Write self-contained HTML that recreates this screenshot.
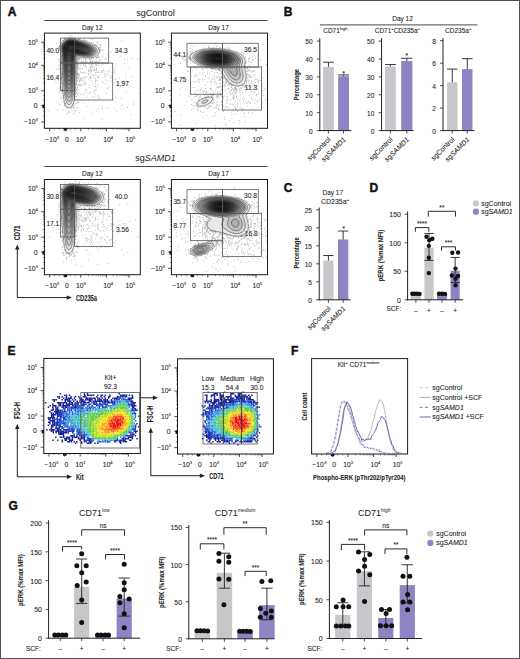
<!DOCTYPE html>
<html><head><meta charset="utf-8"><style>
html,body{margin:0;padding:0;background:#fff;}
svg{display:block;font-family:"Liberation Sans", sans-serif;}
text{stroke:#2a2a2a;stroke-width:0.08px;}
</style></head><body>
<svg width="520" height="659" viewBox="0 0 520 659">
<defs><clipPath id="c01"><rect x="44.4" y="33.1" width="95.9" height="95.20000000000002"/></clipPath><clipPath id="c02"><rect x="171.4" y="33.1" width="96.1" height="95.20000000000002"/></clipPath><clipPath id="c11"><rect x="44.4" y="179.5" width="95.9" height="95.20000000000005"/></clipPath><clipPath id="c12"><rect x="171.4" y="179.5" width="96.1" height="95.20000000000005"/></clipPath><clipPath id="ce1"><rect x="43.8" y="358.4" width="96.50000000000001" height="95.10000000000002"/></clipPath><clipPath id="ce2"><rect x="177.5" y="358.8" width="95.89999999999998" height="95.19999999999999"/></clipPath></defs>
<rect x="0" y="0" width="520" height="659" fill="#fff"/>
<text x="7.70" y="16.00" font-size="12" text-anchor="start" font-weight="bold" fill="#111" style="stroke:#111;stroke-width:0.45px">A</text>
<text x="155.60" y="16.30" font-size="9" text-anchor="middle" style="stroke:none" fill="#222" >sgControl</text>
<line x1="44.40" y1="20.50" x2="267.50" y2="20.50" stroke="#333" stroke-width="0.9" />
<text x="155.60" y="161.40" font-size="9" text-anchor="middle" style="stroke:none" fill="#222" >sg<tspan font-style="italic">SAMD1</tspan></text>
<line x1="44.40" y1="166.50" x2="267.50" y2="166.50" stroke="#333" stroke-width="0.9" />
<text x="92.30" y="29.60" font-size="6.5" text-anchor="middle" fill="#222" >Day 12</text>
<path d="M59.3,49.2h0.8M91.8,67.6h0.8M104.8,76.9h0.8M93.0,70.9h0.8M91.0,42.6h0.8M95.0,81.4h0.8M98.8,57.0h0.8M115.6,67.5h0.8M90.2,77.7h0.8M84.5,40.6h0.8M85.2,61.8h0.8M108.4,87.6h0.8M93.5,100.9h0.8M60.8,89.8h0.8M96.3,65.3h0.8M58.0,59.6h0.8M104.6,59.2h0.8M93.3,75.8h0.8M59.7,88.4h0.8M81.3,78.3h0.8M89.9,71.9h0.8M68.4,110.8h0.8M75.3,96.8h0.8M56.3,43.3h0.8M95.2,86.2h0.8M95.9,68.9h0.8M59.9,62.7h0.8M74.4,38.1h0.8M94.8,93.9h0.8M98.1,99.1h0.8M81.9,94.0h0.8M126.8,59.6h0.8M89.2,87.7h0.8M60.7,61.7h0.8M87.4,106.5h0.8M83.4,63.4h0.8M95.7,69.6h0.8M93.0,58.5h0.8M110.6,62.3h0.8M81.7,85.2h0.8M80.9,59.2h0.8M77.5,101.7h0.8M86.3,77.2h0.8M75.4,112.0h0.8M111.9,67.7h0.8M76.2,96.6h0.8M92.3,60.6h0.8M95.6,80.7h0.8M97.6,108.9h0.8M78.5,85.2h0.8M95.6,64.7h0.8M58.9,69.3h0.8M90.5,71.1h0.8M80.1,85.7h0.8M97.3,63.6h0.8M119.0,78.0h0.8M96.0,57.6h0.8M88.4,63.3h0.8M58.8,68.0h0.8M107.1,88.5h0.8M123.3,109.2h0.8M96.3,111.2h0.8M77.3,85.9h0.8M84.3,62.6h0.8M60.4,63.2h0.8M90.2,68.5h0.8M114.2,72.3h0.8M95.8,89.8h0.8M76.5,88.8h0.8M77.7,74.4h0.8M65.9,107.0h0.8M96.2,61.2h0.8M97.7,61.9h0.8M78.4,59.7h0.8M98.5,71.9h0.8M94.6,87.1h0.8M76.5,93.8h0.8M83.5,76.0h0.8M61.2,87.2h0.8M73.5,103.4h0.8M60.2,77.0h0.8M83.1,61.4h0.8M98.9,59.4h0.8M85.5,40.5h0.8M95.3,65.0h0.8M90.7,67.3h0.8M88.8,79.6h0.8M59.7,58.7h0.8M63.1,95.8h0.8M57.8,75.8h0.8M90.7,68.1h0.8M84.7,73.4h0.8M91.6,58.0h0.8M85.6,76.7h0.8M97.3,43.0h0.8M86.6,40.7h0.8M60.7,73.5h0.8M77.4,73.8h0.8M78.0,64.1h0.8M76.1,93.1h0.8M67.8,36.1h0.8M98.0,62.3h0.8M75.7,103.6h0.8M94.4,75.6h0.8M110.5,81.1h0.8M58.9,91.9h0.8M83.8,40.6h0.8M97.5,58.3h0.8M101.0,71.3h0.8M77.0,90.9h0.8M90.4,73.2h0.8M58.0,80.5h0.8M64.3,39.6h0.8M73.8,114.2h0.8M77.8,74.0h0.8M115.3,97.4h0.8M99.6,46.9h0.8M81.8,68.5h0.8M60.3,71.9h0.8M102.1,57.1h0.8M65.8,114.2h0.8M70.1,108.0h0.8M90.3,61.3h0.8M76.9,80.6h0.8M79.8,38.7h0.8M73.6,107.2h0.8M80.2,86.0h0.8M59.9,83.9h0.8M82.8,72.3h0.8M60.4,56.5h0.8M97.5,57.1h0.8M83.8,58.8h0.8M97.2,84.9h0.8M85.0,77.9h0.8M104.5,76.7h0.8M59.9,105.0h0.8M59.3,86.7h0.8M94.5,77.8h0.8M83.5,64.8h0.8M105.5,84.1h0.8M91.3,80.6h0.8M115.6,64.0h0.8M71.3,35.9h0.8M110.7,52.1h0.8M126.0,91.7h0.8M93.0,91.9h0.8M137.9,93.1h0.8M92.0,97.2h0.8M91.6,70.4h0.8M79.4,80.5h0.8M76.8,83.3h0.8M97.7,77.6h0.8M102.2,62.8h0.8M81.2,78.3h0.8M96.0,70.3h0.8M89.5,67.9h0.8M62.4,40.4h0.8M75.5,110.1h0.8M61.4,100.9h0.8M64.0,105.6h0.8M90.2,92.4h0.8M100.5,49.9h0.8M76.3,92.3h0.8M85.4,82.6h0.8M128.8,68.4h0.8M86.5,62.4h0.8M98.6,56.4h0.8M58.0,65.3h0.8M77.9,38.6h0.8M58.2,75.2h0.8M77.6,102.8h0.8M96.8,57.5h0.8M77.4,76.7h0.8M60.2,79.4h0.8M136.9,59.2h0.8M89.9,70.7h0.8M89.0,93.2h0.8M95.1,89.6h0.8M95.1,78.8h0.8M94.5,81.1h0.8M99.0,49.1h0.8M119.9,86.4h0.8M100.0,45.5h0.8M70.0,37.3h0.8M97.6,96.1h0.8M78.5,39.0h0.8M89.7,75.8h0.8M59.2,46.3h0.8M79.4,39.4h0.8M117.7,89.8h0.8M57.0,109.4h0.8M69.7,112.4h0.8M71.9,37.4h0.8M90.2,62.1h0.8M113.4,69.4h0.8M84.1,83.7h0.8M85.4,89.9h0.8M89.5,85.4h0.8M75.3,94.4h0.8M77.0,107.4h0.8M106.2,58.9h0.8M76.2,83.9h0.8M55.7,69.5h0.8M82.3,72.5h0.8M92.5,69.3h0.8M60.9,83.5h0.8M77.3,87.7h0.8M96.1,68.1h0.8M61.8,88.8h0.8M99.6,98.2h0.8M80.3,94.3h0.8M81.2,63.8h0.8M73.6,105.4h0.8M79.8,77.8h0.8M58.2,47.5h0.8M98.1,65.4h0.8M57.3,69.1h0.8M88.8,69.9h0.8M73.2,104.1h0.8M97.4,57.8h0.8M64.5,104.2h0.8M83.2,118.0h0.8M59.6,65.2h0.8M108.1,107.6h0.8M79.1,85.2h0.8M94.6,44.8h0.8M101.6,81.1h0.8M64.6,103.6h0.8M64.1,38.0h0.8M58.0,60.2h0.8M60.3,45.3h0.8M96.3,45.4h0.8M76.4,108.0h0.8M75.3,91.9h0.8M120.9,56.2h0.8M78.6,80.0h0.8M73.6,108.1h0.8M85.4,65.9h0.8M104.4,74.1h0.8M61.0,91.5h0.8M105.5,108.6h0.8M48.6,110.9h0.8M82.5,59.2h0.8M91.6,66.3h0.8M90.5,77.5h0.8M79.4,58.1h0.8M92.0,82.9h0.8M100.8,65.2h0.8M92.2,63.7h0.8M58.9,104.3h0.8M91.1,58.1h0.8M79.4,68.4h0.8M131.4,58.3h0.8M88.9,64.6h0.8M116.4,85.1h0.8M59.4,62.5h0.8M95.6,62.4h0.8M60.1,48.5h0.8M73.0,113.1h0.8M68.4,112.3h0.8M102.0,108.7h0.8M79.4,58.5h0.8M89.8,78.1h0.8M77.6,102.4h0.8M85.0,64.1h0.8M60.3,87.9h0.8M60.2,80.1h0.8M91.5,57.9h0.8M84.2,81.2h0.8M122.0,105.2h0.8M59.9,86.4h0.8M88.3,100.3h0.8M79.8,84.7h0.8M73.8,110.4h0.8M85.3,59.8h0.8M93.4,66.8h0.8M77.1,74.0h0.8M125.8,75.2h0.8M58.1,47.4h0.8M99.8,50.2h0.8M94.4,70.1h0.8M86.2,90.4h0.8M93.9,70.0h0.8M77.0,94.6h0.8M77.8,67.1h0.8M77.3,78.5h0.8M66.3,109.0h0.8M133.5,101.8h0.8M96.1,65.0h0.8M93.4,63.8h0.8M133.1,104.3h0.8M99.4,50.1h0.8M130.5,114.7h0.8M96.5,61.6h0.8M64.9,38.0h0.8M89.1,58.1h0.8M96.0,45.7h0.8M91.9,39.5h0.8M95.3,72.4h0.8M98.0,76.8h0.8M107.5,73.3h0.8M90.9,70.6h0.8M99.6,44.5h0.8M60.8,97.6h0.8M112.6,65.9h0.8M99.7,44.8h0.8M129.8,86.7h0.8M83.3,81.2h0.8M89.8,61.8h0.8M80.4,65.6h0.8M97.0,57.7h0.8M84.5,72.2h0.8M82.2,67.9h0.8M101.1,72.4h0.8M90.3,59.6h0.8M90.8,113.8h0.8M104.1,74.8h0.8M99.3,62.1h0.8M121.0,40.9h0.8M125.6,78.6h0.8M76.2,89.9h0.8M81.4,84.0h0.8M74.7,38.1h0.8M115.7,79.0h0.8M93.3,85.7h0.8M106.8,54.3h0.8M99.8,49.2h0.8M79.4,76.6h0.8M101.8,70.8h0.8M61.0,78.3h0.8M67.3,113.3h0.8M59.7,68.3h0.8M86.7,61.0h0.8M60.1,71.1h0.8M80.9,61.6h0.8M88.4,69.1h0.8M77.4,73.2h0.8M49.7,77.5h0.8M60.7,60.6h0.8M102.7,64.2h0.8M60.6,77.0h0.8M112.4,78.9h0.8M54.8,81.5h0.8M97.9,42.0h0.8M78.2,58.3h0.8M94.4,96.2h0.8M76.9,77.7h0.8M98.0,72.4h0.8M63.0,102.5h0.8M102.6,50.3h0.8M101.5,119.1h0.8M114.9,79.9h0.8M103.2,70.3h0.8M93.4,42.1h0.8M91.2,64.8h0.8M83.5,79.0h0.8M81.1,80.4h0.8M94.2,91.4h0.8M77.8,74.6h0.8M72.9,108.3h0.8M78.0,79.1h0.8M85.4,59.0h0.8M67.1,107.7h0.8M91.0,62.8h0.8M106.5,75.1h0.8M62.0,85.0h0.8M100.0,47.4h0.8M97.7,95.8h0.8M80.9,73.0h0.8M84.9,92.3h0.8M55.1,48.9h0.8M121.9,81.6h0.8M77.8,99.3h0.8M95.9,42.8h0.8M76.7,78.6h0.8M86.3,97.5h0.8M71.4,106.9h0.8M58.9,46.6h0.8M75.5,99.7h0.8M71.6,107.3h0.8M77.5,61.4h0.8M57.5,82.9h0.8M75.0,33.4h0.8M80.4,79.9h0.8M60.2,44.6h0.8M76.0,99.9h0.8M90.6,61.1h0.8M95.5,59.4h0.8M78.5,81.7h0.8M77.9,64.3h0.8M63.3,96.3h0.8M79.6,68.9h0.8M103.5,70.3h0.8M61.9,83.0h0.8M104.9,71.9h0.8M62.4,40.1h0.8M78.0,84.6h0.8M97.5,77.3h0.8M78.6,93.2h0.8M89.1,59.4h0.8M88.1,74.4h0.8M78.0,58.5h0.8M60.1,46.8h0.8M95.3,74.5h0.8M77.3,73.3h0.8M62.4,91.2h0.8M111.4,76.8h0.8M87.7,58.2h0.8M78.4,59.0h0.8M79.8,79.4h0.8M78.3,65.4h0.8M60.0,49.0h0.8M100.0,51.1h0.8M97.3,45.1h0.8M99.5,48.0h0.8M78.5,68.9h0.8M99.5,60.2h0.8M85.5,84.4h0.8M89.6,61.1h0.8M88.1,70.7h0.8M106.1,93.1h0.8M127.0,107.5h0.8M79.1,60.5h0.8M113.5,108.5h0.8M59.3,45.5h0.8M98.5,47.7h0.8M96.4,72.0h0.8M91.5,74.9h0.8M85.1,60.4h0.8M102.0,50.0h0.8M84.3,84.2h0.8M88.2,71.6h0.8M105.1,79.9h0.8M102.7,82.4h0.8M78.9,38.5h0.8M92.0,61.3h0.8M78.4,95.8h0.8M81.0,61.1h0.8M96.9,80.2h0.8M95.2,62.1h0.8M70.9,108.8h0.8M69.9,34.8h0.8M102.5,53.0h0.8M83.4,66.0h0.8M97.2,57.4h0.8M79.0,112.6h0.8M80.2,72.0h0.8M83.4,95.1h0.8M77.7,59.0h0.8M78.7,75.3h0.8M107.6,71.6h0.8M60.7,55.8h0.8M109.9,77.8h0.8M79.1,74.3h0.8M74.7,103.9h0.8M94.9,83.5h0.8M60.3,98.4h0.8M83.5,39.4h0.8M81.3,63.0h0.8M90.9,65.6h0.8M116.0,110.9h0.8M107.3,80.8h0.8M108.9,70.4h0.8M59.5,48.0h0.8M97.2,75.7h0.8M101.8,72.2h0.8M59.5,89.1h0.8M94.0,67.3h0.8M58.5,42.1h0.8M74.0,101.4h0.8M73.4,106.2h0.8M90.9,77.9h0.8M131.4,76.8h0.8M94.6,61.9h0.8M93.6,61.3h0.8M123.1,80.7h0.8M81.5,80.2h0.8M89.9,77.3h0.8M85.7,66.7h0.8M110.1,75.7h0.8M64.6,103.6h0.8M62.7,98.2h0.8M94.8,44.8h0.8M96.1,57.3h0.8M83.1,65.3h0.8M87.5,93.0h0.8M72.4,105.9h0.8M82.7,77.6h0.8M120.6,98.5h0.8M60.6,93.3h0.8M114.3,70.9h0.8M79.9,58.2h0.8M102.6,55.9h0.8M59.6,42.6h0.8M82.6,62.0h0.8M77.8,89.5h0.8M124.0,63.8h0.8M77.9,38.0h0.8M62.7,109.7h0.8M77.1,87.6h0.8M96.7,86.4h0.8M77.9,76.0h0.8M90.2,66.3h0.8M79.7,67.0h0.8M114.3,82.4h0.8M92.4,65.0h0.8M78.4,77.6h0.8M82.3,100.9h0.8M59.8,72.8h0.8M102.2,106.1h0.8M85.0,66.0h0.8M79.4,82.0h0.8M63.8,105.9h0.8M61.6,89.6h0.8M96.8,72.4h0.8M111.7,72.4h0.8M87.6,73.1h0.8M98.0,56.1h0.8M100.4,60.3h0.8M123.9,58.9h0.8" stroke="#a0a0a0" stroke-width="0.8" fill="none" clip-path="url(#c01)"/>
<g clip-path="url(#c01)" fill="#000" fill-opacity="0.075" stroke="#2a2a2a" stroke-width="0.5" stroke-linejoin="round"><path d="M70.6,49.6 69.9,49.6 69.6,49.5 69.2,49.3 68.9,48.9 68.6,48.3 68.5,47.9 68.5,47.3 68.6,46.9 68.9,46.5 69.2,46.1 69.6,45.8 70.1,45.6 70.6,45.5 71.2,45.4 71.9,45.5 72.5,45.6 72.9,45.8 73.6,46.2 73.9,46.5 74.2,46.9 74.1,47.6 73.9,47.9 73.5,48.3 73.1,48.6 72.6,48.9 72.2,49.1 71.8,49.3 71.2,49.5 70.7,49.6"/><path d="M70.9,50.7 70.2,50.9 69.6,50.9 68.9,50.6 68.6,50.3 68.2,50.0 68.0,49.6 67.8,49.3 67.6,48.6 67.6,48.2 67.6,47.6 67.6,47.3 67.8,46.6 68.0,46.3 68.2,45.9 68.6,45.5 68.9,45.3 69.5,44.9 69.9,44.8 70.6,44.7 71.2,44.6 71.9,44.7 72.6,44.8 73.2,44.9 73.6,45.1 74.0,45.3 74.6,45.5 74.9,45.8 75.2,46.0 75.9,46.6 76.1,46.9 76.2,47.6 75.9,48.1 75.6,48.4 75.2,48.6 74.7,48.9 74.2,49.1 73.9,49.3 73.3,49.6 72.9,49.8 72.6,49.9 71.9,50.3 71.6,50.4 71.1,50.6"/><path d="M70.2,52.0 69.6,52.1 68.9,51.9 68.4,51.6 68.1,51.3 67.9,50.9 67.6,50.5 67.3,49.9 67.2,49.6 67.0,48.9 66.9,48.3 66.9,47.9 66.9,47.5 67.0,46.9 67.2,46.3 67.4,45.9 67.6,45.6 67.9,45.3 68.3,44.9 68.8,44.6 69.2,44.4 69.7,44.3 70.2,44.1 70.9,44.1 71.6,44.1 72.2,44.1 72.9,44.3 73.2,44.3 73.9,44.5 74.2,44.7 74.9,44.9 75.2,45.1 75.6,45.3 76.1,45.6 76.6,45.9 76.9,46.1 77.2,46.4 77.6,46.7 77.9,47.1 78.2,47.6 78.2,47.9 78.1,48.3 77.8,48.6 77.2,48.9 76.9,49.1 76.3,49.3 75.9,49.4 75.3,49.6 74.9,49.7 74.4,49.9 73.9,50.1 73.6,50.3 72.9,50.6 72.6,50.8 72.2,50.9 71.6,51.3 71.2,51.5 70.9,51.7 70.3,51.9"/><path d="M69.9,53.4 69.2,53.6 68.6,53.3 68.2,52.9 68.0,52.6 67.8,52.3 67.6,51.9 67.2,51.3 67.0,50.9 66.9,50.6 66.7,49.9 66.6,49.6 66.4,48.9 66.3,48.3 66.4,47.6 66.4,46.9 66.6,46.5 66.8,45.9 67.0,45.6 67.2,45.3 67.6,44.9 67.9,44.6 68.4,44.3 68.9,44.0 69.2,43.9 69.9,43.7 70.6,43.6 70.9,43.6 71.5,43.6 71.9,43.6 72.6,43.7 73.2,43.8 73.6,43.9 74.2,44.1 74.6,44.3 75.2,44.5 75.6,44.6 76.2,44.9 76.6,45.1 76.9,45.3 77.4,45.6 77.9,45.9 78.2,46.1 78.6,46.3 78.9,46.6 79.3,46.9 79.7,47.3 80.0,47.6 80.2,48.0 80.3,48.6 80.1,48.9 79.7,49.3 79.2,49.4 78.7,49.6 78.2,49.7 77.6,49.8 76.9,49.9 76.2,50.1 75.6,50.2 75.2,50.3 74.6,50.5 74.2,50.6 73.6,50.9 73.2,51.1 72.9,51.3 72.4,51.6 71.9,51.9 71.6,52.2 71.2,52.4 70.9,52.7 70.6,53.0 70.1,53.3"/><path d="M69.6,55.7 68.9,55.9 68.5,55.6 68.2,55.2 68.0,54.6 67.8,54.3 67.6,53.7 67.4,53.3 67.2,52.9 67.0,52.3 66.9,51.9 66.6,51.3 66.5,50.9 66.3,50.3 66.2,49.9 66.0,49.3 65.9,48.6 65.9,48.0 65.9,47.9 65.9,47.3 66.1,46.6 66.2,46.2 66.5,45.6 66.7,45.3 67.0,44.9 67.3,44.6 67.7,44.3 68.2,43.9 68.6,43.7 68.9,43.6 69.6,43.4 70.2,43.3 70.9,43.2 71.6,43.2 72.1,43.3 72.6,43.3 73.2,43.5 73.9,43.6 74.2,43.7 74.9,43.9 75.2,44.0 75.8,44.3 76.2,44.4 76.6,44.6 77.2,44.9 77.6,45.1 77.9,45.3 78.5,45.6 78.9,45.8 79.2,46.0 79.7,46.3 80.2,46.6 80.6,46.9 80.9,47.1 81.2,47.4 81.6,47.7 81.9,48.1 82.2,48.6 82.1,49.3 81.8,49.6 81.2,49.9 80.9,50.0 80.2,50.2 79.6,50.3 79.2,50.3 78.6,50.4 77.9,50.4 77.2,50.5 76.6,50.6 76.2,50.6 75.6,50.8 74.9,50.9 74.6,51.1 74.1,51.3 73.6,51.5 73.2,51.7 72.9,51.9 72.4,52.3 72.0,52.6 71.7,52.9 71.4,53.3 71.1,53.6 70.8,53.9 70.6,54.3 70.2,54.8 69.9,55.3 69.6,55.6"/><path d="M68.9,58.3 68.6,58.1 68.2,57.8 67.9,57.3 67.8,56.9 67.6,56.4 67.4,55.9 67.3,55.3 67.2,54.9 67.0,54.3 66.9,53.8 66.8,53.3 66.6,52.6 66.4,52.3 66.2,51.6 66.1,51.3 65.9,50.6 65.8,50.3 65.7,49.6 65.6,48.9 65.5,48.6 65.5,47.9 65.6,47.3 65.6,46.9 65.8,46.3 65.9,45.9 66.2,45.3 66.5,44.9 66.8,44.6 67.1,44.3 67.5,43.9 67.9,43.7 68.2,43.5 68.8,43.3 69.2,43.1 69.9,43.0 70.2,42.9 70.9,42.9 71.6,42.9 72.1,42.9 72.6,43.0 73.2,43.1 73.9,43.3 74.2,43.4 74.9,43.6 75.2,43.7 75.9,43.9 76.2,44.0 76.8,44.3 77.2,44.5 77.6,44.6 78.2,44.9 78.6,45.1 78.9,45.3 79.5,45.6 79.9,45.8 80.2,46.0 80.7,46.3 81.2,46.6 81.6,46.8 81.9,47.0 82.3,47.3 82.7,47.6 83.1,47.9 83.4,48.3 83.6,48.6 83.8,49.3 83.6,49.8 83.2,50.1 82.9,50.3 82.2,50.5 81.9,50.6 81.2,50.7 80.6,50.8 79.9,50.9 79.2,50.9 78.6,50.9 77.9,50.9 77.2,51.0 76.6,51.1 75.9,51.2 75.4,51.3 74.9,51.4 74.4,51.6 73.9,51.9 73.6,52.0 73.2,52.3 72.8,52.6 72.4,52.9 72.1,53.3 71.9,53.6 71.6,54.1 71.3,54.6 71.1,54.9 70.9,55.5 70.7,55.9 70.6,56.4 70.3,56.9 70.2,57.3 69.9,57.7 69.6,58.1 69.0,58.3"/><path d="M69.6,60.0 68.9,60.1 68.4,59.9 68.1,59.6 67.8,59.3 67.6,58.9 67.3,58.3 67.2,57.9 67.0,57.3 66.9,56.9 66.8,56.3 66.7,55.6 66.6,55.0 66.5,54.6 66.4,53.9 66.2,53.4 66.1,52.9 66.0,52.3 65.9,51.9 65.7,51.3 65.6,50.8 65.4,50.3 65.3,49.6 65.2,49.2 65.2,48.6 65.1,47.9 65.2,47.3 65.2,46.9 65.4,46.3 65.6,45.8 65.8,45.3 66.0,44.9 66.3,44.6 66.6,44.3 66.9,43.9 67.4,43.6 67.9,43.3 68.6,43.0 68.9,42.9 69.6,42.7 70.2,42.6 70.6,42.6 71.2,42.6 71.9,42.6 72.2,42.6 72.9,42.7 73.6,42.8 73.9,42.9 74.6,43.1 75.1,43.3 75.6,43.4 76.1,43.6 76.6,43.8 77.0,43.9 77.6,44.2 77.9,44.3 78.5,44.6 78.9,44.8 79.2,44.9 79.9,45.3 80.2,45.4 80.6,45.6 81.2,45.9 81.6,46.1 81.9,46.3 82.4,46.6 82.9,46.9 83.2,47.1 83.6,47.3 84.0,47.6 84.4,47.9 84.7,48.3 85.0,48.6 85.2,49.1 85.3,49.6 85.2,50.0 84.9,50.4 84.6,50.6 83.9,50.9 83.6,51.0 82.9,51.2 82.4,51.3 81.9,51.3 81.2,51.4 80.6,51.4 79.9,51.4 79.2,51.4 78.6,51.4 77.9,51.4 77.2,51.5 76.6,51.5 76.0,51.6 75.6,51.7 74.9,51.9 74.6,52.0 74.1,52.3 73.6,52.6 73.2,52.9 72.9,53.2 72.6,53.6 72.3,53.9 72.1,54.3 71.9,54.8 71.7,55.3 71.6,55.6 71.4,56.3 71.2,56.8 71.1,57.3 70.9,57.8 70.7,58.3 70.6,58.6 70.2,59.2 70.0,59.6 69.6,59.9"/><path d="M69.6,62.0 68.9,62.2 68.4,61.9 68.0,61.6 67.8,61.3 67.6,60.9 67.2,60.3 67.1,59.9 66.9,59.5 66.7,58.9 66.6,58.4 66.5,57.9 66.3,57.3 66.2,56.7 66.2,56.3 66.1,55.6 66.0,54.9 65.9,54.4 65.8,53.9 65.7,53.3 65.6,52.6 65.5,52.3 65.3,51.6 65.2,51.2 65.1,50.6 65.0,49.9 64.9,49.6 64.8,48.9 64.8,48.3 64.8,47.6 64.9,46.9 64.9,46.6 65.1,45.9 65.2,45.6 65.6,45.0 65.8,44.6 66.1,44.3 66.4,43.9 66.7,43.6 67.2,43.3 67.6,43.0 67.9,42.9 68.5,42.6 68.9,42.5 69.6,42.3 70.1,42.3 70.6,42.2 71.2,42.2 71.9,42.3 72.2,42.3 72.9,42.4 73.6,42.5 74.0,42.6 74.6,42.7 75.2,42.9 75.6,43.0 76.2,43.3 76.6,43.4 77.1,43.6 77.6,43.8 78.0,43.9 78.6,44.2 78.9,44.3 79.5,44.6 79.9,44.8 80.3,44.9 80.9,45.2 81.2,45.4 81.7,45.6 82.2,45.9 82.6,46.0 83.0,46.3 83.6,46.6 83.9,46.7 84.2,46.9 84.8,47.3 85.2,47.6 85.7,47.9 86.0,48.3 86.3,48.6 86.6,49.0 86.8,49.6 86.7,50.3 86.5,50.6 86.2,50.9 85.6,51.3 85.2,51.4 84.6,51.6 84.2,51.7 83.6,51.8 82.9,51.9 82.2,51.9 81.8,51.9 81.2,51.9 80.6,51.9 80.2,51.9 79.6,51.9 78.9,51.9 78.2,51.9 77.6,51.9 77.0,51.9 76.6,52.0 75.9,52.1 75.3,52.3 74.9,52.4 74.5,52.6 74.0,52.9 73.6,53.3 73.2,53.6 73.0,53.9 72.8,54.3 72.6,54.7 72.3,55.3 72.2,55.6 72.0,56.3 71.9,56.7 71.8,57.3 71.6,57.9 71.5,58.3 71.3,58.9 71.2,59.3 70.9,59.9 70.8,60.3 70.6,60.7 70.2,61.3 70.0,61.6 69.6,61.9"/><path d="M69.2,66.0 68.7,65.9 68.5,65.6 68.2,65.1 68.1,64.6 67.9,64.2 67.7,63.6 67.5,63.3 67.3,62.6 67.2,62.3 66.9,61.6 66.8,61.3 66.6,60.6 66.5,60.3 66.3,59.6 66.2,59.3 66.0,58.6 65.9,57.9 65.8,57.6 65.8,56.9 65.7,56.3 65.6,55.6 65.6,55.3 65.5,54.6 65.4,53.9 65.3,53.3 65.2,52.9 65.1,52.3 64.9,51.6 64.9,51.3 64.7,50.6 64.6,49.9 64.5,49.6 64.5,48.9 64.4,48.3 64.4,47.6 64.5,46.9 64.6,46.6 64.7,45.9 64.9,45.5 65.2,44.9 65.4,44.6 65.6,44.3 65.9,43.9 66.2,43.6 66.6,43.3 67.1,42.9 67.6,42.7 67.9,42.5 68.5,42.3 68.9,42.2 69.6,42.0 70.2,41.9 70.6,41.9 71.2,41.9 71.6,41.9 72.2,42.0 72.9,42.1 73.6,42.2 74.2,42.3 74.9,42.5 75.2,42.6 75.9,42.8 76.3,42.9 76.9,43.1 77.2,43.3 77.9,43.5 78.2,43.7 78.9,43.9 79.2,44.1 79.7,44.3 80.2,44.5 80.6,44.6 81.2,44.9 81.6,45.1 82.0,45.3 82.6,45.5 82.9,45.7 83.5,45.9 83.9,46.2 84.2,46.3 84.8,46.6 85.2,46.9 85.6,47.1 85.9,47.3 86.4,47.6 86.8,47.9 87.2,48.3 87.5,48.6 87.7,48.9 87.9,49.3 88.1,49.9 88.0,50.6 87.8,50.9 87.5,51.3 86.9,51.6 86.6,51.8 86.1,51.9 85.6,52.1 84.9,52.2 84.6,52.3 83.9,52.4 83.2,52.4 82.6,52.4 81.9,52.4 81.2,52.4 80.6,52.4 79.9,52.4 79.2,52.3 78.6,52.3 77.9,52.3 77.2,52.3 76.6,52.4 75.9,52.5 75.6,52.6 74.9,52.9 74.6,53.1 74.2,53.3 73.9,53.6 73.6,54.0 73.2,54.5 73.0,54.9 72.9,55.3 72.6,55.9 72.5,56.3 72.4,56.9 72.2,57.6 72.2,57.9 72.0,58.6 71.9,59.0 71.7,59.6 71.6,60.2 71.4,60.6 71.2,61.2 71.1,61.6 70.9,62.1 70.7,62.6 70.6,63.0 70.3,63.6 70.2,63.9 69.9,64.6 69.8,64.9 69.6,65.5 69.3,65.9"/><path d="M69.2,72.3 68.8,72.3 68.5,71.9 68.2,71.4 68.1,70.9 67.9,70.3 67.8,69.9 67.7,69.3 67.6,68.6 67.5,68.3 67.5,67.6 67.4,66.9 67.3,66.3 67.2,65.8 67.2,65.3 67.1,64.6 66.9,63.9 66.9,63.6 66.7,62.9 66.6,62.4 66.4,61.9 66.3,61.3 66.2,60.9 66.0,60.3 65.9,59.8 65.8,59.3 65.6,58.6 65.6,58.2 65.5,57.6 65.4,56.9 65.3,56.3 65.3,55.6 65.2,55.3 65.2,54.6 65.1,53.9 65.0,53.3 64.9,52.9 64.8,52.3 64.6,51.6 64.6,51.2 64.4,50.6 64.3,49.9 64.2,49.3 64.2,48.9 64.2,48.3 64.2,47.6 64.2,47.0 64.3,46.6 64.5,45.9 64.6,45.6 64.9,44.9 65.1,44.6 65.3,44.3 65.6,43.9 65.9,43.6 66.2,43.2 66.6,42.9 67.1,42.6 67.6,42.4 67.9,42.2 68.6,42.0 68.9,41.9 69.6,41.8 70.2,41.7 70.9,41.7 71.6,41.7 72.2,41.8 72.9,41.8 73.4,41.9 73.9,42.0 74.6,42.2 74.9,42.3 75.6,42.5 76.0,42.6 76.6,42.8 77.0,42.9 77.6,43.1 77.9,43.3 78.6,43.5 78.9,43.6 79.6,43.9 79.9,44.0 80.4,44.3 80.9,44.5 81.2,44.6 81.9,44.9 82.2,45.0 82.8,45.3 83.2,45.5 83.6,45.6 84.2,45.9 84.6,46.1 84.9,46.3 85.6,46.6 85.9,46.8 86.2,47.0 86.7,47.3 87.2,47.6 87.6,47.9 87.9,48.2 88.2,48.5 88.6,48.9 88.8,49.3 88.9,49.6 89.0,50.3 88.9,50.7 88.6,51.3 88.2,51.6 87.9,51.8 87.6,52.0 86.9,52.3 86.6,52.4 85.9,52.5 85.4,52.6 84.9,52.7 84.2,52.7 83.6,52.8 82.9,52.8 82.2,52.8 81.6,52.8 80.9,52.7 80.2,52.7 79.6,52.7 78.9,52.6 78.2,52.6 77.6,52.6 76.9,52.7 76.2,52.8 75.6,52.9 75.2,53.1 74.9,53.3 74.4,53.6 74.1,53.9 73.8,54.3 73.6,54.6 73.2,55.3 73.1,55.6 72.9,56.3 72.8,56.6 72.7,57.3 72.6,57.8 72.5,58.3 72.3,58.9 72.2,59.3 72.1,59.9 71.9,60.6 71.8,60.9 71.7,61.6 71.5,62.3 71.3,62.9 71.2,63.3 71.1,63.9 70.9,64.6 70.9,64.9 70.8,65.6 70.7,66.3 70.6,66.9 70.6,67.4 70.5,67.9 70.4,68.6 70.3,69.3 70.2,69.7 70.1,70.3 69.9,70.9 69.8,71.3 69.6,71.9 69.3,72.3"/><path d="M69.2,76.8 68.6,76.6 68.4,76.3 68.2,75.9 67.9,75.3 67.8,74.9 67.6,74.3 67.6,73.9 67.4,73.3 67.3,72.6 67.2,72.3 67.1,71.6 67.0,70.9 66.9,70.3 66.9,69.9 66.8,69.3 66.7,68.6 66.7,67.9 66.6,67.3 66.6,66.7 66.5,66.3 66.5,65.6 66.4,64.9 66.3,64.3 66.2,63.6 66.2,63.3 66.1,62.6 65.9,61.9 65.8,61.6 65.7,60.9 65.6,60.3 65.4,59.6 65.3,58.9 65.2,58.4 65.2,57.9 65.1,57.3 65.0,56.6 65.0,55.9 64.9,55.3 64.9,54.9 64.8,54.3 64.7,53.6 64.6,52.9 64.5,52.6 64.4,51.9 64.3,51.3 64.2,50.9 64.1,50.3 64.0,49.6 63.9,48.9 63.9,48.4 63.9,47.9 63.9,47.6 64.0,46.9 64.1,46.3 64.2,45.8 64.4,45.3 64.6,44.9 64.9,44.4 65.2,43.9 65.5,43.6 65.8,43.3 66.2,42.9 66.6,42.7 66.9,42.4 67.2,42.3 67.9,42.0 68.2,41.8 68.9,41.7 69.2,41.6 69.9,41.5 70.6,41.5 71.2,41.5 71.9,41.5 72.6,41.6 72.9,41.6 73.6,41.7 74.2,41.9 74.6,41.9 75.2,42.1 75.7,42.3 76.2,42.4 76.8,42.6 77.2,42.7 77.8,42.9 78.2,43.1 78.7,43.3 79.2,43.5 79.6,43.6 80.2,43.9 80.6,44.0 81.2,44.3 81.6,44.4 82.0,44.6 82.6,44.8 82.9,45.0 83.6,45.2 83.9,45.4 84.4,45.6 84.9,45.8 85.2,46.0 85.8,46.3 86.2,46.5 86.6,46.7 87.0,46.9 87.5,47.3 87.9,47.5 88.2,47.8 88.6,48.1 88.9,48.4 89.2,48.7 89.6,49.2 89.7,49.6 89.9,50.3 89.8,50.9 89.6,51.3 89.2,51.7 88.9,52.0 88.4,52.3 87.9,52.5 87.6,52.6 86.9,52.8 86.2,52.9 85.9,53.0 85.2,53.1 84.6,53.1 83.9,53.1 83.2,53.1 82.6,53.1 81.9,53.1 81.2,53.1 80.6,53.0 79.9,53.0 79.2,53.0 78.6,52.9 78.2,52.9 77.8,52.9 77.2,53.0 76.6,53.0 75.9,53.2 75.6,53.3 75.0,53.6 74.6,53.9 74.2,54.3 74.0,54.6 73.8,54.9 73.6,55.4 73.4,55.9 73.2,56.4 73.1,56.9 73.0,57.6 72.9,58.0 72.8,58.6 72.7,59.3 72.6,59.7 72.4,60.3 72.3,60.9 72.2,61.3 72.1,61.9 71.9,62.6 71.9,62.9 71.8,63.6 71.7,64.3 71.6,64.9 71.6,65.3 71.5,65.9 71.4,66.6 71.4,67.3 71.3,67.9 71.3,68.6 71.2,69.1 71.2,69.6 71.1,70.3 71.0,70.9 70.9,71.6 70.8,71.9 70.7,72.6 70.6,73.3 70.5,73.6 70.4,74.3 70.2,74.7 70.1,75.3 69.9,75.7 69.6,76.3 69.4,76.6"/><path d="M69.2,80.9 68.8,80.9 68.5,80.6 68.1,79.9 67.9,79.5 67.7,78.9 67.6,78.4 67.5,77.9 67.3,77.3 67.2,76.9 67.1,76.3 67.0,75.6 66.9,75.3 66.8,74.6 66.7,73.9 66.6,73.3 66.5,72.9 66.4,72.3 66.3,71.6 66.3,70.9 66.2,70.6 66.2,69.9 66.1,69.3 66.1,68.6 66.0,67.9 66.0,67.3 65.9,66.6 65.9,66.1 65.9,65.6 65.8,64.9 65.8,64.3 65.7,63.6 65.6,62.9 65.5,62.6 65.4,61.9 65.3,61.3 65.2,60.7 65.2,60.3 65.0,59.6 64.9,58.9 64.9,58.6 64.8,57.9 64.7,57.3 64.7,56.6 64.6,55.9 64.6,55.3 64.5,54.9 64.5,54.3 64.4,53.6 64.3,52.9 64.2,52.6 64.1,51.9 64.0,51.3 63.9,50.7 63.8,50.3 63.7,49.6 63.7,48.9 63.6,48.3 63.6,47.6 63.7,46.9 63.8,46.3 63.9,45.9 64.1,45.3 64.3,44.9 64.6,44.4 64.9,43.9 65.1,43.6 65.4,43.3 65.8,42.9 66.2,42.6 66.6,42.3 66.9,42.1 67.3,41.9 67.9,41.7 68.2,41.6 68.9,41.4 69.6,41.3 69.9,41.2 70.6,41.2 71.2,41.2 71.9,41.3 72.2,41.3 72.9,41.4 73.6,41.5 74.1,41.6 74.6,41.7 75.2,41.9 75.6,42.0 76.2,42.1 76.6,42.3 77.2,42.5 77.6,42.6 78.2,42.8 78.6,42.9 79.2,43.2 79.6,43.3 80.2,43.6 80.6,43.7 81.2,43.9 81.6,44.1 82.0,44.3 82.6,44.5 82.9,44.6 83.6,44.9 83.9,45.0 84.5,45.3 84.9,45.4 85.3,45.6 85.9,45.9 86.2,46.0 86.7,46.3 87.2,46.6 87.6,46.8 87.9,47.0 88.4,47.3 88.9,47.6 89.2,47.9 89.6,48.2 89.9,48.6 90.2,48.9 90.4,49.3 90.6,49.6 90.8,50.3 90.7,50.9 90.6,51.3 90.2,51.8 89.9,52.1 89.6,52.4 89.1,52.6 88.6,52.8 88.2,53.0 87.6,53.1 87.0,53.3 86.6,53.3 85.9,53.4 85.2,53.5 84.6,53.5 83.9,53.5 83.2,53.5 82.6,53.5 81.9,53.5 81.2,53.4 80.6,53.4 79.9,53.3 79.2,53.3 78.8,53.3 78.2,53.3 77.6,53.3 77.2,53.3 76.6,53.4 75.9,53.6 75.6,53.7 75.2,53.9 74.8,54.3 74.5,54.6 74.2,54.9 73.9,55.6 73.8,55.9 73.6,56.6 73.5,56.9 73.3,57.6 73.2,58.2 73.2,58.6 73.0,59.3 72.9,59.9 72.9,60.3 72.7,60.9 72.6,61.6 72.6,61.9 72.5,62.6 72.4,63.3 72.3,63.9 72.2,64.4 72.2,64.9 72.1,65.6 72.1,66.3 72.1,66.9 72.0,67.6 72.0,68.3 71.9,68.9 71.9,69.3 71.8,69.9 71.8,70.6 71.7,71.3 71.6,71.9 71.6,72.3 71.5,72.9 71.4,73.6 71.3,74.3 71.2,74.6 71.1,75.3 71.0,75.9 70.9,76.4 70.8,76.9 70.6,77.6 70.5,77.9 70.4,78.6 70.2,79.1 70.0,79.6 69.9,80.0 69.6,80.6 69.2,80.9"/><path d="M69.2,85.2 68.6,85.0 68.3,84.6 68.1,84.3 67.9,83.8 67.7,83.3 67.6,82.8 67.4,82.3 67.3,81.6 67.2,81.3 67.0,80.6 66.9,79.9 66.8,79.6 66.7,78.9 66.6,78.3 66.5,77.9 66.4,77.3 66.3,76.6 66.2,75.9 66.2,75.6 66.1,74.9 66.0,74.3 65.9,73.6 65.9,73.3 65.8,72.6 65.7,71.9 65.7,71.3 65.6,70.6 65.6,70.2 65.5,69.6 65.5,68.9 65.4,68.3 65.4,67.6 65.4,66.9 65.3,66.3 65.3,65.6 65.3,64.9 65.2,64.5 65.2,63.9 65.1,63.3 65.1,62.6 65.0,61.9 64.9,61.4 64.8,60.9 64.7,60.3 64.6,59.6 64.6,59.1 64.5,58.6 64.4,57.9 64.4,57.3 64.3,56.6 64.3,55.9 64.2,55.4 64.2,54.9 64.1,54.3 64.1,53.6 64.0,52.9 63.9,52.5 63.8,51.9 63.7,51.3 63.6,50.6 63.5,50.3 63.4,49.6 63.4,48.9 63.3,48.3 63.3,47.6 63.4,46.9 63.5,46.3 63.6,45.9 63.8,45.3 64.0,44.9 64.2,44.4 64.5,43.9 64.8,43.6 65.0,43.3 65.4,42.9 65.7,42.6 66.2,42.3 66.6,42.0 66.9,41.8 67.3,41.6 67.9,41.4 68.3,41.3 68.9,41.1 69.6,41.0 70.2,41.0 70.9,40.9 71.6,41.0 72.2,41.0 72.9,41.1 73.6,41.2 73.9,41.3 74.6,41.4 75.2,41.6 75.6,41.7 76.2,41.9 76.6,42.0 77.2,42.2 77.6,42.3 78.2,42.5 78.6,42.6 79.2,42.9 79.6,43.0 80.2,43.2 80.6,43.4 81.2,43.6 81.6,43.7 82.1,43.9 82.6,44.1 83.0,44.3 83.6,44.5 83.9,44.6 84.6,44.9 84.9,45.0 85.5,45.3 85.9,45.5 86.2,45.6 86.9,45.9 87.2,46.1 87.6,46.3 88.2,46.6 88.6,46.8 88.9,47.0 89.3,47.3 89.7,47.6 90.1,47.9 90.5,48.3 90.8,48.6 91.1,48.9 91.3,49.3 91.6,49.9 91.6,50.3 91.6,50.9 91.5,51.3 91.2,51.9 90.9,52.2 90.6,52.5 90.2,52.7 89.9,52.9 89.2,53.2 88.9,53.3 88.2,53.5 87.9,53.6 87.2,53.7 86.6,53.8 85.9,53.9 85.2,53.9 84.6,53.9 83.9,53.9 83.2,53.9 82.6,53.9 81.9,53.8 81.2,53.8 80.6,53.7 79.9,53.7 79.2,53.6 78.6,53.6 78.2,53.6 77.9,53.6 77.2,53.6 76.6,53.8 76.0,53.9 75.6,54.2 75.2,54.4 74.9,54.7 74.6,55.1 74.3,55.6 74.2,55.9 74.0,56.6 73.9,56.9 73.7,57.6 73.6,58.3 73.6,58.6 73.4,59.3 73.3,59.9 73.2,60.6 73.2,60.9 73.1,61.6 73.0,62.3 72.9,62.9 72.9,63.3 72.8,63.9 72.8,64.6 72.7,65.3 72.7,65.9 72.7,66.6 72.6,67.3 72.6,67.9 72.6,68.3 72.5,68.9 72.5,69.6 72.4,70.3 72.4,70.9 72.3,71.6 72.2,72.2 72.2,72.6 72.1,73.3 72.0,73.9 71.9,74.6 71.9,74.9 71.8,75.6 71.7,76.3 71.6,76.9 71.6,77.3 71.4,77.9 71.3,78.6 71.2,79.2 71.2,79.6 71.0,80.3 70.9,80.9 70.8,81.3 70.7,81.9 70.6,82.3 70.4,82.9 70.2,83.4 70.0,83.9 69.7,84.6 69.5,84.9"/><path d="M69.2,89.2 68.6,89.0 68.2,88.6 68.1,88.3 67.9,87.9 67.7,87.3 67.5,86.9 67.4,86.3 67.2,85.8 67.1,85.3 67.0,84.6 66.9,84.3 66.8,83.6 66.6,82.9 66.6,82.6 66.5,81.9 66.3,81.3 66.2,80.6 66.2,80.3 66.1,79.6 66.0,78.9 65.9,78.3 65.9,77.9 65.8,77.3 65.7,76.6 65.6,75.9 65.6,75.6 65.5,74.9 65.4,74.3 65.3,73.6 65.3,72.9 65.2,72.6 65.2,71.9 65.1,71.3 65.0,70.6 65.0,69.9 64.9,69.3 64.9,68.6 64.9,68.3 64.9,67.6 64.8,66.9 64.8,66.3 64.8,65.6 64.7,64.9 64.7,64.3 64.7,63.6 64.6,62.9 64.6,62.5 64.5,61.9 64.4,61.3 64.4,60.6 64.3,59.9 64.2,59.6 64.2,58.9 64.1,58.3 64.0,57.6 64.0,56.9 63.9,56.3 63.9,55.6 63.9,55.3 63.8,54.6 63.8,53.9 63.7,53.3 63.6,52.6 63.5,52.3 63.4,51.6 63.3,50.9 63.2,50.4 63.2,49.9 63.1,49.3 63.0,48.6 63.0,47.9 63.1,47.3 63.2,46.6 63.2,46.2 63.4,45.6 63.6,45.1 63.8,44.6 64.0,44.3 64.2,43.8 64.6,43.4 64.9,43.0 65.2,42.6 65.6,42.3 65.9,42.1 66.2,41.9 66.7,41.6 67.2,41.3 67.6,41.2 68.2,41.0 68.6,40.9 69.2,40.8 69.9,40.7 70.6,40.7 71.2,40.7 71.9,40.7 72.6,40.8 73.2,40.9 73.6,41.0 74.2,41.1 74.9,41.2 75.2,41.3 75.9,41.5 76.3,41.6 76.9,41.8 77.4,41.9 77.9,42.1 78.4,42.3 78.9,42.4 79.4,42.6 79.9,42.8 80.3,42.9 80.9,43.1 81.2,43.3 81.9,43.5 82.2,43.6 82.9,43.9 83.2,44.0 83.9,44.3 84.2,44.4 84.8,44.6 85.2,44.8 85.7,44.9 86.2,45.2 86.6,45.3 87.2,45.6 87.6,45.8 88.2,46.1 88.6,46.3 89.1,46.6 89.6,46.9 89.9,47.1 90.2,47.3 90.6,47.6 91.0,47.9 91.3,48.3 91.6,48.6 91.9,48.9 92.2,49.5 92.4,49.9 92.5,50.6 92.5,51.3 92.2,51.8 91.9,52.3 91.6,52.6 91.2,52.9 90.9,53.1 90.6,53.3 89.9,53.6 89.6,53.7 88.9,53.9 88.6,54.0 87.9,54.1 87.2,54.2 86.6,54.3 86.2,54.3 85.6,54.3 84.9,54.3 84.2,54.3 83.6,54.3 83.1,54.3 82.6,54.2 81.9,54.2 81.2,54.1 80.6,54.1 79.9,54.0 79.2,54.0 78.6,53.9 77.9,54.0 77.2,54.0 76.6,54.2 76.2,54.3 75.7,54.6 75.3,54.9 75.0,55.3 74.8,55.6 74.6,56.0 74.4,56.6 74.2,57.1 74.1,57.6 74.0,58.3 73.9,58.9 73.8,59.3 73.7,59.9 73.7,60.6 73.6,61.3 73.5,61.6 73.5,62.3 73.4,62.9 73.3,63.6 73.3,64.3 73.3,64.9 73.2,65.5 73.2,65.9 73.2,66.6 73.2,67.3 73.1,67.9 73.1,68.6 73.1,69.3 73.0,69.9 73.0,70.6 72.9,71.3 72.9,71.6 72.8,72.3 72.7,72.9 72.7,73.6 72.6,74.3 72.6,74.6 72.5,75.3 72.4,75.9 72.3,76.6 72.2,77.3 72.2,77.6 72.1,78.3 72.0,78.9 71.9,79.6 71.9,79.9 71.8,80.6 71.7,81.3 71.6,81.8 71.5,82.3 71.4,82.9 71.3,83.6 71.2,83.9 71.0,84.6 70.9,85.3 70.8,85.6 70.6,86.3 70.6,86.6 70.3,87.3 70.2,87.6 69.9,88.3 69.8,88.6 69.5,88.9"/><path d="M69.2,93.4 68.6,93.3 68.3,92.9 68.1,92.6 67.9,92.2 67.6,91.6 67.5,91.3 67.3,90.6 67.2,90.3 67.1,89.6 66.9,89.0 66.8,88.6 66.7,87.9 66.6,87.4 66.5,86.9 66.4,86.3 66.2,85.6 66.2,85.3 66.1,84.6 66.0,83.9 65.9,83.4 65.8,82.9 65.7,82.3 65.6,81.6 65.6,81.0 65.5,80.6 65.4,79.9 65.3,79.3 65.3,78.6 65.2,78.3 65.1,77.6 65.1,76.9 65.0,76.3 64.9,75.6 64.9,75.3 64.8,74.6 64.7,73.9 64.7,73.3 64.6,72.6 64.6,72.0 64.5,71.6 64.5,70.9 64.4,70.3 64.4,69.6 64.3,68.9 64.3,68.3 64.3,67.6 64.3,66.9 64.2,66.3 64.2,65.9 64.2,65.3 64.2,64.6 64.2,63.9 64.1,63.3 64.1,62.6 64.0,61.9 64.0,61.3 63.9,60.6 63.9,60.3 63.8,59.6 63.7,58.9 63.7,58.3 63.6,57.6 63.6,56.9 63.6,56.5 63.5,55.9 63.5,55.3 63.4,54.6 63.4,53.9 63.3,53.3 63.2,52.7 63.2,52.3 63.1,51.6 63.0,50.9 62.9,50.6 62.8,49.9 62.7,49.3 62.7,48.6 62.7,47.9 62.7,47.3 62.8,46.6 62.9,46.1 63.0,45.6 63.2,45.0 63.4,44.6 63.6,44.3 63.9,43.7 64.2,43.3 64.5,42.9 64.8,42.6 65.1,42.3 65.5,41.9 65.9,41.7 66.2,41.5 66.6,41.3 67.2,41.0 67.6,40.8 68.2,40.6 68.6,40.6 69.2,40.4 69.9,40.4 70.6,40.4 71.2,40.4 71.9,40.4 72.6,40.5 73.2,40.6 73.6,40.6 74.2,40.8 74.9,40.9 75.2,41.0 75.9,41.2 76.2,41.3 76.9,41.5 77.4,41.6 77.9,41.8 78.4,41.9 78.9,42.1 79.4,42.3 79.9,42.4 80.4,42.6 80.9,42.8 81.3,42.9 81.9,43.1 82.3,43.3 82.9,43.5 83.6,43.7 84.2,43.9 84.6,44.1 85.1,44.3 85.6,44.4 86.0,44.6 86.6,44.8 86.9,45.0 87.6,45.3 87.9,45.4 88.3,45.6 88.9,45.9 89.2,46.1 89.6,46.3 90.2,46.6 90.6,46.9 90.9,47.1 91.2,47.3 91.6,47.6 92.0,47.9 92.3,48.3 92.6,48.6 92.9,49.0 93.2,49.6 93.3,49.9 93.5,50.6 93.4,51.3 93.2,51.9 93.1,52.3 92.8,52.6 92.5,52.9 92.1,53.3 91.6,53.6 91.2,53.8 90.8,53.9 90.2,54.2 89.8,54.3 89.2,54.4 88.6,54.5 88.2,54.6 87.6,54.7 86.9,54.7 86.2,54.8 85.6,54.8 84.9,54.8 84.2,54.7 83.6,54.7 82.9,54.7 82.2,54.6 81.9,54.6 81.2,54.5 80.6,54.5 79.9,54.4 79.2,54.4 78.6,54.3 77.9,54.4 77.2,54.5 76.7,54.6 76.2,54.8 75.9,55.0 75.6,55.3 75.2,55.7 75.0,56.3 74.8,56.6 74.6,57.3 74.6,57.6 74.4,58.3 74.3,58.9 74.2,59.6 74.2,59.9 74.1,60.6 74.0,61.3 74.0,61.9 73.9,62.6 73.9,63.0 73.9,63.6 73.8,64.3 73.8,64.9 73.8,65.6 73.8,66.3 73.7,66.9 73.7,67.6 73.7,68.3 73.7,68.9 73.6,69.6 73.6,70.3 73.5,70.6 73.5,71.3 73.4,71.9 73.4,72.6 73.3,73.3 73.3,73.9 73.2,74.3 73.1,74.9 73.1,75.6 73.0,76.3 72.9,76.9 72.9,77.3 72.8,77.9 72.7,78.6 72.7,79.3 72.6,79.9 72.5,80.3 72.4,80.9 72.4,81.6 72.3,82.3 72.2,82.6 72.1,83.3 72.0,83.9 71.9,84.6 71.9,84.9 71.8,85.6 71.6,86.3 71.6,86.7 71.5,87.3 71.3,87.9 71.2,88.4 71.1,88.9 71.0,89.6 70.9,89.9 70.7,90.6 70.6,91.0 70.4,91.6 70.2,91.9 69.9,92.6 69.7,92.9 69.4,93.3"/><path d="M69.6,97.3 68.9,97.6 68.4,97.3 68.1,96.9 67.9,96.6 67.6,95.9 67.5,95.6 67.2,95.0 67.1,94.6 66.9,93.9 66.8,93.6 66.7,92.9 66.6,92.4 66.5,91.9 66.3,91.3 66.2,90.8 66.1,90.3 66.0,89.6 65.9,88.9 65.9,88.6 65.8,87.9 65.6,87.3 65.6,86.7 65.5,86.3 65.4,85.6 65.3,84.9 65.2,84.3 65.1,83.6 65.1,82.9 65.0,82.3 64.9,81.6 64.9,81.3 64.8,80.6 64.7,79.9 64.6,79.3 64.6,78.6 64.5,78.3 64.5,77.6 64.4,76.9 64.3,76.3 64.3,75.6 64.2,75.3 64.2,74.6 64.1,73.9 64.0,73.3 64.0,72.6 63.9,71.9 63.9,71.5 63.9,70.9 63.8,70.3 63.8,69.6 63.7,68.9 63.7,68.3 63.7,67.6 63.6,66.9 63.6,66.3 63.6,65.6 63.6,64.9 63.6,64.3 63.6,63.7 63.6,63.3 63.5,62.6 63.5,61.9 63.4,61.3 63.4,60.6 63.3,59.9 63.3,59.3 63.2,58.6 63.2,58.3 63.2,57.6 63.1,56.9 63.1,56.3 63.1,55.6 63.0,54.9 63.0,54.3 62.9,53.6 62.9,53.3 62.8,52.6 62.7,51.9 62.6,51.3 62.5,50.9 62.4,50.3 62.4,49.6 62.3,48.9 62.3,48.3 62.3,47.6 62.4,46.9 62.5,46.3 62.6,45.8 62.7,45.3 62.9,44.8 63.1,44.3 63.3,43.9 63.6,43.5 63.9,43.0 64.2,42.6 64.5,42.3 64.9,41.9 65.2,41.7 65.6,41.4 65.9,41.2 66.4,40.9 66.9,40.7 67.2,40.5 67.9,40.3 68.2,40.2 68.9,40.1 69.6,40.0 70.2,40.0 70.9,40.0 71.6,40.0 72.2,40.1 72.9,40.2 73.4,40.3 73.9,40.4 74.6,40.5 75.0,40.6 75.6,40.7 76.2,40.9 76.6,41.0 77.2,41.2 77.6,41.3 78.2,41.5 78.6,41.6 79.2,41.8 79.6,41.9 80.2,42.1 80.6,42.3 81.2,42.5 81.6,42.6 82.2,42.8 82.6,42.9 83.2,43.1 83.6,43.3 84.2,43.5 84.6,43.6 85.2,43.8 85.6,44.0 86.2,44.2 86.6,44.3 87.2,44.6 87.6,44.7 88.1,44.9 88.6,45.1 88.9,45.3 89.5,45.6 89.9,45.8 90.2,46.0 90.8,46.3 91.2,46.5 91.6,46.8 91.9,47.0 92.3,47.3 92.7,47.6 93.0,47.9 93.3,48.3 93.6,48.6 93.9,49.0 94.2,49.6 94.4,49.9 94.5,50.6 94.5,51.3 94.4,51.9 94.2,52.3 93.9,52.8 93.6,53.1 93.2,53.5 92.9,53.7 92.6,53.9 91.9,54.3 91.6,54.4 91.1,54.6 90.6,54.8 89.9,54.9 89.6,55.0 88.9,55.1 88.2,55.2 87.6,55.2 87.0,55.3 86.6,55.3 85.9,55.3 85.2,55.3 84.9,55.3 84.2,55.2 83.6,55.2 82.9,55.1 82.2,55.1 81.6,55.0 80.9,55.0 80.6,54.9 79.9,54.9 79.2,54.8 78.6,54.8 77.9,54.9 77.4,54.9 76.9,55.1 76.5,55.3 76.1,55.6 75.8,55.9 75.5,56.3 75.3,56.9 75.1,57.3 75.0,57.9 74.9,58.4 74.8,58.9 74.7,59.6 74.7,60.3 74.6,60.9 74.6,61.3 74.5,61.9 74.5,62.6 74.5,63.3 74.4,63.9 74.4,64.6 74.4,65.3 74.4,65.9 74.4,66.6 74.3,67.3 74.3,67.9 74.3,68.6 74.3,69.3 74.2,69.6 74.2,70.3 74.1,70.9 74.1,71.6 74.0,72.3 74.0,72.9 73.9,73.6 73.9,73.9 73.8,74.6 73.8,75.3 73.7,75.9 73.6,76.6 73.6,77.3 73.5,77.6 73.5,78.3 73.4,78.9 73.3,79.6 73.2,80.3 73.2,80.6 73.1,81.3 73.1,81.9 73.0,82.6 72.9,83.2 72.9,83.6 72.8,84.3 72.7,84.9 72.6,85.6 72.5,85.9 72.4,86.6 72.4,87.3 72.3,87.9 72.2,88.3 72.1,88.9 72.0,89.6 71.9,90.1 71.8,90.6 71.7,91.3 71.6,91.8 71.5,92.3 71.3,92.9 71.2,93.3 71.1,93.9 70.9,94.6 70.8,94.9 70.6,95.6 70.4,95.9 70.2,96.4 69.9,96.9 69.6,97.3"/><path d="M69.2,101.3 68.7,101.3 68.2,101.0 67.9,100.7 67.6,100.3 67.4,99.9 67.2,99.5 67.0,98.9 66.9,98.6 66.7,97.9 66.6,97.6 66.4,96.9 66.2,96.3 66.2,95.9 66.0,95.3 65.9,94.7 65.8,94.3 65.7,93.6 65.6,92.9 65.5,92.6 65.4,91.9 65.3,91.3 65.2,90.6 65.2,90.3 65.1,89.6 65.0,88.9 64.9,88.3 64.9,87.9 64.8,87.3 64.7,86.6 64.6,85.9 64.6,85.5 64.5,84.9 64.4,84.3 64.3,83.6 64.3,82.9 64.2,82.6 64.2,81.9 64.1,81.3 64.0,80.6 64.0,79.9 63.9,79.4 63.9,78.9 63.8,78.3 63.7,77.6 63.7,76.9 63.6,76.3 63.6,75.9 63.5,75.3 63.4,74.6 63.4,73.9 63.3,73.3 63.3,72.6 63.2,72.0 63.2,71.6 63.2,70.9 63.1,70.3 63.1,69.6 63.0,68.9 63.0,68.3 63.0,67.6 63.0,66.9 62.9,66.3 62.9,65.6 62.9,64.9 62.9,64.3 62.9,63.6 62.9,63.2 62.9,62.6 62.9,61.9 62.8,61.3 62.8,60.6 62.8,59.9 62.7,59.3 62.7,58.6 62.7,57.9 62.6,57.3 62.6,56.6 62.6,55.9 62.6,55.6 62.5,54.9 62.5,54.3 62.4,53.6 62.3,52.9 62.3,52.3 62.2,51.9 62.1,51.3 62.0,50.6 61.9,49.9 61.9,49.6 61.8,48.9 61.8,48.3 61.8,47.6 61.9,46.9 61.9,46.6 62.0,45.9 62.2,45.3 62.3,44.9 62.6,44.3 62.8,43.9 62.9,43.6 63.2,43.1 63.6,42.7 63.9,42.3 64.2,41.9 64.6,41.6 64.9,41.3 65.2,41.1 65.6,40.8 66.0,40.6 66.6,40.3 66.9,40.2 67.6,39.9 67.9,39.9 68.6,39.7 69.2,39.6 69.6,39.6 70.2,39.6 70.9,39.6 71.6,39.6 71.9,39.6 72.6,39.7 73.2,39.8 73.9,39.9 74.2,40.0 74.9,40.1 75.4,40.3 75.9,40.4 76.6,40.5 76.9,40.6 77.6,40.8 77.9,40.9 78.6,41.1 79.0,41.3 79.6,41.4 80.1,41.6 80.6,41.7 81.1,41.9 81.6,42.1 82.2,42.3 82.6,42.4 83.2,42.6 83.6,42.7 84.2,42.9 84.6,43.0 85.2,43.3 85.6,43.4 86.2,43.6 86.6,43.7 87.1,43.9 87.6,44.1 88.0,44.3 88.6,44.5 88.9,44.6 89.6,44.9 89.9,45.1 90.3,45.3 90.9,45.6 91.2,45.7 91.6,45.9 92.1,46.3 92.6,46.5 92.9,46.8 93.2,47.0 93.6,47.3 93.9,47.6 94.2,47.9 94.6,48.3 94.9,48.7 95.2,49.3 95.4,49.6 95.6,50.1 95.7,50.6 95.7,51.3 95.6,51.9 95.5,52.3 95.2,52.8 94.9,53.3 94.6,53.6 94.2,53.9 93.8,54.3 93.2,54.6 92.9,54.8 92.5,54.9 91.9,55.2 91.6,55.3 90.9,55.5 90.2,55.6 89.9,55.7 89.2,55.8 88.6,55.8 87.9,55.9 87.2,55.9 86.6,55.9 85.9,55.9 85.2,55.9 84.6,55.8 83.9,55.8 83.2,55.7 82.6,55.7 82.0,55.6 81.6,55.6 80.9,55.5 80.2,55.4 79.6,55.4 78.9,55.4 78.2,55.4 77.6,55.5 77.2,55.6 76.7,55.9 76.4,56.3 76.1,56.6 75.9,57.0 75.7,57.6 75.6,58.0 75.5,58.6 75.4,59.3 75.3,59.9 75.2,60.5 75.2,60.9 75.2,61.6 75.1,62.3 75.1,62.9 75.1,63.6 75.1,64.3 75.1,64.9 75.1,65.6 75.1,66.3 75.0,66.9 75.0,67.6 75.0,68.3 75.0,68.9 74.9,69.6 74.9,70.1 74.9,70.6 74.8,71.3 74.8,71.9 74.7,72.6 74.7,73.3 74.6,73.9 74.6,74.4 74.5,74.9 74.5,75.6 74.4,76.3 74.3,76.9 74.3,77.6 74.2,78.0 74.2,78.6 74.1,79.3 74.0,79.9 74.0,80.6 73.9,81.3 73.9,81.6 73.8,82.3 73.7,82.9 73.7,83.6 73.6,84.3 73.5,84.6 73.5,85.3 73.4,85.9 73.3,86.6 73.2,87.2 73.2,87.6 73.1,88.3 73.0,88.9 72.9,89.6 72.9,89.9 72.8,90.6 72.7,91.3 72.6,91.9 72.5,92.3 72.4,92.9 72.3,93.6 72.2,93.9 72.1,94.6 72.0,95.3 71.9,95.7 71.8,96.3 71.6,96.9 71.5,97.3 71.3,97.9 71.2,98.3 71.0,98.9 70.9,99.3 70.6,99.9 70.4,100.3 70.2,100.6 69.9,100.9 69.3,101.3"/><path d="M69.9,104.3 69.2,104.6 68.6,104.5 68.0,104.3 67.6,103.9 67.3,103.6 67.0,103.3 66.8,102.9 66.6,102.5 66.3,101.9 66.2,101.6 66.0,100.9 65.9,100.6 65.7,99.9 65.6,99.5 65.4,98.9 65.3,98.3 65.2,97.9 65.1,97.3 65.0,96.6 64.9,96.0 64.8,95.6 64.7,94.9 64.6,94.3 64.6,93.8 64.5,93.3 64.4,92.6 64.3,91.9 64.2,91.3 64.2,90.9 64.1,90.3 64.0,89.6 63.9,88.9 63.9,88.5 63.8,87.9 63.8,87.3 63.7,86.6 63.6,85.9 63.6,85.5 63.5,84.9 63.4,84.3 63.4,83.6 63.3,82.9 63.2,82.3 63.2,81.9 63.1,81.3 63.1,80.6 63.0,79.9 63.0,79.3 62.9,78.7 62.9,78.3 62.8,77.6 62.7,76.9 62.7,76.3 62.6,75.6 62.6,74.9 62.5,74.6 62.5,73.9 62.4,73.3 62.4,72.6 62.3,71.9 62.3,71.3 62.2,70.6 62.2,70.3 62.2,69.6 62.1,68.9 62.1,68.3 62.1,67.6 62.1,66.9 62.1,66.3 62.1,65.6 62.1,64.9 62.1,64.3 62.1,63.6 62.1,62.9 62.0,62.3 62.0,61.6 62.0,60.9 62.0,60.3 62.0,59.6 62.0,58.9 62.0,58.3 61.9,57.6 61.9,56.9 61.9,56.3 61.9,55.9 61.9,55.3 61.8,54.6 61.8,53.9 61.7,53.3 61.6,52.6 61.6,52.1 61.5,51.6 61.4,50.9 61.3,50.3 61.2,49.6 61.2,49.3 61.2,48.6 61.2,47.9 61.2,47.3 61.2,46.9 61.3,46.3 61.5,45.6 61.6,45.2 61.8,44.6 61.9,44.2 62.2,43.6 62.4,43.3 62.6,42.9 62.9,42.5 63.2,42.0 63.6,41.7 63.9,41.3 64.2,41.0 64.6,40.7 64.9,40.5 65.3,40.3 65.9,39.9 66.2,39.8 66.6,39.6 67.2,39.4 67.7,39.3 68.2,39.1 68.9,39.0 69.6,39.0 70.2,39.0 70.9,39.0 71.6,39.0 72.2,39.1 72.9,39.2 73.4,39.3 73.9,39.3 74.6,39.5 75.1,39.6 75.6,39.7 76.2,39.9 76.6,40.0 77.2,40.1 77.7,40.3 78.2,40.4 78.9,40.6 79.2,40.7 79.9,40.9 80.2,41.0 80.9,41.2 81.2,41.3 81.9,41.5 82.2,41.6 82.9,41.8 83.3,41.9 83.9,42.1 84.4,42.3 84.9,42.4 85.5,42.6 85.9,42.7 86.5,42.9 86.9,43.1 87.5,43.3 87.9,43.4 88.4,43.6 88.9,43.8 89.3,43.9 89.9,44.2 90.2,44.3 90.9,44.6 91.6,44.9 91.9,45.1 92.3,45.3 92.9,45.6 93.2,45.8 93.6,46.0 93.9,46.3 94.4,46.6 94.8,46.9 95.2,47.3 95.5,47.6 95.8,47.9 96.1,48.3 96.3,48.6 96.6,49.0 96.9,49.6 97.0,49.9 97.2,50.6 97.2,51.3 97.2,51.9 97.0,52.6 96.8,52.9 96.6,53.4 96.2,53.8 95.9,54.2 95.6,54.5 95.2,54.8 94.9,55.0 94.4,55.3 93.9,55.5 93.6,55.7 92.9,55.9 92.6,56.1 91.9,56.2 91.6,56.3 90.9,56.4 90.2,56.5 89.7,56.6 89.2,56.6 88.6,56.7 87.9,56.7 87.2,56.7 86.6,56.7 85.9,56.7 85.2,56.6 84.7,56.6 84.2,56.6 83.6,56.5 82.9,56.4 82.2,56.4 81.6,56.3 81.2,56.2 80.6,56.2 79.9,56.1 79.2,56.1 78.6,56.2 78.1,56.3 77.6,56.5 77.2,56.7 76.9,57.1 76.6,57.6 76.5,57.9 76.3,58.6 76.2,58.9 76.1,59.6 76.0,60.3 76.0,60.9 76.0,61.6 76.0,62.3 76.0,62.9 75.9,63.6 75.9,64.3 75.9,64.9 75.9,65.6 75.9,66.3 75.9,66.9 75.9,67.6 75.9,67.9 75.9,68.6 75.8,69.3 75.8,69.9 75.8,70.6 75.7,71.3 75.7,71.9 75.6,72.6 75.6,73.3 75.5,73.6 75.5,74.3 75.4,74.9 75.4,75.6 75.3,76.3 75.3,76.9 75.2,77.3 75.2,77.9 75.1,78.6 75.0,79.3 75.0,79.9 74.9,80.6 74.9,80.9 74.8,81.6 74.8,82.3 74.7,82.9 74.6,83.6 74.6,84.2 74.5,84.6 74.5,85.3 74.4,85.9 74.3,86.6 74.2,87.3 74.2,87.6 74.1,88.3 74.1,88.9 74.0,89.6 73.9,90.2 73.9,90.6 73.8,91.3 73.7,91.9 73.6,92.6 73.6,92.9 73.5,93.6 73.4,94.3 73.3,94.9 73.2,95.3 73.1,95.9 73.0,96.6 72.9,97.2 72.8,97.6 72.7,98.3 72.6,98.9 72.5,99.3 72.3,99.9 72.2,100.3 72.0,100.9 71.9,101.3 71.7,101.9 71.5,102.3 71.2,102.8 71.0,103.3 70.7,103.6 70.4,103.9 70.0,104.3"/><path d="M70.2,107.6 69.6,107.9 68.9,107.9 68.2,107.8 67.7,107.6 67.2,107.3 66.9,107.1 66.6,106.7 66.2,106.4 65.9,105.9 65.7,105.6 65.5,105.3 65.2,104.7 65.1,104.3 64.9,103.8 64.7,103.3 64.6,102.8 64.4,102.3 64.2,101.6 64.2,101.3 64.0,100.6 63.9,99.9 63.8,99.6 63.7,98.9 63.6,98.3 63.6,97.8 63.5,97.3 63.4,96.6 63.3,95.9 63.2,95.4 63.2,94.9 63.1,94.3 63.0,93.6 62.9,92.9 62.9,92.6 62.8,91.9 62.7,91.3 62.7,90.6 62.6,89.9 62.6,89.5 62.5,88.9 62.4,88.3 62.4,87.6 62.3,86.9 62.2,86.3 62.2,85.9 62.1,85.3 62.1,84.6 62.0,83.9 61.9,83.3 61.9,82.7 61.9,82.3 61.8,81.6 61.7,80.9 61.7,80.3 61.6,79.6 61.6,79.0 61.5,78.6 61.5,77.9 61.4,77.3 61.4,76.6 61.3,75.9 61.2,75.3 61.2,74.9 61.2,74.3 61.1,73.6 61.1,72.9 61.0,72.3 61.0,71.6 60.9,70.9 60.9,70.3 60.8,69.6 60.8,68.9 60.8,68.3 60.8,67.6 60.7,66.9 60.7,66.3 60.7,65.6 60.7,64.9 60.7,64.3 60.8,63.6 60.8,62.9 60.8,62.3 60.8,61.6 60.8,60.9 60.8,60.3 60.8,59.6 60.8,58.9 60.8,58.3 60.8,57.6 60.8,56.9 60.8,56.3 60.8,55.6 60.8,54.9 60.7,54.3 60.7,53.6 60.6,52.9 60.6,52.4 60.5,51.9 60.4,51.3 60.3,50.6 60.3,49.9 60.2,49.6 60.2,48.9 60.2,48.3 60.2,47.6 60.2,46.9 60.2,46.6 60.3,45.9 60.5,45.3 60.6,44.9 60.8,44.3 60.9,43.9 61.2,43.3 61.4,42.9 61.6,42.6 61.9,42.1 62.2,41.6 62.5,41.3 62.8,40.9 63.1,40.6 63.5,40.3 63.9,40.0 64.2,39.7 64.6,39.5 64.9,39.3 65.6,38.9 65.9,38.8 66.4,38.6 66.9,38.4 67.5,38.3 67.9,38.2 68.6,38.1 69.2,38.0 69.9,38.0 70.6,38.0 71.2,38.0 71.9,38.1 72.6,38.2 73.1,38.3 73.6,38.4 74.2,38.5 74.8,38.6 75.2,38.7 75.9,38.8 76.2,38.9 76.9,39.1 77.6,39.3 77.9,39.3 78.6,39.5 78.9,39.6 79.6,39.8 80.1,39.9 80.6,40.1 81.2,40.3 81.6,40.4 82.2,40.5 82.6,40.6 83.2,40.8 83.6,40.9 84.2,41.1 84.8,41.3 85.2,41.4 85.9,41.6 86.2,41.7 86.9,41.9 87.2,42.0 87.9,42.2 88.2,42.3 88.9,42.5 89.2,42.6 89.9,42.8 90.2,43.0 90.9,43.2 91.2,43.3 91.8,43.6 92.2,43.8 92.6,43.9 93.2,44.2 93.6,44.4 94.0,44.6 94.6,44.9 94.9,45.1 95.2,45.3 95.6,45.6 96.1,45.9 96.5,46.3 96.9,46.6 97.2,46.9 97.6,47.2 97.9,47.6 98.2,47.9 98.4,48.3 98.6,48.6 98.9,49.2 99.1,49.6 99.2,50.0 99.4,50.6 99.4,51.3 99.4,51.9 99.3,52.6 99.2,52.9 98.9,53.6 98.7,53.9 98.5,54.3 98.2,54.6 97.9,55.0 97.6,55.3 97.2,55.6 96.8,55.9 96.2,56.3 95.9,56.5 95.6,56.6 94.9,56.9 94.6,57.0 93.9,57.3 93.6,57.4 92.9,57.5 92.6,57.6 91.9,57.7 91.2,57.8 90.6,57.9 90.1,57.9 89.6,58.0 88.9,58.0 88.2,58.0 87.6,58.0 86.9,58.0 86.6,57.9 85.9,57.9 85.2,57.8 84.6,57.8 83.9,57.7 83.2,57.6 82.9,57.6 82.2,57.5 81.6,57.4 80.9,57.4 80.2,57.3 79.6,57.4 78.9,57.5 78.6,57.7 78.2,57.9 77.9,58.3 77.6,58.9 77.5,59.3 77.3,59.9 77.3,60.6 77.2,61.3 77.2,61.6 77.2,62.3 77.2,62.9 77.2,63.3 77.2,63.9 77.3,64.6 77.3,65.3 77.3,65.9 77.3,66.6 77.2,67.3 77.2,67.8 77.2,68.3 77.2,68.9 77.2,69.6 77.1,70.3 77.1,70.9 77.0,71.6 77.0,72.3 76.9,72.9 76.9,73.4 76.9,73.9 76.8,74.6 76.8,75.3 76.7,75.9 76.6,76.6 76.6,77.3 76.6,77.6 76.5,78.3 76.4,78.9 76.4,79.6 76.3,80.3 76.3,80.9 76.2,81.3 76.2,81.9 76.1,82.6 76.1,83.3 76.0,83.9 75.9,84.6 75.9,84.9 75.8,85.6 75.8,86.3 75.7,86.9 75.6,87.6 75.6,88.2 75.5,88.6 75.5,89.3 75.4,89.9 75.3,90.6 75.2,91.3 75.2,91.6 75.1,92.3 75.1,92.9 75.0,93.6 74.9,94.3 74.9,94.6 74.8,95.3 74.7,95.9 74.6,96.6 74.6,96.9 74.5,97.6 74.4,98.3 74.3,98.9 74.2,99.3 74.1,99.9 74.0,100.6 73.9,100.9 73.8,101.6 73.6,102.3 73.5,102.6 73.3,103.3 73.2,103.6 72.9,104.3 72.8,104.6 72.6,105.1 72.3,105.6 72.1,105.9 71.8,106.3 71.6,106.6 71.2,106.9 70.8,107.3 70.3,107.6"/></g>
<rect x="60.40" y="38.10" width="48.30" height="24.80" fill="none" stroke="#5a5a5a" stroke-width="0.8" />
<line x1="74.60" y1="38.10" x2="74.60" y2="62.90" stroke="#5a5a5a" stroke-width="0.8" />
<rect x="60.40" y="62.90" width="14.20" height="27.60" fill="none" stroke="#5a5a5a" stroke-width="0.8" />
<rect x="74.60" y="63.20" width="38.10" height="36.80" fill="none" stroke="#5a5a5a" stroke-width="0.8" />
<rect x="44.40" y="33.10" width="95.90" height="95.20" fill="none" stroke="#1a1a1a" stroke-width="1.0" />
<rect x="42.40" y="104.60" width="2.00" height="3.60" fill="#111" stroke="none" stroke-width="0.8" />
<rect x="63.60" y="128.30" width="3.60" height="2.20" fill="#111" stroke="none" stroke-width="0.8" />
<line x1="41.20" y1="42.20" x2="44.40" y2="42.20" stroke="#222" stroke-width="0.8" />
<text x="37.80" y="44.60" font-size="6.8" text-anchor="end" fill="#222">10<tspan font-size="4.22" dy="-2.86">5</tspan></text>
<line x1="41.20" y1="65.30" x2="44.40" y2="65.30" stroke="#222" stroke-width="0.8" />
<text x="37.80" y="67.70" font-size="6.8" text-anchor="end" fill="#222">10<tspan font-size="4.22" dy="-2.86">4</tspan></text>
<line x1="41.20" y1="90.80" x2="44.40" y2="90.80" stroke="#222" stroke-width="0.8" />
<text x="37.80" y="93.20" font-size="6.8" text-anchor="end" fill="#222">10<tspan font-size="4.22" dy="-2.86">3</tspan></text>
<line x1="41.20" y1="105.70" x2="44.40" y2="105.70" stroke="#222" stroke-width="0.8" />
<text x="37.50" y="108.10" font-size="6.8" text-anchor="end" fill="#222" >0</text>
<line x1="41.20" y1="121.90" x2="44.40" y2="121.90" stroke="#222" stroke-width="0.8" />
<text x="37.80" y="124.30" font-size="6.8" text-anchor="end" fill="#222">−10<tspan font-size="4.22" dy="-2.86">3</tspan></text>
<line x1="42.90" y1="58.35" x2="44.40" y2="58.35" stroke="#222" stroke-width="0.5" />
<line x1="42.90" y1="54.28" x2="44.40" y2="54.28" stroke="#222" stroke-width="0.5" />
<line x1="42.90" y1="51.39" x2="44.40" y2="51.39" stroke="#222" stroke-width="0.5" />
<line x1="42.90" y1="49.15" x2="44.40" y2="49.15" stroke="#222" stroke-width="0.5" />
<line x1="42.90" y1="47.32" x2="44.40" y2="47.32" stroke="#222" stroke-width="0.5" />
<line x1="42.90" y1="45.78" x2="44.40" y2="45.78" stroke="#222" stroke-width="0.5" />
<line x1="42.90" y1="44.44" x2="44.40" y2="44.44" stroke="#222" stroke-width="0.5" />
<line x1="42.90" y1="43.26" x2="44.40" y2="43.26" stroke="#222" stroke-width="0.5" />
<line x1="42.90" y1="83.12" x2="44.40" y2="83.12" stroke="#222" stroke-width="0.5" />
<line x1="42.90" y1="78.63" x2="44.40" y2="78.63" stroke="#222" stroke-width="0.5" />
<line x1="42.90" y1="75.45" x2="44.40" y2="75.45" stroke="#222" stroke-width="0.5" />
<line x1="42.90" y1="72.98" x2="44.40" y2="72.98" stroke="#222" stroke-width="0.5" />
<line x1="42.90" y1="70.96" x2="44.40" y2="70.96" stroke="#222" stroke-width="0.5" />
<line x1="42.90" y1="69.25" x2="44.40" y2="69.25" stroke="#222" stroke-width="0.5" />
<line x1="42.90" y1="67.77" x2="44.40" y2="67.77" stroke="#222" stroke-width="0.5" />
<line x1="42.90" y1="66.47" x2="44.40" y2="66.47" stroke="#222" stroke-width="0.5" />
<line x1="42.90" y1="95.10" x2="44.40" y2="95.10" stroke="#222" stroke-width="0.5" />
<line x1="42.90" y1="100.10" x2="44.40" y2="100.10" stroke="#222" stroke-width="0.5" />
<line x1="42.90" y1="111.10" x2="44.40" y2="111.10" stroke="#222" stroke-width="0.5" />
<line x1="42.90" y1="116.10" x2="44.40" y2="116.10" stroke="#222" stroke-width="0.5" />
<line x1="49.60" y1="128.30" x2="49.60" y2="131.30" stroke="#222" stroke-width="0.8" />
<line x1="65.20" y1="128.30" x2="65.20" y2="131.30" stroke="#222" stroke-width="0.8" />
<line x1="80.80" y1="128.30" x2="80.80" y2="131.30" stroke="#222" stroke-width="0.8" />
<line x1="106.40" y1="128.30" x2="106.40" y2="131.30" stroke="#222" stroke-width="0.8" />
<line x1="129.00" y1="128.30" x2="129.00" y2="131.30" stroke="#222" stroke-width="0.8" />
<text x="52.10" y="141.60" font-size="6.8" text-anchor="middle" fill="#222">−10<tspan font-size="4.22" dy="-2.86">3</tspan></text>
<text x="66.90" y="141.60" font-size="6.8" text-anchor="middle" fill="#222" >0</text>
<text x="81.00" y="141.60" font-size="6.8" text-anchor="middle" fill="#222">10<tspan font-size="4.22" dy="-2.86">3</tspan></text>
<text x="108.20" y="141.60" font-size="6.8" text-anchor="middle" fill="#222">10<tspan font-size="4.22" dy="-2.86">4</tspan></text>
<text x="130.40" y="141.60" font-size="6.8" text-anchor="middle" fill="#222">10<tspan font-size="4.22" dy="-2.86">5</tspan></text>
<line x1="88.51" y1="128.30" x2="88.51" y2="129.80" stroke="#222" stroke-width="0.5" />
<line x1="93.01" y1="128.30" x2="93.01" y2="129.80" stroke="#222" stroke-width="0.5" />
<line x1="96.21" y1="128.30" x2="96.21" y2="129.80" stroke="#222" stroke-width="0.5" />
<line x1="98.69" y1="128.30" x2="98.69" y2="129.80" stroke="#222" stroke-width="0.5" />
<line x1="100.72" y1="128.30" x2="100.72" y2="129.80" stroke="#222" stroke-width="0.5" />
<line x1="102.43" y1="128.30" x2="102.43" y2="129.80" stroke="#222" stroke-width="0.5" />
<line x1="103.92" y1="128.30" x2="103.92" y2="129.80" stroke="#222" stroke-width="0.5" />
<line x1="105.23" y1="128.30" x2="105.23" y2="129.80" stroke="#222" stroke-width="0.5" />
<line x1="113.20" y1="128.30" x2="113.20" y2="129.80" stroke="#222" stroke-width="0.5" />
<line x1="117.18" y1="128.30" x2="117.18" y2="129.80" stroke="#222" stroke-width="0.5" />
<line x1="120.01" y1="128.30" x2="120.01" y2="129.80" stroke="#222" stroke-width="0.5" />
<line x1="122.20" y1="128.30" x2="122.20" y2="129.80" stroke="#222" stroke-width="0.5" />
<line x1="123.99" y1="128.30" x2="123.99" y2="129.80" stroke="#222" stroke-width="0.5" />
<line x1="125.50" y1="128.30" x2="125.50" y2="129.80" stroke="#222" stroke-width="0.5" />
<line x1="126.81" y1="128.30" x2="126.81" y2="129.80" stroke="#222" stroke-width="0.5" />
<line x1="127.97" y1="128.30" x2="127.97" y2="129.80" stroke="#222" stroke-width="0.5" />
<line x1="54.40" y1="128.30" x2="54.40" y2="129.80" stroke="#222" stroke-width="0.5" />
<line x1="59.40" y1="128.30" x2="59.40" y2="129.80" stroke="#222" stroke-width="0.5" />
<line x1="70.40" y1="128.30" x2="70.40" y2="129.80" stroke="#222" stroke-width="0.5" />
<line x1="75.40" y1="128.30" x2="75.40" y2="129.80" stroke="#222" stroke-width="0.5" />
<text x="59.30" y="52.60" font-size="6.6" text-anchor="end" fill="#222" >40.0</text>
<text x="114.80" y="52.60" font-size="6.6" text-anchor="start" fill="#222" >34.3</text>
<text x="59.30" y="79.90" font-size="6.6" text-anchor="end" fill="#222" >16.4</text>
<text x="116.00" y="86.00" font-size="6.6" text-anchor="start" fill="#222" >1.97</text>
<text x="218.50" y="29.60" font-size="6.5" text-anchor="middle" fill="#222" >Day 17</text>
<path d="M213.1,95.5h0.8M212.6,98.4h0.8M182.8,58.5h0.8M245.5,67.8h0.8M192.2,49.6h0.8M197.1,65.4h0.8M242.0,110.2h0.8M225.9,81.5h0.8M251.5,91.7h0.8M222.5,77.9h0.8M261.4,94.9h0.8M195.4,93.0h0.8M206.5,108.1h0.8M227.4,102.7h0.8M203.9,94.4h0.8M189.0,57.8h0.8M237.6,99.6h0.8M240.7,109.2h0.8M217.2,96.0h0.8M260.4,104.6h0.8M199.8,49.8h0.8M175.3,57.5h0.8M236.4,104.4h0.8M243.1,101.1h0.8M211.2,69.1h0.8M253.8,91.9h0.8M213.4,47.8h0.8M250.0,103.3h0.8M230.9,85.4h0.8M248.9,70.1h0.8M227.2,81.2h0.8M203.7,72.3h0.8M221.0,104.7h0.8M251.8,108.3h0.8M237.0,111.5h0.8M226.2,79.6h0.8M215.6,70.2h0.8M251.2,92.0h0.8M259.3,80.3h0.8M253.7,86.6h0.8M250.7,87.3h0.8M248.2,112.7h0.8M222.0,76.3h0.8M258.1,94.0h0.8M220.7,109.9h0.8M232.4,85.1h0.8M185.1,80.0h0.8M218.2,96.1h0.8M229.6,100.4h0.8M236.1,86.0h0.8M217.6,86.2h0.8M246.7,80.6h0.8M225.9,103.7h0.8M248.4,77.6h0.8M249.6,93.8h0.8M194.5,81.8h0.8M222.4,79.5h0.8M230.7,87.3h0.8M196.2,103.8h0.8M206.9,81.7h0.8M249.4,80.1h0.8M252.0,56.3h0.8M245.1,56.4h0.8M233.8,89.2h0.8M211.5,94.2h0.8M244.1,87.4h0.8M253.1,89.2h0.8M188.0,58.6h0.8M229.3,48.7h0.8M185.9,101.8h0.8M225.9,101.0h0.8M188.2,96.5h0.8M199.5,79.8h0.8M191.0,53.6h0.8M214.9,107.5h0.8M203.2,112.2h0.8M228.7,89.4h0.8M246.7,68.4h0.8M245.7,87.3h0.8M221.1,101.5h0.8M223.8,48.7h0.8M205.9,97.5h0.8M182.0,57.3h0.8M254.7,58.3h0.8M246.6,85.5h0.8M250.3,76.7h0.8M220.8,73.2h0.8M231.4,111.9h0.8M230.4,84.0h0.8M198.6,81.7h0.8M219.3,47.4h0.8M247.2,69.3h0.8M220.2,95.2h0.8M217.9,87.2h0.8M224.9,96.4h0.8M254.6,87.4h0.8M194.0,75.9h0.8M204.4,106.9h0.8M216.8,77.5h0.8M179.7,125.3h0.8M173.5,127.7h0.8M266.7,99.3h0.8M202.3,98.6h0.8M235.0,107.4h0.8M210.4,106.4h0.8M208.8,78.7h0.8M236.3,90.4h0.8M233.5,50.8h0.8M228.7,82.7h0.8M247.0,67.0h0.8M251.4,83.4h0.8M196.5,95.4h0.8M233.3,99.3h0.8M226.6,84.8h0.8M196.1,105.3h0.8M252.9,99.2h0.8M244.6,85.5h0.8M220.4,47.9h0.8M245.0,67.7h0.8M246.5,73.6h0.8M222.0,83.4h0.8M216.5,96.9h0.8M244.0,113.6h0.8M208.1,47.6h0.8M254.9,74.8h0.8M210.9,80.2h0.8M217.4,96.4h0.8M230.3,94.0h0.8M206.6,115.7h0.8M200.8,49.7h0.8M200.0,95.9h0.8M222.8,85.9h0.8M231.3,118.4h0.8M219.5,79.9h0.8M189.3,56.0h0.8M219.0,86.8h0.8M235.5,88.6h0.8M188.5,56.5h0.8M251.3,98.1h0.8M234.5,87.1h0.8M247.4,71.4h0.8M185.0,60.0h0.8M229.6,104.4h0.8M210.8,95.2h0.8M251.8,71.8h0.8M245.5,62.2h0.8M237.1,106.3h0.8M267.4,104.1h0.8M248.4,81.4h0.8M250.7,76.7h0.8M199.4,91.9h0.8M248.9,110.0h0.8M208.6,77.5h0.8M253.4,70.8h0.8M234.3,88.2h0.8M204.0,95.8h0.8M243.1,86.4h0.8M212.6,97.4h0.8M207.7,106.2h0.8M215.7,84.8h0.8M241.3,52.4h0.8M250.8,77.4h0.8M250.7,99.2h0.8M210.6,88.6h0.8M201.7,112.5h0.8M234.4,92.1h0.8M263.5,78.0h0.8M226.3,81.8h0.8M187.3,71.0h0.8M207.2,95.9h0.8M219.0,48.3h0.8M180.1,88.3h0.8M202.4,74.7h0.8M260.4,80.4h0.8M196.8,75.1h0.8M208.3,48.0h0.8M235.3,87.9h0.8M221.7,97.6h0.8M198.1,100.7h0.8M232.6,92.2h0.8M214.2,78.9h0.8M198.3,107.8h0.8M209.6,106.3h0.8M247.6,66.9h0.8M246.7,78.8h0.8M212.0,96.1h0.8M252.0,60.5h0.8M224.7,119.5h0.8M225.6,80.0h0.8M218.8,109.3h0.8M189.7,58.3h0.8M180.7,115.2h0.8M227.6,84.7h0.8M187.1,55.3h0.8M257.1,59.2h0.8M212.0,48.0h0.8M191.8,70.7h0.8M197.6,80.3h0.8M212.3,68.7h0.8M261.7,91.1h0.8M248.3,59.4h0.8M219.7,83.2h0.8M224.9,91.3h0.8M223.1,106.3h0.8M192.9,81.7h0.8M215.3,114.8h0.8M173.9,59.8h0.8M251.8,59.5h0.8M213.1,93.8h0.8M248.0,95.3h0.8M199.2,97.4h0.8M174.3,120.2h0.8M217.6,87.9h0.8M245.7,71.1h0.8M267.2,80.8h0.8M209.5,67.8h0.8M229.5,49.8h0.8M239.9,98.4h0.8M199.3,73.0h0.8M240.1,95.2h0.8M253.8,76.9h0.8M245.4,84.4h0.8M190.3,63.0h0.8M242.5,85.5h0.8M193.9,96.9h0.8M212.5,77.8h0.8M249.5,57.5h0.8M229.6,91.4h0.8M262.5,93.0h0.8M202.6,48.9h0.8M190.5,59.9h0.8M224.3,86.3h0.8M234.3,97.4h0.8M219.0,93.8h0.8M195.8,96.5h0.8M215.9,48.4h0.8M197.1,109.7h0.8M264.9,99.6h0.8M218.9,80.2h0.8M227.8,97.9h0.8M213.5,99.7h0.8M235.4,89.7h0.8M246.0,75.4h0.8M231.7,89.1h0.8M231.3,84.6h0.8M191.8,53.1h0.8M234.9,101.1h0.8M192.5,105.4h0.8M267.1,97.1h0.8M216.7,72.6h0.8M216.8,108.4h0.8M226.9,96.5h0.8M226.9,99.2h0.8M255.5,100.3h0.8M220.7,77.5h0.8M256.6,79.7h0.8M220.9,102.3h0.8M189.9,48.4h0.8M257.7,81.8h0.8M242.1,86.8h0.8M236.2,89.1h0.8M255.6,89.9h0.8M216.0,104.3h0.8M211.0,96.6h0.8M186.6,61.3h0.8M257.9,82.0h0.8M205.7,97.1h0.8M218.1,87.4h0.8M221.4,73.6h0.8M193.6,46.0h0.8M219.1,70.3h0.8M203.9,91.1h0.8M248.0,101.7h0.8M231.2,90.6h0.8M244.6,65.6h0.8M210.7,68.6h0.8M243.9,116.7h0.8M221.0,89.4h0.8M230.8,86.8h0.8M227.4,88.7h0.8M257.1,101.5h0.8M209.8,94.4h0.8M239.5,85.9h0.8M250.7,62.4h0.8M210.6,71.1h0.8M228.9,120.2h0.8M261.1,99.3h0.8M245.6,101.8h0.8M218.8,79.6h0.8M246.1,87.5h0.8M216.7,97.0h0.8M252.9,59.5h0.8M216.9,105.7h0.8M232.9,109.6h0.8M207.2,73.4h0.8M254.4,70.8h0.8M257.7,81.0h0.8M260.2,60.0h0.8M219.7,86.8h0.8M254.6,79.2h0.8M244.5,84.0h0.8M232.8,122.9h0.8M193.6,91.4h0.8M206.7,67.6h0.8M224.8,89.9h0.8M204.9,97.0h0.8M210.4,106.1h0.8M200.2,89.9h0.8M244.9,87.1h0.8M224.8,106.2h0.8M246.6,102.9h0.8M188.8,59.4h0.8M191.5,68.9h0.8M224.7,83.0h0.8M241.2,54.7h0.8M257.6,54.7h0.8M221.2,96.3h0.8M223.2,82.5h0.8M240.6,104.0h0.8M223.9,76.4h0.8M262.3,90.8h0.8M248.9,61.2h0.8M212.2,71.2h0.8M233.2,98.1h0.8M196.0,81.6h0.8M232.8,89.4h0.8M230.8,84.6h0.8M218.8,91.7h0.8M234.5,92.2h0.8M210.0,88.3h0.8M221.1,77.1h0.8M226.8,79.9h0.8M236.1,96.3h0.8M207.4,108.6h0.8M236.3,110.1h0.8M198.7,82.6h0.8M243.7,103.8h0.8M243.3,109.1h0.8M202.1,81.2h0.8M233.7,106.7h0.8M251.3,67.3h0.8M235.7,108.4h0.8M204.6,48.5h0.8M195.6,68.6h0.8M247.8,80.1h0.8M215.8,77.4h0.8M214.0,47.1h0.8M253.4,74.9h0.8M191.2,53.6h0.8M222.9,77.9h0.8M180.9,53.1h0.8M233.4,91.2h0.8M246.3,83.4h0.8M249.1,83.9h0.8M254.3,110.7h0.8M242.8,55.4h0.8M196.5,106.8h0.8M247.0,68.8h0.8M197.8,101.3h0.8M174.9,111.4h0.8M229.7,50.1h0.8M213.1,94.1h0.8M223.1,111.0h0.8M222.3,104.4h0.8M214.0,116.2h0.8M212.3,79.5h0.8M232.0,93.9h0.8M231.5,114.7h0.8M202.8,68.9h0.8M251.3,72.0h0.8M231.4,86.6h0.8M190.5,54.0h0.8M227.8,88.8h0.8M234.6,105.9h0.8M255.3,82.6h0.8M196.4,107.1h0.8M209.7,81.9h0.8M252.8,94.0h0.8M221.2,76.2h0.8M255.5,79.1h0.8M226.8,99.9h0.8M236.5,90.7h0.8M262.0,102.8h0.8M205.9,94.0h0.8M253.6,82.9h0.8M240.6,88.3h0.8M211.0,82.4h0.8M207.7,97.0h0.8M232.2,97.6h0.8M189.9,51.9h0.8M221.6,90.1h0.8M251.3,80.8h0.8M222.5,109.9h0.8M188.6,54.1h0.8M202.0,90.5h0.8M211.7,103.5h0.8M224.2,84.5h0.8M213.1,108.1h0.8M202.1,78.9h0.8M179.8,95.1h0.8M220.3,73.6h0.8M245.4,63.4h0.8M205.2,76.1h0.8M234.4,94.4h0.8M258.1,90.2h0.8M219.2,83.9h0.8M233.0,98.8h0.8M252.5,84.4h0.8M212.1,116.7h0.8M218.9,69.8h0.8M198.0,99.5h0.8M236.6,52.2h0.8M240.3,87.7h0.8M254.3,103.7h0.8M249.4,67.9h0.8M205.4,68.2h0.8M245.8,87.8h0.8M216.3,46.7h0.8M224.0,117.6h0.8M245.3,57.5h0.8M204.1,79.6h0.8M194.2,106.0h0.8M229.7,92.1h0.8M264.6,125.3h0.8M190.1,58.7h0.8M244.8,66.6h0.8M179.5,55.2h0.8M209.4,73.8h0.8M212.1,102.9h0.8M231.8,104.2h0.8M198.9,99.5h0.8M226.0,82.5h0.8M201.5,98.7h0.8M235.4,90.3h0.8M251.6,85.8h0.8M212.0,94.5h0.8M229.9,104.0h0.8M223.5,78.0h0.8M214.1,69.1h0.8M235.3,93.4h0.8M219.1,80.4h0.8M242.6,84.6h0.8M224.5,78.2h0.8M264.0,88.2h0.8M266.0,64.5h0.8M206.4,94.1h0.8M211.3,68.4h0.8M189.0,57.7h0.8M210.4,88.8h0.8M186.9,53.0h0.8M235.8,88.7h0.8M205.6,91.4h0.8M267.1,102.3h0.8M244.9,63.4h0.8M212.6,103.7h0.8M200.6,97.0h0.8M214.7,112.5h0.8M232.7,84.9h0.8M239.8,90.2h0.8M210.5,102.6h0.8M211.6,95.5h0.8M243.0,53.9h0.8M244.9,122.0h0.8M180.3,63.3h0.8M195.7,76.2h0.8M250.2,70.8h0.8M230.7,90.1h0.8M255.9,95.4h0.8M212.2,96.6h0.8M225.9,93.6h0.8M216.9,92.4h0.8M250.5,90.3h0.8M230.4,94.3h0.8M222.4,111.5h0.8M215.6,43.5h0.8M218.7,97.3h0.8M203.0,47.9h0.8M246.0,81.5h0.8M191.7,50.1h0.8M214.2,69.5h0.8M250.7,62.4h0.8M219.6,78.3h0.8M218.0,107.9h0.8M259.7,99.8h0.8M267.4,85.2h0.8M185.4,60.5h0.8M190.3,97.3h0.8M214.1,83.3h0.8M200.9,88.1h0.8M204.5,106.7h0.8M217.4,102.0h0.8M218.8,48.4h0.8M250.4,87.4h0.8M215.8,46.6h0.8M229.2,83.3h0.8M187.5,71.6h0.8M217.6,94.0h0.8M196.2,90.2h0.8M222.1,79.2h0.8M213.8,93.6h0.8M253.7,91.9h0.8M217.7,76.2h0.8M249.5,76.0h0.8M195.6,102.6h0.8M200.4,106.7h0.8M200.2,111.5h0.8M224.2,108.9h0.8M195.4,50.1h0.8M222.9,96.6h0.8M233.4,96.4h0.8M241.4,88.1h0.8M259.7,110.2h0.8M210.9,48.5h0.8M191.4,99.7h0.8M221.0,77.5h0.8M249.0,74.6h0.8M236.1,89.1h0.8M242.2,92.2h0.8M247.5,74.2h0.8M210.5,102.9h0.8M199.7,89.4h0.8M231.8,94.0h0.8M263.4,44.4h0.8M245.1,65.7h0.8M218.0,109.4h0.8M206.7,68.7h0.8M213.8,81.4h0.8M248.4,70.0h0.8M219.9,93.3h0.8M208.4,96.0h0.8M218.1,95.1h0.8M208.4,104.0h0.8M205.1,84.9h0.8M248.2,61.4h0.8M211.9,68.3h0.8M202.4,69.6h0.8M211.6,85.0h0.8M225.3,86.2h0.8M225.0,82.0h0.8M216.9,98.5h0.8M221.6,87.0h0.8M214.9,81.5h0.8M204.1,97.2h0.8M233.0,95.7h0.8M248.4,71.1h0.8M216.0,106.9h0.8M227.1,48.2h0.8M215.1,125.8h0.8M246.3,82.6h0.8M214.2,102.2h0.8M246.7,71.4h0.8M195.6,51.5h0.8M236.4,92.6h0.8M210.9,90.2h0.8M183.8,105.4h0.8M201.7,68.3h0.8M194.0,87.5h0.8M226.3,107.4h0.8M197.7,110.5h0.8M255.6,67.7h0.8M216.9,72.8h0.8M250.8,82.8h0.8M240.8,51.1h0.8M220.0,79.4h0.8M191.8,87.5h0.8M249.5,102.8h0.8M235.1,87.2h0.8M241.8,108.7h0.8M235.2,88.1h0.8M243.9,83.8h0.8M246.8,106.2h0.8M243.7,113.1h0.8M227.8,83.1h0.8M246.6,77.6h0.8M205.1,88.6h0.8M197.6,90.7h0.8M195.2,73.9h0.8M245.5,90.4h0.8M248.1,75.4h0.8M218.6,76.0h0.8M238.6,123.9h0.8M225.8,82.8h0.8M249.1,65.0h0.8M239.5,101.3h0.8M226.8,110.5h0.8M209.0,47.0h0.8M232.2,88.0h0.8M223.6,77.0h0.8M214.0,72.7h0.8M218.6,105.7h0.8M204.5,106.3h0.8M213.1,101.4h0.8M244.9,68.0h0.8M209.9,93.4h0.8M235.0,109.1h0.8M196.1,123.2h0.8M261.1,66.3h0.8M246.5,103.1h0.8M182.4,58.7h0.8M224.4,78.6h0.8M260.7,76.9h0.8M208.9,105.9h0.8M249.1,58.3h0.8M245.2,92.0h0.8M252.0,113.0h0.8M203.3,91.8h0.8M247.3,74.1h0.8M214.1,43.4h0.8M225.5,125.0h0.8M228.6,107.8h0.8M195.4,96.3h0.8M216.0,87.4h0.8M220.6,86.4h0.8M223.3,97.9h0.8M197.6,106.7h0.8M187.8,57.0h0.8M232.8,104.7h0.8M253.9,84.7h0.8M228.8,85.5h0.8M239.6,92.1h0.8M243.5,90.0h0.8M191.3,110.3h0.8M248.1,83.1h0.8M219.8,78.3h0.8M216.5,102.1h0.8M216.1,95.8h0.8M263.3,95.6h0.8M227.8,84.7h0.8M234.9,113.8h0.8M256.2,94.5h0.8M208.1,107.3h0.8M248.7,67.2h0.8M237.1,102.9h0.8M232.9,99.0h0.8M244.2,98.6h0.8M242.6,99.7h0.8M205.9,92.8h0.8M228.3,83.7h0.8M225.0,124.2h0.8M218.3,70.0h0.8M191.6,52.1h0.8M206.2,68.3h0.8M190.6,76.3h0.8M189.4,51.5h0.8M205.7,97.6h0.8M197.8,95.7h0.8M233.6,89.0h0.8M185.7,55.1h0.8M249.1,52.5h0.8M208.6,47.1h0.8M224.8,49.0h0.8M256.8,85.8h0.8M238.4,89.9h0.8M262.5,86.4h0.8M189.1,60.7h0.8M237.6,51.7h0.8M213.6,75.6h0.8M234.4,87.6h0.8M253.1,71.4h0.8M227.6,49.3h0.8M214.7,91.0h0.8M202.6,117.8h0.8M228.7,47.6h0.8M220.0,94.0h0.8M218.2,96.0h0.8M239.2,88.8h0.8M211.4,47.8h0.8M194.5,102.4h0.8M239.2,120.6h0.8M229.6,84.3h0.8M241.5,85.2h0.8M228.4,92.1h0.8M233.0,89.9h0.8M185.6,82.3h0.8M220.9,77.2h0.8M222.3,75.0h0.8M257.8,107.6h0.8M191.2,104.6h0.8M208.3,46.0h0.8M246.2,62.3h0.8M247.6,76.8h0.8M198.5,79.1h0.8M189.6,58.7h0.8M233.2,110.7h0.8M243.4,86.4h0.8M224.9,79.2h0.8M226.6,106.3h0.8M215.9,83.3h0.8M236.0,97.3h0.8M183.6,60.8h0.8M238.3,87.0h0.8M240.1,106.9h0.8M212.7,92.2h0.8M224.7,85.0h0.8M247.2,89.4h0.8M206.3,91.1h0.8M193.3,108.6h0.8M181.5,55.8h0.8M207.4,71.8h0.8M222.0,84.0h0.8" stroke="#a0a0a0" stroke-width="0.8" fill="none" clip-path="url(#c02)"/>
<g clip-path="url(#c02)" fill="#000" fill-opacity="0.09" stroke="#2a2a2a" stroke-width="0.5" stroke-linejoin="round"><path d="M219.6,59.6 218.9,59.7 218.2,59.8 217.6,59.8 216.9,59.7 216.2,59.6 215.9,59.6 215.2,59.4 214.9,59.3 214.3,58.9 214.0,58.6 214.2,57.9 214.6,57.7 214.9,57.5 215.6,57.4 216.2,57.3 216.9,57.2 217.6,57.3 217.9,57.3 218.6,57.4 219.2,57.5 219.6,57.6 220.2,57.9 220.6,58.1 220.9,58.4 221.0,58.9 220.6,59.3 220.2,59.4 219.8,59.6"/><path d="M219.6,60.3 218.9,60.3 218.2,60.4 217.6,60.3 216.9,60.3 216.6,60.3 215.9,60.2 215.2,60.0 214.8,59.9 214.2,59.7 213.8,59.6 213.2,59.3 212.9,59.0 212.6,58.7 212.4,58.3 212.6,57.9 212.9,57.5 213.4,57.3 213.9,57.1 214.4,56.9 214.9,56.8 215.6,56.7 216.2,56.7 216.9,56.7 217.6,56.7 218.2,56.8 218.9,56.8 219.4,56.9 219.9,57.0 220.6,57.2 220.9,57.3 221.5,57.6 221.9,57.8 222.2,58.1 222.6,58.6 222.4,59.3 222.0,59.6 221.6,59.8 221.2,59.9 220.6,60.1 219.9,60.2 219.6,60.3"/><path d="M220.9,60.6 220.2,60.7 219.6,60.8 218.9,60.8 218.2,60.8 217.6,60.8 216.9,60.7 216.2,60.7 215.7,60.6 215.2,60.5 214.6,60.4 214.1,60.3 213.6,60.1 213.1,59.9 212.6,59.7 212.2,59.5 211.9,59.3 211.5,58.9 211.2,58.5 211.2,57.9 211.6,57.5 211.9,57.2 212.4,56.9 212.9,56.7 213.4,56.6 213.9,56.5 214.6,56.4 215.2,56.3 215.6,56.3 216.2,56.2 216.9,56.2 217.6,56.3 217.9,56.3 218.6,56.3 219.2,56.4 219.9,56.5 220.2,56.6 220.9,56.8 221.4,56.9 221.9,57.1 222.3,57.3 222.9,57.6 223.2,57.8 223.6,58.2 223.8,58.6 223.7,59.3 223.5,59.6 223.0,59.9 222.6,60.2 222.2,60.3 221.6,60.5 221.0,60.6"/><path d="M221.6,61.0 220.9,61.1 220.2,61.2 219.6,61.2 218.9,61.2 218.2,61.2 217.6,61.2 216.9,61.2 216.2,61.1 215.6,61.0 215.1,60.9 214.6,60.8 213.9,60.7 213.6,60.6 212.9,60.4 212.5,60.3 211.9,60.0 211.6,59.8 211.1,59.6 210.7,59.3 210.4,58.9 210.2,58.6 210.1,57.9 210.5,57.3 210.9,57.0 211.2,56.8 211.6,56.6 212.2,56.4 212.6,56.3 213.2,56.1 213.9,56.0 214.4,55.9 214.9,55.9 215.6,55.8 216.2,55.8 216.9,55.8 217.6,55.8 218.2,55.9 218.7,55.9 219.2,56.0 219.9,56.1 220.6,56.2 220.9,56.3 221.6,56.5 222.0,56.6 222.6,56.8 222.9,56.9 223.6,57.3 223.9,57.5 224.2,57.7 224.6,58.0 224.9,58.5 225.0,58.9 224.9,59.3 224.6,59.8 224.2,60.1 223.9,60.3 223.2,60.6 222.9,60.7 222.2,60.9 221.9,60.9"/><path d="M219.2,61.6 218.6,61.6 217.9,61.6 217.2,61.6 216.6,61.5 215.9,61.4 215.2,61.3 214.7,61.3 214.2,61.2 213.6,61.0 213.2,60.9 212.6,60.8 212.1,60.6 211.6,60.4 211.2,60.3 210.6,59.9 210.2,59.7 209.9,59.5 209.6,59.2 209.2,58.8 209.0,58.3 209.1,57.6 209.4,57.3 209.7,56.9 210.2,56.6 210.6,56.4 211.0,56.3 211.6,56.1 212.0,55.9 212.6,55.8 213.2,55.7 213.8,55.6 214.2,55.5 214.9,55.5 215.6,55.5 216.2,55.4 216.9,55.4 217.6,55.5 218.2,55.5 218.9,55.6 219.2,55.6 219.9,55.7 220.6,55.8 221.1,55.9 221.6,56.0 222.2,56.2 222.6,56.3 223.2,56.6 223.6,56.7 224.1,56.9 224.6,57.2 224.9,57.4 225.2,57.6 225.6,57.9 225.9,58.4 226.1,58.9 225.9,59.6 225.6,59.9 225.2,60.3 224.9,60.5 224.6,60.6 223.9,60.9 223.6,61.0 222.9,61.2 222.6,61.3 221.9,61.4 221.2,61.5 220.6,61.5 219.9,61.6 219.3,61.6"/><path d="M220.2,61.9 219.6,62.0 218.9,62.0 218.2,62.0 217.6,61.9 217.2,61.9 216.6,61.9 215.9,61.8 215.2,61.7 214.6,61.6 214.2,61.6 213.6,61.4 212.9,61.3 212.6,61.2 211.9,61.0 211.6,60.9 210.9,60.6 210.6,60.5 210.1,60.3 209.6,60.0 209.2,59.8 208.9,59.5 208.6,59.2 208.2,58.8 208.1,58.3 208.1,57.6 208.3,57.3 208.6,56.9 209.0,56.6 209.6,56.3 209.9,56.1 210.4,55.9 210.9,55.8 211.5,55.6 211.9,55.5 212.6,55.4 213.2,55.3 213.6,55.2 214.2,55.2 214.9,55.1 215.6,55.1 216.2,55.1 216.9,55.1 217.6,55.1 218.2,55.2 218.9,55.2 219.3,55.3 219.9,55.3 220.6,55.4 221.2,55.6 221.6,55.6 222.2,55.8 222.7,55.9 223.2,56.1 223.8,56.3 224.2,56.5 224.6,56.6 225.2,56.9 225.6,57.1 225.9,57.3 226.2,57.6 226.8,58.3 227.0,58.6 227.1,59.3 226.9,59.7 226.6,60.1 226.2,60.4 225.9,60.7 225.4,60.9 224.9,61.1 224.5,61.3 223.9,61.4 223.2,61.6 222.9,61.7 222.2,61.8 221.6,61.8 220.9,61.9 220.4,61.9"/><path d="M220.9,62.3 220.2,62.3 219.6,62.3 218.9,62.3 218.2,62.3 217.6,62.3 217.1,62.3 216.6,62.2 215.9,62.2 215.2,62.1 214.6,62.0 214.2,61.9 213.6,61.8 212.9,61.7 212.6,61.6 211.9,61.4 211.4,61.3 210.9,61.1 210.4,60.9 209.9,60.7 209.6,60.6 208.9,60.3 208.6,60.0 208.2,59.8 207.9,59.5 207.6,59.2 207.2,58.7 207.1,58.3 207.1,57.6 207.3,57.3 207.6,56.9 207.9,56.6 208.4,56.3 208.9,56.0 209.2,55.8 209.8,55.6 210.2,55.5 210.9,55.3 211.2,55.2 211.9,55.1 212.6,55.0 212.9,54.9 213.6,54.8 214.2,54.8 214.9,54.8 215.6,54.7 216.2,54.7 216.9,54.7 217.6,54.8 218.2,54.8 218.9,54.9 219.6,54.9 220.2,55.0 220.9,55.1 221.6,55.3 221.9,55.3 222.6,55.5 223.0,55.6 223.6,55.8 224.1,55.9 224.6,56.1 225.0,56.3 225.6,56.5 225.9,56.7 226.3,56.9 226.8,57.3 227.2,57.6 227.6,57.9 227.8,58.3 228.0,58.6 228.1,59.3 227.9,59.8 227.6,60.3 227.2,60.6 226.9,60.8 226.6,61.0 226.1,61.3 225.6,61.5 225.2,61.6 224.6,61.8 223.9,61.9 223.6,62.0 222.9,62.1 222.2,62.2 221.6,62.2 221.2,62.3"/><path d="M221.9,62.6 221.2,62.7 220.6,62.7 219.9,62.7 219.2,62.7 218.6,62.7 217.9,62.7 217.2,62.6 216.7,62.6 216.2,62.6 215.6,62.5 214.9,62.4 214.2,62.3 213.9,62.3 213.2,62.1 212.6,62.0 212.2,61.9 211.6,61.8 211.0,61.6 210.6,61.5 210.0,61.3 209.6,61.1 209.1,60.9 208.6,60.7 208.2,60.5 207.8,60.3 207.3,59.9 206.9,59.6 206.6,59.3 206.3,58.9 206.2,58.6 206.0,57.9 206.2,57.3 206.4,56.9 206.7,56.6 207.2,56.3 207.6,56.0 207.9,55.8 208.4,55.6 208.9,55.4 209.3,55.3 209.9,55.1 210.5,54.9 210.9,54.8 211.6,54.7 212.2,54.6 212.6,54.6 213.2,54.5 213.9,54.4 214.6,54.4 215.2,54.4 215.9,54.4 216.6,54.4 217.2,54.4 217.9,54.4 218.6,54.5 219.2,54.5 219.9,54.6 220.2,54.6 220.9,54.7 221.6,54.9 221.9,54.9 222.6,55.1 223.2,55.2 223.6,55.3 224.2,55.5 224.6,55.6 225.2,55.9 225.6,56.0 226.2,56.3 226.6,56.4 226.9,56.6 227.4,56.9 227.9,57.3 228.3,57.6 228.6,57.9 228.9,58.4 229.1,58.9 229.1,59.6 228.9,60.0 228.6,60.5 228.2,60.8 227.9,61.0 227.5,61.3 226.9,61.6 226.6,61.7 225.9,61.9 225.6,62.0 224.9,62.2 224.6,62.3 223.9,62.4 223.2,62.5 222.6,62.6 222.2,62.6"/><path d="M222.9,63.0 222.2,63.0 221.6,63.1 220.9,63.1 220.2,63.1 219.6,63.1 218.9,63.1 218.2,63.1 217.6,63.0 216.9,63.0 216.2,62.9 215.9,62.9 215.2,62.8 214.6,62.7 213.9,62.6 213.6,62.6 212.9,62.5 212.2,62.3 211.9,62.3 211.2,62.1 210.6,61.9 210.2,61.8 209.6,61.6 209.2,61.5 208.7,61.3 208.2,61.1 207.9,60.9 207.3,60.6 206.9,60.4 206.6,60.2 206.2,59.9 205.9,59.6 205.6,59.3 205.2,58.7 205.1,58.3 205.1,57.6 205.2,57.2 205.6,56.7 205.9,56.3 206.2,56.1 206.6,55.9 207.0,55.6 207.6,55.3 207.9,55.2 208.6,55.0 208.9,54.9 209.6,54.7 209.9,54.6 210.6,54.5 211.2,54.3 211.7,54.3 212.2,54.2 212.9,54.1 213.6,54.1 214.2,54.0 214.9,54.0 215.6,54.0 216.2,54.0 216.9,54.0 217.6,54.0 218.2,54.1 218.9,54.1 219.6,54.2 220.2,54.3 220.6,54.3 221.2,54.4 221.9,54.5 222.3,54.6 222.9,54.7 223.6,54.9 223.9,55.0 224.6,55.2 225.2,55.4 225.9,55.6 226.2,55.7 226.7,55.9 227.2,56.2 227.6,56.4 228.0,56.6 228.5,56.9 228.9,57.2 229.2,57.5 229.6,57.9 229.8,58.3 230.0,58.6 230.2,59.3 230.0,59.9 229.9,60.3 229.6,60.7 229.2,61.0 228.9,61.3 228.4,61.6 227.9,61.8 227.6,62.0 226.9,62.2 226.6,62.3 225.9,62.5 225.4,62.6 224.9,62.7 224.2,62.8 223.6,62.9 223.1,62.9"/><path d="M224.2,63.3 223.6,63.3 222.9,63.4 222.2,63.4 221.6,63.5 220.9,63.5 220.2,63.5 219.6,63.5 218.9,63.5 218.2,63.5 217.6,63.4 216.9,63.4 216.2,63.3 215.7,63.3 215.2,63.2 214.6,63.1 213.9,63.0 213.2,62.9 212.9,62.9 212.2,62.8 211.6,62.6 211.2,62.5 210.6,62.4 210.2,62.3 209.6,62.1 209.1,61.9 208.6,61.8 208.2,61.6 207.6,61.4 207.2,61.2 206.7,60.9 206.2,60.7 205.9,60.5 205.6,60.2 205.2,59.9 204.8,59.6 204.5,59.3 204.2,58.8 204.0,58.3 204.0,57.6 204.2,57.0 204.5,56.6 204.8,56.3 205.2,55.9 205.6,55.7 205.9,55.5 206.3,55.3 206.9,55.0 207.2,54.9 207.9,54.6 208.2,54.5 208.9,54.4 209.3,54.3 209.9,54.1 210.6,54.0 211.1,53.9 211.6,53.9 212.2,53.8 212.9,53.7 213.6,53.7 214.2,53.6 214.9,53.6 215.6,53.6 216.2,53.6 216.9,53.6 217.6,53.7 218.2,53.7 218.9,53.7 219.6,53.8 220.2,53.9 220.6,53.9 221.2,54.0 221.9,54.1 222.6,54.3 222.9,54.3 223.6,54.5 224.1,54.6 224.6,54.7 225.2,54.9 225.6,55.0 226.2,55.2 226.6,55.4 227.2,55.6 227.6,55.8 227.9,55.9 228.6,56.3 228.9,56.4 229.2,56.7 229.6,56.9 230.0,57.3 230.4,57.6 230.7,57.9 231.1,58.6 231.2,59.3 231.2,59.5 231.2,59.9 230.9,60.5 230.6,60.9 230.3,61.3 229.9,61.5 229.6,61.8 229.2,62.0 228.6,62.3 228.2,62.4 227.6,62.6 227.2,62.7 226.6,62.9 226.2,63.0 225.6,63.1 224.9,63.2 224.3,63.3"/><path d="M225.9,63.6 225.2,63.7 224.6,63.8 223.9,63.8 223.2,63.9 222.6,63.9 221.9,63.9 221.2,63.9 220.6,63.9 219.9,63.9 219.2,63.9 218.6,63.9 217.9,63.9 217.2,63.8 216.6,63.8 215.9,63.7 215.2,63.6 214.9,63.6 214.2,63.5 213.6,63.4 212.9,63.3 212.6,63.3 211.9,63.1 211.2,63.0 210.9,62.9 210.2,62.8 209.6,62.6 209.2,62.5 208.6,62.3 208.2,62.2 207.6,61.9 207.2,61.8 206.8,61.6 206.2,61.4 205.9,61.2 205.4,60.9 204.9,60.6 204.6,60.4 204.2,60.1 203.9,59.8 203.6,59.5 203.2,59.0 203.0,58.6 202.9,58.1 202.9,57.6 203.0,57.3 203.2,56.7 203.6,56.3 203.9,55.9 204.2,55.7 204.6,55.5 204.9,55.2 205.5,54.9 205.9,54.8 206.3,54.6 206.9,54.4 207.3,54.3 207.9,54.1 208.5,53.9 208.9,53.8 209.6,53.7 210.2,53.6 210.6,53.5 211.2,53.5 211.9,53.4 212.6,53.3 213.2,53.3 213.6,53.3 214.2,53.2 214.9,53.2 215.6,53.2 216.2,53.2 216.9,53.2 217.6,53.2 218.2,53.3 218.9,53.3 219.6,53.4 220.2,53.5 220.9,53.6 221.2,53.6 221.9,53.7 222.6,53.8 223.2,53.9 223.6,54.0 224.2,54.2 224.7,54.3 225.2,54.4 225.9,54.6 226.2,54.7 226.9,54.9 227.2,55.1 227.8,55.3 228.2,55.5 228.6,55.6 229.2,55.9 229.6,56.1 229.9,56.3 230.4,56.6 230.8,56.9 231.2,57.3 231.5,57.6 231.8,57.9 232.0,58.3 232.2,58.7 232.4,59.3 232.4,59.9 232.2,60.4 231.9,60.9 231.7,61.3 231.3,61.6 230.9,61.9 230.6,62.1 230.2,62.3 229.7,62.6 229.2,62.8 228.8,62.9 228.2,63.1 227.7,63.3 227.2,63.4 226.6,63.5 225.9,63.6"/><path d="M224.9,64.3 224.2,64.3 223.6,64.4 222.9,64.4 222.2,64.4 221.6,64.4 220.9,64.4 220.2,64.4 219.6,64.4 218.9,64.3 218.2,64.3 217.6,64.3 217.2,64.2 216.6,64.2 215.9,64.1 215.2,64.1 214.6,64.0 214.2,63.9 213.6,63.9 212.9,63.8 212.2,63.6 211.9,63.6 211.2,63.5 210.6,63.3 210.2,63.2 209.6,63.1 209.1,62.9 208.6,62.8 207.9,62.6 207.6,62.5 207.0,62.3 206.6,62.1 206.1,61.9 205.6,61.7 205.2,61.5 204.7,61.3 204.2,61.0 203.9,60.8 203.6,60.5 203.2,60.3 202.8,59.9 202.5,59.6 202.2,59.3 201.9,58.6 201.8,58.3 201.7,57.6 201.9,56.9 202.2,56.4 202.6,56.0 202.9,55.7 203.2,55.4 203.6,55.2 204.0,54.9 204.6,54.7 204.9,54.5 205.5,54.3 205.9,54.1 206.5,53.9 206.9,53.8 207.6,53.6 207.9,53.5 208.6,53.4 209.2,53.3 209.6,53.2 210.2,53.1 210.9,53.0 211.6,53.0 211.9,52.9 212.6,52.9 213.2,52.8 213.9,52.8 214.6,52.8 215.2,52.8 215.9,52.8 216.6,52.8 217.2,52.8 217.9,52.8 218.6,52.9 219.1,52.9 219.6,53.0 220.2,53.0 220.9,53.1 221.6,53.2 221.9,53.3 222.6,53.4 223.2,53.5 223.8,53.6 224.2,53.7 224.9,53.8 225.2,53.9 225.9,54.1 226.5,54.3 226.9,54.4 227.5,54.6 227.9,54.7 228.4,54.9 228.9,55.1 229.2,55.3 229.9,55.6 230.2,55.8 230.6,55.9 231.1,56.3 231.6,56.6 231.9,56.8 232.2,57.1 232.6,57.4 232.9,57.8 233.2,58.3 233.4,58.6 233.6,59.3 233.6,59.6 233.6,60.0 233.4,60.6 233.2,61.0 232.9,61.5 232.6,61.8 232.2,62.1 231.9,62.4 231.5,62.6 230.9,62.9 230.6,63.1 230.2,63.3 229.6,63.5 229.2,63.6 228.6,63.8 227.9,63.9 227.6,64.0 226.9,64.1 226.2,64.2 225.6,64.2 225.1,64.3"/><path d="M224.9,64.9 224.2,65.0 223.6,65.0 222.9,65.0 222.2,65.0 221.6,64.9 220.9,64.9 220.2,64.9 219.6,64.9 218.9,64.8 218.2,64.8 217.6,64.8 216.9,64.7 216.2,64.7 215.6,64.6 215.2,64.6 214.6,64.5 213.9,64.4 213.2,64.3 212.9,64.3 212.2,64.2 211.6,64.0 211.0,63.9 210.6,63.8 209.9,63.7 209.5,63.6 208.9,63.5 208.2,63.3 207.9,63.2 207.2,63.0 206.9,62.9 206.2,62.6 205.9,62.5 205.3,62.3 204.9,62.1 204.5,61.9 203.9,61.6 203.6,61.5 203.2,61.3 202.7,60.9 202.2,60.6 201.9,60.3 201.6,60.0 201.2,59.7 200.9,59.3 200.7,58.9 200.6,58.6 200.4,57.9 200.4,57.3 200.6,56.9 200.9,56.3 201.2,55.9 201.5,55.6 201.9,55.3 202.2,55.0 202.6,54.8 202.9,54.6 203.6,54.3 203.9,54.1 204.4,53.9 204.9,53.8 205.4,53.6 205.9,53.4 206.5,53.3 206.9,53.2 207.6,53.0 208.0,52.9 208.6,52.8 209.2,52.7 209.9,52.6 210.2,52.6 210.9,52.5 211.6,52.4 212.2,52.4 212.9,52.4 213.6,52.3 214.2,52.3 214.9,52.3 215.6,52.3 216.2,52.3 216.9,52.3 217.6,52.3 218.2,52.4 218.9,52.4 219.6,52.5 220.2,52.6 220.6,52.6 221.2,52.7 221.9,52.8 222.6,52.9 223.0,52.9 223.6,53.0 224.2,53.2 224.7,53.3 225.2,53.4 225.9,53.5 226.2,53.6 226.9,53.8 227.3,53.9 227.9,54.1 228.3,54.3 228.9,54.5 229.2,54.6 229.9,54.9 230.2,55.0 230.8,55.3 231.2,55.5 231.6,55.7 232.0,55.9 232.5,56.3 232.9,56.5 233.2,56.8 233.6,57.1 233.9,57.4 234.2,57.8 234.5,58.3 234.7,58.6 234.9,59.2 235.0,59.6 234.9,60.3 234.9,60.6 234.6,61.3 234.4,61.6 234.1,61.9 233.8,62.3 233.5,62.6 233.1,62.9 232.6,63.3 232.2,63.5 231.9,63.6 231.2,63.9 230.9,64.1 230.3,64.3 229.9,64.4 229.2,64.5 228.8,64.6 228.2,64.7 227.6,64.8 226.9,64.8 226.2,64.9 225.6,64.9 225.1,64.9"/><path d="M229.9,65.6 229.2,65.7 228.6,65.7 227.9,65.8 227.2,65.8 226.6,65.8 225.9,65.7 225.2,65.7 224.6,65.7 223.9,65.7 223.2,65.7 222.6,65.6 222.2,65.6 221.6,65.6 220.9,65.5 220.2,65.5 219.6,65.5 218.9,65.4 218.2,65.4 217.6,65.3 216.9,65.3 216.2,65.2 215.6,65.1 214.9,65.1 214.2,65.0 213.8,64.9 213.2,64.9 212.6,64.8 211.9,64.7 211.5,64.6 210.9,64.5 210.2,64.4 209.8,64.3 209.2,64.1 208.6,64.0 208.2,63.9 207.6,63.7 207.1,63.6 206.6,63.4 206.0,63.3 205.6,63.1 205.1,62.9 204.6,62.7 204.2,62.6 203.6,62.3 203.2,62.2 202.8,61.9 202.2,61.6 201.9,61.4 201.6,61.2 201.1,60.9 200.7,60.6 200.3,60.3 200.0,59.9 199.7,59.6 199.4,59.3 199.2,58.9 199.0,58.3 198.9,57.6 199.0,56.9 199.2,56.5 199.6,55.9 199.9,55.6 200.2,55.3 200.6,55.0 200.9,54.7 201.2,54.5 201.7,54.3 202.2,54.0 202.6,53.8 203.1,53.6 203.6,53.4 204.0,53.3 204.6,53.1 205.1,52.9 205.6,52.8 206.2,52.7 206.6,52.6 207.2,52.4 207.9,52.3 208.3,52.3 208.9,52.2 209.6,52.1 210.2,52.0 210.9,51.9 211.2,51.9 211.9,51.9 212.6,51.8 213.2,51.8 213.9,51.8 214.6,51.8 215.2,51.7 215.9,51.8 216.6,51.8 217.2,51.8 217.9,51.8 218.6,51.9 219.2,51.9 219.6,52.0 220.2,52.0 220.9,52.1 221.6,52.2 222.2,52.3 222.6,52.3 223.2,52.4 223.9,52.5 224.3,52.6 224.9,52.7 225.6,52.9 225.9,52.9 226.6,53.1 227.2,53.3 227.6,53.4 228.2,53.6 228.6,53.7 229.2,53.9 229.6,54.0 230.2,54.3 230.6,54.4 231.1,54.6 231.6,54.8 231.9,55.0 232.5,55.3 232.9,55.5 233.2,55.7 233.6,55.9 234.1,56.3 234.5,56.6 234.9,56.9 235.2,57.3 235.5,57.6 235.8,57.9 236.0,58.3 236.2,58.8 236.4,59.3 236.5,59.9 236.4,60.6 236.2,61.3 236.1,61.6 235.9,62.0 235.6,62.4 235.2,62.9 234.9,63.2 234.6,63.5 234.2,63.8 233.9,64.1 233.6,64.3 233.0,64.6 232.6,64.8 232.2,65.0 231.6,65.2 231.2,65.3 230.6,65.5 229.9,65.6"/><path d="M232.9,67.7 232.2,67.9 231.6,67.9 230.9,67.9 230.2,67.7 229.6,67.6 229.2,67.5 228.6,67.4 228.2,67.3 227.6,67.1 226.9,67.0 226.5,66.9 225.9,66.8 225.2,66.7 224.6,66.6 224.2,66.6 223.6,66.5 222.9,66.4 222.2,66.4 221.6,66.3 221.2,66.3 220.6,66.2 219.9,66.2 219.2,66.1 218.6,66.0 217.9,66.0 217.4,65.9 216.9,65.9 216.2,65.8 215.6,65.8 214.9,65.7 214.2,65.6 213.9,65.6 213.2,65.5 212.6,65.4 211.9,65.3 211.6,65.2 210.9,65.1 210.2,65.0 209.9,64.9 209.2,64.8 208.6,64.7 208.2,64.6 207.6,64.4 207.0,64.3 206.6,64.2 205.9,64.0 205.6,63.9 204.9,63.6 204.6,63.5 203.9,63.3 203.6,63.2 203.0,62.9 202.6,62.7 202.2,62.6 201.6,62.3 201.2,62.1 200.9,61.9 200.4,61.6 199.9,61.3 199.6,61.0 199.2,60.8 198.9,60.5 198.6,60.2 198.2,59.8 197.9,59.3 197.7,58.9 197.5,58.6 197.3,57.9 197.3,57.3 197.5,56.6 197.7,56.3 197.9,55.9 198.2,55.5 198.6,55.1 198.9,54.8 199.2,54.6 199.7,54.3 200.2,53.9 200.6,53.8 200.9,53.6 201.6,53.3 201.9,53.2 202.5,52.9 202.9,52.8 203.5,52.6 203.9,52.5 204.6,52.3 204.9,52.2 205.6,52.1 206.2,51.9 206.6,51.9 207.2,51.8 207.9,51.6 208.3,51.6 208.9,51.5 209.6,51.4 210.2,51.4 210.9,51.3 211.6,51.3 211.9,51.2 212.6,51.2 213.2,51.2 213.9,51.2 214.6,51.2 215.2,51.2 215.9,51.2 216.6,51.2 217.2,51.2 217.9,51.2 218.2,51.3 218.9,51.3 219.6,51.4 220.2,51.4 220.9,51.5 221.6,51.6 221.9,51.6 222.6,51.7 223.2,51.8 223.9,51.9 224.2,52.0 224.9,52.1 225.6,52.2 225.9,52.3 226.6,52.4 227.2,52.6 227.6,52.7 228.2,52.9 228.6,53.0 229.2,53.2 229.6,53.3 230.2,53.5 230.6,53.6 231.2,53.8 231.6,54.0 232.2,54.3 232.6,54.4 233.0,54.6 233.6,54.9 233.9,55.1 234.3,55.3 234.8,55.6 235.2,55.9 235.6,56.1 235.9,56.4 236.2,56.7 236.6,57.0 236.9,57.3 237.2,57.7 237.6,58.2 237.8,58.6 237.9,58.9 238.1,59.6 238.1,60.3 238.1,60.9 237.9,61.5 237.8,61.9 237.6,62.3 237.2,62.9 237.0,63.3 236.8,63.6 236.6,63.9 236.2,64.4 235.9,64.8 235.6,65.2 235.2,65.6 234.9,65.9 234.6,66.3 234.3,66.6 233.9,66.9 233.6,67.2 233.2,67.5 232.9,67.7"/><path d="M235.9,75.8 235.2,75.9 234.6,75.8 234.0,75.6 233.6,75.3 233.2,75.1 232.9,74.8 232.6,74.5 232.2,74.2 231.9,73.9 231.6,73.5 231.2,73.1 230.9,72.6 230.6,72.3 230.4,71.9 230.2,71.6 229.9,71.2 229.6,70.7 229.2,70.3 229.0,69.9 228.7,69.6 228.3,69.3 227.9,68.9 227.6,68.7 227.2,68.5 226.9,68.3 226.2,68.0 225.9,67.8 225.2,67.6 224.9,67.5 224.2,67.3 223.9,67.3 223.2,67.1 222.6,67.0 222.1,66.9 221.6,66.9 220.9,66.8 220.2,66.7 219.6,66.6 219.2,66.6 218.6,66.5 217.9,66.4 217.2,66.4 216.6,66.3 216.2,66.3 215.6,66.2 214.9,66.1 214.2,66.0 213.6,66.0 213.2,65.9 212.6,65.8 211.9,65.7 211.2,65.6 210.9,65.6 210.2,65.4 209.6,65.3 209.2,65.3 208.6,65.1 207.9,65.0 207.6,64.9 206.9,64.7 206.4,64.6 205.9,64.5 205.2,64.3 204.9,64.2 204.2,63.9 203.9,63.8 203.2,63.6 202.9,63.5 202.4,63.3 201.9,63.1 201.6,62.9 200.9,62.6 200.6,62.4 200.2,62.3 199.7,61.9 199.2,61.7 198.9,61.4 198.6,61.2 198.2,60.9 197.8,60.6 197.5,60.3 197.2,59.9 196.9,59.6 196.6,59.0 196.4,58.6 196.2,58.1 196.2,57.6 196.2,57.0 196.3,56.6 196.6,56.1 196.9,55.6 197.2,55.3 197.5,54.9 197.9,54.6 198.2,54.3 198.6,54.1 198.9,53.9 199.4,53.6 199.9,53.3 200.2,53.2 200.8,52.9 201.2,52.8 201.7,52.6 202.2,52.4 202.7,52.3 203.2,52.1 203.9,51.9 204.2,51.9 204.9,51.7 205.4,51.6 205.9,51.5 206.6,51.4 207.2,51.3 207.6,51.2 208.2,51.1 208.9,51.1 209.6,51.0 210.1,50.9 210.6,50.9 211.2,50.8 211.9,50.8 212.6,50.8 213.2,50.8 213.9,50.7 214.6,50.7 215.2,50.7 215.9,50.7 216.6,50.8 217.2,50.8 217.9,50.8 218.6,50.9 219.2,50.9 219.6,50.9 220.2,51.0 220.9,51.1 221.6,51.1 222.2,51.2 222.6,51.3 223.2,51.4 223.9,51.5 224.6,51.6 224.9,51.6 225.6,51.8 226.2,51.9 226.6,52.0 227.2,52.1 227.8,52.3 228.2,52.4 228.9,52.6 229.2,52.7 229.9,52.9 230.2,53.0 230.9,53.2 231.2,53.3 231.9,53.5 232.2,53.7 232.9,53.9 233.2,54.1 233.6,54.3 234.2,54.6 234.6,54.7 234.9,54.9 235.5,55.3 235.9,55.5 236.2,55.7 236.6,56.0 237.0,56.3 237.3,56.6 237.7,56.9 238.0,57.3 238.3,57.6 238.6,58.0 238.9,58.6 239.0,58.9 239.2,59.6 239.3,59.9 239.3,60.6 239.2,61.0 239.1,61.6 238.9,62.3 238.8,62.6 238.6,63.0 238.3,63.6 238.1,63.9 237.9,64.3 237.6,64.9 237.4,65.3 237.2,65.7 237.0,66.3 236.9,66.7 236.8,67.3 236.8,67.9 236.8,68.6 236.9,69.3 236.9,69.6 237.0,70.3 237.1,70.9 237.2,71.6 237.2,72.3 237.2,72.9 237.2,73.6 237.0,74.3 236.9,74.7 236.6,75.3 236.2,75.6"/><path d="M236.9,80.0 236.2,80.0 235.6,79.9 235.2,79.9 234.6,79.6 234.2,79.5 233.8,79.3 233.3,78.9 232.9,78.7 232.6,78.4 232.2,78.1 231.9,77.8 231.6,77.5 231.2,77.1 230.9,76.7 230.6,76.4 230.2,75.9 229.9,75.5 229.6,75.0 229.3,74.6 229.0,74.3 228.8,73.9 228.6,73.6 228.2,73.0 228.0,72.6 227.8,72.3 227.6,71.9 227.2,71.4 226.9,70.9 226.7,70.6 226.5,70.3 226.2,69.9 225.9,69.6 225.5,69.3 225.1,68.9 224.6,68.6 224.2,68.5 223.8,68.3 223.2,68.1 222.9,67.9 222.2,67.8 221.6,67.6 221.2,67.5 220.6,67.4 219.9,67.3 219.6,67.2 218.9,67.1 218.2,67.0 217.6,67.0 217.2,66.9 216.6,66.8 215.9,66.8 215.2,66.7 214.6,66.6 214.2,66.6 213.6,66.5 212.9,66.4 212.2,66.3 211.9,66.2 211.2,66.1 210.6,66.0 210.0,65.9 209.6,65.9 208.9,65.7 208.3,65.6 207.9,65.5 207.2,65.4 206.8,65.3 206.2,65.1 205.6,65.0 205.2,64.9 204.6,64.7 204.2,64.6 203.6,64.4 203.2,64.3 202.6,64.0 202.2,63.9 201.6,63.6 201.2,63.5 200.7,63.3 200.2,63.1 199.9,62.9 199.3,62.6 198.9,62.4 198.6,62.2 198.2,61.9 197.7,61.6 197.2,61.3 196.9,61.0 196.6,60.7 196.2,60.4 195.9,60.0 195.6,59.6 195.4,59.3 195.2,58.9 194.9,58.3 194.9,57.9 194.8,57.3 194.9,56.8 195.1,56.3 195.2,55.9 195.6,55.4 195.9,55.0 196.2,54.7 196.6,54.4 196.9,54.1 197.2,53.9 197.7,53.6 198.2,53.3 198.6,53.1 199.0,52.9 199.6,52.7 199.9,52.5 200.6,52.3 200.9,52.1 201.6,51.9 201.9,51.8 202.6,51.6 202.9,51.6 203.6,51.4 204.1,51.3 204.6,51.2 205.2,51.0 205.8,50.9 206.2,50.9 206.9,50.8 207.6,50.7 208.1,50.6 208.6,50.5 209.2,50.5 209.9,50.4 210.6,50.4 211.2,50.3 211.9,50.3 212.6,50.3 212.9,50.3 213.6,50.2 214.2,50.2 214.9,50.2 215.6,50.2 216.2,50.3 216.6,50.3 217.2,50.3 217.9,50.3 218.6,50.4 219.2,50.4 219.9,50.5 220.6,50.5 221.2,50.6 221.6,50.6 222.2,50.7 222.9,50.8 223.6,50.9 223.9,51.0 224.6,51.1 225.2,51.2 225.7,51.3 226.2,51.4 226.9,51.5 227.3,51.6 227.9,51.7 228.6,51.9 228.9,52.0 229.6,52.2 229.9,52.3 230.6,52.4 231.0,52.6 231.6,52.8 232.0,52.9 232.6,53.1 232.9,53.3 233.6,53.5 233.9,53.7 234.5,53.9 234.9,54.1 235.2,54.3 235.9,54.6 236.2,54.8 236.6,55.0 237.0,55.3 237.5,55.6 237.9,55.9 238.2,56.2 238.6,56.5 238.9,56.8 239.2,57.1 239.6,57.5 239.9,57.9 240.1,58.3 240.2,58.6 240.5,59.3 240.6,59.7 240.6,60.3 240.6,60.9 240.6,61.4 240.5,61.9 240.3,62.6 240.2,62.9 239.9,63.6 239.8,63.9 239.6,64.6 239.4,64.9 239.3,65.6 239.2,65.9 239.1,66.6 239.1,67.3 239.2,67.9 239.2,68.3 239.4,68.9 239.5,69.6 239.6,70.0 239.7,70.6 239.8,71.3 239.9,71.7 240.0,72.3 240.1,72.9 240.2,73.6 240.2,74.3 240.2,74.9 240.2,75.6 240.1,76.3 240.0,76.9 239.9,77.4 239.7,77.9 239.5,78.3 239.2,78.7 238.9,79.0 238.6,79.3 238.1,79.6 237.6,79.8 237.2,79.9"/><path d="M238.2,83.0 237.6,83.0 236.9,83.1 236.2,83.0 235.6,82.9 235.2,82.9 234.6,82.7 234.2,82.5 233.6,82.3 233.2,82.1 232.9,81.9 232.4,81.6 231.9,81.3 231.6,81.0 231.2,80.7 230.9,80.4 230.6,80.1 230.2,79.7 229.9,79.4 229.6,79.0 229.2,78.6 229.0,78.3 228.7,77.9 228.5,77.6 228.2,77.3 227.9,76.8 227.6,76.3 227.3,75.9 227.1,75.6 226.9,75.3 226.6,74.8 226.2,74.3 226.0,73.9 225.8,73.6 225.6,73.2 225.2,72.6 225.0,72.3 224.8,71.9 224.6,71.5 224.2,71.1 223.9,70.6 223.6,70.3 223.3,69.9 222.9,69.6 222.6,69.4 222.2,69.2 221.8,68.9 221.2,68.7 220.9,68.6 220.2,68.4 219.9,68.3 219.2,68.1 218.6,68.0 218.2,67.9 217.6,67.8 216.9,67.7 216.4,67.6 215.9,67.5 215.2,67.4 214.6,67.4 213.9,67.3 213.6,67.2 212.9,67.1 212.2,67.0 211.6,66.9 211.2,66.9 210.6,66.8 209.9,66.7 209.5,66.6 208.9,66.5 208.2,66.4 207.8,66.3 207.2,66.2 206.6,66.0 206.2,65.9 205.6,65.8 204.9,65.6 204.6,65.5 203.9,65.3 203.6,65.2 202.9,65.0 202.6,64.9 201.9,64.7 201.6,64.6 200.9,64.3 200.6,64.2 199.9,63.9 199.6,63.8 199.1,63.6 198.6,63.3 198.2,63.2 197.8,62.9 197.2,62.6 196.9,62.4 196.6,62.2 196.1,61.9 195.6,61.6 195.2,61.3 194.9,61.0 194.6,60.7 194.2,60.3 193.9,59.9 193.7,59.6 193.4,59.3 193.2,58.8 193.0,58.3 192.9,57.6 192.9,56.9 193.1,56.3 193.3,55.9 193.6,55.4 193.9,54.9 194.2,54.6 194.5,54.3 194.9,54.0 195.2,53.7 195.6,53.5 195.9,53.3 196.5,52.9 196.9,52.7 197.2,52.5 197.8,52.3 198.2,52.1 198.6,51.9 199.2,51.7 199.6,51.6 200.2,51.4 200.6,51.3 201.2,51.1 201.8,50.9 202.2,50.8 202.9,50.7 203.2,50.6 203.9,50.4 204.6,50.3 204.9,50.3 205.6,50.2 206.2,50.1 206.9,50.0 207.3,49.9 207.9,49.9 208.6,49.8 209.2,49.7 209.9,49.7 210.6,49.6 211.2,49.6 211.6,49.6 212.2,49.6 212.9,49.5 213.6,49.5 214.2,49.5 214.9,49.5 215.6,49.5 216.2,49.6 216.9,49.6 217.3,49.6 217.9,49.6 218.6,49.7 219.2,49.7 219.9,49.8 220.6,49.8 221.2,49.9 221.6,49.9 222.2,50.0 222.9,50.1 223.6,50.2 224.2,50.3 224.6,50.3 225.2,50.4 225.9,50.6 226.2,50.6 226.9,50.7 227.6,50.9 227.9,51.0 228.6,51.1 229.2,51.3 229.6,51.3 230.2,51.5 230.6,51.6 231.2,51.8 231.7,51.9 232.2,52.1 232.7,52.3 233.2,52.4 233.6,52.6 234.2,52.8 234.6,53.0 235.2,53.2 235.6,53.4 236.1,53.6 236.6,53.8 236.9,54.0 237.4,54.3 237.9,54.6 238.2,54.8 238.6,55.0 239.0,55.3 239.5,55.6 239.9,55.9 240.3,56.3 240.6,56.6 241.0,56.9 241.2,57.3 241.6,57.7 241.9,58.3 242.1,58.6 242.2,59.0 242.4,59.6 242.5,60.3 242.5,60.9 242.5,61.6 242.4,62.3 242.2,62.8 242.1,63.3 241.9,63.9 241.9,64.3 241.7,64.9 241.6,65.6 241.6,66.3 241.6,66.9 241.7,67.6 241.8,68.3 241.9,68.9 242.0,69.3 242.1,69.9 242.2,70.4 242.3,70.9 242.5,71.6 242.6,72.1 242.7,72.6 242.8,73.3 242.9,73.9 242.9,74.3 243.0,74.9 243.0,75.6 243.0,76.3 243.0,76.9 242.9,77.6 242.9,77.9 242.8,78.6 242.6,79.3 242.4,79.6 242.2,80.0 241.9,80.6 241.7,80.9 241.4,81.3 241.0,81.6 240.6,81.9 240.2,82.2 239.9,82.4 239.4,82.6 238.9,82.8 238.3,82.9 M203.9,103.3 203.2,103.3 202.6,103.3 202.2,103.1 202.0,102.6 202.2,101.9 202.5,101.6 202.9,101.3 203.2,101.1 203.6,100.8 204.0,100.6 204.6,100.4 204.9,100.2 205.6,100.0 205.9,99.9 206.6,99.8 207.2,99.8 207.7,99.9 208.0,100.3 207.9,100.9 207.7,101.3 207.4,101.6 207.0,101.9 206.6,102.3 206.2,102.5 205.9,102.6 205.3,102.9 204.9,103.1 204.2,103.2 203.9,103.3"/><path d="M237.9,85.9 237.2,86.0 236.6,85.9 236.2,85.9 235.6,85.8 234.9,85.7 234.6,85.6 233.9,85.4 233.5,85.3 232.9,85.0 232.6,84.9 232.1,84.6 231.6,84.3 231.2,84.1 230.9,83.9 230.5,83.6 230.0,83.3 229.6,82.9 229.3,82.6 228.9,82.3 228.6,81.9 228.3,81.6 228.0,81.3 227.7,80.9 227.4,80.6 227.1,80.3 226.9,79.9 226.6,79.5 226.2,79.1 225.9,78.6 225.7,78.3 225.4,77.9 225.2,77.6 224.9,77.1 224.6,76.6 224.3,76.3 224.1,75.9 223.9,75.5 223.6,75.0 223.3,74.6 223.1,74.3 222.9,73.9 222.6,73.3 222.3,72.9 222.1,72.6 221.9,72.3 221.6,71.8 221.2,71.4 220.9,71.0 220.6,70.7 220.2,70.4 219.9,70.2 219.5,69.9 218.9,69.6 218.6,69.5 218.0,69.3 217.6,69.1 216.9,68.9 216.6,68.9 215.9,68.7 215.3,68.6 214.9,68.5 214.2,68.4 213.6,68.3 213.2,68.3 212.6,68.2 211.9,68.1 211.2,68.0 210.9,67.9 210.2,67.8 209.6,67.7 209.0,67.6 208.6,67.5 207.9,67.4 207.2,67.3 206.9,67.2 206.2,67.1 205.6,66.9 205.2,66.9 204.6,66.7 204.2,66.6 203.6,66.4 202.9,66.3 202.6,66.2 201.9,66.0 201.6,65.9 200.9,65.7 200.6,65.6 199.9,65.3 199.6,65.2 198.9,65.0 198.6,64.8 198.0,64.6 197.6,64.4 197.2,64.3 196.6,64.0 196.2,63.8 195.8,63.6 195.2,63.3 194.9,63.1 194.6,62.9 194.1,62.6 193.6,62.3 193.2,62.0 192.9,61.7 192.6,61.5 192.2,61.2 191.9,60.8 191.6,60.5 191.2,60.1 190.9,59.6 190.7,59.3 190.5,58.9 190.3,58.3 190.2,57.9 190.2,57.3 190.2,56.6 190.3,56.3 190.6,55.6 190.7,55.3 191.0,54.9 191.2,54.6 191.6,54.2 191.9,53.9 192.2,53.6 192.6,53.3 193.1,52.9 193.6,52.6 193.9,52.4 194.2,52.2 194.8,51.9 195.2,51.7 195.6,51.6 196.2,51.3 196.6,51.2 197.2,50.9 197.6,50.8 198.2,50.6 198.6,50.5 199.2,50.3 199.6,50.2 200.2,50.0 200.6,49.9 201.2,49.8 201.9,49.6 202.2,49.6 202.9,49.4 203.6,49.3 203.9,49.3 204.6,49.2 205.2,49.1 205.9,49.0 206.3,48.9 206.9,48.9 207.6,48.8 208.2,48.7 208.9,48.7 209.6,48.6 210.2,48.6 210.6,48.6 211.2,48.5 211.9,48.5 212.6,48.5 213.2,48.5 213.9,48.5 214.6,48.5 215.2,48.5 215.9,48.5 216.6,48.5 217.2,48.6 217.7,48.6 218.2,48.6 218.9,48.7 219.6,48.7 220.2,48.8 220.9,48.8 221.6,48.9 221.9,48.9 222.6,49.0 223.2,49.1 223.9,49.2 224.5,49.3 224.9,49.3 225.6,49.4 226.2,49.5 226.6,49.6 227.2,49.7 227.9,49.8 228.3,49.9 228.9,50.1 229.6,50.2 229.9,50.3 230.6,50.4 231.2,50.6 231.6,50.7 232.2,50.9 232.6,51.0 233.2,51.2 233.6,51.3 234.2,51.5 234.6,51.6 235.2,51.8 235.6,52.0 236.2,52.2 236.6,52.4 237.1,52.6 237.6,52.8 237.9,52.9 238.6,53.3 238.9,53.4 239.2,53.6 239.8,53.9 240.2,54.2 240.6,54.4 240.9,54.6 241.4,54.9 241.9,55.3 242.2,55.5 242.6,55.8 242.9,56.1 243.2,56.5 243.6,56.8 243.9,57.2 244.2,57.6 244.4,57.9 244.6,58.3 244.8,58.9 244.9,59.3 245.1,59.9 245.2,60.6 245.2,61.3 245.1,61.9 245.0,62.6 244.9,63.2 244.8,63.6 244.7,64.3 244.6,64.9 244.6,65.3 244.5,65.9 244.5,66.6 244.6,67.0 244.6,67.6 244.7,68.3 244.8,68.9 244.9,69.3 245.0,69.9 245.2,70.6 245.2,70.9 245.4,71.6 245.5,72.3 245.6,72.6 245.7,73.3 245.8,73.9 245.9,74.6 245.9,74.9 246.0,75.6 246.0,76.3 246.0,76.9 246.0,77.6 246.0,78.3 245.9,78.9 245.9,79.3 245.7,79.9 245.6,80.4 245.4,80.9 245.2,81.3 244.9,81.9 244.7,82.3 244.5,82.6 244.2,82.9 243.9,83.3 243.6,83.6 243.2,83.9 242.8,84.3 242.3,84.6 241.9,84.8 241.6,85.0 241.0,85.3 240.6,85.4 240.0,85.6 239.6,85.7 238.9,85.8 238.2,85.9 237.9,85.9 M203.2,106.0 202.6,106.1 201.9,106.2 201.2,106.2 200.6,106.3 199.9,106.2 199.2,106.1 198.6,106.0 198.2,105.8 197.8,105.6 197.4,105.3 197.2,104.9 197.0,104.3 197.0,103.6 197.2,103.0 197.4,102.6 197.7,102.3 197.9,101.9 198.2,101.6 198.6,101.3 199.0,100.9 199.4,100.6 199.9,100.3 200.2,100.0 200.6,99.8 201.0,99.6 201.6,99.3 201.9,99.1 202.3,98.9 202.9,98.7 203.2,98.5 203.9,98.3 204.2,98.1 204.8,97.9 205.2,97.8 205.9,97.6 206.2,97.5 206.9,97.3 207.2,97.3 207.9,97.1 208.6,97.0 209.2,97.0 209.9,97.0 210.6,97.0 211.2,97.2 211.6,97.3 212.1,97.6 212.4,97.9 212.6,98.4 212.6,98.9 212.6,99.3 212.4,99.9 212.2,100.3 211.9,100.7 211.6,101.2 211.2,101.5 210.9,101.9 210.6,102.2 210.2,102.5 209.9,102.8 209.6,103.0 209.2,103.3 208.8,103.6 208.2,103.9 207.9,104.1 207.6,104.3 207.0,104.6 206.6,104.8 206.2,105.0 205.6,105.2 205.2,105.4 204.6,105.6 204.2,105.7 203.6,105.9 203.2,106.0"/></g>
<rect x="187.00" y="43.25" width="35.50" height="23.75" fill="none" stroke="#5a5a5a" stroke-width="0.8" />
<rect x="222.50" y="43.25" width="35.75" height="23.75" fill="none" stroke="#5a5a5a" stroke-width="0.8" />
<rect x="190.50" y="67.00" width="32.00" height="27.25" fill="none" stroke="#5a5a5a" stroke-width="0.8" />
<rect x="222.50" y="67.00" width="39.00" height="43.00" fill="none" stroke="#5a5a5a" stroke-width="0.8" />
<rect x="171.40" y="33.10" width="96.10" height="95.20" fill="none" stroke="#1a1a1a" stroke-width="1.0" />
<rect x="169.40" y="104.60" width="2.00" height="3.60" fill="#111" stroke="none" stroke-width="0.8" />
<rect x="190.60" y="128.30" width="3.60" height="2.20" fill="#111" stroke="none" stroke-width="0.8" />
<line x1="168.20" y1="42.20" x2="171.40" y2="42.20" stroke="#222" stroke-width="0.8" />
<text x="164.80" y="44.60" font-size="6.8" text-anchor="end" fill="#222">10<tspan font-size="4.22" dy="-2.86">5</tspan></text>
<line x1="168.20" y1="65.30" x2="171.40" y2="65.30" stroke="#222" stroke-width="0.8" />
<text x="164.80" y="67.70" font-size="6.8" text-anchor="end" fill="#222">10<tspan font-size="4.22" dy="-2.86">4</tspan></text>
<line x1="168.20" y1="90.80" x2="171.40" y2="90.80" stroke="#222" stroke-width="0.8" />
<text x="164.80" y="93.20" font-size="6.8" text-anchor="end" fill="#222">10<tspan font-size="4.22" dy="-2.86">3</tspan></text>
<line x1="168.20" y1="105.70" x2="171.40" y2="105.70" stroke="#222" stroke-width="0.8" />
<text x="164.50" y="108.10" font-size="6.8" text-anchor="end" fill="#222" >0</text>
<line x1="168.20" y1="121.90" x2="171.40" y2="121.90" stroke="#222" stroke-width="0.8" />
<text x="164.80" y="124.30" font-size="6.8" text-anchor="end" fill="#222">−10<tspan font-size="4.22" dy="-2.86">3</tspan></text>
<line x1="169.90" y1="58.35" x2="171.40" y2="58.35" stroke="#222" stroke-width="0.5" />
<line x1="169.90" y1="54.28" x2="171.40" y2="54.28" stroke="#222" stroke-width="0.5" />
<line x1="169.90" y1="51.39" x2="171.40" y2="51.39" stroke="#222" stroke-width="0.5" />
<line x1="169.90" y1="49.15" x2="171.40" y2="49.15" stroke="#222" stroke-width="0.5" />
<line x1="169.90" y1="47.32" x2="171.40" y2="47.32" stroke="#222" stroke-width="0.5" />
<line x1="169.90" y1="45.78" x2="171.40" y2="45.78" stroke="#222" stroke-width="0.5" />
<line x1="169.90" y1="44.44" x2="171.40" y2="44.44" stroke="#222" stroke-width="0.5" />
<line x1="169.90" y1="43.26" x2="171.40" y2="43.26" stroke="#222" stroke-width="0.5" />
<line x1="169.90" y1="83.12" x2="171.40" y2="83.12" stroke="#222" stroke-width="0.5" />
<line x1="169.90" y1="78.63" x2="171.40" y2="78.63" stroke="#222" stroke-width="0.5" />
<line x1="169.90" y1="75.45" x2="171.40" y2="75.45" stroke="#222" stroke-width="0.5" />
<line x1="169.90" y1="72.98" x2="171.40" y2="72.98" stroke="#222" stroke-width="0.5" />
<line x1="169.90" y1="70.96" x2="171.40" y2="70.96" stroke="#222" stroke-width="0.5" />
<line x1="169.90" y1="69.25" x2="171.40" y2="69.25" stroke="#222" stroke-width="0.5" />
<line x1="169.90" y1="67.77" x2="171.40" y2="67.77" stroke="#222" stroke-width="0.5" />
<line x1="169.90" y1="66.47" x2="171.40" y2="66.47" stroke="#222" stroke-width="0.5" />
<line x1="169.90" y1="95.10" x2="171.40" y2="95.10" stroke="#222" stroke-width="0.5" />
<line x1="169.90" y1="100.10" x2="171.40" y2="100.10" stroke="#222" stroke-width="0.5" />
<line x1="169.90" y1="111.10" x2="171.40" y2="111.10" stroke="#222" stroke-width="0.5" />
<line x1="169.90" y1="116.10" x2="171.40" y2="116.10" stroke="#222" stroke-width="0.5" />
<line x1="176.60" y1="128.30" x2="176.60" y2="131.30" stroke="#222" stroke-width="0.8" />
<line x1="192.20" y1="128.30" x2="192.20" y2="131.30" stroke="#222" stroke-width="0.8" />
<line x1="207.80" y1="128.30" x2="207.80" y2="131.30" stroke="#222" stroke-width="0.8" />
<line x1="233.40" y1="128.30" x2="233.40" y2="131.30" stroke="#222" stroke-width="0.8" />
<line x1="256.00" y1="128.30" x2="256.00" y2="131.30" stroke="#222" stroke-width="0.8" />
<text x="179.10" y="141.60" font-size="6.8" text-anchor="middle" fill="#222">−10<tspan font-size="4.22" dy="-2.86">3</tspan></text>
<text x="193.90" y="141.60" font-size="6.8" text-anchor="middle" fill="#222" >0</text>
<text x="208.00" y="141.60" font-size="6.8" text-anchor="middle" fill="#222">10<tspan font-size="4.22" dy="-2.86">3</tspan></text>
<text x="235.20" y="141.60" font-size="6.8" text-anchor="middle" fill="#222">10<tspan font-size="4.22" dy="-2.86">4</tspan></text>
<text x="257.40" y="141.60" font-size="6.8" text-anchor="middle" fill="#222">10<tspan font-size="4.22" dy="-2.86">5</tspan></text>
<line x1="215.51" y1="128.30" x2="215.51" y2="129.80" stroke="#222" stroke-width="0.5" />
<line x1="220.01" y1="128.30" x2="220.01" y2="129.80" stroke="#222" stroke-width="0.5" />
<line x1="223.21" y1="128.30" x2="223.21" y2="129.80" stroke="#222" stroke-width="0.5" />
<line x1="225.69" y1="128.30" x2="225.69" y2="129.80" stroke="#222" stroke-width="0.5" />
<line x1="227.72" y1="128.30" x2="227.72" y2="129.80" stroke="#222" stroke-width="0.5" />
<line x1="229.43" y1="128.30" x2="229.43" y2="129.80" stroke="#222" stroke-width="0.5" />
<line x1="230.92" y1="128.30" x2="230.92" y2="129.80" stroke="#222" stroke-width="0.5" />
<line x1="232.23" y1="128.30" x2="232.23" y2="129.80" stroke="#222" stroke-width="0.5" />
<line x1="240.20" y1="128.30" x2="240.20" y2="129.80" stroke="#222" stroke-width="0.5" />
<line x1="244.18" y1="128.30" x2="244.18" y2="129.80" stroke="#222" stroke-width="0.5" />
<line x1="247.01" y1="128.30" x2="247.01" y2="129.80" stroke="#222" stroke-width="0.5" />
<line x1="249.20" y1="128.30" x2="249.20" y2="129.80" stroke="#222" stroke-width="0.5" />
<line x1="250.99" y1="128.30" x2="250.99" y2="129.80" stroke="#222" stroke-width="0.5" />
<line x1="252.50" y1="128.30" x2="252.50" y2="129.80" stroke="#222" stroke-width="0.5" />
<line x1="253.81" y1="128.30" x2="253.81" y2="129.80" stroke="#222" stroke-width="0.5" />
<line x1="254.97" y1="128.30" x2="254.97" y2="129.80" stroke="#222" stroke-width="0.5" />
<line x1="181.40" y1="128.30" x2="181.40" y2="129.80" stroke="#222" stroke-width="0.5" />
<line x1="186.40" y1="128.30" x2="186.40" y2="129.80" stroke="#222" stroke-width="0.5" />
<line x1="197.40" y1="128.30" x2="197.40" y2="129.80" stroke="#222" stroke-width="0.5" />
<line x1="202.40" y1="128.30" x2="202.40" y2="129.80" stroke="#222" stroke-width="0.5" />
<text x="186.30" y="56.70" font-size="6.6" text-anchor="end" fill="#222" >44.1</text>
<text x="244.00" y="51.80" font-size="6.6" text-anchor="start" fill="#222" >36.5</text>
<text x="186.30" y="81.80" font-size="6.6" text-anchor="end" fill="#222" >4.75</text>
<text x="244.80" y="89.80" font-size="6.6" text-anchor="start" fill="#222" >11.3</text>
<text x="92.30" y="176.00" font-size="6.5" text-anchor="middle" fill="#222" >Day 12</text>
<path d="M97.5,210.7h0.8M113.2,231.1h0.8M73.4,253.8h0.8M76.8,245.9h0.8M106.3,228.7h0.8M62.0,246.6h0.8M59.4,192.9h0.8M84.3,208.4h0.8M80.8,225.1h0.8M97.8,207.2h0.8M78.1,230.0h0.8M96.9,188.5h0.8M88.9,208.6h0.8M61.0,189.4h0.8M108.6,240.0h0.8M104.2,205.6h0.8M80.7,230.8h0.8M80.7,225.9h0.8M96.7,225.2h0.8M77.9,215.9h0.8M74.6,181.8h0.8M102.3,192.1h0.8M88.1,209.1h0.8M78.5,205.9h0.8M102.0,211.2h0.8M79.0,217.8h0.8M92.6,232.1h0.8M84.4,210.3h0.8M103.8,201.5h0.8M79.0,183.3h0.8M58.7,225.1h0.8M103.3,194.8h0.8M91.5,237.8h0.8M58.5,229.6h0.8M75.1,239.3h0.8M105.9,236.7h0.8M84.1,209.0h0.8M60.8,216.8h0.8M102.1,192.2h0.8M78.4,211.0h0.8M81.1,229.8h0.8M89.5,220.0h0.8M109.4,199.5h0.8M66.7,253.2h0.8M74.9,180.3h0.8M60.2,219.1h0.8M60.9,190.2h0.8M94.6,209.0h0.8M62.8,239.2h0.8M79.2,182.4h0.8M70.1,255.0h0.8M89.6,214.4h0.8M127.4,252.2h0.8M96.9,227.6h0.8M60.6,217.3h0.8M104.0,234.4h0.8M87.0,185.9h0.8M86.8,238.2h0.8M102.5,222.1h0.8M90.2,186.7h0.8M87.4,229.0h0.8M64.8,183.1h0.8M64.5,250.5h0.8M90.6,205.8h0.8M81.3,226.2h0.8M103.1,224.6h0.8M82.6,232.0h0.8M103.7,196.9h0.8M76.1,226.8h0.8M103.7,203.3h0.8M59.8,199.6h0.8M95.5,212.7h0.8M65.6,259.0h0.8M80.4,215.9h0.8M62.3,251.6h0.8M90.2,243.3h0.8M61.6,240.6h0.8M104.4,194.1h0.8M77.5,252.5h0.8M98.9,211.8h0.8M115.6,240.6h0.8M97.1,234.2h0.8M61.6,231.4h0.8M105.0,240.1h0.8M107.9,195.8h0.8M76.4,183.8h0.8M76.7,216.6h0.8M97.9,229.1h0.8M63.2,253.2h0.8M59.4,206.5h0.8M80.4,205.7h0.8M94.4,233.9h0.8M98.4,208.4h0.8M94.2,208.4h0.8M92.4,211.3h0.8M76.4,230.3h0.8M64.6,249.7h0.8M59.9,212.5h0.8M65.4,254.2h0.8M95.4,211.0h0.8M78.3,211.3h0.8M60.3,205.7h0.8M61.1,217.4h0.8M108.2,225.4h0.8M83.4,183.0h0.8M81.5,266.4h0.8M75.7,246.9h0.8M94.7,187.8h0.8M62.8,238.6h0.8M75.8,251.5h0.8M95.3,239.0h0.8M83.9,220.8h0.8M90.7,213.1h0.8M91.9,223.9h0.8M96.6,233.6h0.8M102.3,237.5h0.8M93.7,187.9h0.8M57.8,198.4h0.8M76.7,217.2h0.8M112.3,212.5h0.8M78.7,227.0h0.8M103.4,212.9h0.8M103.7,195.3h0.8M78.3,222.4h0.8M60.2,210.3h0.8M61.4,223.4h0.8M61.7,249.5h0.8M96.0,188.3h0.8M74.0,255.9h0.8M80.3,226.0h0.8M90.5,235.2h0.8M100.3,204.5h0.8M76.9,245.4h0.8M104.6,189.5h0.8M77.5,207.5h0.8M75.9,245.0h0.8M94.8,220.5h0.8M62.2,240.1h0.8M78.7,210.2h0.8M77.3,247.7h0.8M99.1,213.9h0.8M75.0,242.8h0.8M88.4,239.4h0.8M85.1,210.7h0.8M107.0,213.8h0.8M62.5,247.4h0.8M64.2,255.1h0.8M60.1,214.7h0.8M105.4,206.1h0.8M82.1,220.5h0.8M104.2,208.2h0.8M84.0,207.0h0.8M80.2,206.3h0.8M82.5,217.2h0.8M110.4,244.0h0.8M111.3,226.1h0.8M136.5,237.0h0.8M84.5,219.2h0.8M75.2,264.2h0.8M97.3,264.5h0.8M97.8,206.1h0.8M77.2,219.3h0.8M96.2,187.7h0.8M78.6,218.4h0.8M130.0,221.3h0.8M77.9,214.9h0.8M110.2,240.2h0.8M105.8,191.1h0.8M60.0,221.4h0.8M104.4,194.5h0.8M58.3,210.3h0.8M85.3,240.6h0.8M111.5,219.4h0.8M85.3,217.4h0.8M100.6,241.8h0.8M77.3,226.3h0.8M98.9,212.5h0.8M100.6,247.4h0.8M63.8,243.9h0.8M61.6,231.9h0.8M100.0,212.3h0.8M88.0,212.8h0.8M51.9,223.6h0.8M69.3,183.3h0.8M85.7,212.8h0.8M86.8,224.3h0.8M107.8,263.5h0.8M75.2,255.8h0.8M100.1,207.6h0.8M87.3,211.1h0.8M57.1,214.7h0.8M121.1,250.2h0.8M111.1,212.3h0.8M87.8,184.2h0.8M106.1,227.8h0.8M75.5,236.2h0.8M63.1,253.3h0.8M105.1,199.6h0.8M65.8,252.9h0.8M105.3,247.4h0.8M102.4,202.4h0.8M119.5,220.5h0.8M102.5,219.7h0.8M95.0,218.6h0.8M122.7,227.8h0.8M97.6,219.3h0.8M89.1,212.5h0.8M86.3,239.3h0.8M66.2,257.4h0.8M59.8,204.1h0.8M98.4,204.4h0.8M91.0,238.9h0.8M63.2,238.5h0.8M70.7,254.9h0.8M78.7,211.7h0.8M63.0,255.4h0.8M94.5,225.2h0.8M60.0,213.7h0.8M88.0,182.9h0.8M60.8,212.8h0.8M57.2,224.8h0.8M82.3,206.9h0.8M79.7,207.3h0.8M91.6,210.0h0.8M84.6,237.9h0.8M86.1,231.5h0.8M99.0,204.5h0.8M89.3,220.9h0.8M123.5,254.7h0.8M88.2,260.3h0.8M96.3,207.8h0.8M119.2,204.7h0.8M63.5,186.4h0.8M112.0,231.3h0.8M66.2,259.0h0.8M92.2,244.4h0.8M61.3,225.0h0.8M60.6,188.4h0.8M87.4,224.6h0.8M91.4,209.3h0.8M87.3,250.7h0.8M101.4,222.1h0.8M97.6,242.7h0.8M75.7,239.7h0.8M111.1,229.5h0.8M101.0,204.7h0.8M106.8,189.0h0.8M92.7,212.2h0.8M86.6,205.6h0.8M69.4,255.2h0.8M74.0,244.8h0.8M93.5,217.1h0.8M62.4,231.0h0.8M79.3,225.1h0.8M68.9,253.7h0.8M97.6,225.8h0.8M68.4,184.1h0.8M89.9,211.1h0.8M85.0,205.9h0.8M60.1,213.8h0.8M102.1,226.6h0.8M78.0,219.0h0.8M83.1,229.8h0.8M60.9,186.0h0.8M140.3,222.2h0.8M71.0,260.7h0.8M72.6,253.8h0.8M72.5,252.6h0.8M100.4,205.8h0.8M84.7,218.4h0.8M103.0,217.2h0.8M95.1,205.8h0.8M90.2,240.3h0.8M83.3,228.9h0.8M101.7,213.8h0.8M95.7,210.7h0.8M77.6,227.1h0.8M90.5,237.1h0.8M124.9,223.6h0.8M90.5,231.4h0.8M79.7,216.0h0.8M94.5,211.6h0.8M86.9,240.9h0.8M81.6,228.4h0.8M116.6,244.1h0.8M71.0,254.5h0.8M81.0,216.2h0.8M112.4,210.0h0.8M91.5,222.4h0.8M61.8,242.0h0.8M65.1,184.2h0.8M80.7,220.6h0.8M62.5,232.5h0.8M78.5,207.9h0.8M103.9,193.5h0.8M80.8,208.8h0.8M77.6,228.7h0.8M107.1,202.7h0.8M85.7,220.6h0.8M97.6,188.8h0.8M92.5,233.9h0.8M69.2,254.4h0.8M96.1,184.2h0.8M76.1,224.8h0.8M77.9,210.1h0.8M83.5,221.7h0.8M80.6,209.2h0.8M88.8,206.6h0.8M74.1,253.2h0.8M86.1,238.2h0.8M100.8,214.0h0.8M60.1,211.0h0.8M100.5,231.3h0.8M112.1,242.3h0.8M89.3,210.2h0.8M99.9,237.6h0.8M103.2,230.7h0.8M103.2,211.8h0.8M63.6,245.0h0.8M86.5,206.1h0.8M104.4,198.1h0.8M77.1,223.0h0.8M73.7,246.5h0.8M97.7,204.8h0.8M78.1,222.2h0.8M90.3,227.7h0.8M89.3,209.7h0.8M110.4,211.6h0.8M82.2,221.1h0.8M87.4,215.4h0.8M82.2,235.3h0.8M69.0,256.4h0.8M95.5,210.5h0.8M134.9,219.9h0.8M103.9,214.0h0.8M87.2,217.9h0.8M103.6,205.4h0.8M57.4,216.8h0.8M102.9,202.8h0.8M61.1,226.0h0.8M86.1,219.4h0.8M108.0,200.7h0.8M68.3,253.8h0.8M62.0,186.8h0.8M80.4,218.7h0.8M60.7,227.1h0.8M87.1,230.1h0.8M101.4,202.2h0.8M103.6,187.1h0.8M79.7,206.6h0.8M91.5,205.7h0.8M109.9,223.9h0.8M79.2,182.8h0.8M83.4,207.8h0.8M77.5,243.4h0.8M74.8,259.6h0.8M87.9,228.2h0.8M61.0,202.5h0.8M119.0,225.1h0.8M49.2,237.2h0.8M77.4,220.2h0.8M76.1,231.3h0.8M74.9,242.7h0.8M85.4,220.8h0.8M111.9,223.9h0.8M106.2,220.0h0.8M87.8,216.8h0.8M80.6,180.9h0.8M106.1,242.8h0.8M90.5,245.4h0.8M85.6,250.2h0.8M60.0,220.7h0.8M60.8,216.2h0.8M120.6,231.4h0.8M73.7,256.8h0.8M103.2,215.0h0.8M80.8,212.4h0.8M99.2,187.7h0.8M131.5,231.6h0.8M103.6,226.6h0.8M112.8,224.2h0.8M95.9,235.1h0.8M76.2,232.0h0.8M62.1,252.9h0.8M100.8,191.9h0.8M62.8,236.1h0.8M76.5,230.3h0.8M86.1,212.6h0.8M89.5,214.1h0.8M87.7,242.3h0.8M75.9,229.1h0.8M65.7,185.0h0.8M104.4,187.5h0.8M78.8,214.9h0.8M85.1,219.8h0.8M88.4,231.8h0.8M84.4,243.2h0.8M79.3,223.8h0.8M96.6,236.4h0.8M91.0,241.9h0.8M93.8,206.4h0.8M102.3,193.1h0.8M81.6,227.5h0.8M94.5,226.7h0.8M76.4,235.5h0.8M90.6,208.6h0.8M91.7,225.5h0.8M114.2,242.0h0.8M85.5,273.6h0.8M97.6,228.9h0.8M63.0,185.8h0.8M104.6,246.8h0.8M91.7,216.4h0.8M83.2,205.3h0.8M104.3,239.6h0.8M102.0,205.8h0.8M86.3,185.5h0.8M65.4,252.3h0.8M68.3,253.7h0.8M91.6,206.1h0.8M99.7,185.3h0.8M108.3,247.3h0.8M85.6,218.1h0.8M109.7,216.4h0.8M60.4,201.5h0.8M78.1,227.7h0.8M72.0,251.4h0.8M65.8,252.9h0.8M72.6,183.4h0.8M78.5,220.4h0.8M111.6,213.8h0.8M89.6,215.4h0.8M95.0,188.0h0.8M84.8,208.5h0.8M107.8,200.9h0.8M100.2,213.7h0.8M95.9,247.7h0.8M83.5,212.0h0.8M87.5,206.0h0.8M60.9,203.3h0.8M86.1,217.9h0.8M67.6,257.3h0.8M82.9,218.5h0.8M80.9,209.4h0.8M102.4,192.9h0.8M64.1,185.8h0.8M92.8,213.9h0.8M64.4,185.3h0.8M93.7,205.5h0.8M104.5,199.9h0.8M45.5,216.7h0.8M59.6,233.1h0.8M59.7,201.2h0.8M86.5,206.8h0.8M91.3,186.5h0.8M94.0,206.7h0.8M62.0,228.2h0.8M107.5,236.6h0.8M60.7,188.0h0.8M61.3,219.1h0.8M52.6,227.9h0.8M93.3,221.1h0.8M96.9,216.3h0.8M61.0,237.9h0.8M95.5,184.6h0.8M76.5,220.9h0.8M77.8,213.2h0.8M85.9,214.4h0.8M118.4,232.2h0.8M60.5,218.3h0.8M88.9,208.3h0.8M77.5,225.0h0.8M96.7,206.1h0.8M127.3,204.5h0.8M76.1,236.2h0.8M92.0,207.1h0.8M95.3,230.3h0.8M84.2,214.9h0.8M77.8,242.0h0.8M91.2,242.1h0.8M85.3,234.9h0.8M59.9,195.6h0.8M81.7,220.2h0.8M98.4,249.9h0.8M89.4,207.8h0.8M83.2,225.5h0.8M95.6,219.0h0.8M58.1,207.8h0.8M81.1,215.0h0.8M123.0,223.5h0.8M78.6,247.6h0.8M89.9,220.7h0.8M63.2,262.0h0.8M110.5,226.3h0.8M100.8,205.8h0.8M96.5,183.7h0.8M88.3,212.0h0.8M56.8,191.9h0.8M88.2,226.1h0.8M61.2,188.6h0.8M107.9,216.3h0.8M97.9,224.4h0.8M110.9,239.5h0.8M100.4,238.8h0.8M58.6,205.7h0.8M73.3,249.7h0.8M73.0,256.2h0.8M100.8,245.8h0.8M111.0,224.2h0.8M99.2,206.6h0.8M90.5,213.8h0.8M95.2,217.4h0.8M88.5,218.3h0.8M98.4,230.6h0.8M78.1,207.4h0.8M58.0,203.5h0.8M77.6,245.7h0.8M89.3,254.0h0.8M102.5,222.8h0.8M58.8,212.0h0.8" stroke="#a0a0a0" stroke-width="0.8" fill="none" clip-path="url(#c11)"/>
<g clip-path="url(#c11)" fill="#000" fill-opacity="0.075" stroke="#2a2a2a" stroke-width="0.5" stroke-linejoin="round"><path d="M74.9,194.7 74.2,194.7 73.6,194.8 72.9,194.8 72.2,194.9 71.6,194.8 71.1,194.7 70.6,194.4 70.2,194.0 70.1,193.7 70.1,193.0 70.3,192.7 70.6,192.3 71.0,192.0 71.6,191.8 71.9,191.7 72.6,191.6 73.2,191.6 73.9,191.7 74.2,191.7 74.9,191.9 75.6,192.1 76.1,192.3 76.6,192.6 76.9,192.8 77.2,193.0 77.6,193.4 77.7,194.0 77.2,194.3 76.9,194.4 76.2,194.5 75.6,194.6 75.1,194.7"/><path d="M78.6,195.4 77.9,195.4 77.2,195.4 76.6,195.4 75.9,195.4 75.2,195.4 74.6,195.5 73.9,195.5 73.2,195.5 72.6,195.6 71.9,195.6 71.2,195.6 70.6,195.4 70.2,195.2 69.9,195.0 69.6,194.7 69.2,194.0 69.2,193.7 69.2,193.0 69.3,192.7 69.6,192.3 69.9,191.9 70.2,191.6 70.8,191.3 71.2,191.2 71.9,191.0 72.3,191.0 72.9,191.0 73.4,191.0 73.9,191.0 74.6,191.2 75.2,191.3 75.6,191.4 76.2,191.6 76.6,191.7 77.2,192.0 77.6,192.1 78.0,192.3 78.6,192.6 78.9,192.8 79.3,193.0 79.7,193.3 80.1,193.7 80.4,194.0 80.5,194.7 80.1,195.0 79.6,195.2 78.9,195.3"/><path d="M80.9,196.1 80.2,196.1 79.6,196.2 78.9,196.2 78.2,196.2 77.6,196.1 76.9,196.1 76.2,196.1 75.6,196.0 74.9,196.1 74.2,196.1 73.6,196.1 72.9,196.2 72.2,196.2 71.6,196.3 70.9,196.2 70.2,196.1 69.9,196.0 69.4,195.7 69.1,195.3 68.9,195.0 68.6,194.3 68.5,194.0 68.5,193.3 68.6,192.9 68.8,192.3 69.0,192.0 69.3,191.7 69.7,191.3 70.2,191.0 70.9,190.7 71.2,190.7 71.9,190.5 72.6,190.5 73.2,190.5 73.9,190.6 74.6,190.6 74.9,190.7 75.6,190.8 76.2,191.0 76.6,191.1 77.2,191.3 77.6,191.5 78.2,191.7 78.6,191.8 79.0,192.0 79.6,192.3 79.9,192.4 80.4,192.7 80.9,193.0 81.2,193.2 81.6,193.4 81.9,193.7 82.2,194.0 82.6,194.5 82.6,195.0 82.5,195.3 82.1,195.7 81.6,195.9 81.2,196.0"/><path d="M82.6,196.7 81.9,196.8 81.2,196.9 80.6,196.9 79.9,196.9 79.2,196.9 78.6,196.8 77.9,196.8 77.2,196.7 76.6,196.7 75.9,196.6 75.2,196.6 74.6,196.6 74.1,196.7 73.6,196.7 72.9,196.8 72.2,196.9 71.6,196.9 70.9,197.0 70.2,196.9 69.6,196.7 69.2,196.5 68.9,196.2 68.6,195.8 68.3,195.3 68.1,195.0 67.9,194.3 67.9,194.0 67.9,193.3 67.9,193.0 68.1,192.3 68.3,192.0 68.6,191.6 68.9,191.3 69.2,191.0 69.8,190.7 70.2,190.5 70.6,190.3 71.2,190.2 71.9,190.1 72.6,190.0 73.2,190.0 73.9,190.1 74.6,190.2 75.2,190.3 75.6,190.4 76.2,190.5 76.8,190.7 77.2,190.8 77.9,191.0 78.2,191.1 78.9,191.3 79.2,191.5 79.7,191.7 80.2,191.9 80.6,192.0 81.2,192.3 81.6,192.5 81.9,192.7 82.5,193.0 82.9,193.2 83.2,193.5 83.6,193.7 83.9,194.1 84.2,194.5 84.5,195.0 84.4,195.7 84.1,196.0 83.6,196.3 83.2,196.5 82.6,196.7"/><path d="M70.9,197.7 70.2,197.7 69.9,197.6 69.2,197.4 68.9,197.1 68.6,196.8 68.2,196.4 67.9,196.0 67.8,195.7 67.6,195.2 67.4,194.7 67.3,194.0 67.3,193.3 67.5,192.7 67.6,192.3 67.9,191.7 68.2,191.3 68.5,191.0 68.9,190.7 69.2,190.5 69.6,190.3 70.2,190.0 70.6,189.9 71.2,189.8 71.9,189.7 72.2,189.7 72.9,189.6 73.6,189.7 73.9,189.7 74.6,189.8 75.2,189.9 75.9,190.0 76.2,190.1 76.9,190.2 77.3,190.3 77.9,190.5 78.4,190.7 78.9,190.8 79.4,191.0 79.9,191.2 80.3,191.3 80.9,191.6 81.2,191.7 81.9,192.0 82.2,192.1 82.6,192.3 83.2,192.6 83.6,192.8 83.9,193.0 84.4,193.3 84.9,193.7 85.2,194.0 85.6,194.3 85.8,194.7 86.0,195.0 86.1,195.7 85.9,196.1 85.6,196.4 85.2,196.7 84.6,197.0 83.9,197.2 83.2,197.3 82.9,197.4 82.2,197.4 81.6,197.5 80.9,197.5 80.2,197.5 79.6,197.4 78.9,197.4 78.3,197.3 77.9,197.3 77.2,197.2 76.6,197.2 75.9,197.1 75.2,197.1 74.6,197.2 73.9,197.2 73.2,197.3 72.9,197.4 72.2,197.5 71.6,197.6 71.0,197.7"/><path d="M71.2,198.4 70.6,198.5 69.9,198.5 69.2,198.4 68.9,198.2 68.6,197.9 68.2,197.6 67.9,197.1 67.6,196.7 67.4,196.3 67.2,195.9 67.0,195.3 66.9,194.7 66.8,194.3 66.8,193.7 66.9,193.0 67.0,192.7 67.2,192.0 67.4,191.7 67.6,191.3 67.9,191.0 68.2,190.6 68.6,190.3 69.2,190.0 69.6,189.8 69.9,189.7 70.6,189.5 71.2,189.4 71.6,189.3 72.2,189.3 72.9,189.3 73.6,189.3 74.2,189.3 74.6,189.4 75.2,189.5 75.9,189.6 76.3,189.7 76.9,189.8 77.6,190.0 77.9,190.1 78.6,190.2 78.9,190.3 79.6,190.6 79.9,190.7 80.6,190.9 80.9,191.0 81.6,191.3 81.9,191.4 82.6,191.7 82.9,191.8 83.3,192.0 83.9,192.3 84.2,192.4 84.7,192.7 85.2,193.0 85.6,193.2 85.9,193.4 86.2,193.7 86.6,194.0 86.9,194.3 87.2,194.7 87.5,195.3 87.6,195.7 87.6,196.0 87.2,196.6 86.9,196.9 86.6,197.2 86.2,197.3 85.6,197.6 85.2,197.7 84.6,197.8 83.9,197.9 83.4,198.0 82.9,198.0 82.2,198.1 81.6,198.1 80.9,198.0 80.2,198.0 79.9,198.0 79.2,197.9 78.6,197.9 77.9,197.8 77.2,197.7 76.6,197.7 75.9,197.7 75.2,197.7 74.8,197.7 74.2,197.7 73.6,197.8 72.9,197.9 72.6,198.0 71.9,198.2 71.4,198.3"/><path d="M69.9,199.7 69.5,199.7 68.9,199.5 68.6,199.2 68.2,198.9 67.9,198.4 67.6,198.0 67.4,197.7 67.2,197.3 66.9,196.7 66.8,196.3 66.6,195.7 66.5,195.3 66.4,194.7 66.3,194.0 66.3,193.3 66.4,192.7 66.6,192.3 66.8,191.7 67.0,191.3 67.2,191.0 67.6,190.6 67.9,190.3 68.3,190.0 68.9,189.7 69.2,189.5 69.6,189.3 70.2,189.1 70.9,189.0 71.6,188.9 72.2,188.9 72.9,188.9 73.6,188.9 74.2,188.9 74.8,189.0 75.2,189.1 75.9,189.2 76.6,189.3 76.9,189.4 77.6,189.5 78.1,189.7 78.6,189.8 79.2,190.0 79.6,190.1 80.2,190.3 80.6,190.4 81.2,190.6 81.6,190.7 82.2,191.0 82.6,191.1 83.2,191.3 83.6,191.5 84.0,191.7 84.6,191.9 84.9,192.1 85.4,192.3 85.9,192.6 86.2,192.8 86.6,193.0 87.1,193.3 87.6,193.7 87.9,194.0 88.2,194.3 88.6,194.7 88.8,195.0 88.9,195.3 89.1,196.0 88.9,196.7 88.7,197.0 88.4,197.3 87.9,197.6 87.6,197.8 87.1,198.0 86.6,198.2 85.9,198.3 85.6,198.4 84.9,198.5 84.2,198.6 83.6,198.6 82.9,198.6 82.2,198.6 81.6,198.6 80.9,198.6 80.2,198.5 79.6,198.5 78.9,198.4 78.2,198.3 77.9,198.3 77.2,198.2 76.6,198.2 75.9,198.2 75.2,198.2 74.6,198.2 73.9,198.3 73.6,198.4 72.9,198.6 72.6,198.7 71.9,199.0 71.6,199.1 71.1,199.3 70.6,199.5 70.0,199.7"/><path d="M69.2,201.3 68.9,201.2 68.6,201.0 68.2,200.6 67.9,200.0 67.7,199.7 67.5,199.3 67.2,198.7 67.1,198.3 66.9,198.0 66.6,197.3 66.5,197.0 66.3,196.3 66.2,196.0 66.0,195.3 65.9,194.7 65.9,194.3 65.9,193.7 65.9,193.1 66.0,192.7 66.2,192.0 66.3,191.7 66.6,191.2 66.9,190.7 67.2,190.3 67.6,190.0 67.9,189.8 68.2,189.6 68.6,189.3 69.2,189.1 69.6,188.9 70.2,188.7 70.6,188.7 71.2,188.6 71.9,188.5 72.6,188.5 73.2,188.5 73.9,188.5 74.6,188.6 75.2,188.7 75.6,188.7 76.2,188.8 76.9,189.0 77.2,189.0 77.9,189.2 78.5,189.3 78.9,189.4 79.6,189.6 79.9,189.7 80.6,189.9 80.9,190.0 81.6,190.2 81.9,190.4 82.6,190.6 82.9,190.7 83.6,190.9 83.9,191.1 84.5,191.3 84.9,191.5 85.3,191.7 85.9,191.9 86.2,192.1 86.7,192.3 87.2,192.6 87.6,192.8 87.9,193.0 88.4,193.3 88.8,193.7 89.2,194.0 89.5,194.3 89.8,194.7 90.0,195.0 90.2,195.4 90.4,196.0 90.4,196.7 90.2,197.0 89.9,197.4 89.6,197.8 89.2,198.0 88.6,198.3 88.2,198.5 87.6,198.7 87.2,198.8 86.6,198.9 86.0,199.0 85.6,199.1 84.9,199.1 84.2,199.2 83.6,199.2 82.9,199.2 82.2,199.2 81.6,199.1 80.9,199.1 80.2,199.0 79.9,199.0 79.2,198.9 78.6,198.9 77.9,198.8 77.2,198.7 76.6,198.7 76.2,198.7 75.7,198.7 75.2,198.7 74.6,198.8 73.9,198.9 73.2,199.1 72.7,199.3 72.2,199.6 71.9,199.8 71.6,200.0 71.1,200.3 70.7,200.7 70.2,201.0 69.9,201.2 69.3,201.3"/><path d="M69.2,203.7 68.9,203.7 68.4,203.3 68.1,203.0 67.9,202.6 67.7,202.0 67.5,201.7 67.3,201.0 67.2,200.7 67.0,200.0 66.9,199.7 66.6,199.0 66.5,198.7 66.3,198.0 66.2,197.7 66.0,197.0 65.9,196.7 65.7,196.0 65.6,195.5 65.5,195.0 65.4,194.3 65.4,193.7 65.5,193.0 65.6,192.5 65.7,192.0 65.9,191.6 66.2,191.0 66.4,190.7 66.7,190.3 67.0,190.0 67.4,189.7 67.8,189.3 68.2,189.1 68.6,188.9 69.2,188.7 69.6,188.5 70.2,188.4 70.6,188.3 71.2,188.2 71.9,188.1 72.6,188.1 73.2,188.1 73.9,188.2 74.6,188.2 75.2,188.3 75.6,188.4 76.2,188.5 76.9,188.6 77.3,188.7 77.9,188.8 78.6,188.9 78.9,189.0 79.6,189.2 80.1,189.3 80.6,189.5 81.2,189.7 81.6,189.8 82.2,190.0 82.6,190.1 83.2,190.3 83.6,190.4 84.2,190.7 84.6,190.8 85.1,191.0 85.6,191.2 85.9,191.3 86.6,191.6 86.9,191.8 87.3,192.0 87.9,192.3 88.2,192.5 88.6,192.7 89.1,193.0 89.6,193.3 89.9,193.6 90.2,193.9 90.6,194.2 90.9,194.5 91.2,195.0 91.4,195.3 91.6,195.7 91.7,196.3 91.6,197.0 91.4,197.3 91.2,197.7 90.9,198.0 90.5,198.3 89.9,198.7 89.2,198.9 88.9,199.1 88.2,199.3 87.9,199.3 87.2,199.5 86.6,199.5 85.9,199.6 85.2,199.7 84.9,199.7 84.2,199.7 83.6,199.7 82.9,199.7 82.6,199.7 81.9,199.6 81.2,199.6 80.6,199.5 79.9,199.5 79.2,199.4 78.7,199.3 78.2,199.3 77.6,199.2 76.9,199.2 76.2,199.2 75.6,199.2 74.9,199.2 74.5,199.3 73.9,199.5 73.5,199.7 72.9,200.0 72.6,200.2 72.2,200.5 71.9,200.8 71.6,201.2 71.2,201.6 70.9,202.0 70.7,202.3 70.4,202.7 70.2,203.0 69.9,203.3 69.3,203.7"/><path d="M69.6,205.8 68.9,206.0 68.3,205.7 68.0,205.3 67.8,205.0 67.6,204.7 67.3,204.0 67.2,203.7 67.0,203.0 66.9,202.7 66.7,202.0 66.6,201.3 66.5,201.0 66.4,200.3 66.2,199.8 66.1,199.3 65.9,198.7 65.8,198.3 65.6,197.7 65.5,197.3 65.4,196.7 65.2,196.1 65.1,195.7 65.0,195.0 65.0,194.3 65.0,193.7 65.0,193.0 65.2,192.3 65.3,192.0 65.5,191.3 65.7,191.0 65.9,190.6 66.2,190.2 66.6,189.8 66.9,189.5 67.2,189.2 67.6,189.0 68.2,188.7 68.6,188.5 68.9,188.3 69.6,188.1 70.1,188.0 70.6,187.9 71.2,187.8 71.9,187.8 72.6,187.8 73.2,187.8 73.9,187.8 74.6,187.9 75.2,187.9 75.7,188.0 76.2,188.1 76.9,188.2 77.6,188.3 77.9,188.4 78.6,188.5 79.1,188.7 79.6,188.8 80.2,188.9 80.6,189.0 81.2,189.2 81.6,189.3 82.2,189.5 82.7,189.7 83.2,189.8 83.7,190.0 84.2,190.2 84.7,190.3 85.2,190.5 85.6,190.7 86.2,190.9 86.6,191.0 87.2,191.3 87.6,191.5 88.0,191.7 88.6,192.0 88.9,192.1 89.3,192.3 89.8,192.7 90.2,192.9 90.6,193.2 90.9,193.4 91.2,193.7 91.6,194.0 91.9,194.3 92.2,194.7 92.6,195.3 92.8,195.7 92.9,196.3 92.9,196.7 92.9,197.0 92.6,197.7 92.4,198.0 92.1,198.3 91.7,198.7 91.2,199.0 90.9,199.1 90.5,199.3 89.9,199.5 89.5,199.7 88.9,199.8 88.2,199.9 87.9,200.0 87.2,200.1 86.6,200.1 85.9,200.2 85.2,200.2 84.6,200.2 83.9,200.2 83.2,200.2 82.6,200.2 81.9,200.1 81.2,200.1 80.6,200.0 79.9,199.9 79.2,199.9 78.6,199.8 77.9,199.7 77.2,199.7 76.9,199.7 76.2,199.6 75.9,199.7 75.2,199.7 74.6,199.9 74.2,200.0 73.6,200.3 73.2,200.6 72.9,200.8 72.6,201.2 72.2,201.6 72.0,202.0 71.8,202.3 71.6,202.7 71.3,203.3 71.1,203.7 70.9,204.1 70.6,204.7 70.4,205.0 70.1,205.3 69.8,205.7"/><path d="M68.9,208.7 68.6,208.6 68.2,208.3 67.9,207.9 67.6,207.3 67.4,207.0 67.2,206.7 67.0,206.0 66.8,205.7 66.6,205.0 66.5,204.7 66.3,204.0 66.2,203.5 66.1,203.0 66.0,202.3 65.9,201.7 65.9,201.3 65.8,200.7 65.6,200.0 65.6,199.6 65.4,199.0 65.3,198.3 65.2,198.0 65.0,197.3 64.9,196.9 64.8,196.3 64.7,195.7 64.6,195.0 64.5,194.7 64.5,194.0 64.5,193.3 64.6,193.0 64.7,192.3 64.9,191.7 65.0,191.3 65.2,190.9 65.6,190.3 65.8,190.0 66.1,189.7 66.4,189.3 66.8,189.0 67.2,188.7 67.6,188.5 67.9,188.3 68.6,188.0 68.9,187.9 69.6,187.7 69.9,187.6 70.6,187.5 71.2,187.4 71.9,187.4 72.6,187.4 73.2,187.4 73.9,187.4 74.6,187.5 75.2,187.5 75.9,187.6 76.2,187.7 76.9,187.8 77.6,187.9 78.1,188.0 78.6,188.1 79.2,188.3 79.6,188.3 80.2,188.5 80.9,188.7 81.2,188.8 81.9,188.9 82.2,189.0 82.9,189.2 83.2,189.3 83.9,189.5 84.3,189.7 84.9,189.9 85.3,190.0 85.9,190.2 86.2,190.3 86.9,190.6 87.2,190.7 87.9,191.0 88.2,191.2 88.6,191.3 89.2,191.6 89.6,191.8 90.0,192.0 90.6,192.3 90.9,192.5 91.2,192.8 91.6,193.0 92.0,193.3 92.4,193.7 92.8,194.0 93.1,194.3 93.4,194.7 93.6,195.0 93.9,195.6 94.0,196.0 94.1,196.7 94.1,197.3 93.9,197.8 93.6,198.3 93.3,198.7 92.9,199.0 92.6,199.2 92.2,199.4 91.8,199.7 91.2,199.9 90.9,200.0 90.2,200.2 89.8,200.3 89.2,200.4 88.6,200.6 87.9,200.6 87.6,200.7 86.9,200.7 86.2,200.8 85.6,200.8 84.9,200.8 84.2,200.8 83.6,200.7 82.9,200.7 82.2,200.6 81.6,200.6 80.9,200.5 80.2,200.5 79.6,200.4 79.2,200.3 78.6,200.3 77.9,200.2 77.2,200.2 76.6,200.2 75.9,200.2 75.2,200.3 74.9,200.4 74.3,200.7 73.9,200.9 73.6,201.2 73.2,201.5 72.9,202.0 72.7,202.3 72.5,202.7 72.2,203.2 72.0,203.7 71.9,204.0 71.7,204.7 71.5,205.0 71.3,205.7 71.1,206.0 70.9,206.5 70.6,207.0 70.4,207.3 70.2,207.7 69.9,208.1 69.6,208.5 69.1,208.7"/><path d="M69.2,216.1 68.8,216.0 68.5,215.7 68.3,215.0 68.2,214.7 68.1,214.0 68.0,213.3 67.9,213.0 67.8,212.3 67.7,211.7 67.6,211.1 67.5,210.7 67.3,210.0 67.2,209.7 67.0,209.0 66.9,208.5 66.7,208.0 66.6,207.4 66.4,207.0 66.2,206.3 66.2,206.0 66.0,205.3 65.9,205.0 65.8,204.3 65.7,203.7 65.6,203.1 65.5,202.7 65.4,202.0 65.3,201.3 65.2,200.7 65.2,200.3 65.1,199.7 65.0,199.0 64.9,198.7 64.7,198.0 64.6,197.3 64.5,197.0 64.4,196.3 64.3,195.7 64.2,195.3 64.1,194.7 64.1,194.0 64.1,193.3 64.2,192.7 64.4,192.0 64.6,191.5 64.8,191.0 64.9,190.7 65.2,190.2 65.6,189.7 65.9,189.3 66.2,189.0 66.6,188.7 66.9,188.5 67.2,188.3 67.8,188.0 68.2,187.8 68.6,187.7 69.2,187.5 69.7,187.3 70.2,187.2 70.9,187.1 71.6,187.1 72.2,187.1 72.9,187.1 73.6,187.1 74.2,187.1 74.9,187.2 75.6,187.2 76.2,187.3 76.6,187.4 77.2,187.5 77.9,187.6 78.2,187.7 78.9,187.8 79.6,188.0 79.9,188.0 80.6,188.2 81.1,188.3 81.6,188.5 82.2,188.6 82.6,188.7 83.2,188.9 83.6,189.0 84.2,189.2 84.6,189.3 85.2,189.5 85.6,189.7 86.2,189.9 86.6,190.0 87.2,190.2 87.6,190.4 88.2,190.6 88.6,190.8 89.1,191.0 89.6,191.2 89.9,191.4 90.5,191.7 90.9,191.9 91.2,192.1 91.7,192.3 92.2,192.7 92.6,192.9 92.9,193.2 93.2,193.5 93.6,193.8 93.9,194.1 94.2,194.5 94.6,195.0 94.8,195.3 94.9,195.7 95.1,196.3 95.1,197.0 95.0,197.7 94.9,198.0 94.6,198.5 94.2,198.9 93.9,199.2 93.6,199.5 93.2,199.7 92.7,200.0 92.2,200.2 91.9,200.4 91.2,200.6 90.9,200.7 90.2,200.8 89.6,201.0 89.2,201.0 88.6,201.1 87.9,201.2 87.2,201.2 86.6,201.2 85.9,201.2 85.2,201.2 84.6,201.2 83.9,201.2 83.2,201.1 82.6,201.1 81.9,201.0 81.6,201.0 80.9,200.9 80.2,200.9 79.6,200.8 78.9,200.7 78.4,200.7 77.9,200.6 77.2,200.6 76.6,200.6 76.1,200.7 75.6,200.8 74.9,201.0 74.6,201.2 74.2,201.4 73.9,201.7 73.6,202.0 73.2,202.5 73.0,203.0 72.8,203.3 72.6,204.0 72.5,204.3 72.2,205.0 72.1,205.3 71.9,206.0 71.8,206.3 71.6,207.0 71.5,207.3 71.3,208.0 71.2,208.3 71.0,209.0 70.9,209.3 70.7,210.0 70.6,210.5 70.4,211.0 70.3,211.7 70.2,212.2 70.1,212.7 70.0,213.3 69.9,214.0 69.9,214.3 69.7,215.0 69.6,215.5 69.3,216.0"/><path d="M69.2,222.6 68.6,222.4 68.3,222.0 68.2,221.7 67.9,221.0 67.8,220.7 67.7,220.0 67.6,219.6 67.4,219.0 67.3,218.3 67.2,217.9 67.2,217.3 67.1,216.7 67.0,216.0 66.9,215.3 66.9,215.0 66.8,214.3 66.8,213.7 66.7,213.0 66.7,212.3 66.6,211.7 66.5,211.0 66.5,210.3 66.4,209.7 66.2,209.0 66.2,208.7 66.0,208.0 65.9,207.4 65.8,207.0 65.7,206.3 65.6,205.9 65.5,205.3 65.3,204.7 65.2,204.0 65.2,203.7 65.1,203.0 65.0,202.3 65.0,201.7 64.9,201.2 64.8,200.7 64.7,200.0 64.6,199.3 64.6,198.9 64.4,198.3 64.3,197.7 64.2,197.3 64.1,196.7 64.0,196.0 63.9,195.5 63.8,195.0 63.8,194.3 63.8,193.7 63.9,193.0 63.9,192.7 64.0,192.0 64.2,191.4 64.4,191.0 64.6,190.7 64.9,190.1 65.2,189.7 65.5,189.3 65.8,189.0 66.2,188.7 66.6,188.4 66.9,188.1 67.2,187.9 67.8,187.7 68.2,187.5 68.6,187.3 69.2,187.2 69.9,187.0 70.2,187.0 70.9,186.9 71.6,186.8 72.2,186.8 72.9,186.8 73.6,186.8 74.2,186.8 74.9,186.9 75.6,187.0 75.9,187.0 76.6,187.1 77.2,187.2 77.9,187.3 78.2,187.4 78.9,187.5 79.6,187.6 79.9,187.7 80.6,187.9 81.1,188.0 81.6,188.1 82.2,188.3 82.6,188.4 83.2,188.6 83.6,188.7 84.2,188.9 84.7,189.0 85.2,189.2 85.7,189.3 86.2,189.5 86.7,189.7 87.2,189.8 87.7,190.0 88.2,190.2 88.6,190.3 89.2,190.6 89.6,190.8 90.1,191.0 90.6,191.2 90.9,191.4 91.4,191.7 91.9,191.9 92.2,192.1 92.6,192.3 93.1,192.7 93.5,193.0 93.9,193.3 94.2,193.6 94.6,194.0 94.9,194.3 95.2,194.7 95.4,195.0 95.6,195.4 95.8,196.0 95.9,196.4 95.9,197.0 95.9,197.4 95.7,198.0 95.6,198.4 95.2,198.9 94.9,199.3 94.6,199.6 94.2,199.8 93.9,200.1 93.4,200.3 92.9,200.6 92.6,200.7 91.9,200.9 91.6,201.0 90.9,201.2 90.2,201.3 89.9,201.4 89.2,201.5 88.6,201.5 87.9,201.6 87.2,201.6 86.6,201.6 85.9,201.6 85.2,201.6 84.6,201.6 83.9,201.5 83.2,201.5 82.6,201.4 81.9,201.4 81.4,201.3 80.9,201.3 80.2,201.2 79.6,201.1 78.9,201.1 78.2,201.0 77.9,201.0 77.2,201.0 76.6,201.0 76.2,201.0 75.6,201.2 75.2,201.3 74.6,201.7 74.3,202.0 74.0,202.3 73.7,202.7 73.5,203.0 73.2,203.7 73.1,204.0 72.9,204.6 72.8,205.0 72.6,205.7 72.5,206.0 72.3,206.7 72.2,207.0 72.1,207.7 71.9,208.3 71.8,208.7 71.7,209.3 71.6,210.0 71.6,210.3 71.5,211.0 71.4,211.7 71.3,212.3 71.3,213.0 71.2,213.7 71.2,214.0 71.2,214.7 71.1,215.3 71.0,216.0 70.9,216.7 70.9,217.0 70.8,217.7 70.7,218.3 70.6,219.0 70.5,219.3 70.3,220.0 70.2,220.4 70.0,221.0 69.9,221.5 69.7,222.0 69.5,222.3"/><path d="M68.9,228.4 68.6,228.2 68.3,227.7 68.1,227.3 67.9,226.8 67.8,226.3 67.6,225.7 67.5,225.3 67.4,224.7 67.2,224.1 67.1,223.7 67.0,223.0 66.9,222.3 66.8,222.0 66.7,221.3 66.6,220.7 66.6,220.2 66.5,219.7 66.4,219.0 66.3,218.3 66.2,217.7 66.2,217.3 66.1,216.7 66.1,216.0 66.0,215.3 66.0,214.7 65.9,214.0 65.9,213.4 65.9,213.0 65.8,212.3 65.8,211.7 65.8,211.0 65.7,210.3 65.6,209.7 65.6,209.1 65.5,208.7 65.4,208.0 65.3,207.3 65.2,207.0 65.1,206.3 65.0,205.7 64.9,205.0 64.9,204.7 64.8,204.0 64.7,203.3 64.6,202.7 64.6,202.0 64.5,201.7 64.5,201.0 64.4,200.3 64.3,199.7 64.2,199.2 64.1,198.7 64.0,198.0 63.9,197.5 63.8,197.0 63.7,196.3 63.6,195.7 63.5,195.3 63.5,194.7 63.5,194.0 63.5,193.3 63.6,192.7 63.6,192.3 63.8,191.7 63.9,191.3 64.2,190.7 64.4,190.3 64.6,190.0 64.9,189.5 65.2,189.1 65.6,188.8 65.9,188.5 66.2,188.2 66.6,188.0 67.1,187.7 67.6,187.4 67.9,187.3 68.6,187.0 68.9,186.9 69.6,186.8 70.2,186.7 70.6,186.6 71.2,186.5 71.9,186.5 72.6,186.5 73.2,186.5 73.9,186.5 74.6,186.6 75.2,186.6 75.6,186.7 76.2,186.8 76.9,186.8 77.6,186.9 77.9,187.0 78.6,187.1 79.2,187.3 79.6,187.3 80.2,187.5 80.9,187.6 81.2,187.7 81.9,187.9 82.4,188.0 82.9,188.1 83.6,188.3 83.9,188.4 84.6,188.6 84.9,188.7 85.6,188.9 85.9,189.0 86.6,189.2 86.9,189.3 87.6,189.5 88.2,189.8 88.8,190.0 89.2,190.2 89.6,190.3 90.2,190.6 90.6,190.7 91.1,191.0 91.6,191.2 91.9,191.4 92.4,191.7 92.9,192.0 93.2,192.2 93.6,192.4 94.0,192.7 94.4,193.0 94.8,193.3 95.1,193.7 95.5,194.0 95.7,194.3 96.0,194.7 96.2,195.1 96.5,195.7 96.6,196.0 96.8,196.7 96.8,197.3 96.6,198.0 96.5,198.3 96.2,198.8 95.9,199.3 95.6,199.6 95.2,199.9 94.9,200.2 94.6,200.4 94.1,200.7 93.6,200.9 93.2,201.1 92.6,201.3 92.2,201.4 91.6,201.6 91.1,201.7 90.6,201.8 89.9,201.9 89.2,201.9 88.6,202.0 88.1,202.0 87.6,202.0 86.9,202.0 86.2,202.0 85.6,202.0 85.2,202.0 84.6,202.0 83.9,201.9 83.2,201.9 82.6,201.8 81.9,201.8 81.2,201.7 80.9,201.6 80.2,201.6 79.6,201.5 78.9,201.4 78.2,201.4 77.6,201.4 76.9,201.4 76.2,201.5 75.6,201.7 75.2,201.9 74.9,202.1 74.6,202.4 74.2,202.8 73.9,203.3 73.8,203.7 73.6,204.2 73.4,204.7 73.2,205.2 73.1,205.7 73.0,206.3 72.9,206.7 72.7,207.3 72.6,208.0 72.6,208.3 72.5,209.0 72.4,209.7 72.3,210.3 72.2,211.0 72.2,211.3 72.2,212.0 72.1,212.7 72.1,213.3 72.1,214.0 72.0,214.7 72.0,215.3 71.9,216.0 71.9,216.3 71.8,217.0 71.8,217.7 71.7,218.3 71.6,219.0 71.6,219.3 71.5,220.0 71.4,220.7 71.3,221.3 71.2,221.7 71.1,222.3 71.0,223.0 70.9,223.5 70.8,224.0 70.6,224.7 70.6,225.1 70.4,225.7 70.2,226.3 70.1,226.7 69.9,227.3 69.7,227.7 69.5,228.0 69.2,228.3"/><path d="M69.2,234.0 68.8,234.0 68.4,233.7 68.2,233.3 67.9,232.7 67.8,232.3 67.6,231.7 67.5,231.3 67.3,230.7 67.2,230.2 67.1,229.7 67.0,229.0 66.9,228.6 66.8,228.0 66.7,227.3 66.6,226.7 66.5,226.3 66.4,225.7 66.3,225.0 66.2,224.4 66.2,224.0 66.1,223.3 66.0,222.7 65.9,222.0 65.9,221.7 65.8,221.0 65.7,220.3 65.6,219.7 65.6,219.0 65.5,218.7 65.5,218.0 65.4,217.3 65.4,216.7 65.3,216.0 65.3,215.3 65.2,214.8 65.2,214.3 65.2,213.7 65.1,213.0 65.1,212.3 65.1,211.7 65.1,211.0 65.0,210.3 65.0,209.7 64.9,209.0 64.9,208.7 64.8,208.0 64.7,207.3 64.6,206.7 64.6,206.2 64.5,205.7 64.4,205.0 64.3,204.3 64.3,203.7 64.2,203.3 64.2,202.7 64.1,202.0 64.1,201.3 64.0,200.7 63.9,200.0 63.9,199.7 63.8,199.0 63.7,198.3 63.6,197.8 63.5,197.3 63.4,196.7 63.3,196.0 63.2,195.7 63.1,195.0 63.1,194.3 63.1,193.7 63.2,193.0 63.2,192.5 63.3,192.0 63.5,191.3 63.6,191.0 63.9,190.4 64.1,190.0 64.3,189.7 64.6,189.3 64.9,188.9 65.2,188.6 65.6,188.3 65.9,188.0 66.4,187.7 66.9,187.4 67.2,187.2 67.7,187.0 68.2,186.8 68.6,186.7 69.2,186.5 69.9,186.4 70.2,186.3 70.9,186.2 71.6,186.2 72.2,186.2 72.9,186.2 73.6,186.2 74.2,186.2 74.9,186.3 75.4,186.3 75.9,186.4 76.6,186.5 77.2,186.6 77.9,186.7 78.2,186.7 78.9,186.8 79.6,187.0 79.9,187.0 80.6,187.2 81.2,187.3 81.6,187.4 82.2,187.6 82.6,187.7 83.2,187.8 83.9,188.0 84.2,188.1 84.9,188.3 85.2,188.4 85.9,188.6 86.2,188.7 86.9,188.9 87.3,189.0 87.9,189.2 88.2,189.3 88.9,189.6 89.2,189.7 89.9,190.0 90.2,190.1 90.8,190.3 91.2,190.5 91.6,190.7 92.2,191.0 92.6,191.2 92.9,191.3 93.5,191.7 93.9,191.9 94.2,192.2 94.6,192.4 94.9,192.7 95.4,193.0 95.7,193.3 96.1,193.7 96.4,194.0 96.6,194.3 96.9,194.7 97.2,195.3 97.4,195.7 97.6,196.3 97.6,196.7 97.6,197.3 97.6,197.8 97.4,198.3 97.2,198.8 96.9,199.3 96.6,199.7 96.3,200.0 95.9,200.3 95.6,200.6 95.2,200.8 94.9,201.0 94.2,201.3 93.9,201.5 93.3,201.7 92.9,201.8 92.2,202.0 91.9,202.1 91.2,202.2 90.6,202.3 90.1,202.3 89.6,202.4 88.9,202.4 88.2,202.5 87.6,202.5 86.9,202.5 86.2,202.5 85.6,202.4 84.9,202.4 84.2,202.4 83.8,202.3 83.2,202.3 82.6,202.2 81.9,202.2 81.2,202.1 80.6,202.0 79.9,201.9 79.2,201.9 78.6,201.8 77.9,201.8 77.2,201.8 76.6,201.9 76.2,202.0 75.6,202.3 75.2,202.5 74.9,202.8 74.6,203.3 74.3,203.7 74.2,204.0 73.9,204.7 73.8,205.0 73.7,205.7 73.6,206.1 73.4,206.7 73.3,207.3 73.2,207.9 73.2,208.3 73.1,209.0 73.0,209.7 73.0,210.3 72.9,211.0 72.9,211.7 72.9,212.0 72.9,212.7 72.8,213.3 72.8,214.0 72.8,214.7 72.7,215.3 72.7,216.0 72.6,216.7 72.6,217.3 72.6,217.7 72.5,218.3 72.4,219.0 72.4,219.7 72.3,220.3 72.2,220.7 72.2,221.3 72.1,222.0 72.0,222.7 71.9,223.3 71.9,223.7 71.8,224.3 71.7,225.0 71.6,225.7 71.5,226.0 71.4,226.7 71.3,227.3 71.2,227.8 71.1,228.3 71.0,229.0 70.9,229.6 70.8,230.0 70.7,230.7 70.6,231.0 70.4,231.7 70.2,232.2 70.1,232.7 69.9,233.1 69.6,233.7 69.3,234.0"/><path d="M69.2,239.8 68.6,239.7 68.3,239.3 68.1,239.0 67.9,238.6 67.7,238.0 67.6,237.7 67.4,237.0 67.2,236.5 67.1,236.0 67.0,235.3 66.9,235.0 66.8,234.3 66.6,233.7 66.6,233.2 66.5,232.7 66.4,232.0 66.3,231.3 66.2,231.0 66.1,230.3 66.0,229.7 65.9,229.0 65.9,228.7 65.8,228.0 65.7,227.3 65.6,226.7 65.6,226.3 65.5,225.7 65.4,225.0 65.3,224.3 65.3,223.7 65.2,223.3 65.2,222.7 65.1,222.0 65.0,221.3 64.9,220.7 64.9,220.2 64.9,219.7 64.8,219.0 64.7,218.3 64.7,217.7 64.6,217.0 64.6,216.3 64.6,216.0 64.5,215.3 64.5,214.7 64.4,214.0 64.4,213.3 64.4,212.7 64.4,212.0 64.4,211.3 64.3,210.7 64.3,210.0 64.3,209.3 64.2,208.8 64.2,208.3 64.1,207.7 64.1,207.0 64.0,206.3 63.9,205.7 63.9,205.3 63.8,204.7 63.8,204.0 63.7,203.3 63.7,202.7 63.6,202.0 63.6,201.3 63.6,201.0 63.5,200.3 63.4,199.7 63.3,199.0 63.2,198.4 63.2,198.0 63.0,197.3 62.9,196.7 62.9,196.3 62.8,195.7 62.7,195.0 62.7,194.3 62.7,193.7 62.7,193.0 62.8,192.3 62.9,192.0 63.1,191.3 63.2,190.9 63.5,190.3 63.7,190.0 63.9,189.6 64.2,189.1 64.6,188.7 64.9,188.3 65.2,188.0 65.6,187.8 65.9,187.5 66.2,187.3 66.7,187.0 67.2,186.8 67.6,186.6 68.2,186.4 68.6,186.3 69.2,186.1 69.9,186.0 70.2,185.9 70.9,185.9 71.6,185.8 72.2,185.8 72.9,185.8 73.6,185.8 74.2,185.9 74.9,185.9 75.6,186.0 75.9,186.0 76.6,186.1 77.2,186.2 77.9,186.3 78.3,186.3 78.9,186.4 79.6,186.6 80.1,186.7 80.6,186.8 81.2,186.9 81.7,187.0 82.2,187.1 82.9,187.3 83.2,187.4 83.9,187.5 84.4,187.7 84.9,187.8 85.6,188.0 86.2,188.2 86.7,188.3 87.2,188.5 87.8,188.7 88.2,188.8 88.8,189.0 89.2,189.2 89.7,189.3 90.2,189.5 90.6,189.7 91.2,189.9 91.6,190.1 92.1,190.3 92.6,190.5 92.9,190.7 93.5,191.0 93.9,191.2 94.2,191.4 94.6,191.7 95.1,192.0 95.6,192.3 95.9,192.6 96.2,192.8 96.6,193.1 96.9,193.5 97.2,193.9 97.6,194.3 97.8,194.7 98.0,195.0 98.2,195.4 98.4,196.0 98.6,196.6 98.6,197.0 98.6,197.7 98.5,198.0 98.3,198.7 98.2,199.0 97.9,199.5 97.6,199.9 97.2,200.3 96.9,200.6 96.6,200.8 96.2,201.1 95.8,201.3 95.2,201.6 94.9,201.8 94.4,202.0 93.9,202.2 93.4,202.3 92.9,202.5 92.2,202.6 91.9,202.7 91.2,202.8 90.6,202.9 89.9,202.9 89.2,203.0 88.6,203.0 87.9,203.0 87.2,203.0 86.6,203.0 85.9,203.0 85.2,202.9 84.6,202.9 83.9,202.8 83.2,202.8 82.6,202.7 82.2,202.6 81.6,202.6 80.9,202.5 80.2,202.4 79.6,202.4 79.2,202.3 78.6,202.3 77.9,202.3 77.2,202.3 76.9,202.4 76.2,202.6 75.9,202.8 75.6,203.0 75.2,203.4 74.9,203.9 74.7,204.3 74.6,204.7 74.3,205.3 74.2,205.8 74.1,206.3 74.0,207.0 73.9,207.7 73.9,208.0 73.8,208.7 73.7,209.3 73.7,210.0 73.7,210.7 73.6,211.3 73.6,212.0 73.6,212.7 73.6,213.3 73.6,213.7 73.5,214.3 73.5,215.0 73.5,215.7 73.4,216.3 73.4,217.0 73.3,217.7 73.3,218.3 73.2,218.7 73.2,219.3 73.1,220.0 73.1,220.7 73.0,221.3 72.9,222.0 72.9,222.3 72.8,223.0 72.7,223.7 72.7,224.3 72.6,225.0 72.5,225.3 72.5,226.0 72.4,226.7 72.3,227.3 72.2,227.9 72.2,228.3 72.1,229.0 72.0,229.7 71.9,230.3 71.8,230.7 71.7,231.3 71.6,232.0 71.6,232.5 71.5,233.0 71.4,233.7 71.2,234.3 71.2,234.7 71.0,235.3 70.9,235.9 70.8,236.3 70.6,237.0 70.5,237.3 70.3,238.0 70.2,238.3 69.9,239.0 69.7,239.3 69.4,239.7"/><path d="M69.6,245.1 68.9,245.3 68.3,245.0 68.1,244.7 67.9,244.3 67.6,243.7 67.4,243.3 67.2,242.8 67.1,242.3 66.9,241.7 66.8,241.3 66.7,240.7 66.6,240.1 66.5,239.7 66.4,239.0 66.2,238.3 66.2,238.0 66.1,237.3 66.0,236.7 65.9,236.3 65.8,235.7 65.7,235.0 65.6,234.3 65.6,234.0 65.5,233.3 65.4,232.7 65.3,232.0 65.2,231.4 65.2,231.0 65.1,230.3 65.0,229.7 65.0,229.0 64.9,228.5 64.8,228.0 64.8,227.3 64.7,226.7 64.6,226.0 64.6,225.3 64.5,225.0 64.5,224.3 64.4,223.7 64.3,223.0 64.3,222.3 64.2,221.9 64.2,221.3 64.1,220.7 64.1,220.0 64.0,219.3 63.9,218.7 63.9,218.0 63.9,217.7 63.8,217.0 63.8,216.3 63.7,215.7 63.7,215.0 63.7,214.3 63.6,213.7 63.6,213.0 63.6,212.3 63.6,211.7 63.6,211.0 63.6,210.3 63.6,210.0 63.5,209.3 63.5,208.7 63.5,208.0 63.4,207.3 63.4,206.7 63.3,206.0 63.3,205.3 63.2,204.7 63.2,204.3 63.2,203.7 63.1,203.0 63.1,202.3 63.1,201.7 63.0,201.0 62.9,200.3 62.9,199.8 62.8,199.3 62.7,198.7 62.6,198.0 62.6,197.5 62.5,197.0 62.4,196.3 62.3,195.7 62.2,195.1 62.2,194.7 62.2,194.0 62.2,193.3 62.2,193.0 62.3,192.3 62.5,191.7 62.6,191.3 62.8,190.7 62.9,190.3 63.2,189.8 63.5,189.3 63.7,189.0 64.0,188.7 64.2,188.3 64.6,188.0 64.9,187.7 65.3,187.3 65.8,187.0 66.2,186.7 66.6,186.6 67.0,186.3 67.6,186.1 67.9,186.0 68.6,185.8 69.2,185.7 69.6,185.6 70.2,185.5 70.9,185.4 71.6,185.4 72.2,185.4 72.9,185.4 73.6,185.4 74.2,185.4 74.9,185.5 75.6,185.5 76.2,185.6 76.8,185.7 77.2,185.7 77.9,185.8 78.6,185.9 79.1,186.0 79.6,186.1 80.2,186.2 80.9,186.3 81.2,186.4 81.9,186.5 82.4,186.7 82.9,186.8 83.6,186.9 83.9,187.0 84.6,187.2 85.1,187.3 85.6,187.4 86.2,187.6 86.6,187.7 87.2,187.9 87.6,188.0 88.2,188.2 88.6,188.3 89.2,188.6 89.6,188.7 90.2,188.9 90.6,189.0 91.2,189.3 91.6,189.4 92.2,189.7 92.6,189.8 93.0,190.0 93.6,190.3 93.9,190.5 94.3,190.7 94.9,191.0 95.2,191.2 95.6,191.4 96.0,191.7 96.4,192.0 96.9,192.3 97.2,192.6 97.6,192.9 97.9,193.3 98.2,193.7 98.5,194.0 98.7,194.3 98.9,194.7 99.2,195.2 99.4,195.7 99.6,196.2 99.7,196.7 99.7,197.3 99.6,198.0 99.6,198.4 99.4,199.0 99.2,199.3 98.9,199.8 98.6,200.3 98.2,200.6 97.9,201.0 97.6,201.2 97.2,201.5 96.9,201.7 96.4,202.0 95.9,202.2 95.6,202.4 94.9,202.7 94.6,202.8 93.9,203.0 93.6,203.0 92.9,203.2 92.2,203.3 91.9,203.4 91.2,203.5 90.6,203.5 89.9,203.6 89.2,203.6 88.6,203.6 87.9,203.6 87.2,203.6 86.6,203.6 85.9,203.5 85.2,203.5 84.6,203.4 83.9,203.4 83.6,203.3 82.9,203.3 82.2,203.2 81.6,203.1 80.9,203.0 80.6,203.0 79.9,202.9 79.2,202.9 78.6,202.9 77.9,202.9 77.2,203.0 76.9,203.1 76.4,203.3 76.0,203.7 75.7,204.0 75.5,204.3 75.2,204.8 75.1,205.3 74.9,205.9 74.8,206.3 74.7,207.0 74.6,207.7 74.6,208.0 74.5,208.7 74.5,209.3 74.4,210.0 74.4,210.7 74.4,211.3 74.4,212.0 74.4,212.7 74.4,213.3 74.3,214.0 74.3,214.7 74.3,215.3 74.2,216.0 74.2,216.3 74.2,217.0 74.1,217.7 74.1,218.3 74.0,219.0 74.0,219.7 73.9,220.3 73.9,220.7 73.8,221.3 73.8,222.0 73.7,222.7 73.6,223.3 73.6,224.0 73.5,224.3 73.5,225.0 73.4,225.7 73.3,226.3 73.3,227.0 73.2,227.3 73.2,228.0 73.1,228.7 73.0,229.3 72.9,230.0 72.9,230.3 72.8,231.0 72.7,231.7 72.6,232.3 72.6,233.0 72.5,233.3 72.4,234.0 72.3,234.7 72.2,235.3 72.2,235.7 72.1,236.3 72.0,237.0 71.9,237.5 71.8,238.0 71.7,238.7 71.6,239.3 71.5,239.7 71.4,240.3 71.2,241.0 71.2,241.3 71.0,242.0 70.9,242.3 70.7,243.0 70.6,243.4 70.3,244.0 70.1,244.3 69.9,244.7 69.6,245.1"/><path d="M69.6,249.5 68.9,249.6 68.2,249.4 67.9,249.1 67.6,248.8 67.3,248.3 67.1,248.0 66.9,247.7 66.6,247.0 66.5,246.7 66.3,246.0 66.2,245.7 66.0,245.0 65.9,244.4 65.8,244.0 65.7,243.3 65.6,242.7 65.5,242.3 65.4,241.7 65.3,241.0 65.2,240.5 65.2,240.0 65.1,239.3 65.0,238.7 64.9,238.1 64.8,237.7 64.8,237.0 64.7,236.3 64.6,235.7 64.5,235.0 64.5,234.3 64.4,233.7 64.3,233.0 64.2,232.3 64.2,232.0 64.1,231.3 64.1,230.7 64.0,230.0 63.9,229.3 63.9,229.0 63.8,228.3 63.8,227.7 63.7,227.0 63.6,226.3 63.6,225.7 63.5,225.3 63.5,224.7 63.4,224.0 63.4,223.3 63.3,222.7 63.3,222.0 63.2,221.7 63.2,221.0 63.1,220.3 63.1,219.7 63.0,219.0 63.0,218.3 62.9,217.7 62.9,217.3 62.8,216.7 62.8,216.0 62.8,215.3 62.7,214.7 62.7,214.0 62.7,213.3 62.7,212.7 62.7,212.0 62.7,211.3 62.7,210.7 62.6,210.0 62.6,209.3 62.6,208.7 62.6,208.0 62.6,207.3 62.6,206.7 62.6,206.3 62.5,205.7 62.5,205.0 62.5,204.3 62.4,203.7 62.4,203.0 62.4,202.3 62.3,201.7 62.3,201.0 62.3,200.3 62.2,200.0 62.1,199.3 62.1,198.7 62.0,198.0 61.9,197.6 61.8,197.0 61.7,196.3 61.6,195.7 61.6,195.0 61.6,194.7 61.5,194.0 61.6,193.4 61.6,193.0 61.7,192.3 61.8,191.7 61.9,191.3 62.1,190.7 62.2,190.3 62.5,189.7 62.7,189.3 62.9,189.0 63.2,188.6 63.6,188.1 63.9,187.8 64.2,187.4 64.6,187.1 64.9,186.9 65.2,186.6 65.7,186.3 66.2,186.0 66.6,185.9 67.0,185.7 67.6,185.5 68.0,185.3 68.6,185.2 69.2,185.0 69.6,185.0 70.2,184.9 70.9,184.8 71.6,184.8 72.2,184.8 72.9,184.8 73.6,184.8 74.2,184.9 74.9,184.9 75.6,185.0 76.1,185.0 76.6,185.0 77.2,185.1 77.9,185.2 78.6,185.3 78.9,185.3 79.6,185.4 80.2,185.6 80.8,185.7 81.2,185.7 81.9,185.9 82.5,186.0 82.9,186.1 83.6,186.2 84.0,186.3 84.6,186.5 85.2,186.6 85.6,186.7 86.2,186.9 86.6,187.0 87.2,187.2 87.8,187.3 88.2,187.5 88.9,187.7 89.2,187.8 89.9,188.0 90.2,188.1 90.9,188.3 91.2,188.4 91.9,188.7 92.2,188.8 92.7,189.0 93.2,189.2 93.6,189.3 94.2,189.7 94.6,189.8 95.0,190.0 95.6,190.3 95.9,190.5 96.2,190.7 96.7,191.0 97.2,191.3 97.6,191.6 97.9,191.8 98.2,192.1 98.6,192.4 98.9,192.7 99.2,193.1 99.6,193.5 99.9,193.9 100.2,194.3 100.4,194.7 100.6,195.0 100.8,195.7 100.9,196.0 101.1,196.7 101.1,197.3 101.1,198.0 100.9,198.7 100.8,199.0 100.6,199.6 100.4,200.0 100.2,200.3 99.9,200.7 99.6,201.1 99.2,201.4 98.9,201.7 98.5,202.0 98.0,202.3 97.6,202.6 97.2,202.8 96.8,203.0 96.2,203.2 95.9,203.4 95.2,203.6 94.9,203.7 94.2,203.9 93.6,204.0 93.2,204.1 92.6,204.2 91.9,204.3 91.2,204.3 90.9,204.3 90.2,204.4 89.6,204.4 88.9,204.4 88.2,204.4 87.6,204.4 86.9,204.3 86.6,204.3 85.9,204.3 85.2,204.2 84.6,204.2 83.9,204.1 83.2,204.0 82.9,204.0 82.2,203.9 81.6,203.8 80.9,203.8 80.2,203.7 79.9,203.7 79.2,203.6 78.6,203.6 78.2,203.7 77.6,203.8 77.2,204.0 76.7,204.3 76.4,204.7 76.2,205.0 75.9,205.6 75.8,206.0 75.6,206.7 75.6,207.0 75.5,207.7 75.4,208.3 75.4,209.0 75.4,209.7 75.4,210.3 75.4,211.0 75.3,211.7 75.3,212.3 75.3,213.0 75.3,213.7 75.3,214.3 75.3,215.0 75.2,215.4 75.2,216.0 75.2,216.7 75.1,217.3 75.1,218.0 75.0,218.7 75.0,219.3 74.9,220.0 74.9,220.3 74.8,221.0 74.8,221.7 74.7,222.3 74.7,223.0 74.6,223.7 74.6,224.1 74.5,224.7 74.5,225.3 74.4,226.0 74.3,226.7 74.3,227.3 74.2,227.7 74.2,228.3 74.1,229.0 74.0,229.7 74.0,230.3 73.9,231.0 73.9,231.3 73.8,232.0 73.7,232.7 73.7,233.3 73.6,234.0 73.5,234.3 73.5,235.0 73.4,235.7 73.3,236.3 73.2,237.0 73.2,237.3 73.1,238.0 73.0,238.7 72.9,239.3 72.9,239.7 72.8,240.3 72.7,241.0 72.6,241.7 72.5,242.0 72.4,242.7 72.3,243.3 72.2,243.7 72.1,244.3 72.0,245.0 71.9,245.3 71.7,246.0 71.6,246.4 71.4,247.0 71.2,247.4 70.9,248.0 70.7,248.3 70.5,248.7 70.2,249.0 69.8,249.3"/><path d="M69.6,253.4 68.9,253.4 68.3,253.3 67.9,253.2 67.6,253.0 67.1,252.7 66.8,252.3 66.5,252.0 66.2,251.7 65.9,251.1 65.6,250.7 65.5,250.3 65.2,249.7 65.1,249.3 64.9,248.7 64.8,248.3 64.6,247.7 64.6,247.3 64.4,246.7 64.3,246.0 64.2,245.6 64.1,245.0 64.0,244.3 63.9,243.7 63.9,243.3 63.8,242.7 63.7,242.0 63.6,241.3 63.6,240.8 63.5,240.3 63.4,239.7 63.4,239.0 63.3,238.3 63.2,237.8 63.2,237.3 63.1,236.7 63.0,236.0 63.0,235.3 62.9,234.7 62.9,234.3 62.8,233.7 62.8,233.0 62.7,232.3 62.6,231.7 62.6,231.0 62.5,230.7 62.5,230.0 62.4,229.3 62.4,228.7 62.3,228.0 62.2,227.3 62.2,227.0 62.2,226.3 62.1,225.7 62.0,225.0 62.0,224.3 61.9,223.7 61.9,223.3 61.8,222.7 61.8,222.0 61.7,221.3 61.7,220.7 61.6,220.0 61.6,219.3 61.6,219.0 61.5,218.3 61.5,217.7 61.4,217.0 61.4,216.3 61.3,215.7 61.3,215.0 61.3,214.3 61.3,213.7 61.3,213.0 61.2,212.3 61.2,211.7 61.2,211.0 61.3,210.3 61.3,209.7 61.3,209.0 61.3,208.3 61.3,207.7 61.3,207.0 61.3,206.3 61.3,205.7 61.3,205.0 61.3,204.3 61.3,203.7 61.2,203.0 61.2,202.3 61.2,202.0 61.2,201.3 61.2,200.7 61.1,200.0 61.0,199.3 61.0,198.7 60.9,198.2 60.8,197.7 60.7,197.0 60.6,196.3 60.6,195.7 60.5,195.3 60.5,194.7 60.5,194.0 60.5,193.3 60.6,192.7 60.6,192.3 60.7,191.7 60.9,191.0 61.0,190.7 61.2,190.0 61.4,189.7 61.6,189.3 61.9,188.7 62.1,188.3 62.3,188.0 62.6,187.7 62.9,187.3 63.2,186.9 63.6,186.6 63.9,186.3 64.3,186.0 64.8,185.7 65.2,185.4 65.6,185.2 66.0,185.0 66.6,184.7 66.9,184.6 67.6,184.4 67.9,184.3 68.6,184.2 69.2,184.0 69.6,184.0 70.2,183.9 70.9,183.9 71.6,183.9 72.2,183.8 72.9,183.9 73.6,183.9 74.2,183.9 74.9,183.9 75.6,184.0 75.9,184.0 76.6,184.1 77.2,184.1 77.9,184.2 78.6,184.3 79.1,184.3 79.6,184.4 80.2,184.5 80.9,184.6 81.2,184.7 81.9,184.8 82.6,184.9 83.0,185.0 83.6,185.1 84.2,185.3 84.6,185.3 85.2,185.5 85.9,185.6 86.2,185.7 86.9,185.9 87.4,186.0 87.9,186.1 88.6,186.3 88.9,186.4 89.6,186.6 89.9,186.7 90.6,186.9 90.9,187.0 91.6,187.2 91.9,187.3 92.6,187.5 92.9,187.7 93.6,187.9 93.9,188.0 94.6,188.3 94.9,188.4 95.4,188.7 95.9,188.9 96.2,189.0 96.8,189.3 97.2,189.6 97.6,189.7 98.0,190.0 98.5,190.3 98.9,190.6 99.2,190.8 99.6,191.1 99.9,191.3 100.3,191.7 100.6,192.0 101.0,192.3 101.3,192.7 101.6,193.0 101.9,193.5 102.2,194.0 102.4,194.3 102.6,194.7 102.9,195.3 103.0,195.7 103.2,196.3 103.2,196.8 103.3,197.3 103.3,198.0 103.2,198.3 103.1,199.0 102.9,199.6 102.7,200.0 102.6,200.4 102.2,200.9 102.0,201.3 101.7,201.7 101.4,202.0 101.0,202.3 100.7,202.7 100.3,203.0 99.9,203.3 99.6,203.5 99.2,203.7 98.6,204.0 98.2,204.2 97.9,204.3 97.2,204.6 96.9,204.7 96.2,204.9 95.9,205.0 95.2,205.2 94.6,205.3 94.2,205.4 93.6,205.5 92.9,205.6 92.2,205.6 91.7,205.7 91.2,205.7 90.6,205.7 89.9,205.7 89.2,205.7 88.6,205.7 88.0,205.7 87.6,205.6 86.9,205.6 86.2,205.5 85.6,205.5 84.9,205.4 84.2,205.3 83.9,205.3 83.2,205.2 82.6,205.1 81.9,205.1 81.4,205.0 80.9,205.0 80.2,204.9 79.6,204.9 79.0,205.0 78.6,205.1 78.1,205.3 77.7,205.7 77.4,206.0 77.2,206.4 77.0,207.0 76.9,207.7 76.9,208.0 76.8,208.7 76.8,209.3 76.8,210.0 76.8,210.7 76.8,211.3 76.8,212.0 76.8,212.7 76.7,213.3 76.7,214.0 76.7,214.7 76.7,215.3 76.6,216.0 76.6,216.7 76.6,217.2 76.5,217.7 76.5,218.3 76.4,219.0 76.4,219.7 76.3,220.3 76.3,221.0 76.2,221.6 76.2,222.0 76.2,222.7 76.1,223.3 76.0,224.0 76.0,224.7 75.9,225.3 75.9,226.0 75.8,226.7 75.8,227.3 75.7,228.0 75.6,228.7 75.6,229.3 75.6,229.7 75.5,230.3 75.4,231.0 75.4,231.7 75.3,232.3 75.2,233.0 75.2,233.3 75.1,234.0 75.1,234.7 75.0,235.3 75.0,236.0 74.9,236.5 74.8,237.0 74.8,237.7 74.7,238.3 74.6,239.0 74.6,239.6 74.5,240.0 74.4,240.7 74.4,241.3 74.3,242.0 74.2,242.4 74.2,243.0 74.1,243.7 74.0,244.3 73.9,244.8 73.8,245.3 73.7,246.0 73.6,246.7 73.5,247.0 73.4,247.7 73.2,248.2 73.1,248.7 72.9,249.3 72.8,249.7 72.6,250.2 72.4,250.7 72.2,251.0 71.9,251.5 71.6,252.0 71.2,252.3 70.9,252.7 70.6,252.9 70.2,253.1 69.7,253.3"/></g>
<rect x="60.40" y="184.50" width="48.30" height="24.80" fill="none" stroke="#5a5a5a" stroke-width="0.8" />
<line x1="74.60" y1="184.50" x2="74.60" y2="209.30" stroke="#5a5a5a" stroke-width="0.8" />
<rect x="60.40" y="209.30" width="14.20" height="27.60" fill="none" stroke="#5a5a5a" stroke-width="0.8" />
<rect x="74.60" y="209.60" width="38.10" height="36.80" fill="none" stroke="#5a5a5a" stroke-width="0.8" />
<rect x="44.40" y="179.50" width="95.90" height="95.20" fill="none" stroke="#1a1a1a" stroke-width="1.0" />
<rect x="42.40" y="251.00" width="2.00" height="3.60" fill="#111" stroke="none" stroke-width="0.8" />
<rect x="63.60" y="274.70" width="3.60" height="2.20" fill="#111" stroke="none" stroke-width="0.8" />
<line x1="41.20" y1="188.60" x2="44.40" y2="188.60" stroke="#222" stroke-width="0.8" />
<text x="37.80" y="191.00" font-size="6.8" text-anchor="end" fill="#222">10<tspan font-size="4.22" dy="-2.86">5</tspan></text>
<line x1="41.20" y1="211.70" x2="44.40" y2="211.70" stroke="#222" stroke-width="0.8" />
<text x="37.80" y="214.10" font-size="6.8" text-anchor="end" fill="#222">10<tspan font-size="4.22" dy="-2.86">4</tspan></text>
<line x1="41.20" y1="237.20" x2="44.40" y2="237.20" stroke="#222" stroke-width="0.8" />
<text x="37.80" y="239.60" font-size="6.8" text-anchor="end" fill="#222">10<tspan font-size="4.22" dy="-2.86">3</tspan></text>
<line x1="41.20" y1="252.10" x2="44.40" y2="252.10" stroke="#222" stroke-width="0.8" />
<text x="37.50" y="254.50" font-size="6.8" text-anchor="end" fill="#222" >0</text>
<line x1="41.20" y1="268.30" x2="44.40" y2="268.30" stroke="#222" stroke-width="0.8" />
<text x="37.80" y="270.70" font-size="6.8" text-anchor="end" fill="#222">−10<tspan font-size="4.22" dy="-2.86">3</tspan></text>
<line x1="42.90" y1="204.75" x2="44.40" y2="204.75" stroke="#222" stroke-width="0.5" />
<line x1="42.90" y1="200.68" x2="44.40" y2="200.68" stroke="#222" stroke-width="0.5" />
<line x1="42.90" y1="197.79" x2="44.40" y2="197.79" stroke="#222" stroke-width="0.5" />
<line x1="42.90" y1="195.55" x2="44.40" y2="195.55" stroke="#222" stroke-width="0.5" />
<line x1="42.90" y1="193.72" x2="44.40" y2="193.72" stroke="#222" stroke-width="0.5" />
<line x1="42.90" y1="192.18" x2="44.40" y2="192.18" stroke="#222" stroke-width="0.5" />
<line x1="42.90" y1="190.84" x2="44.40" y2="190.84" stroke="#222" stroke-width="0.5" />
<line x1="42.90" y1="189.66" x2="44.40" y2="189.66" stroke="#222" stroke-width="0.5" />
<line x1="42.90" y1="229.52" x2="44.40" y2="229.52" stroke="#222" stroke-width="0.5" />
<line x1="42.90" y1="225.03" x2="44.40" y2="225.03" stroke="#222" stroke-width="0.5" />
<line x1="42.90" y1="221.85" x2="44.40" y2="221.85" stroke="#222" stroke-width="0.5" />
<line x1="42.90" y1="219.38" x2="44.40" y2="219.38" stroke="#222" stroke-width="0.5" />
<line x1="42.90" y1="217.36" x2="44.40" y2="217.36" stroke="#222" stroke-width="0.5" />
<line x1="42.90" y1="215.65" x2="44.40" y2="215.65" stroke="#222" stroke-width="0.5" />
<line x1="42.90" y1="214.17" x2="44.40" y2="214.17" stroke="#222" stroke-width="0.5" />
<line x1="42.90" y1="212.87" x2="44.40" y2="212.87" stroke="#222" stroke-width="0.5" />
<line x1="42.90" y1="241.50" x2="44.40" y2="241.50" stroke="#222" stroke-width="0.5" />
<line x1="42.90" y1="246.50" x2="44.40" y2="246.50" stroke="#222" stroke-width="0.5" />
<line x1="42.90" y1="257.50" x2="44.40" y2="257.50" stroke="#222" stroke-width="0.5" />
<line x1="42.90" y1="262.50" x2="44.40" y2="262.50" stroke="#222" stroke-width="0.5" />
<line x1="49.60" y1="274.70" x2="49.60" y2="277.70" stroke="#222" stroke-width="0.8" />
<line x1="65.20" y1="274.70" x2="65.20" y2="277.70" stroke="#222" stroke-width="0.8" />
<line x1="80.80" y1="274.70" x2="80.80" y2="277.70" stroke="#222" stroke-width="0.8" />
<line x1="106.40" y1="274.70" x2="106.40" y2="277.70" stroke="#222" stroke-width="0.8" />
<line x1="129.00" y1="274.70" x2="129.00" y2="277.70" stroke="#222" stroke-width="0.8" />
<text x="52.10" y="288.00" font-size="6.8" text-anchor="middle" fill="#222">−10<tspan font-size="4.22" dy="-2.86">3</tspan></text>
<text x="66.90" y="288.00" font-size="6.8" text-anchor="middle" fill="#222" >0</text>
<text x="81.00" y="288.00" font-size="6.8" text-anchor="middle" fill="#222">10<tspan font-size="4.22" dy="-2.86">3</tspan></text>
<text x="108.20" y="288.00" font-size="6.8" text-anchor="middle" fill="#222">10<tspan font-size="4.22" dy="-2.86">4</tspan></text>
<text x="130.40" y="288.00" font-size="6.8" text-anchor="middle" fill="#222">10<tspan font-size="4.22" dy="-2.86">5</tspan></text>
<line x1="88.51" y1="274.70" x2="88.51" y2="276.20" stroke="#222" stroke-width="0.5" />
<line x1="93.01" y1="274.70" x2="93.01" y2="276.20" stroke="#222" stroke-width="0.5" />
<line x1="96.21" y1="274.70" x2="96.21" y2="276.20" stroke="#222" stroke-width="0.5" />
<line x1="98.69" y1="274.70" x2="98.69" y2="276.20" stroke="#222" stroke-width="0.5" />
<line x1="100.72" y1="274.70" x2="100.72" y2="276.20" stroke="#222" stroke-width="0.5" />
<line x1="102.43" y1="274.70" x2="102.43" y2="276.20" stroke="#222" stroke-width="0.5" />
<line x1="103.92" y1="274.70" x2="103.92" y2="276.20" stroke="#222" stroke-width="0.5" />
<line x1="105.23" y1="274.70" x2="105.23" y2="276.20" stroke="#222" stroke-width="0.5" />
<line x1="113.20" y1="274.70" x2="113.20" y2="276.20" stroke="#222" stroke-width="0.5" />
<line x1="117.18" y1="274.70" x2="117.18" y2="276.20" stroke="#222" stroke-width="0.5" />
<line x1="120.01" y1="274.70" x2="120.01" y2="276.20" stroke="#222" stroke-width="0.5" />
<line x1="122.20" y1="274.70" x2="122.20" y2="276.20" stroke="#222" stroke-width="0.5" />
<line x1="123.99" y1="274.70" x2="123.99" y2="276.20" stroke="#222" stroke-width="0.5" />
<line x1="125.50" y1="274.70" x2="125.50" y2="276.20" stroke="#222" stroke-width="0.5" />
<line x1="126.81" y1="274.70" x2="126.81" y2="276.20" stroke="#222" stroke-width="0.5" />
<line x1="127.97" y1="274.70" x2="127.97" y2="276.20" stroke="#222" stroke-width="0.5" />
<line x1="54.40" y1="274.70" x2="54.40" y2="276.20" stroke="#222" stroke-width="0.5" />
<line x1="59.40" y1="274.70" x2="59.40" y2="276.20" stroke="#222" stroke-width="0.5" />
<line x1="70.40" y1="274.70" x2="70.40" y2="276.20" stroke="#222" stroke-width="0.5" />
<line x1="75.40" y1="274.70" x2="75.40" y2="276.20" stroke="#222" stroke-width="0.5" />
<text x="59.30" y="199.00" font-size="6.6" text-anchor="end" fill="#222" >30.8</text>
<text x="114.80" y="199.00" font-size="6.6" text-anchor="start" fill="#222" >40.0</text>
<text x="59.30" y="226.30" font-size="6.6" text-anchor="end" fill="#222" >17.1</text>
<text x="116.00" y="232.40" font-size="6.6" text-anchor="start" fill="#222" >3.56</text>
<text x="218.50" y="176.00" font-size="6.5" text-anchor="middle" fill="#222" >Day 17</text>
<path d="M243.9,237.9h0.8M208.2,227.9h0.8M250.5,232.9h0.8M246.7,239.1h0.8M238.5,197.3h0.8M260.0,221.5h0.8M193.7,200.8h0.8M205.1,235.9h0.8M227.1,254.9h0.8M204.3,221.6h0.8M206.4,223.3h0.8M231.5,238.4h0.8M221.9,195.5h0.8M187.9,233.3h0.8M197.3,216.3h0.8M188.0,249.7h0.8M242.4,249.8h0.8M206.8,228.0h0.8M197.2,213.1h0.8M203.2,219.5h0.8M220.0,239.8h0.8M188.9,202.0h0.8M234.3,271.9h0.8M217.2,237.0h0.8M232.6,249.3h0.8M195.5,226.1h0.8M199.2,197.1h0.8M258.6,233.2h0.8M233.3,237.5h0.8M224.8,248.3h0.8M204.4,221.5h0.8M193.0,217.7h0.8M216.0,246.7h0.8M249.2,234.2h0.8M235.7,270.2h0.8M207.5,229.1h0.8M194.1,236.1h0.8M205.3,257.5h0.8M202.7,221.0h0.8M254.9,223.7h0.8M248.8,233.2h0.8M221.7,253.2h0.8M253.4,228.4h0.8M218.2,244.1h0.8M250.8,216.2h0.8M209.5,191.6h0.8M196.2,222.1h0.8M254.9,197.7h0.8M236.3,248.6h0.8M254.5,207.7h0.8M241.9,235.6h0.8M220.7,244.1h0.8M226.9,248.2h0.8M264.4,221.1h0.8M201.1,197.5h0.8M191.9,216.9h0.8M221.3,243.1h0.8M245.3,237.1h0.8M211.9,238.6h0.8M230.9,236.1h0.8M249.5,219.3h0.8M257.1,218.3h0.8M214.5,254.8h0.8M244.9,237.0h0.8M212.0,266.6h0.8M225.1,233.6h0.8M216.6,194.7h0.8M247.4,274.4h0.8M248.4,231.2h0.8M244.1,243.8h0.8M205.7,231.9h0.8M257.1,222.2h0.8M251.1,236.5h0.8M192.9,236.1h0.8M189.9,205.4h0.8M194.3,197.5h0.8M218.8,245.5h0.8M198.4,198.4h0.8M174.8,229.5h0.8M255.6,240.8h0.8M251.3,204.6h0.8M223.5,241.0h0.8M261.3,219.4h0.8M216.9,261.7h0.8M245.8,237.0h0.8M248.3,246.4h0.8M199.6,221.0h0.8M250.7,247.7h0.8M241.1,239.0h0.8M234.8,242.6h0.8M200.9,256.0h0.8M265.6,256.5h0.8M205.8,219.6h0.8M245.1,234.0h0.8M256.2,240.2h0.8M187.8,234.9h0.8M248.4,254.1h0.8M208.4,218.3h0.8M207.3,239.2h0.8M251.9,205.7h0.8M253.9,232.3h0.8M213.1,233.0h0.8M266.7,225.8h0.8M220.6,241.1h0.8M252.4,213.5h0.8M249.3,249.0h0.8M186.4,225.9h0.8M207.0,236.1h0.8M200.7,221.8h0.8M258.9,247.2h0.8M211.4,237.4h0.8M206.8,230.9h0.8M205.7,224.4h0.8M229.7,239.2h0.8M218.6,259.6h0.8M215.7,240.2h0.8M229.2,238.1h0.8M219.6,234.4h0.8M205.2,254.2h0.8M214.8,238.8h0.8M187.3,241.7h0.8M206.3,230.8h0.8M189.4,226.1h0.8M242.8,236.4h0.8M185.0,250.6h0.8M198.4,220.9h0.8M252.9,223.6h0.8M240.1,236.5h0.8M204.9,227.1h0.8M229.7,235.1h0.8M223.6,234.6h0.8M250.5,237.1h0.8M195.5,198.7h0.8M244.0,199.1h0.8M217.4,241.7h0.8M203.6,225.7h0.8M251.6,201.5h0.8M220.2,233.5h0.8M207.1,227.8h0.8M250.0,253.5h0.8M247.5,259.4h0.8M194.9,245.4h0.8M218.7,233.4h0.8M233.5,267.0h0.8M199.1,230.0h0.8M246.2,262.5h0.8M215.0,194.3h0.8M205.9,232.6h0.8M204.3,228.1h0.8M193.7,211.9h0.8M218.6,244.8h0.8M193.0,244.3h0.8M196.9,259.7h0.8M228.5,243.6h0.8M197.6,259.4h0.8M239.2,240.8h0.8M254.4,211.1h0.8M211.6,249.5h0.8M250.8,224.9h0.8M206.9,229.8h0.8M241.2,235.7h0.8M222.1,253.7h0.8M216.8,194.1h0.8M227.4,237.4h0.8M231.4,244.2h0.8M190.0,248.5h0.8M206.2,216.9h0.8M259.4,238.0h0.8M244.0,200.0h0.8M215.2,232.9h0.8M182.2,239.1h0.8M199.7,214.1h0.8M244.5,244.4h0.8M248.3,254.3h0.8M215.0,268.7h0.8M210.7,240.1h0.8M206.5,222.2h0.8M209.4,237.1h0.8M214.7,233.6h0.8M247.3,216.5h0.8M231.0,244.3h0.8M220.1,195.2h0.8M246.5,214.7h0.8M183.4,221.5h0.8M207.0,221.8h0.8M186.7,249.2h0.8M266.2,258.5h0.8M246.9,239.0h0.8M262.3,250.5h0.8M226.6,257.5h0.8M257.3,225.0h0.8M199.3,218.8h0.8M203.5,228.3h0.8M212.0,240.1h0.8M195.3,233.2h0.8M251.1,227.4h0.8M217.2,239.1h0.8M220.5,239.4h0.8M197.6,213.8h0.8M223.1,255.8h0.8M241.9,243.6h0.8M217.9,236.0h0.8M251.3,222.3h0.8M235.6,242.3h0.8M235.3,243.0h0.8M211.7,231.9h0.8M202.3,234.7h0.8M243.3,252.4h0.8M258.0,258.3h0.8M206.4,230.2h0.8M199.5,223.6h0.8M259.7,223.2h0.8M215.4,232.9h0.8M196.6,224.0h0.8M191.8,223.4h0.8M191.6,238.7h0.8M228.6,241.7h0.8M201.8,229.4h0.8M250.2,218.7h0.8M190.5,243.1h0.8M254.1,203.7h0.8M247.3,232.5h0.8M203.4,215.2h0.8M222.3,236.0h0.8M199.3,236.8h0.8M187.4,208.2h0.8M220.9,246.3h0.8M232.9,236.8h0.8M231.7,239.6h0.8M186.4,219.7h0.8M192.9,231.3h0.8M236.3,236.7h0.8M202.0,233.9h0.8M252.5,219.8h0.8M217.2,242.3h0.8M212.0,193.6h0.8M234.2,188.4h0.8M249.9,227.5h0.8M198.7,216.8h0.8M204.1,234.3h0.8M238.0,253.7h0.8M217.3,240.1h0.8M248.7,229.9h0.8M247.4,254.4h0.8M198.1,244.2h0.8M241.0,197.9h0.8M265.9,219.5h0.8M247.8,249.8h0.8M261.1,212.8h0.8M220.8,252.3h0.8M216.1,195.2h0.8M250.6,223.4h0.8M251.2,211.7h0.8M188.6,250.1h0.8M237.7,247.0h0.8M252.7,250.8h0.8M250.0,224.8h0.8M250.0,223.1h0.8M245.7,244.2h0.8M202.4,231.6h0.8M202.2,228.7h0.8M242.5,236.6h0.8M250.6,208.0h0.8M253.6,255.2h0.8M198.3,243.7h0.8M194.8,256.8h0.8M265.4,235.4h0.8M241.6,236.1h0.8M193.3,246.3h0.8M252.7,216.1h0.8M214.8,239.2h0.8M199.4,232.4h0.8M234.4,245.1h0.8M229.4,237.8h0.8M232.9,189.1h0.8M176.1,227.0h0.8M244.3,235.3h0.8M225.2,241.1h0.8M222.8,232.8h0.8M195.2,243.2h0.8M253.5,204.1h0.8M226.2,251.4h0.8M251.3,255.9h0.8M216.8,261.6h0.8M267.2,214.5h0.8M242.1,238.3h0.8M224.8,193.9h0.8M204.6,222.0h0.8M237.6,248.9h0.8M184.5,238.0h0.8M241.3,236.2h0.8M251.0,220.4h0.8M257.9,212.2h0.8M228.0,237.0h0.8M220.0,240.9h0.8M238.1,237.1h0.8M258.4,234.3h0.8M198.0,243.8h0.8M221.2,243.0h0.8M206.1,258.8h0.8M212.2,238.1h0.8M175.8,236.6h0.8M253.0,214.9h0.8M236.9,243.9h0.8M209.0,233.9h0.8M198.1,196.0h0.8M256.5,242.6h0.8M242.4,243.1h0.8M223.2,238.3h0.8M236.1,250.1h0.8M204.7,224.4h0.8M230.0,243.2h0.8M253.8,224.1h0.8M256.5,217.1h0.8M260.8,244.5h0.8M186.1,254.8h0.8M210.7,236.2h0.8M245.1,245.4h0.8M201.7,226.7h0.8M250.5,226.9h0.8M250.7,257.1h0.8M220.9,241.6h0.8M204.9,195.3h0.8M240.8,244.9h0.8M214.6,240.0h0.8M212.1,238.8h0.8M208.9,230.4h0.8M241.3,236.3h0.8M254.0,231.1h0.8M228.7,241.1h0.8M250.4,206.1h0.8M208.0,232.4h0.8M263.0,249.7h0.8M205.2,226.4h0.8M255.9,202.5h0.8M249.2,248.4h0.8M264.0,229.4h0.8M202.1,236.7h0.8M229.2,245.5h0.8M247.5,244.5h0.8M237.0,246.0h0.8M221.1,257.3h0.8M262.8,257.7h0.8M255.2,223.8h0.8M251.4,235.9h0.8M258.2,226.6h0.8M211.9,250.6h0.8M258.4,211.4h0.8M192.2,201.9h0.8M227.1,238.8h0.8M239.8,247.9h0.8M258.4,242.9h0.8M192.9,201.7h0.8M258.6,219.0h0.8M227.0,234.5h0.8M241.1,260.2h0.8M221.7,188.0h0.8M211.8,236.8h0.8M267.0,257.6h0.8M195.5,257.1h0.8M266.3,236.4h0.8M209.6,255.9h0.8M242.1,235.9h0.8M254.2,226.7h0.8M238.1,246.5h0.8M241.0,252.1h0.8M265.1,233.1h0.8M205.5,228.8h0.8M193.3,246.7h0.8M223.6,248.7h0.8M266.5,213.1h0.8M189.1,204.7h0.8M257.2,242.4h0.8M227.9,257.5h0.8M240.0,262.3h0.8M202.9,242.8h0.8M191.7,210.7h0.8M224.1,238.5h0.8M237.0,197.1h0.8M198.6,216.7h0.8M248.4,219.5h0.8M247.1,241.9h0.8M207.8,219.3h0.8M188.7,211.8h0.8M223.1,237.8h0.8M197.1,240.9h0.8M206.7,253.8h0.8M203.8,232.6h0.8M201.1,197.5h0.8M249.3,240.1h0.8M200.3,232.4h0.8M213.1,237.9h0.8M211.7,238.8h0.8M210.0,233.8h0.8M206.2,230.3h0.8M204.4,257.0h0.8M204.7,254.3h0.8M214.2,255.0h0.8M250.9,205.5h0.8M193.4,200.6h0.8M249.6,231.1h0.8M258.5,213.9h0.8M238.1,238.0h0.8M210.0,230.4h0.8M192.4,221.3h0.8M252.1,258.6h0.8M212.9,235.7h0.8M208.4,231.8h0.8M199.1,194.6h0.8M195.6,235.6h0.8M187.4,237.2h0.8M219.6,247.9h0.8M218.9,259.8h0.8M222.2,261.8h0.8M211.0,231.0h0.8M195.5,226.0h0.8M192.6,205.7h0.8M206.2,230.9h0.8M206.3,221.5h0.8M199.6,220.8h0.8M213.1,233.9h0.8M181.7,237.8h0.8M180.4,234.2h0.8M236.6,248.2h0.8M177.2,211.2h0.8M221.1,234.6h0.8M260.5,225.5h0.8M210.3,231.3h0.8M218.1,271.2h0.8M240.8,239.2h0.8M248.3,227.5h0.8M244.1,254.1h0.8M258.1,248.4h0.8M215.3,249.6h0.8M212.8,231.0h0.8M249.2,229.2h0.8M226.2,260.0h0.8M179.9,207.3h0.8M265.9,241.1h0.8M220.5,195.4h0.8M194.6,213.9h0.8M208.2,252.6h0.8M194.1,245.2h0.8M196.8,233.6h0.8M215.7,240.8h0.8M192.9,232.1h0.8M206.3,225.4h0.8M193.8,257.1h0.8M255.8,219.5h0.8M205.7,271.5h0.8M254.2,246.3h0.8M190.4,254.4h0.8M185.1,234.1h0.8M196.0,257.2h0.8M213.1,233.6h0.8M239.5,236.2h0.8M225.9,235.5h0.8M267.2,222.8h0.8M209.7,233.6h0.8M258.4,222.3h0.8M206.6,253.1h0.8M214.0,238.6h0.8M222.8,239.8h0.8M244.1,236.5h0.8M205.8,229.2h0.8M260.5,225.4h0.8M263.7,219.4h0.8M207.0,241.2h0.8M206.8,221.8h0.8M237.4,257.2h0.8M267.1,243.0h0.8M227.4,235.8h0.8M207.1,254.4h0.8M196.6,213.6h0.8M218.8,192.2h0.8M265.6,236.7h0.8M211.2,240.9h0.8M226.2,242.1h0.8M190.2,206.4h0.8M254.0,230.9h0.8M258.4,206.6h0.8M198.6,198.0h0.8M215.5,232.2h0.8M228.3,244.1h0.8M250.8,240.3h0.8M207.9,241.5h0.8M192.5,216.0h0.8M207.4,221.7h0.8M194.7,225.1h0.8M223.8,234.0h0.8M205.9,235.7h0.8M212.6,231.9h0.8M206.6,233.3h0.8M247.7,244.9h0.8M200.2,221.5h0.8M224.5,240.1h0.8M192.2,262.9h0.8M208.3,219.5h0.8M196.2,218.7h0.8M234.2,236.2h0.8M205.0,233.3h0.8M251.1,213.8h0.8M187.8,231.8h0.8M229.6,237.7h0.8M250.3,206.2h0.8M196.4,257.4h0.8M218.7,254.7h0.8M214.8,231.4h0.8M244.9,251.7h0.8M204.8,227.7h0.8M243.4,238.1h0.8M219.4,244.0h0.8M228.4,240.5h0.8M251.1,220.6h0.8M251.1,207.6h0.8M235.5,194.6h0.8M254.0,245.1h0.8M202.5,232.2h0.8M254.8,235.8h0.8M202.2,230.3h0.8M258.8,242.4h0.8M247.0,243.3h0.8M253.3,230.5h0.8M252.9,254.5h0.8M248.1,239.2h0.8M251.7,194.4h0.8M202.7,224.3h0.8M197.9,226.1h0.8M187.5,203.3h0.8M232.7,237.6h0.8M211.5,240.0h0.8M249.1,226.9h0.8M201.7,241.2h0.8M236.5,250.7h0.8M191.0,205.1h0.8M204.7,236.2h0.8M222.2,238.6h0.8M236.0,242.8h0.8M195.8,223.1h0.8M218.0,239.7h0.8M195.8,261.6h0.8M241.6,256.7h0.8M194.5,210.2h0.8M191.1,208.7h0.8M257.2,220.2h0.8M215.9,248.8h0.8M197.8,198.6h0.8M219.4,232.8h0.8M220.7,241.4h0.8M248.5,211.3h0.8M215.6,238.6h0.8M206.5,231.6h0.8M207.4,230.1h0.8M259.9,228.3h0.8M245.7,236.4h0.8M216.8,232.9h0.8M198.6,213.6h0.8M205.8,217.2h0.8M202.4,217.8h0.8M199.6,213.4h0.8M249.3,243.8h0.8M246.3,200.9h0.8M221.1,237.9h0.8M224.8,233.8h0.8M195.9,213.1h0.8M206.3,240.4h0.8M265.9,230.9h0.8M220.9,235.0h0.8M252.6,209.1h0.8M253.3,234.6h0.8M205.5,237.7h0.8M216.5,236.7h0.8M234.8,195.4h0.8M250.0,240.6h0.8M227.0,246.1h0.8M199.6,222.9h0.8M223.5,257.5h0.8M177.5,250.4h0.8M175.9,232.9h0.8M204.2,240.5h0.8M207.6,220.2h0.8M213.7,237.6h0.8M189.5,254.4h0.8M234.0,260.2h0.8M204.7,221.6h0.8M205.1,223.2h0.8M259.1,235.1h0.8M213.6,240.0h0.8M253.8,223.5h0.8M223.0,242.3h0.8M199.9,214.4h0.8M238.6,242.0h0.8M212.0,235.2h0.8M244.1,244.7h0.8M244.5,238.6h0.8M215.7,255.6h0.8M221.7,237.4h0.8M189.6,213.3h0.8M251.8,230.9h0.8M204.8,223.1h0.8M204.1,227.6h0.8M240.6,239.9h0.8M220.2,269.1h0.8M205.0,193.4h0.8M229.9,243.6h0.8M247.8,218.9h0.8M249.3,213.0h0.8M232.0,242.8h0.8M227.8,265.6h0.8M242.5,253.6h0.8M244.0,235.2h0.8M260.0,253.0h0.8M182.0,218.3h0.8M214.6,231.8h0.8M212.2,232.2h0.8M210.3,230.8h0.8M225.9,242.3h0.8M255.8,257.8h0.8M194.8,226.1h0.8M238.2,237.9h0.8M224.8,254.0h0.8M249.4,256.1h0.8M225.4,234.1h0.8M248.5,225.4h0.8M262.1,234.5h0.8M222.3,248.7h0.8M206.4,225.0h0.8M204.6,227.1h0.8M237.3,259.7h0.8M256.2,206.7h0.8M222.9,195.7h0.8M251.0,236.5h0.8M241.3,199.1h0.8M216.1,269.2h0.8M248.1,221.5h0.8M234.9,244.7h0.8M234.8,236.7h0.8M218.5,237.9h0.8M218.5,255.1h0.8M185.4,242.4h0.8M195.2,212.3h0.8M247.2,251.9h0.8M198.2,224.7h0.8M218.8,236.3h0.8M188.3,253.3h0.8M178.0,246.3h0.8M228.0,243.3h0.8M237.4,242.7h0.8M230.7,241.8h0.8M256.9,213.8h0.8M205.1,237.5h0.8M212.5,248.8h0.8M211.0,240.7h0.8M238.4,259.5h0.8M219.5,239.6h0.8M227.1,264.0h0.8M203.6,234.2h0.8M217.9,241.7h0.8M197.9,242.2h0.8M253.6,206.4h0.8M264.8,227.2h0.8M251.9,233.7h0.8M183.6,221.2h0.8M213.0,263.6h0.8M264.9,250.5h0.8M222.8,242.0h0.8M230.7,246.2h0.8M203.9,232.8h0.8M219.3,234.5h0.8M210.6,218.8h0.8M226.6,237.1h0.8M192.2,213.6h0.8M193.7,246.3h0.8M248.9,204.4h0.8M223.0,243.6h0.8M193.0,258.6h0.8M207.2,196.1h0.8M224.2,259.6h0.8M252.5,243.9h0.8M241.3,251.0h0.8M191.5,200.9h0.8M256.3,244.4h0.8M202.1,228.1h0.8M196.6,211.5h0.8M195.9,258.1h0.8M214.8,231.3h0.8M213.2,235.6h0.8M202.9,261.1h0.8M248.7,261.7h0.8M212.1,231.3h0.8M197.7,243.0h0.8M202.9,217.6h0.8M223.1,195.6h0.8M231.5,273.5h0.8M214.0,252.1h0.8M197.5,240.9h0.8M194.8,210.3h0.8M221.9,233.5h0.8M196.4,213.7h0.8M207.0,238.3h0.8" stroke="#a0a0a0" stroke-width="0.8" fill="none" clip-path="url(#c12)"/>
<g clip-path="url(#c12)" fill="#000" fill-opacity="0.09" stroke="#2a2a2a" stroke-width="0.5" stroke-linejoin="round"><path d="M223.2,207.7 222.6,207.8 221.9,207.8 221.2,207.8 220.6,207.7 220.1,207.7 219.6,207.5 218.9,207.3 218.6,207.2 218.2,207.0 217.9,206.3 218.2,205.9 218.6,205.7 219.2,205.4 219.6,205.3 220.2,205.2 220.9,205.2 221.6,205.2 222.2,205.3 222.7,205.3 223.2,205.4 223.9,205.7 224.2,205.8 224.6,206.0 224.9,206.5 224.9,206.7 224.6,207.2 224.2,207.4 223.6,207.6 223.2,207.7"/><path d="M223.2,208.3 222.6,208.4 221.9,208.4 221.2,208.4 220.6,208.4 220.2,208.3 219.6,208.2 218.9,208.1 218.2,207.9 217.6,207.7 217.2,207.5 216.9,207.3 216.6,207.0 216.3,206.3 216.6,205.8 216.9,205.5 217.2,205.3 217.9,205.0 218.2,204.9 218.9,204.8 219.6,204.7 219.9,204.6 220.6,204.6 221.2,204.6 221.9,204.6 222.4,204.7 222.9,204.7 223.6,204.8 224.2,205.0 224.6,205.1 225.2,205.3 225.6,205.5 225.9,205.7 226.2,206.0 226.5,206.7 226.2,207.3 225.9,207.6 225.6,207.7 224.9,208.0 224.6,208.1 223.9,208.2 223.3,208.3"/><path d="M224.2,208.7 223.6,208.8 222.9,208.9 222.2,208.9 221.6,208.9 220.9,208.9 220.2,208.8 219.6,208.7 219.2,208.7 218.6,208.5 217.9,208.4 217.6,208.3 216.9,208.0 216.6,207.9 216.1,207.7 215.6,207.3 215.3,207.0 215.1,206.7 215.1,206.0 215.3,205.7 215.6,205.3 216.1,205.0 216.6,204.8 217.0,204.7 217.6,204.5 218.2,204.4 218.6,204.3 219.2,204.2 219.9,204.2 220.6,204.1 221.2,204.1 221.9,204.2 222.6,204.2 223.2,204.3 223.6,204.3 224.2,204.5 224.9,204.6 225.2,204.7 225.9,205.0 226.2,205.1 226.7,205.3 227.2,205.7 227.5,206.0 227.7,206.3 227.8,207.0 227.6,207.3 226.9,207.9 226.6,208.1 225.9,208.3 225.6,208.4 224.9,208.6 224.6,208.7"/><path d="M225.2,209.0 224.6,209.2 223.9,209.2 223.2,209.3 222.6,209.3 221.9,209.3 221.2,209.3 220.6,209.3 219.9,209.2 219.2,209.1 218.6,209.0 218.2,209.0 217.6,208.8 217.0,208.7 216.6,208.5 216.1,208.3 215.6,208.1 215.2,207.9 214.8,207.7 214.4,207.3 214.1,207.0 213.9,206.6 213.9,206.0 214.0,205.7 214.3,205.3 214.7,205.0 215.2,204.7 215.6,204.6 216.1,204.3 216.6,204.2 217.2,204.0 217.6,204.0 218.2,203.9 218.9,203.8 219.6,203.7 220.2,203.7 220.9,203.7 221.6,203.7 222.2,203.7 222.9,203.8 223.6,203.9 224.2,204.0 224.6,204.0 225.2,204.2 225.7,204.3 226.2,204.5 226.7,204.7 227.2,204.9 227.6,205.1 228.0,205.3 228.4,205.7 228.7,206.0 229.0,206.7 228.9,207.1 228.6,207.6 228.2,207.9 227.9,208.1 227.6,208.3 226.9,208.6 226.6,208.7 225.9,208.9 225.5,209.0"/><path d="M223.2,209.7 222.6,209.7 221.9,209.7 221.2,209.7 220.9,209.7 220.2,209.6 219.6,209.6 218.9,209.5 218.2,209.4 217.9,209.3 217.2,209.2 216.6,209.0 216.2,208.9 215.6,208.7 215.2,208.5 214.8,208.3 214.2,208.0 213.9,207.8 213.6,207.5 213.2,207.2 212.9,206.7 212.9,206.3 212.9,205.9 213.2,205.3 213.6,205.0 213.9,204.8 214.2,204.6 214.7,204.3 215.2,204.1 215.6,204.0 216.2,203.8 216.9,203.7 217.6,203.5 218.2,203.5 218.9,203.4 219.6,203.3 219.9,203.3 220.6,203.3 221.2,203.3 221.6,203.3 222.2,203.4 222.9,203.4 223.6,203.5 224.2,203.6 224.7,203.7 225.2,203.8 225.9,203.9 226.2,204.0 226.9,204.2 227.2,204.4 227.9,204.6 228.2,204.8 228.6,205.0 229.1,205.3 229.5,205.7 229.7,206.0 229.9,206.4 230.0,207.0 229.8,207.3 229.6,207.7 229.2,208.0 228.8,208.3 228.2,208.6 227.9,208.8 227.3,209.0 226.9,209.1 226.2,209.3 225.9,209.4 225.2,209.5 224.6,209.6 223.9,209.6 223.3,209.7"/><path d="M223.9,210.0 223.2,210.1 222.6,210.1 221.9,210.1 221.2,210.1 220.6,210.0 220.2,210.0 219.6,209.9 218.9,209.9 218.2,209.8 217.6,209.7 217.2,209.6 216.6,209.4 216.2,209.3 215.6,209.2 215.1,209.0 214.6,208.8 214.2,208.7 213.6,208.3 213.2,208.1 212.9,207.9 212.6,207.6 212.2,207.2 211.9,206.7 211.8,206.0 211.9,205.7 212.2,205.2 212.6,204.9 212.9,204.6 213.4,204.3 213.9,204.1 214.2,203.9 214.9,203.7 215.2,203.6 215.9,203.4 216.3,203.3 216.9,203.2 217.6,203.1 218.2,203.1 218.8,203.0 219.2,203.0 219.9,202.9 220.6,202.9 221.2,202.9 221.9,203.0 222.5,203.0 222.9,203.0 223.6,203.1 224.2,203.2 224.9,203.3 225.2,203.4 225.9,203.5 226.6,203.7 226.9,203.8 227.6,204.0 227.9,204.1 228.5,204.3 228.9,204.5 229.2,204.7 229.7,205.0 230.2,205.3 230.5,205.7 230.8,206.0 230.9,206.3 231.0,207.0 230.9,207.3 230.6,207.8 230.2,208.2 229.9,208.4 229.5,208.7 228.9,209.0 228.6,209.1 227.9,209.3 227.6,209.4 226.9,209.6 226.6,209.7 225.9,209.8 225.2,209.9 224.6,210.0 224.2,210.0"/><path d="M224.9,210.3 224.2,210.4 223.6,210.4 222.9,210.5 222.2,210.5 221.6,210.5 220.9,210.4 220.2,210.4 219.6,210.3 219.2,210.3 218.6,210.2 217.9,210.1 217.2,210.0 216.9,209.9 216.2,209.8 215.7,209.7 215.2,209.5 214.6,209.3 214.2,209.2 213.8,209.0 213.2,208.8 212.9,208.6 212.4,208.3 211.9,208.0 211.6,207.7 211.3,207.3 211.0,207.0 210.9,206.7 210.8,206.0 210.9,205.7 211.2,205.1 211.6,204.8 211.9,204.5 212.2,204.3 212.7,204.0 213.2,203.8 213.6,203.6 214.2,203.4 214.6,203.3 215.2,203.1 215.8,203.0 216.2,202.9 216.9,202.8 217.6,202.7 218.1,202.7 218.6,202.6 219.2,202.6 219.9,202.6 220.6,202.6 221.2,202.6 221.9,202.6 222.6,202.6 223.0,202.7 223.6,202.7 224.2,202.8 224.9,202.9 225.5,203.0 225.9,203.1 226.6,203.2 227.0,203.3 227.6,203.5 228.1,203.7 228.6,203.8 229.0,204.0 229.6,204.2 229.9,204.4 230.3,204.7 230.8,205.0 231.2,205.3 231.6,205.7 231.9,206.3 232.0,206.7 231.9,207.3 231.8,207.7 231.5,208.0 231.2,208.3 230.8,208.7 230.2,209.0 229.9,209.1 229.4,209.3 228.9,209.5 228.5,209.7 227.9,209.8 227.2,210.0 226.9,210.1 226.2,210.2 225.6,210.3 225.0,210.3"/><path d="M225.6,210.7 224.9,210.7 224.2,210.8 223.6,210.8 222.9,210.8 222.2,210.8 221.6,210.8 220.9,210.8 220.2,210.8 219.6,210.7 219.1,210.7 218.6,210.6 217.9,210.5 217.2,210.4 216.8,210.3 216.2,210.2 215.6,210.1 215.2,210.0 214.6,209.8 214.2,209.7 213.6,209.5 213.2,209.3 212.6,209.0 212.2,208.9 211.8,208.7 211.3,208.3 210.9,208.0 210.6,207.7 210.2,207.3 210.0,207.0 209.9,206.7 209.8,206.0 209.9,205.6 210.2,205.0 210.5,204.7 210.9,204.4 211.2,204.1 211.6,203.9 212.1,203.7 212.6,203.4 212.9,203.3 213.6,203.1 213.9,203.0 214.6,202.8 215.2,202.7 215.9,202.5 216.6,202.4 217.2,202.4 217.6,202.3 218.2,202.3 218.9,202.2 219.6,202.2 220.2,202.2 220.9,202.2 221.6,202.2 222.2,202.2 222.9,202.3 223.5,202.3 223.9,202.4 224.6,202.5 225.2,202.6 225.9,202.7 226.2,202.7 226.9,202.9 227.4,203.0 227.9,203.1 228.6,203.3 228.9,203.4 229.5,203.7 229.9,203.8 230.3,204.0 230.9,204.3 231.2,204.5 231.6,204.7 231.9,205.0 232.3,205.3 232.6,205.7 232.9,206.3 233.0,206.7 232.9,207.3 232.8,207.7 232.6,208.0 232.2,208.4 231.9,208.7 231.4,209.0 230.9,209.3 230.6,209.5 230.1,209.7 229.6,209.8 229.1,210.0 228.6,210.1 227.9,210.3 227.6,210.4 226.9,210.5 226.2,210.6 225.6,210.7"/><path d="M226.6,211.0 225.9,211.1 225.2,211.2 224.6,211.2 223.9,211.2 223.2,211.3 222.6,211.3 221.9,211.3 221.2,211.2 220.6,211.2 219.9,211.2 219.2,211.1 218.6,211.0 218.2,211.0 217.6,210.9 216.9,210.8 216.2,210.7 215.9,210.6 215.2,210.5 214.7,210.3 214.2,210.2 213.6,210.0 213.2,209.9 212.6,209.7 212.2,209.5 211.8,209.3 211.2,209.0 210.9,208.9 210.6,208.7 210.1,208.3 209.7,208.0 209.4,207.7 209.1,207.3 208.8,206.7 208.7,206.0 208.9,205.3 209.1,205.0 209.3,204.7 209.7,204.3 210.1,204.0 210.6,203.7 210.9,203.5 211.3,203.3 211.9,203.1 212.2,203.0 212.9,202.7 213.2,202.6 213.9,202.5 214.5,202.3 214.9,202.2 215.6,202.1 216.2,202.0 216.6,202.0 217.2,201.9 217.9,201.9 218.6,201.8 219.2,201.8 219.9,201.8 220.6,201.8 221.2,201.8 221.9,201.8 222.6,201.8 223.2,201.9 223.9,201.9 224.4,202.0 224.9,202.1 225.6,202.2 226.2,202.3 226.6,202.3 227.2,202.5 227.9,202.6 228.2,202.7 228.9,202.9 229.2,203.0 229.9,203.3 230.2,203.4 230.9,203.7 231.2,203.8 231.6,204.0 232.2,204.3 232.6,204.6 232.9,204.8 233.2,205.1 233.6,205.5 233.9,206.0 234.0,206.3 234.1,207.0 234.0,207.7 233.8,208.0 233.5,208.3 233.2,208.7 232.8,209.0 232.3,209.3 231.9,209.5 231.6,209.7 230.9,210.0 230.6,210.1 229.9,210.3 229.6,210.4 228.9,210.6 228.5,210.7 227.9,210.8 227.2,210.9 226.6,211.0"/><path d="M223.6,211.7 222.9,211.7 222.2,211.7 221.6,211.7 221.2,211.7 220.6,211.6 219.9,211.6 219.2,211.5 218.6,211.5 217.9,211.4 217.5,211.3 216.9,211.2 216.2,211.1 215.6,211.0 215.2,210.9 214.6,210.8 214.1,210.7 213.6,210.5 212.9,210.3 212.6,210.2 212.0,210.0 211.6,209.8 211.2,209.7 210.6,209.4 210.2,209.2 209.9,209.0 209.3,208.7 208.9,208.3 208.6,208.0 208.2,207.7 208.0,207.3 207.8,207.0 207.6,206.3 207.6,206.0 207.6,205.7 207.9,205.0 208.1,204.7 208.4,204.3 208.8,204.0 209.2,203.7 209.6,203.5 209.9,203.3 210.5,203.0 210.9,202.8 211.4,202.7 211.9,202.5 212.4,202.3 212.9,202.2 213.6,202.0 213.9,202.0 214.6,201.8 215.2,201.7 215.6,201.7 216.2,201.6 216.9,201.5 217.6,201.4 218.2,201.4 218.9,201.4 219.6,201.4 220.2,201.3 220.9,201.4 221.6,201.4 222.2,201.4 222.9,201.4 223.6,201.5 224.2,201.6 224.9,201.6 225.2,201.7 225.9,201.8 226.6,201.9 227.1,202.0 227.6,202.1 228.2,202.2 228.6,202.3 229.2,202.5 229.8,202.7 230.2,202.8 230.7,203.0 231.2,203.2 231.9,203.5 232.3,203.7 232.9,204.0 233.2,204.2 233.6,204.4 233.9,204.7 234.2,205.0 234.6,205.3 234.9,205.8 235.1,206.3 235.2,207.0 235.2,207.0 235.1,207.7 234.9,208.1 234.6,208.5 234.2,208.9 233.9,209.1 233.6,209.4 233.1,209.7 232.6,209.9 232.2,210.1 231.6,210.3 231.2,210.5 230.6,210.7 230.2,210.8 229.6,211.0 229.2,211.0 228.6,211.2 227.9,211.3 227.6,211.3 226.9,211.4 226.2,211.5 225.6,211.6 224.9,211.6 224.2,211.7 223.9,211.7"/><path d="M225.9,212.0 225.2,212.1 224.6,212.1 223.9,212.1 223.2,212.1 222.6,212.1 221.9,212.1 221.2,212.1 220.6,212.1 219.9,212.0 219.4,212.0 218.9,212.0 218.2,211.9 217.6,211.8 216.9,211.7 216.6,211.7 215.9,211.6 215.2,211.4 214.8,211.3 214.2,211.2 213.6,211.0 213.2,211.0 212.6,210.8 212.2,210.7 211.6,210.4 211.2,210.3 210.6,210.1 210.2,209.9 209.7,209.7 209.2,209.4 208.9,209.2 208.5,209.0 208.1,208.7 207.6,208.3 207.3,208.0 207.0,207.7 206.8,207.3 206.6,206.9 206.4,206.3 206.4,205.7 206.6,205.2 206.9,204.7 207.1,204.3 207.5,204.0 207.9,203.7 208.2,203.4 208.6,203.2 209.0,203.0 209.6,202.7 209.9,202.6 210.5,202.3 210.9,202.2 211.6,202.0 211.9,201.9 212.6,201.7 212.9,201.7 213.6,201.5 214.2,201.4 214.9,201.3 215.6,201.2 216.2,201.1 216.9,201.0 217.5,201.0 217.9,201.0 218.6,200.9 219.2,200.9 219.9,200.9 220.6,200.9 221.2,200.9 221.9,200.9 222.6,201.0 222.9,201.0 223.6,201.1 224.2,201.1 224.9,201.2 225.6,201.3 226.0,201.3 226.6,201.4 227.2,201.5 227.8,201.7 228.2,201.8 228.9,201.9 229.3,202.0 229.9,202.2 230.4,202.3 230.9,202.5 231.4,202.7 231.9,202.8 232.3,203.0 232.9,203.3 233.2,203.4 233.6,203.7 234.2,204.0 234.6,204.3 234.9,204.5 235.2,204.8 235.6,205.1 235.9,205.5 236.2,206.0 236.3,206.3 236.4,207.0 236.3,207.7 236.2,208.0 235.9,208.4 235.6,208.8 235.2,209.1 234.9,209.4 234.5,209.7 234.0,210.0 233.6,210.2 233.2,210.4 232.6,210.6 232.2,210.8 231.6,211.0 231.2,211.1 230.6,211.3 230.2,211.4 229.6,211.5 228.9,211.6 228.6,211.7 227.9,211.8 227.2,211.9 226.6,212.0 226.0,212.0"/><path d="M223.2,212.7 222.7,212.7 222.2,212.7 221.6,212.6 220.9,212.6 220.2,212.6 219.6,212.5 218.9,212.5 218.2,212.4 217.6,212.3 217.2,212.3 216.6,212.2 215.9,212.1 215.3,212.0 214.9,211.9 214.2,211.8 213.6,211.7 213.2,211.6 212.6,211.4 212.2,211.3 211.6,211.1 211.2,211.0 210.6,210.8 210.2,210.7 209.6,210.4 209.2,210.2 208.7,210.0 208.2,209.8 207.9,209.6 207.5,209.3 207.0,209.0 206.6,208.7 206.2,208.4 205.9,208.0 205.6,207.7 205.4,207.3 205.2,207.0 205.0,206.3 205.0,205.7 205.2,205.0 205.4,204.7 205.7,204.3 206.0,204.0 206.3,203.7 206.7,203.3 207.2,203.0 207.6,202.8 207.9,202.6 208.6,202.3 208.9,202.2 209.4,202.0 209.9,201.8 210.4,201.7 210.9,201.5 211.6,201.3 212.2,201.2 212.9,201.0 213.2,201.0 213.9,200.9 214.6,200.8 215.2,200.7 215.6,200.6 216.2,200.6 216.9,200.5 217.6,200.5 218.2,200.4 218.9,200.4 219.6,200.4 220.2,200.4 220.9,200.4 221.6,200.4 222.2,200.4 222.9,200.5 223.6,200.5 224.2,200.6 224.9,200.7 225.2,200.7 225.9,200.8 226.6,200.9 227.2,201.0 227.6,201.1 228.2,201.2 228.9,201.3 229.2,201.4 229.9,201.6 230.3,201.7 230.9,201.8 231.4,202.0 231.9,202.2 232.4,202.3 232.9,202.5 233.2,202.7 233.9,203.0 234.2,203.1 234.6,203.3 235.2,203.7 235.6,203.9 235.9,204.1 236.2,204.4 236.6,204.7 236.9,205.0 237.2,205.5 237.5,206.0 237.7,206.3 237.8,207.0 237.7,207.7 237.6,208.0 237.2,208.6 236.9,209.0 236.6,209.3 236.2,209.6 235.9,209.9 235.6,210.1 235.2,210.3 234.6,210.6 234.2,210.8 233.7,211.0 233.2,211.2 232.8,211.3 232.2,211.5 231.7,211.7 231.2,211.8 230.6,211.9 230.2,212.0 229.6,212.1 228.9,212.3 228.3,212.3 227.9,212.4 227.2,212.5 226.6,212.5 225.9,212.6 225.2,212.6 224.6,212.6 223.9,212.7 223.3,212.7"/><path d="M228.2,213.0 227.6,213.1 226.9,213.1 226.2,213.2 225.6,213.2 224.9,213.2 224.2,213.3 223.6,213.3 222.9,213.3 222.2,213.3 221.6,213.2 220.9,213.2 220.2,213.2 219.6,213.1 218.9,213.1 218.2,213.0 217.9,213.0 217.2,212.9 216.6,212.8 215.9,212.7 215.5,212.7 214.9,212.6 214.2,212.4 213.7,212.3 213.2,212.2 212.6,212.1 212.2,212.0 211.6,211.8 211.0,211.7 210.6,211.5 210.0,211.3 209.6,211.2 209.1,211.0 208.6,210.8 208.2,210.7 207.6,210.4 207.2,210.2 206.9,210.0 206.3,209.7 205.9,209.4 205.6,209.2 205.2,208.9 204.9,208.6 204.6,208.3 204.2,207.9 203.9,207.4 203.7,207.0 203.6,206.6 203.5,206.0 203.6,205.4 203.7,205.0 203.9,204.6 204.2,204.1 204.6,203.7 204.9,203.4 205.2,203.2 205.6,202.9 206.0,202.7 206.6,202.3 206.9,202.2 207.3,202.0 207.9,201.7 208.2,201.6 208.9,201.4 209.2,201.3 209.9,201.1 210.2,201.0 210.9,200.8 211.5,200.7 211.9,200.6 212.6,200.4 213.2,200.3 213.9,200.2 214.6,200.1 215.2,200.1 215.9,200.0 216.2,200.0 216.9,199.9 217.6,199.9 218.2,199.9 218.9,199.8 219.6,199.8 220.2,199.8 220.9,199.8 221.6,199.9 222.2,199.9 222.9,199.9 223.6,200.0 224.0,200.0 224.6,200.1 225.2,200.1 225.9,200.2 226.6,200.3 226.9,200.3 227.6,200.4 228.2,200.6 228.7,200.7 229.2,200.8 229.9,200.9 230.3,201.0 230.9,201.2 231.5,201.3 231.9,201.4 232.6,201.7 232.9,201.8 233.5,202.0 233.9,202.1 234.4,202.3 234.9,202.6 235.2,202.7 235.8,203.0 236.2,203.3 236.6,203.5 236.9,203.7 237.3,204.0 237.7,204.3 238.1,204.7 238.4,205.0 238.7,205.3 238.9,205.7 239.2,206.3 239.2,206.7 239.3,207.3 239.2,207.7 239.0,208.3 238.8,208.7 238.5,209.0 238.2,209.4 237.9,209.7 237.5,210.0 237.1,210.3 236.6,210.6 236.2,210.8 235.9,211.0 235.2,211.3 234.9,211.5 234.4,211.7 233.9,211.8 233.4,212.0 232.9,212.1 232.2,212.3 231.9,212.4 231.2,212.6 230.6,212.7 230.2,212.7 229.6,212.8 228.9,212.9 228.3,213.0"/><path d="M225.2,214.0 224.6,214.0 223.9,214.0 223.2,214.0 222.6,214.0 222.2,214.0 221.6,214.0 220.9,213.9 220.2,213.9 219.6,213.9 218.9,213.8 218.2,213.8 217.6,213.7 217.2,213.7 216.6,213.6 215.9,213.5 215.2,213.4 214.6,213.3 213.9,213.2 213.2,213.0 212.9,213.0 212.2,212.8 211.6,212.7 211.2,212.6 210.6,212.4 210.2,212.3 209.6,212.1 209.2,212.0 208.6,211.8 208.2,211.7 207.6,211.4 207.2,211.3 206.6,211.0 206.2,210.8 205.9,210.7 205.3,210.3 204.9,210.1 204.6,209.9 204.2,209.7 203.8,209.3 203.4,209.0 203.0,208.7 202.7,208.3 202.4,208.0 202.2,207.7 201.9,207.1 201.7,206.7 201.6,206.0 201.7,205.3 201.9,204.7 202.1,204.3 202.3,204.0 202.6,203.7 202.9,203.3 203.3,203.0 203.8,202.7 204.2,202.3 204.6,202.1 204.9,202.0 205.5,201.7 205.9,201.5 206.2,201.3 206.9,201.1 207.2,201.0 207.9,200.7 208.2,200.6 208.9,200.4 209.3,200.3 209.9,200.2 210.6,200.0 210.9,200.0 211.6,199.8 212.2,199.7 212.6,199.7 213.2,199.6 213.9,199.5 214.6,199.4 215.2,199.3 215.6,199.3 216.2,199.2 216.9,199.2 217.6,199.2 218.2,199.1 218.9,199.1 219.6,199.1 220.2,199.1 220.9,199.1 221.6,199.2 222.2,199.2 222.9,199.2 223.6,199.3 224.2,199.3 224.6,199.4 225.2,199.4 225.9,199.5 226.6,199.6 227.2,199.7 227.6,199.7 228.2,199.8 228.9,199.9 229.2,200.0 229.9,200.1 230.6,200.3 230.9,200.4 231.6,200.5 232.1,200.7 232.6,200.8 233.2,201.0 233.6,201.1 234.2,201.3 234.6,201.4 235.1,201.7 235.6,201.8 235.9,202.0 236.6,202.3 236.9,202.5 237.3,202.7 237.9,203.0 238.2,203.2 238.6,203.4 238.9,203.7 239.3,204.0 239.7,204.3 240.0,204.7 240.3,205.0 240.6,205.4 240.9,206.0 241.0,206.3 241.1,207.0 241.1,207.7 240.9,208.3 240.7,208.7 240.5,209.0 240.2,209.4 239.9,209.8 239.6,210.1 239.2,210.4 238.8,210.7 238.4,211.0 237.9,211.3 237.6,211.5 237.2,211.7 236.6,212.0 236.2,212.1 235.7,212.3 235.2,212.5 234.7,212.7 234.2,212.8 233.6,213.0 233.2,213.1 232.6,213.3 232.2,213.3 231.6,213.4 230.9,213.6 230.2,213.7 229.9,213.7 229.2,213.8 228.6,213.8 227.9,213.9 227.2,213.9 226.6,214.0 225.9,214.0 225.4,214.0"/><path d="M231.6,214.7 230.9,214.8 230.2,214.8 229.6,214.9 228.9,214.9 228.2,214.9 227.6,214.9 226.9,214.9 226.2,214.9 225.6,214.9 224.9,214.9 224.2,214.9 223.6,214.9 222.9,214.9 222.2,214.9 221.6,214.8 220.9,214.8 220.2,214.8 219.6,214.7 218.9,214.7 218.6,214.6 217.9,214.6 217.2,214.5 216.6,214.4 215.9,214.4 215.6,214.3 214.9,214.2 214.2,214.1 213.6,214.0 213.2,213.9 212.6,213.8 211.9,213.7 211.6,213.6 210.9,213.4 210.5,213.3 209.9,213.2 209.2,213.0 208.9,212.9 208.2,212.7 207.9,212.6 207.2,212.4 206.9,212.2 206.3,212.0 205.9,211.9 205.5,211.7 204.9,211.4 204.6,211.3 204.1,211.0 203.6,210.7 203.2,210.5 202.9,210.3 202.4,210.0 202.0,209.7 201.6,209.4 201.2,209.1 200.9,208.7 200.6,208.3 200.3,208.0 200.1,207.7 199.9,207.3 199.7,206.7 199.6,206.0 199.6,205.3 199.8,204.7 200.0,204.3 200.2,203.9 200.6,203.5 200.9,203.1 201.2,202.8 201.6,202.5 201.9,202.3 202.3,202.0 202.9,201.7 203.2,201.5 203.6,201.3 204.2,201.0 204.6,200.8 205.0,200.7 205.6,200.4 205.9,200.3 206.6,200.1 206.9,200.0 207.6,199.8 208.1,199.7 208.6,199.5 209.2,199.4 209.6,199.3 210.2,199.2 210.9,199.1 211.3,199.0 211.9,198.9 212.6,198.8 213.2,198.7 213.8,198.7 214.2,198.6 214.9,198.6 215.6,198.5 216.2,198.5 216.9,198.4 217.6,198.4 218.2,198.4 218.9,198.4 219.6,198.4 220.2,198.4 220.9,198.4 221.6,198.4 222.2,198.4 222.9,198.4 223.6,198.5 224.2,198.5 224.9,198.6 225.5,198.7 225.9,198.7 226.6,198.8 227.2,198.9 227.9,199.0 228.2,199.0 228.9,199.1 229.6,199.2 230.1,199.3 230.6,199.4 231.2,199.6 231.6,199.7 232.2,199.8 232.9,200.0 233.2,200.1 233.9,200.3 234.2,200.4 234.9,200.6 235.2,200.7 235.9,200.9 236.2,201.0 236.9,201.3 237.2,201.4 237.7,201.7 238.2,201.9 238.6,202.1 239.1,202.3 239.6,202.6 239.9,202.8 240.2,203.1 240.6,203.3 241.0,203.7 241.4,204.0 241.8,204.3 242.1,204.7 242.3,205.0 242.6,205.4 242.9,206.0 243.0,206.3 243.1,207.0 243.1,207.7 243.0,208.3 242.8,208.7 242.6,209.1 242.2,209.6 241.9,210.0 241.6,210.3 241.3,210.7 240.9,211.0 240.6,211.2 240.2,211.5 239.9,211.7 239.5,212.0 238.9,212.3 238.6,212.5 238.2,212.7 237.6,213.0 237.2,213.2 236.8,213.3 236.2,213.6 235.9,213.7 235.2,213.9 234.9,214.0 234.2,214.2 233.7,214.3 233.2,214.4 232.6,214.5 231.9,214.6 231.6,214.7 M200.6,251.4 199.9,251.5 199.2,251.6 198.6,251.6 197.9,251.5 197.5,251.3 197.1,251.0 196.9,250.3 197.1,249.7 197.4,249.3 197.8,249.0 198.2,248.7 198.6,248.5 199.0,248.3 199.6,248.1 200.1,248.0 200.6,247.9 201.2,247.8 201.9,247.8 202.6,247.9 202.9,248.0 203.4,248.3 203.6,248.7 203.4,249.3 203.2,249.7 202.9,250.0 202.6,250.3 202.1,250.7 201.6,251.0 201.2,251.1 200.7,251.3"/><path d="M233.6,216.1 232.9,216.1 232.2,216.1 231.6,216.1 230.9,216.1 230.2,216.1 229.6,216.0 229.2,216.0 228.6,216.0 227.9,215.9 227.2,215.9 226.6,215.8 225.9,215.8 225.2,215.8 224.6,215.7 223.9,215.7 223.5,215.7 222.9,215.6 222.2,215.6 221.6,215.6 220.9,215.5 220.2,215.5 219.6,215.4 218.9,215.4 218.6,215.3 217.9,215.3 217.2,215.2 216.6,215.1 215.9,215.0 215.6,215.0 214.9,214.9 214.2,214.8 213.6,214.7 213.2,214.6 212.6,214.5 211.9,214.4 211.6,214.3 210.9,214.2 210.2,214.0 209.9,213.9 209.2,213.8 208.9,213.7 208.2,213.5 207.8,213.3 207.2,213.2 206.7,213.0 206.2,212.8 205.8,212.7 205.2,212.5 204.9,212.3 204.2,212.0 203.9,211.9 203.5,211.7 202.9,211.4 202.6,211.2 202.2,211.0 201.7,210.7 201.2,210.4 200.9,210.1 200.6,209.9 200.2,209.6 199.9,209.3 199.6,209.0 199.2,208.6 198.9,208.2 198.6,207.7 198.4,207.3 198.2,207.0 198.1,206.3 198.0,205.7 198.1,205.0 198.3,204.7 198.6,204.0 198.8,203.7 199.0,203.3 199.3,203.0 199.7,202.7 200.1,202.3 200.5,202.0 200.9,201.7 201.2,201.5 201.6,201.3 202.2,201.0 202.6,200.8 202.9,200.6 203.6,200.4 203.9,200.2 204.5,200.0 204.9,199.9 205.5,199.7 205.9,199.5 206.6,199.3 206.9,199.2 207.6,199.1 207.9,199.0 208.6,198.8 209.2,198.7 209.6,198.6 210.2,198.5 210.9,198.4 211.5,198.3 211.9,198.3 212.6,198.2 213.2,198.1 213.9,198.0 214.4,198.0 214.9,198.0 215.6,197.9 216.2,197.9 216.9,197.8 217.6,197.8 218.2,197.8 218.9,197.8 219.6,197.8 220.2,197.8 220.9,197.8 221.6,197.8 222.2,197.8 222.9,197.9 223.6,197.9 224.2,198.0 224.6,198.0 225.2,198.0 225.9,198.1 226.6,198.2 227.2,198.3 227.7,198.3 228.2,198.4 228.9,198.5 229.6,198.6 229.9,198.7 230.6,198.8 231.2,198.9 231.6,199.0 232.2,199.2 232.9,199.3 233.2,199.4 233.9,199.6 234.2,199.7 234.9,199.9 235.4,200.0 235.9,200.2 236.4,200.3 236.9,200.5 237.3,200.7 237.9,200.9 238.2,201.0 238.9,201.3 239.2,201.5 239.6,201.7 240.2,202.0 240.6,202.2 240.9,202.4 241.3,202.7 241.8,203.0 242.2,203.3 242.6,203.6 242.9,203.9 243.2,204.2 243.6,204.6 243.9,205.0 244.1,205.3 244.2,205.7 244.5,206.3 244.6,206.7 244.6,207.3 244.6,208.0 244.5,208.3 244.2,209.0 244.1,209.3 243.8,209.7 243.6,210.0 243.2,210.4 242.9,210.8 242.6,211.1 242.2,211.4 241.9,211.7 241.5,212.0 241.1,212.3 240.6,212.7 240.2,212.9 239.9,213.1 239.6,213.3 239.0,213.7 238.6,213.9 238.2,214.1 237.9,214.3 237.3,214.7 236.9,214.9 236.6,215.0 235.9,215.3 235.6,215.5 235.1,215.7 234.6,215.9 233.9,216.0 233.6,216.1 M236.6,227.1 235.9,227.2 235.2,227.1 234.6,227.0 234.2,226.8 233.9,226.7 233.3,226.3 232.9,226.0 232.6,225.7 232.3,225.3 232.1,225.0 231.9,224.7 231.6,224.0 231.5,223.7 231.5,223.0 231.5,222.3 231.6,222.0 231.8,221.3 232.0,221.0 232.2,220.7 232.6,220.3 232.9,219.9 233.2,219.6 233.8,219.3 234.2,219.1 234.9,219.0 235.6,219.0 236.2,219.2 236.6,219.3 237.1,219.7 237.6,220.0 237.9,220.3 238.2,220.7 238.4,221.0 238.7,221.7 238.9,222.3 238.9,222.7 239.0,223.3 238.9,224.0 238.9,224.3 238.7,225.0 238.5,225.3 238.2,225.9 237.9,226.3 237.6,226.6 237.2,226.8 236.8,227.0 M198.2,253.0 197.9,253.0 197.2,252.9 196.6,252.8 196.2,252.7 195.6,252.3 195.2,252.0 195.0,251.7 194.8,251.3 194.7,250.7 194.9,250.0 195.0,249.7 195.3,249.3 195.6,249.0 195.9,248.6 196.3,248.3 196.8,248.0 197.2,247.7 197.6,247.6 198.1,247.3 198.6,247.1 199.0,247.0 199.6,246.8 200.2,246.7 200.6,246.6 201.2,246.5 201.9,246.4 202.6,246.4 202.9,246.3 203.6,246.3 204.2,246.3 204.7,246.3 205.2,246.4 205.9,246.5 206.3,246.7 206.7,247.0 206.9,247.7 206.6,248.3 206.4,248.7 206.2,249.0 205.9,249.4 205.6,249.7 205.2,250.1 204.9,250.4 204.5,250.7 204.1,251.0 203.6,251.3 203.2,251.5 202.9,251.7 202.4,252.0 201.9,252.2 201.6,252.4 200.9,252.6 200.6,252.7 199.9,252.8 199.2,252.9 198.6,253.0 198.2,253.0"/><path d="M236.9,230.7 236.2,230.7 235.6,230.7 235.2,230.6 234.6,230.5 233.9,230.3 233.6,230.2 233.0,230.0 232.6,229.8 232.2,229.7 231.6,229.3 231.2,229.1 230.9,228.9 230.6,228.6 230.2,228.3 229.8,228.0 229.5,227.7 229.2,227.3 228.9,227.0 228.6,226.5 228.2,226.0 228.1,225.7 227.9,225.3 227.7,224.7 227.6,224.0 227.6,223.3 227.6,222.7 227.8,222.0 227.9,221.6 228.1,221.0 228.2,220.7 228.5,220.0 228.7,219.7 228.9,219.0 229.0,218.7 228.9,218.1 228.6,217.7 228.2,217.4 227.9,217.2 227.3,217.0 226.9,216.9 226.2,216.8 225.8,216.7 225.2,216.6 224.6,216.5 223.9,216.4 223.2,216.3 222.9,216.3 222.2,216.3 221.6,216.2 220.9,216.1 220.2,216.1 219.6,216.0 219.2,216.0 218.6,215.9 217.9,215.9 217.2,215.8 216.6,215.7 216.2,215.7 215.6,215.6 214.9,215.5 214.2,215.4 213.9,215.3 213.2,215.2 212.6,215.1 212.0,215.0 211.6,214.9 210.9,214.8 210.5,214.7 209.9,214.5 209.2,214.4 208.9,214.3 208.2,214.1 207.9,214.0 207.2,213.8 206.8,213.7 206.2,213.5 205.8,213.3 205.2,213.1 204.9,213.0 204.2,212.7 203.9,212.6 203.3,212.3 202.9,212.1 202.6,212.0 202.0,211.7 201.6,211.5 201.2,211.3 200.8,211.0 200.3,210.7 199.9,210.4 199.6,210.1 199.2,209.9 198.9,209.6 198.6,209.3 198.2,208.9 197.9,208.5 197.6,208.0 197.3,207.7 197.2,207.3 197.0,206.7 196.9,206.3 196.9,205.7 196.9,205.2 197.0,204.7 197.2,204.2 197.5,203.7 197.8,203.3 198.0,203.0 198.4,202.7 198.7,202.3 199.1,202.0 199.6,201.7 199.9,201.5 200.2,201.2 200.6,201.0 201.2,200.7 201.6,200.5 202.0,200.3 202.6,200.1 202.9,199.9 203.6,199.7 203.9,199.6 204.6,199.3 204.9,199.2 205.6,199.0 205.9,198.9 206.6,198.8 207.0,198.7 207.6,198.5 208.2,198.4 208.6,198.3 209.2,198.2 209.9,198.1 210.4,198.0 210.9,197.9 211.6,197.8 212.2,197.7 212.9,197.7 213.2,197.6 213.9,197.6 214.6,197.5 215.2,197.5 215.9,197.4 216.6,197.4 217.2,197.4 217.9,197.3 218.6,197.3 219.0,197.3 219.6,197.3 219.9,197.3 220.6,197.3 221.2,197.4 221.9,197.4 222.6,197.4 223.2,197.4 223.9,197.5 224.6,197.5 225.2,197.6 225.9,197.7 226.2,197.7 226.9,197.8 227.6,197.9 228.2,197.9 228.6,198.0 229.2,198.1 229.9,198.2 230.6,198.3 230.9,198.4 231.6,198.5 232.2,198.7 232.6,198.7 233.2,198.9 233.7,199.0 234.2,199.1 234.9,199.3 235.2,199.4 235.9,199.6 236.2,199.7 236.9,199.9 237.2,200.1 237.9,200.3 238.2,200.4 238.8,200.7 239.2,200.8 239.6,201.0 240.2,201.3 240.6,201.5 241.0,201.7 241.6,202.0 241.9,202.2 242.2,202.4 242.6,202.7 243.1,203.0 243.5,203.3 243.9,203.7 244.2,204.0 244.5,204.3 244.8,204.7 245.0,205.0 245.2,205.3 245.6,206.0 245.7,206.3 245.8,207.0 245.8,207.7 245.7,208.3 245.6,208.7 245.3,209.3 245.1,209.7 244.9,210.0 244.6,210.4 244.2,210.8 243.9,211.1 243.6,211.5 243.2,211.8 242.9,212.1 242.6,212.4 242.2,212.7 241.8,213.0 241.4,213.3 241.0,213.7 240.6,214.0 240.3,214.3 239.9,214.7 239.6,215.0 239.4,215.3 239.2,215.7 239.1,216.3 239.2,216.7 239.5,217.3 239.8,217.7 240.0,218.0 240.2,218.3 240.6,218.8 240.9,219.3 241.1,219.7 241.4,220.3 241.6,220.8 241.7,221.3 241.9,222.0 241.9,222.3 242.0,223.0 242.1,223.7 242.1,224.3 242.0,225.0 242.0,225.7 241.9,226.1 241.8,226.7 241.6,227.3 241.5,227.7 241.2,228.1 240.9,228.6 240.6,229.0 240.3,229.3 239.9,229.7 239.6,229.9 239.2,230.1 238.6,230.3 238.2,230.5 237.6,230.6 237.1,230.7 M199.2,253.7 198.6,253.8 197.9,253.8 197.2,253.8 196.6,253.7 196.2,253.6 195.6,253.4 195.2,253.3 194.7,253.0 194.2,252.7 193.9,252.3 193.7,252.0 193.6,251.6 193.5,251.0 193.6,250.4 193.7,250.0 193.9,249.6 194.2,249.1 194.6,248.7 194.9,248.4 195.2,248.1 195.6,247.8 195.9,247.6 196.4,247.3 196.9,247.0 197.2,246.9 197.8,246.7 198.2,246.5 198.7,246.3 199.2,246.2 199.9,246.0 200.2,245.9 200.9,245.8 201.6,245.7 201.9,245.6 202.6,245.6 203.2,245.5 203.9,245.4 204.6,245.3 204.9,245.3 205.6,245.3 206.2,245.2 206.9,245.2 207.6,245.2 208.2,245.2 208.8,245.3 209.2,245.5 209.6,246.0 209.6,246.3 209.5,246.7 209.2,247.2 208.9,247.7 208.7,248.0 208.4,248.3 208.1,248.7 207.8,249.0 207.4,249.3 207.1,249.7 206.7,250.0 206.3,250.3 205.9,250.7 205.6,250.9 205.2,251.2 204.9,251.4 204.5,251.7 204.0,252.0 203.6,252.2 203.2,252.4 202.7,252.7 202.2,252.9 201.9,253.0 201.2,253.2 200.9,253.3 200.2,253.5 199.6,253.6 199.2,253.7"/><path d="M239.2,233.3 238.6,233.5 237.9,233.5 237.2,233.6 236.6,233.6 235.9,233.6 235.2,233.5 234.6,233.4 234.0,233.3 233.6,233.2 232.9,233.1 232.6,233.0 231.9,232.8 231.6,232.7 230.9,232.4 230.6,232.3 230.0,232.0 229.6,231.8 229.2,231.7 228.6,231.3 228.2,231.1 227.9,230.9 227.4,230.7 226.9,230.3 226.6,230.1 226.2,229.9 225.9,229.7 225.4,229.3 225.0,229.0 224.6,228.7 224.2,228.4 223.9,228.1 223.6,227.8 223.2,227.5 222.9,227.1 222.6,226.7 222.3,226.3 222.1,226.0 221.9,225.5 221.8,225.0 221.8,224.3 221.9,223.7 222.0,223.3 222.2,222.7 222.4,222.3 222.6,222.0 222.9,221.5 223.2,221.0 223.4,220.7 223.6,220.2 223.7,219.7 223.8,219.0 223.6,218.6 223.2,218.3 222.8,218.0 222.2,217.8 221.9,217.7 221.2,217.5 220.6,217.4 220.2,217.3 219.6,217.2 218.9,217.1 218.2,217.0 217.9,217.0 217.2,216.9 216.6,216.8 215.9,216.7 215.6,216.6 214.9,216.5 214.2,216.4 213.7,216.3 213.2,216.3 212.6,216.1 211.9,216.0 211.6,215.9 210.9,215.8 210.4,215.7 209.9,215.6 209.2,215.4 208.9,215.3 208.2,215.1 207.8,215.0 207.2,214.8 206.7,214.7 206.2,214.5 205.7,214.3 205.2,214.2 204.7,214.0 204.2,213.8 203.9,213.7 203.2,213.4 202.9,213.3 202.3,213.0 201.9,212.8 201.6,212.7 200.9,212.3 200.6,212.1 200.2,212.0 199.7,211.7 199.2,211.3 198.9,211.1 198.6,210.9 198.2,210.7 197.8,210.3 197.4,210.0 197.1,209.7 196.7,209.3 196.4,209.0 196.2,208.7 195.9,208.3 195.6,207.8 195.4,207.3 195.2,207.0 195.1,206.3 195.0,205.7 195.1,205.0 195.2,204.6 195.5,204.0 195.6,203.7 195.9,203.3 196.2,202.9 196.6,202.5 196.9,202.2 197.2,201.9 197.6,201.6 197.9,201.3 198.4,201.0 198.9,200.7 199.2,200.5 199.6,200.3 200.2,200.0 200.6,199.9 201.0,199.7 201.6,199.4 201.9,199.3 202.6,199.1 202.9,199.0 203.6,198.7 203.9,198.6 204.6,198.4 204.9,198.3 205.6,198.2 206.2,198.0 206.6,197.9 207.2,197.8 207.9,197.7 208.2,197.6 208.9,197.5 209.6,197.4 209.9,197.3 210.6,197.2 211.2,197.1 211.9,197.0 212.4,197.0 212.9,196.9 213.6,196.9 214.2,196.8 214.9,196.8 215.6,196.7 216.2,196.7 216.9,196.7 217.6,196.7 217.9,196.7 218.6,196.7 219.2,196.6 219.9,196.7 220.6,196.7 220.9,196.7 221.6,196.7 222.2,196.7 222.9,196.7 223.6,196.8 224.2,196.8 224.9,196.9 225.6,196.9 226.1,197.0 226.6,197.0 227.2,197.1 227.9,197.2 228.6,197.3 228.9,197.3 229.6,197.4 230.2,197.5 230.9,197.7 231.2,197.7 231.9,197.8 232.6,198.0 232.9,198.0 233.6,198.2 234.1,198.3 234.6,198.4 235.2,198.6 235.6,198.7 236.2,198.9 236.6,199.0 237.2,199.2 237.7,199.3 238.2,199.5 238.6,199.7 239.2,199.9 239.6,200.0 240.2,200.3 240.6,200.4 241.1,200.7 241.6,200.9 241.9,201.1 242.4,201.3 242.9,201.6 243.2,201.8 243.6,202.0 244.1,202.3 244.5,202.7 244.9,202.9 245.2,203.2 245.6,203.5 245.9,203.9 246.2,204.2 246.6,204.6 246.8,205.0 247.0,205.3 247.2,205.8 247.4,206.3 247.5,207.0 247.6,207.3 247.6,207.7 247.5,208.3 247.3,209.0 247.1,209.3 246.9,209.7 246.6,210.3 246.3,210.7 246.0,211.0 245.8,211.3 245.5,211.7 245.1,212.0 244.8,212.3 244.5,212.7 244.2,213.0 243.9,213.3 243.6,213.8 243.2,214.2 243.0,214.7 242.9,215.0 242.8,215.7 242.8,216.3 242.9,216.7 243.2,217.3 243.4,217.7 243.6,218.1 243.8,218.7 244.0,219.0 244.2,219.7 244.3,220.0 244.5,220.7 244.6,221.0 244.8,221.7 244.9,222.3 245.0,222.7 245.0,223.3 245.1,224.0 245.1,224.7 245.2,225.3 245.2,226.0 245.1,226.7 245.1,227.3 244.9,228.0 244.9,228.3 244.7,229.0 244.5,229.3 244.2,229.9 244.0,230.3 243.8,230.7 243.5,231.0 243.2,231.3 242.8,231.7 242.4,232.0 241.9,232.3 241.6,232.5 241.2,232.7 240.6,232.9 240.2,233.1 239.6,233.3 239.2,233.3 M198.9,254.7 198.2,254.7 197.6,254.8 196.9,254.8 196.2,254.7 195.9,254.7 195.2,254.5 194.6,254.3 194.2,254.2 193.8,254.0 193.2,253.7 192.9,253.4 192.6,253.0 192.3,252.7 192.1,252.3 192.0,251.7 191.9,251.0 192.1,250.3 192.2,249.9 192.5,249.3 192.7,249.0 193.0,248.7 193.3,248.3 193.7,248.0 194.0,247.7 194.5,247.3 194.9,247.1 195.2,246.8 195.6,246.7 196.2,246.3 196.6,246.2 196.9,246.0 197.6,245.8 197.9,245.6 198.6,245.4 199.2,245.2 199.9,245.1 200.2,245.0 200.9,244.9 201.6,244.7 201.9,244.7 202.6,244.6 203.2,244.4 203.9,244.3 204.2,244.3 204.9,244.1 205.6,244.0 205.9,244.0 206.6,243.8 207.2,243.7 207.6,243.6 208.2,243.5 208.9,243.3 209.2,243.3 209.9,243.2 210.6,243.1 211.2,243.1 211.9,243.1 212.6,243.2 212.9,243.4 213.2,243.7 213.5,244.3 213.4,245.0 213.2,245.3 212.9,245.8 212.6,246.3 212.2,246.7 211.9,247.0 211.6,247.3 211.2,247.7 210.9,248.0 210.6,248.3 210.2,248.6 209.9,248.9 209.6,249.1 209.2,249.4 208.9,249.7 208.5,250.0 208.1,250.3 207.7,250.7 207.2,251.0 206.9,251.2 206.6,251.5 206.2,251.7 205.8,252.0 205.3,252.3 204.9,252.6 204.6,252.7 204.1,253.0 203.6,253.3 203.2,253.4 202.6,253.7 202.2,253.8 201.8,254.0 201.2,254.2 200.6,254.3 200.2,254.4 199.6,254.6 198.9,254.7"/><path d="M239.6,236.0 238.9,236.1 238.2,236.2 237.6,236.2 236.9,236.2 236.2,236.2 235.6,236.2 234.9,236.1 234.2,236.0 233.9,236.0 233.2,235.9 232.6,235.8 232.1,235.7 231.6,235.5 230.9,235.4 230.6,235.3 229.9,235.1 229.6,235.0 228.9,234.8 228.5,234.7 227.9,234.5 227.5,234.3 226.9,234.1 226.5,234.0 225.9,233.8 225.5,233.7 224.9,233.5 224.5,233.3 223.9,233.1 223.5,233.0 222.9,232.8 222.3,232.7 221.9,232.5 221.2,232.4 220.9,232.3 220.2,232.2 219.6,232.0 219.2,232.0 218.6,231.8 217.9,231.7 217.4,231.7 216.9,231.6 216.2,231.5 215.6,231.4 215.2,231.3 214.6,231.2 213.9,231.0 213.6,230.9 212.9,230.7 212.6,230.6 211.9,230.4 211.6,230.2 211.1,230.0 210.6,229.7 210.2,229.5 209.9,229.3 209.5,229.0 209.0,228.7 208.7,228.3 208.4,228.0 208.1,227.7 207.8,227.3 207.6,226.9 207.3,226.3 207.1,226.0 207.0,225.3 206.9,224.7 206.9,224.5 206.9,224.0 207.1,223.3 207.2,223.0 207.6,222.4 207.9,222.0 208.2,221.7 208.5,221.3 208.9,221.0 209.2,220.7 209.6,220.4 209.9,220.1 210.2,219.8 210.6,219.3 210.6,219.0 210.5,218.7 210.2,218.3 209.7,218.0 209.2,217.7 208.9,217.6 208.5,217.3 207.9,217.1 207.6,216.9 206.9,216.7 206.6,216.5 206.2,216.3 205.6,216.1 205.2,216.0 204.6,215.7 204.2,215.5 203.8,215.3 203.2,215.1 202.9,214.9 202.3,214.7 201.9,214.5 201.6,214.3 200.9,214.0 200.6,213.8 200.2,213.6 199.6,213.3 199.2,213.1 198.9,212.9 198.5,212.7 197.9,212.3 197.6,212.1 197.2,211.9 196.9,211.7 196.4,211.3 196.0,211.0 195.6,210.7 195.2,210.4 194.9,210.0 194.6,209.7 194.2,209.3 194.0,209.0 193.7,208.7 193.5,208.3 193.2,207.9 193.0,207.3 192.9,207.0 192.7,206.3 192.7,205.7 192.7,205.0 192.9,204.4 193.0,204.0 193.2,203.6 193.6,203.1 193.9,202.7 194.1,202.3 194.5,202.0 194.8,201.7 195.2,201.3 195.6,201.1 195.9,200.8 196.2,200.6 196.6,200.3 197.2,200.0 197.6,199.8 197.9,199.6 198.5,199.3 198.9,199.2 199.3,199.0 199.9,198.7 200.2,198.6 200.9,198.4 201.2,198.3 201.9,198.0 202.2,197.9 202.9,197.7 203.2,197.7 203.9,197.5 204.5,197.3 204.9,197.2 205.6,197.1 205.9,197.0 206.6,196.9 207.2,196.7 207.7,196.7 208.2,196.6 208.9,196.5 209.6,196.4 209.9,196.3 210.6,196.2 211.2,196.2 211.9,196.1 212.6,196.0 212.9,196.0 213.6,195.9 214.2,195.9 214.9,195.9 215.6,195.8 216.2,195.8 216.9,195.8 217.6,195.8 218.2,195.7 218.9,195.7 219.6,195.7 220.2,195.8 220.9,195.8 221.6,195.8 222.2,195.8 222.9,195.8 223.6,195.9 224.2,195.9 224.9,196.0 225.2,196.0 225.9,196.1 226.6,196.1 227.2,196.2 227.9,196.3 228.3,196.3 228.9,196.4 229.6,196.5 230.2,196.6 230.6,196.7 231.2,196.8 231.9,196.9 232.5,197.0 232.9,197.1 233.6,197.2 234.2,197.3 234.6,197.4 235.2,197.6 235.6,197.7 236.2,197.8 236.9,198.0 237.2,198.1 237.9,198.3 238.2,198.4 238.9,198.6 239.2,198.7 239.9,198.9 240.2,199.1 240.9,199.3 241.2,199.4 241.8,199.7 242.2,199.9 242.6,200.0 243.2,200.3 243.6,200.5 243.9,200.7 244.5,201.0 244.9,201.2 245.2,201.4 245.6,201.7 246.1,202.0 246.6,202.3 246.9,202.6 247.2,202.8 247.6,203.1 247.9,203.4 248.2,203.8 248.6,204.2 248.9,204.6 249.1,205.0 249.3,205.3 249.6,205.9 249.7,206.3 249.8,207.0 249.9,207.7 249.8,208.3 249.6,209.0 249.5,209.3 249.2,209.9 249.0,210.3 248.8,210.7 248.6,211.0 248.2,211.4 247.9,211.9 247.6,212.3 247.3,212.7 247.1,213.0 246.8,213.3 246.6,213.8 246.3,214.3 246.2,214.7 246.1,215.3 246.1,216.0 246.2,216.5 246.4,217.0 246.6,217.6 246.7,218.0 246.9,218.5 247.1,219.0 247.2,219.5 247.4,220.0 247.6,220.7 247.6,221.0 247.8,221.7 247.9,222.3 248.0,223.0 248.1,223.7 248.2,224.3 248.2,224.8 248.3,225.3 248.3,226.0 248.3,226.7 248.3,227.3 248.3,228.0 248.2,228.7 248.2,229.0 248.0,229.7 247.9,230.1 247.7,230.7 247.5,231.0 247.2,231.5 246.9,232.0 246.7,232.3 246.4,232.7 246.1,233.0 245.8,233.3 245.4,233.7 244.9,234.0 244.6,234.2 244.2,234.4 243.8,234.7 243.2,235.0 242.9,235.1 242.3,235.3 241.9,235.5 241.3,235.7 240.9,235.8 240.2,235.9 239.7,236.0 M199.2,255.7 198.6,255.8 197.9,255.8 197.2,255.9 196.6,255.9 195.9,255.8 195.2,255.8 194.6,255.7 194.2,255.6 193.6,255.4 193.2,255.3 192.6,255.0 192.2,254.8 191.9,254.6 191.6,254.3 191.2,254.0 190.9,253.7 190.6,253.1 190.4,252.7 190.2,252.1 190.2,251.7 190.2,251.0 190.3,250.7 190.5,250.0 190.7,249.7 190.9,249.2 191.2,248.7 191.5,248.3 191.8,248.0 192.2,247.7 192.5,247.3 192.9,247.0 193.2,246.8 193.6,246.6 193.9,246.3 194.5,246.0 194.9,245.8 195.2,245.6 195.8,245.3 196.2,245.1 196.6,245.0 197.2,244.8 197.6,244.7 198.2,244.4 198.6,244.3 199.2,244.2 199.9,244.0 200.2,243.9 200.9,243.8 201.5,243.7 201.9,243.6 202.6,243.4 203.0,243.3 203.6,243.2 204.2,243.1 204.6,243.0 205.2,242.8 205.7,242.7 206.2,242.5 206.9,242.3 207.2,242.2 207.9,242.0 208.2,241.9 208.9,241.7 209.2,241.6 209.9,241.4 210.2,241.3 210.9,241.1 211.5,241.0 211.9,240.9 212.6,240.8 213.2,240.7 213.8,240.7 214.2,240.7 214.6,240.7 215.2,240.7 215.9,240.9 216.2,241.1 216.6,241.3 216.9,241.7 217.2,242.3 217.2,243.0 217.0,243.7 216.9,244.0 216.6,244.6 216.3,245.0 216.0,245.3 215.7,245.7 215.4,246.0 215.1,246.3 214.8,246.7 214.4,247.0 214.0,247.3 213.6,247.7 213.2,248.0 212.9,248.3 212.6,248.5 212.2,248.8 211.9,249.0 211.5,249.3 211.1,249.7 210.6,250.0 210.2,250.3 209.9,250.5 209.6,250.8 209.2,251.0 208.8,251.3 208.3,251.7 207.9,251.9 207.6,252.2 207.2,252.4 206.8,252.7 206.2,253.0 205.9,253.2 205.6,253.4 205.1,253.7 204.6,253.9 204.2,254.1 203.7,254.3 203.2,254.5 202.9,254.7 202.2,254.9 201.9,255.0 201.2,255.2 200.9,255.3 200.2,255.5 199.6,255.6 199.2,255.7"/></g>
<rect x="187.00" y="189.65" width="35.50" height="23.75" fill="none" stroke="#5a5a5a" stroke-width="0.8" />
<rect x="222.50" y="189.65" width="35.75" height="23.75" fill="none" stroke="#5a5a5a" stroke-width="0.8" />
<rect x="190.50" y="213.40" width="32.00" height="27.25" fill="none" stroke="#5a5a5a" stroke-width="0.8" />
<rect x="222.50" y="213.40" width="39.00" height="43.00" fill="none" stroke="#5a5a5a" stroke-width="0.8" />
<rect x="171.40" y="179.50" width="96.10" height="95.20" fill="none" stroke="#1a1a1a" stroke-width="1.0" />
<rect x="169.40" y="251.00" width="2.00" height="3.60" fill="#111" stroke="none" stroke-width="0.8" />
<rect x="190.60" y="274.70" width="3.60" height="2.20" fill="#111" stroke="none" stroke-width="0.8" />
<line x1="168.20" y1="188.60" x2="171.40" y2="188.60" stroke="#222" stroke-width="0.8" />
<text x="164.80" y="191.00" font-size="6.8" text-anchor="end" fill="#222">10<tspan font-size="4.22" dy="-2.86">5</tspan></text>
<line x1="168.20" y1="211.70" x2="171.40" y2="211.70" stroke="#222" stroke-width="0.8" />
<text x="164.80" y="214.10" font-size="6.8" text-anchor="end" fill="#222">10<tspan font-size="4.22" dy="-2.86">4</tspan></text>
<line x1="168.20" y1="237.20" x2="171.40" y2="237.20" stroke="#222" stroke-width="0.8" />
<text x="164.80" y="239.60" font-size="6.8" text-anchor="end" fill="#222">10<tspan font-size="4.22" dy="-2.86">3</tspan></text>
<line x1="168.20" y1="252.10" x2="171.40" y2="252.10" stroke="#222" stroke-width="0.8" />
<text x="164.50" y="254.50" font-size="6.8" text-anchor="end" fill="#222" >0</text>
<line x1="168.20" y1="268.30" x2="171.40" y2="268.30" stroke="#222" stroke-width="0.8" />
<text x="164.80" y="270.70" font-size="6.8" text-anchor="end" fill="#222">−10<tspan font-size="4.22" dy="-2.86">3</tspan></text>
<line x1="169.90" y1="204.75" x2="171.40" y2="204.75" stroke="#222" stroke-width="0.5" />
<line x1="169.90" y1="200.68" x2="171.40" y2="200.68" stroke="#222" stroke-width="0.5" />
<line x1="169.90" y1="197.79" x2="171.40" y2="197.79" stroke="#222" stroke-width="0.5" />
<line x1="169.90" y1="195.55" x2="171.40" y2="195.55" stroke="#222" stroke-width="0.5" />
<line x1="169.90" y1="193.72" x2="171.40" y2="193.72" stroke="#222" stroke-width="0.5" />
<line x1="169.90" y1="192.18" x2="171.40" y2="192.18" stroke="#222" stroke-width="0.5" />
<line x1="169.90" y1="190.84" x2="171.40" y2="190.84" stroke="#222" stroke-width="0.5" />
<line x1="169.90" y1="189.66" x2="171.40" y2="189.66" stroke="#222" stroke-width="0.5" />
<line x1="169.90" y1="229.52" x2="171.40" y2="229.52" stroke="#222" stroke-width="0.5" />
<line x1="169.90" y1="225.03" x2="171.40" y2="225.03" stroke="#222" stroke-width="0.5" />
<line x1="169.90" y1="221.85" x2="171.40" y2="221.85" stroke="#222" stroke-width="0.5" />
<line x1="169.90" y1="219.38" x2="171.40" y2="219.38" stroke="#222" stroke-width="0.5" />
<line x1="169.90" y1="217.36" x2="171.40" y2="217.36" stroke="#222" stroke-width="0.5" />
<line x1="169.90" y1="215.65" x2="171.40" y2="215.65" stroke="#222" stroke-width="0.5" />
<line x1="169.90" y1="214.17" x2="171.40" y2="214.17" stroke="#222" stroke-width="0.5" />
<line x1="169.90" y1="212.87" x2="171.40" y2="212.87" stroke="#222" stroke-width="0.5" />
<line x1="169.90" y1="241.50" x2="171.40" y2="241.50" stroke="#222" stroke-width="0.5" />
<line x1="169.90" y1="246.50" x2="171.40" y2="246.50" stroke="#222" stroke-width="0.5" />
<line x1="169.90" y1="257.50" x2="171.40" y2="257.50" stroke="#222" stroke-width="0.5" />
<line x1="169.90" y1="262.50" x2="171.40" y2="262.50" stroke="#222" stroke-width="0.5" />
<line x1="176.60" y1="274.70" x2="176.60" y2="277.70" stroke="#222" stroke-width="0.8" />
<line x1="192.20" y1="274.70" x2="192.20" y2="277.70" stroke="#222" stroke-width="0.8" />
<line x1="207.80" y1="274.70" x2="207.80" y2="277.70" stroke="#222" stroke-width="0.8" />
<line x1="233.40" y1="274.70" x2="233.40" y2="277.70" stroke="#222" stroke-width="0.8" />
<line x1="256.00" y1="274.70" x2="256.00" y2="277.70" stroke="#222" stroke-width="0.8" />
<text x="179.10" y="288.00" font-size="6.8" text-anchor="middle" fill="#222">−10<tspan font-size="4.22" dy="-2.86">3</tspan></text>
<text x="193.90" y="288.00" font-size="6.8" text-anchor="middle" fill="#222" >0</text>
<text x="208.00" y="288.00" font-size="6.8" text-anchor="middle" fill="#222">10<tspan font-size="4.22" dy="-2.86">3</tspan></text>
<text x="235.20" y="288.00" font-size="6.8" text-anchor="middle" fill="#222">10<tspan font-size="4.22" dy="-2.86">4</tspan></text>
<text x="257.40" y="288.00" font-size="6.8" text-anchor="middle" fill="#222">10<tspan font-size="4.22" dy="-2.86">5</tspan></text>
<line x1="215.51" y1="274.70" x2="215.51" y2="276.20" stroke="#222" stroke-width="0.5" />
<line x1="220.01" y1="274.70" x2="220.01" y2="276.20" stroke="#222" stroke-width="0.5" />
<line x1="223.21" y1="274.70" x2="223.21" y2="276.20" stroke="#222" stroke-width="0.5" />
<line x1="225.69" y1="274.70" x2="225.69" y2="276.20" stroke="#222" stroke-width="0.5" />
<line x1="227.72" y1="274.70" x2="227.72" y2="276.20" stroke="#222" stroke-width="0.5" />
<line x1="229.43" y1="274.70" x2="229.43" y2="276.20" stroke="#222" stroke-width="0.5" />
<line x1="230.92" y1="274.70" x2="230.92" y2="276.20" stroke="#222" stroke-width="0.5" />
<line x1="232.23" y1="274.70" x2="232.23" y2="276.20" stroke="#222" stroke-width="0.5" />
<line x1="240.20" y1="274.70" x2="240.20" y2="276.20" stroke="#222" stroke-width="0.5" />
<line x1="244.18" y1="274.70" x2="244.18" y2="276.20" stroke="#222" stroke-width="0.5" />
<line x1="247.01" y1="274.70" x2="247.01" y2="276.20" stroke="#222" stroke-width="0.5" />
<line x1="249.20" y1="274.70" x2="249.20" y2="276.20" stroke="#222" stroke-width="0.5" />
<line x1="250.99" y1="274.70" x2="250.99" y2="276.20" stroke="#222" stroke-width="0.5" />
<line x1="252.50" y1="274.70" x2="252.50" y2="276.20" stroke="#222" stroke-width="0.5" />
<line x1="253.81" y1="274.70" x2="253.81" y2="276.20" stroke="#222" stroke-width="0.5" />
<line x1="254.97" y1="274.70" x2="254.97" y2="276.20" stroke="#222" stroke-width="0.5" />
<line x1="181.40" y1="274.70" x2="181.40" y2="276.20" stroke="#222" stroke-width="0.5" />
<line x1="186.40" y1="274.70" x2="186.40" y2="276.20" stroke="#222" stroke-width="0.5" />
<line x1="197.40" y1="274.70" x2="197.40" y2="276.20" stroke="#222" stroke-width="0.5" />
<line x1="202.40" y1="274.70" x2="202.40" y2="276.20" stroke="#222" stroke-width="0.5" />
<text x="186.30" y="204.40" font-size="6.6" text-anchor="end" fill="#222" >35.7</text>
<text x="244.00" y="198.20" font-size="6.6" text-anchor="start" fill="#222" >30.8</text>
<text x="186.30" y="228.20" font-size="6.6" text-anchor="end" fill="#222" >8.77</text>
<text x="244.80" y="236.20" font-size="6.6" text-anchor="start" fill="#222" >16.8</text>
<line x1="17.30" y1="248.00" x2="17.30" y2="297.60" stroke="#222" stroke-width="1.0" />
<line x1="17.30" y1="297.60" x2="68.00" y2="297.60" stroke="#222" stroke-width="1.0" />
<path d="M17.30,244.40L15.10,249.60L19.50,249.60Z" fill="#222"/>
<path d="M72.00,297.60L66.80,295.40L66.80,299.80Z" fill="#222"/>
<text transform="translate(19.60,233.00) rotate(-90)" font-size="8.8" text-anchor="middle" font-weight="bold" textLength="14.7" lengthAdjust="spacingAndGlyphs" fill="#222">CD71</text>
<text x="75.90" y="300.50" font-size="8.8" text-anchor="start" font-weight="bold" fill="#222" textLength="21.1" lengthAdjust="spacingAndGlyphs">CD235a</text>
<text x="283.80" y="16.00" font-size="12" text-anchor="start" font-weight="bold" fill="#111" style="stroke:#111;stroke-width:0.45px">B</text>
<text x="402.50" y="20.60" font-size="6.5" text-anchor="middle" fill="#222" >Day 12</text>
<line x1="319.90" y1="24.90" x2="477.50" y2="24.90" stroke="#333" stroke-width="0.9" />
<text x="323.20" y="33.00" font-size="6.5" text-anchor="start" fill="#222" >CD71<tspan font-size="4" dy="-2.6">high</tspan></text>
<text x="374.70" y="33.00" font-size="6.5" text-anchor="start" fill="#222" >CD71<tspan font-size="4" dy="-2.6">+</tspan><tspan dy="2.6">CD235a</tspan><tspan font-size="4" dy="-2.6">+</tspan></text>
<text x="445.10" y="33.00" font-size="6.5" text-anchor="start" fill="#222" >CD235a<tspan font-size="4" dy="-2.6">+</tspan></text>
<rect x="323.10" y="66.88" width="10.70" height="63.72" fill="#c8c6cb" stroke="none" stroke-width="0.8" />
<line x1="328.45" y1="62.22" x2="328.45" y2="66.88" stroke="#222" stroke-width="0.9" />
<line x1="323.10" y1="62.22" x2="333.80" y2="62.22" stroke="#222" stroke-width="0.9" />
<rect x="338.10" y="76.18" width="10.90" height="54.42" fill="#8d84c3" stroke="none" stroke-width="0.8" />
<line x1="343.55" y1="74.93" x2="343.55" y2="76.18" stroke="#222" stroke-width="0.9" />
<line x1="338.10" y1="74.93" x2="349.00" y2="74.93" stroke="#222" stroke-width="0.9" />
<text x="343.50" y="76.00" font-size="7" text-anchor="middle" fill="#222" >*</text>
<line x1="319.80" y1="38.20" x2="319.80" y2="131.10" stroke="#222" stroke-width="1.0" />
<line x1="319.30" y1="130.60" x2="351.20" y2="130.60" stroke="#222" stroke-width="1.0" />
<line x1="316.80" y1="130.60" x2="319.80" y2="130.60" stroke="#222" stroke-width="0.8" />
<text x="312.60" y="133.50" font-size="6.6" text-anchor="end" fill="#222" >0</text>
<line x1="316.80" y1="112.70" x2="319.80" y2="112.70" stroke="#222" stroke-width="0.8" />
<text x="312.60" y="115.60" font-size="6.6" text-anchor="end" fill="#222" >10</text>
<line x1="316.80" y1="94.80" x2="319.80" y2="94.80" stroke="#222" stroke-width="0.8" />
<text x="312.60" y="97.70" font-size="6.6" text-anchor="end" fill="#222" >20</text>
<line x1="316.80" y1="76.90" x2="319.80" y2="76.90" stroke="#222" stroke-width="0.8" />
<text x="312.60" y="79.80" font-size="6.6" text-anchor="end" fill="#222" >30</text>
<line x1="316.80" y1="59.00" x2="319.80" y2="59.00" stroke="#222" stroke-width="0.8" />
<text x="312.60" y="61.90" font-size="6.6" text-anchor="end" fill="#222" >40</text>
<line x1="316.80" y1="41.10" x2="319.80" y2="41.10" stroke="#222" stroke-width="0.8" />
<text x="312.60" y="44.00" font-size="6.6" text-anchor="end" fill="#222" >50</text>
<line x1="328.40" y1="130.60" x2="328.40" y2="133.60" stroke="#222" stroke-width="0.8" />
<line x1="343.50" y1="130.60" x2="343.50" y2="133.60" stroke="#222" stroke-width="0.8" />
<text transform="translate(331.20,139.90) rotate(-45)" font-size="7.0" text-anchor="end" fill="#222">sgControl</text>
<text transform="translate(346.30,139.90) rotate(-45)" font-size="7.0" text-anchor="end" fill="#222">sg<tspan font-style="italic">SAMD1</tspan></text>
<text transform="translate(298.80,84.70) rotate(-90)" font-size="8" text-anchor="middle" font-weight="bold" textLength="31.2" lengthAdjust="spacingAndGlyphs" fill="#222">Percentage</text>
<rect x="385.00" y="66.52" width="10.80" height="64.08" fill="#c8c6cb" stroke="none" stroke-width="0.8" />
<line x1="390.40" y1="64.55" x2="390.40" y2="66.52" stroke="#222" stroke-width="0.9" />
<line x1="385.00" y1="64.55" x2="395.80" y2="64.55" stroke="#222" stroke-width="0.9" />
<rect x="401.20" y="60.97" width="11.20" height="69.63" fill="#8d84c3" stroke="none" stroke-width="0.8" />
<line x1="406.80" y1="58.28" x2="406.80" y2="60.97" stroke="#222" stroke-width="0.9" />
<line x1="401.20" y1="58.28" x2="412.40" y2="58.28" stroke="#222" stroke-width="0.9" />
<text x="406.80" y="58.00" font-size="7" text-anchor="middle" fill="#222" >*</text>
<line x1="381.60" y1="38.20" x2="381.60" y2="131.10" stroke="#222" stroke-width="1.0" />
<line x1="381.10" y1="130.60" x2="413.50" y2="130.60" stroke="#222" stroke-width="1.0" />
<line x1="378.60" y1="130.60" x2="381.60" y2="130.60" stroke="#222" stroke-width="0.8" />
<text x="374.40" y="133.50" font-size="6.6" text-anchor="end" fill="#222" >0</text>
<line x1="378.60" y1="112.70" x2="381.60" y2="112.70" stroke="#222" stroke-width="0.8" />
<text x="374.40" y="115.60" font-size="6.6" text-anchor="end" fill="#222" >10</text>
<line x1="378.60" y1="94.80" x2="381.60" y2="94.80" stroke="#222" stroke-width="0.8" />
<text x="374.40" y="97.70" font-size="6.6" text-anchor="end" fill="#222" >20</text>
<line x1="378.60" y1="76.90" x2="381.60" y2="76.90" stroke="#222" stroke-width="0.8" />
<text x="374.40" y="79.80" font-size="6.6" text-anchor="end" fill="#222" >30</text>
<line x1="378.60" y1="59.00" x2="381.60" y2="59.00" stroke="#222" stroke-width="0.8" />
<text x="374.40" y="61.90" font-size="6.6" text-anchor="end" fill="#222" >40</text>
<line x1="378.60" y1="41.10" x2="381.60" y2="41.10" stroke="#222" stroke-width="0.8" />
<text x="374.40" y="44.00" font-size="6.6" text-anchor="end" fill="#222" >50</text>
<line x1="390.40" y1="130.60" x2="390.40" y2="133.60" stroke="#222" stroke-width="0.8" />
<line x1="406.80" y1="130.60" x2="406.80" y2="133.60" stroke="#222" stroke-width="0.8" />
<text transform="translate(393.20,139.90) rotate(-45)" font-size="7.0" text-anchor="end" fill="#222">sgControl</text>
<text transform="translate(409.60,139.90) rotate(-45)" font-size="7.0" text-anchor="end" fill="#222">sg<tspan font-style="italic">SAMD1</tspan></text>
<rect x="447.00" y="82.27" width="10.50" height="48.33" fill="#c8c6cb" stroke="none" stroke-width="0.8" />
<line x1="452.25" y1="69.12" x2="452.25" y2="82.27" stroke="#222" stroke-width="0.9" />
<line x1="447.00" y1="69.12" x2="457.50" y2="69.12" stroke="#222" stroke-width="0.9" />
<rect x="462.00" y="69.12" width="10.50" height="61.48" fill="#8d84c3" stroke="none" stroke-width="0.8" />
<line x1="467.25" y1="58.66" x2="467.25" y2="69.12" stroke="#222" stroke-width="0.9" />
<line x1="462.00" y1="58.66" x2="472.50" y2="58.66" stroke="#222" stroke-width="0.9" />
<line x1="443.00" y1="38.20" x2="443.00" y2="131.10" stroke="#222" stroke-width="1.0" />
<line x1="442.50" y1="130.60" x2="474.50" y2="130.60" stroke="#222" stroke-width="1.0" />
<line x1="440.00" y1="130.60" x2="443.00" y2="130.60" stroke="#222" stroke-width="0.8" />
<text x="435.80" y="133.50" font-size="6.6" text-anchor="end" fill="#222" >0</text>
<line x1="440.00" y1="108.12" x2="443.00" y2="108.12" stroke="#222" stroke-width="0.8" />
<text x="435.80" y="111.02" font-size="6.6" text-anchor="end" fill="#222" >2</text>
<line x1="440.00" y1="85.64" x2="443.00" y2="85.64" stroke="#222" stroke-width="0.8" />
<text x="435.80" y="88.54" font-size="6.6" text-anchor="end" fill="#222" >4</text>
<line x1="440.00" y1="63.16" x2="443.00" y2="63.16" stroke="#222" stroke-width="0.8" />
<text x="435.80" y="66.06" font-size="6.6" text-anchor="end" fill="#222" >6</text>
<line x1="440.00" y1="40.68" x2="443.00" y2="40.68" stroke="#222" stroke-width="0.8" />
<text x="435.80" y="43.58" font-size="6.6" text-anchor="end" fill="#222" >8</text>
<line x1="452.20" y1="130.60" x2="452.20" y2="133.60" stroke="#222" stroke-width="0.8" />
<line x1="467.20" y1="130.60" x2="467.20" y2="133.60" stroke="#222" stroke-width="0.8" />
<text transform="translate(455.00,139.90) rotate(-45)" font-size="7.0" text-anchor="end" fill="#222">sgControl</text>
<text transform="translate(470.00,139.90) rotate(-45)" font-size="7.0" text-anchor="end" fill="#222">sg<tspan font-style="italic">SAMD1</tspan></text>
<text x="283.80" y="192.00" font-size="12" text-anchor="start" font-weight="bold" fill="#111" style="stroke:#111;stroke-width:0.45px">C</text>
<text x="332.80" y="195.20" font-size="6.5" text-anchor="middle" fill="#222" >Day 17</text>
<text x="335.00" y="203.80" font-size="7" text-anchor="middle" fill="#222" >CD235a<tspan font-size="4.3" dy="-2.8">+</tspan></text>
<rect x="323.30" y="260.56" width="10.20" height="39.24" fill="#c8c6cb" stroke="none" stroke-width="0.8" />
<line x1="328.40" y1="255.52" x2="328.40" y2="260.56" stroke="#222" stroke-width="0.9" />
<line x1="323.30" y1="255.52" x2="333.50" y2="255.52" stroke="#222" stroke-width="0.9" />
<rect x="338.00" y="239.50" width="10.30" height="60.30" fill="#8d84c3" stroke="none" stroke-width="0.8" />
<line x1="343.15" y1="231.04" x2="343.15" y2="239.50" stroke="#222" stroke-width="0.9" />
<line x1="338.00" y1="231.04" x2="348.30" y2="231.04" stroke="#222" stroke-width="0.9" />
<text x="343.50" y="231.00" font-size="7" text-anchor="middle" fill="#222" >*</text>
<line x1="319.20" y1="207.50" x2="319.20" y2="300.30" stroke="#222" stroke-width="1.0" />
<line x1="318.70" y1="299.80" x2="350.50" y2="299.80" stroke="#222" stroke-width="1.0" />
<line x1="316.20" y1="299.80" x2="319.20" y2="299.80" stroke="#222" stroke-width="0.8" />
<text x="312.00" y="302.70" font-size="6.6" text-anchor="end" fill="#222" >0</text>
<line x1="316.20" y1="281.80" x2="319.20" y2="281.80" stroke="#222" stroke-width="0.8" />
<text x="312.00" y="284.70" font-size="6.6" text-anchor="end" fill="#222" >5</text>
<line x1="316.20" y1="263.80" x2="319.20" y2="263.80" stroke="#222" stroke-width="0.8" />
<text x="312.00" y="266.70" font-size="6.6" text-anchor="end" fill="#222" >10</text>
<line x1="316.20" y1="245.80" x2="319.20" y2="245.80" stroke="#222" stroke-width="0.8" />
<text x="312.00" y="248.70" font-size="6.6" text-anchor="end" fill="#222" >15</text>
<line x1="316.20" y1="227.80" x2="319.20" y2="227.80" stroke="#222" stroke-width="0.8" />
<text x="312.00" y="230.70" font-size="6.6" text-anchor="end" fill="#222" >20</text>
<line x1="316.20" y1="209.80" x2="319.20" y2="209.80" stroke="#222" stroke-width="0.8" />
<text x="312.00" y="212.70" font-size="6.6" text-anchor="end" fill="#222" >25</text>
<line x1="328.40" y1="299.80" x2="328.40" y2="302.80" stroke="#222" stroke-width="0.8" />
<line x1="343.20" y1="299.80" x2="343.20" y2="302.80" stroke="#222" stroke-width="0.8" />
<text transform="translate(331.20,309.10) rotate(-45)" font-size="7.0" text-anchor="end" fill="#222">sgControl</text>
<text transform="translate(346.00,309.10) rotate(-45)" font-size="7.0" text-anchor="end" fill="#222">sg<tspan font-style="italic">SAMD1</tspan></text>
<text transform="translate(298.80,253.00) rotate(-90)" font-size="8" text-anchor="middle" font-weight="bold" textLength="31.2" lengthAdjust="spacingAndGlyphs" fill="#222">Percentage</text>
<text x="369.50" y="192.00" font-size="12" text-anchor="start" font-weight="bold" fill="#111" style="stroke:#111;stroke-width:0.45px">D</text>
<rect x="410.80" y="293.81" width="10.20" height="5.99" fill="#c8c6cb" stroke="none" stroke-width="0.8" />
<circle cx="412.30" cy="293.81" r="2.2" fill="#111"/>
<circle cx="414.70" cy="293.81" r="2.2" fill="#111"/>
<circle cx="417.10" cy="293.81" r="2.2" fill="#111"/>
<circle cx="419.50" cy="293.92" r="2.2" fill="#111"/>
<rect x="424.40" y="247.70" width="9.20" height="52.10" fill="#c8c6cb" stroke="none" stroke-width="0.8" />
<line x1="429.00" y1="233.43" x2="429.00" y2="260.42" stroke="#222" stroke-width="0.9" />
<line x1="424.40" y1="233.43" x2="433.60" y2="233.43" stroke="#222" stroke-width="0.9" />
<line x1="424.40" y1="260.42" x2="433.60" y2="260.42" stroke="#222" stroke-width="0.9" />
<circle cx="426.50" cy="236.74" r="2.2" fill="#111"/>
<circle cx="432.30" cy="238.74" r="2.2" fill="#111"/>
<circle cx="429.30" cy="240.16" r="2.2" fill="#111"/>
<circle cx="428.80" cy="245.87" r="2.2" fill="#111"/>
<circle cx="428.80" cy="257.68" r="2.2" fill="#111"/>
<circle cx="428.80" cy="273.09" r="2.2" fill="#111"/>
<rect x="437.00" y="294.66" width="10.10" height="5.14" fill="#8d84c3" stroke="none" stroke-width="0.8" />
<circle cx="439.05" cy="293.81" r="2.2" fill="#111"/>
<circle cx="442.05" cy="293.81" r="2.2" fill="#111"/>
<circle cx="445.05" cy="293.92" r="2.2" fill="#111"/>
<rect x="450.60" y="270.87" width="9.10" height="28.93" fill="#8d84c3" stroke="none" stroke-width="0.8" />
<line x1="455.15" y1="257.45" x2="455.15" y2="282.39" stroke="#222" stroke-width="0.9" />
<line x1="450.60" y1="257.45" x2="459.70" y2="257.45" stroke="#222" stroke-width="0.9" />
<line x1="450.60" y1="282.39" x2="459.70" y2="282.39" stroke="#222" stroke-width="0.9" />
<circle cx="452.35" cy="252.72" r="2.2" fill="#111"/>
<circle cx="458.05" cy="252.43" r="2.2" fill="#111"/>
<circle cx="455.55" cy="268.58" r="2.2" fill="#111"/>
<circle cx="451.85" cy="275.55" r="2.2" fill="#111"/>
<circle cx="458.05" cy="276.00" r="2.2" fill="#111"/>
<circle cx="455.55" cy="278.68" r="2.2" fill="#111"/>
<circle cx="455.55" cy="285.19" r="2.2" fill="#111"/>
<line x1="407.60" y1="211.50" x2="407.60" y2="300.30" stroke="#222" stroke-width="1.0" />
<line x1="407.10" y1="299.80" x2="463.20" y2="299.80" stroke="#222" stroke-width="1.0" />
<line x1="404.60" y1="299.80" x2="407.60" y2="299.80" stroke="#222" stroke-width="0.8" />
<text x="401.00" y="302.70" font-size="7" text-anchor="end" fill="#222" >0</text>
<line x1="404.60" y1="271.26" x2="407.60" y2="271.26" stroke="#222" stroke-width="0.8" />
<text x="401.00" y="274.16" font-size="7" text-anchor="end" fill="#222" >50</text>
<line x1="404.60" y1="242.73" x2="407.60" y2="242.73" stroke="#222" stroke-width="0.8" />
<text x="401.00" y="245.63" font-size="7" text-anchor="end" fill="#222" >100</text>
<line x1="404.60" y1="214.19" x2="407.60" y2="214.19" stroke="#222" stroke-width="0.8" />
<text x="401.00" y="217.09" font-size="7" text-anchor="end" fill="#222" >150</text>
<line x1="415.90" y1="299.80" x2="415.90" y2="302.80" stroke="#222" stroke-width="0.8" />
<line x1="429.00" y1="299.80" x2="429.00" y2="302.80" stroke="#222" stroke-width="0.8" />
<line x1="442.00" y1="299.80" x2="442.00" y2="302.80" stroke="#222" stroke-width="0.8" />
<line x1="455.20" y1="299.80" x2="455.20" y2="302.80" stroke="#222" stroke-width="0.8" />
<text x="415.90" y="312.50" font-size="6.5" text-anchor="middle" fill="#222" >–</text>
<text x="429.00" y="312.50" font-size="6.5" text-anchor="middle" fill="#222" >+</text>
<text x="442.00" y="312.50" font-size="6.5" text-anchor="middle" fill="#222" >–</text>
<text x="455.20" y="312.50" font-size="6.5" text-anchor="middle" fill="#222" >+</text>
<text x="386.50" y="311.30" font-size="6.5" text-anchor="start" fill="#222" >SCF:</text>
<path d="M415.40,231.80V227.60H428.80V231.80" fill="none" stroke="#222" stroke-width="0.95"/>
<text x="422.10" y="225.60" font-size="6.5" text-anchor="middle" fill="#222" >****</text>
<path d="M441.50,250.60V246.80H455.50V250.60" fill="none" stroke="#222" stroke-width="0.95"/>
<text x="448.50" y="244.80" font-size="6.5" text-anchor="middle" fill="#222" >***</text>
<path d="M428.30,216.60V211.30H455.50V216.60" fill="none" stroke="#222" stroke-width="0.95"/>
<text x="441.90" y="209.60" font-size="6.5" text-anchor="middle" fill="#222" >**</text>
<text transform="translate(382.50,255.60) rotate(-90)" font-size="6.4" text-anchor="middle" font-weight="bold" textLength="51.6" lengthAdjust="spacingAndGlyphs" fill="#222">pERK (%max MFI)</text>
<circle cx="475.9" cy="203.4" r="3.1" fill="#c8c6cb"/>
<circle cx="475.9" cy="211.7" r="3.1" fill="#8d84c3"/>
<text x="481.20" y="205.90" font-size="7" text-anchor="start" fill="#222" >sgControl</text>
<text x="481.20" y="214.20" font-size="7" text-anchor="start" fill="#222" >sg<tspan font-style="italic">SAMD1</tspan></text>
<text x="7.50" y="354.60" font-size="12" text-anchor="start" font-weight="bold" fill="#111" style="stroke:#111;stroke-width:0.45px">E</text>
<path d="M59.7,393.8h1.5M83.7,393.8h1.5M86.8,393.8h1.5M118.5,393.8h1.5M64.1,395.2h1.5M65.9,395.2h1.5M68.8,395.2h1.5M84.1,395.2h1.5M86.8,395.2h1.5M88.2,395.2h1.5M90.0,395.2h1.5M91.2,395.2h1.5M93.0,395.2h1.5M97.1,395.2h1.5M100.5,395.2h1.5M101.7,395.2h1.5M104.6,395.2h1.5M109.2,395.2h1.5M119.9,395.2h1.5M121.5,395.2h1.5M122.8,395.2h1.5M124.1,395.2h1.5M125.8,395.2h1.5M128.6,395.2h1.5M131.6,395.2h1.5M57.0,396.8h1.5M58.4,396.8h1.5M61.5,396.8h1.5M65.7,396.8h1.5M70.4,396.8h1.5M74.6,396.8h1.5M78.0,396.8h1.5M82.6,396.8h1.5M83.7,396.8h1.5M85.1,396.8h1.5M96.1,396.8h1.5M100.3,396.8h1.5M103.6,396.8h1.5M107.9,396.8h1.5M109.0,396.8h1.5M116.7,396.8h1.5M119.8,396.8h1.5M125.7,396.8h1.5M131.8,396.8h1.5M58.6,398.2h1.5M62.9,398.2h1.5M65.5,398.2h1.5M67.4,398.2h1.5M68.9,398.2h1.5M70.3,398.2h1.5M73.5,398.2h1.5M79.1,398.2h1.5M80.8,398.2h1.5M85.5,398.2h1.5M86.7,398.2h1.5M88.5,398.2h1.5M90.0,398.2h1.5M91.1,398.2h1.5M92.9,398.2h1.5M94.3,398.2h1.5M97.1,398.2h1.5M98.7,398.2h1.5M101.5,398.2h1.5M104.6,398.2h1.5M107.8,398.2h1.5M112.1,398.2h1.5M114.0,398.2h1.5M115.1,398.2h1.5M116.6,398.2h1.5M127.6,398.2h1.5M128.9,398.2h1.5M130.5,398.2h1.5M131.9,398.2h1.5M52.2,399.8h1.5M53.8,399.8h1.5M55.5,399.8h1.5M61.3,399.8h1.5M64.4,399.8h1.5M65.8,399.8h1.5M67.0,399.8h1.5M68.7,399.8h1.5M71.8,399.8h1.5M74.7,399.8h1.5M79.6,399.8h1.5M80.9,399.8h1.5M82.2,399.8h1.5M85.1,399.8h1.5M86.8,399.8h1.5M88.4,399.8h1.5M89.6,399.8h1.5M91.2,399.8h1.5M94.4,399.8h1.5M97.1,399.8h1.5M99.0,399.8h1.5M100.4,399.8h1.5M103.1,399.8h1.5M104.7,399.8h1.5M106.5,399.8h1.5M110.8,399.8h1.5M113.9,399.8h1.5M127.5,399.8h1.5M128.6,399.8h1.5M130.2,399.8h1.5M53.5,401.2h1.5M64.5,401.2h1.5M67.1,401.2h1.5M68.7,401.2h1.5M70.0,401.2h1.5M73.1,401.2h1.5M76.4,401.2h1.5M79.2,401.2h1.5M81.0,401.2h1.5M82.5,401.2h1.5M84.0,401.2h1.5M88.5,401.2h1.5M90.0,401.2h1.5M92.6,401.2h1.5M94.3,401.2h1.5M95.7,401.2h1.5M97.4,401.2h1.5M98.8,401.2h1.5M100.4,401.2h1.5M101.5,401.2h1.5M103.4,401.2h1.5M104.8,401.2h1.5M106.6,401.2h1.5M110.5,401.2h1.5M112.1,401.2h1.5M130.4,401.2h1.5M131.9,401.2h1.5M44.9,402.8h1.5M56.9,402.8h1.5M58.2,402.8h1.5M59.8,402.8h1.5M61.4,402.8h1.5M63.1,402.8h1.5M64.6,402.8h1.5M65.6,402.8h1.5M68.7,402.8h1.5M71.6,402.8h1.5M76.3,402.8h1.5M77.7,402.8h1.5M79.6,402.8h1.5M80.6,402.8h1.5M84.0,402.8h1.5M85.1,402.8h1.5M87.0,402.8h1.5M88.1,402.8h1.5M94.1,402.8h1.5M102.1,402.8h1.5M104.5,402.8h1.5M106.3,402.8h1.5M107.9,402.8h1.5M109.2,402.8h1.5M130.4,402.8h1.5M132.1,402.8h1.5M133.4,402.8h1.5M134.5,402.8h1.5M52.1,404.2h1.5M58.1,404.2h1.5M59.8,404.2h1.5M62.5,404.2h1.5M66.0,404.2h1.5M67.4,404.2h1.5M68.9,404.2h1.5M70.2,404.2h1.5M71.7,404.2h1.5M76.3,404.2h1.5M131.7,404.2h1.5M133.4,404.2h1.5M49.5,405.8h1.5M52.4,405.8h1.5M53.6,405.8h1.5M55.1,405.8h1.5M58.5,405.8h1.5M59.6,405.8h1.5M61.5,405.8h1.5M63.0,405.8h1.5M64.4,405.8h1.5M65.8,405.8h1.5M67.1,405.8h1.5M68.6,405.8h1.5M71.9,405.8h1.5M75.0,405.8h1.5M91.5,405.8h1.5M131.9,405.8h1.5M133.5,405.8h1.5M134.9,405.8h1.5M47.7,407.2h1.5M52.1,407.2h1.5M55.1,407.2h1.5M57.0,407.2h1.5M62.6,407.2h1.5M64.5,407.2h1.5M65.6,407.2h1.5M75.0,407.2h1.5M131.8,407.2h1.5M133.1,407.2h1.5M52.4,408.8h1.5M55.3,408.8h1.5M56.9,408.8h1.5M133.4,408.8h1.5M134.7,408.8h1.5M50.7,410.2h1.5M52.2,410.2h1.5M55.2,410.2h1.5M56.9,410.2h1.5M58.1,410.2h1.5M59.9,410.2h1.5M64.0,410.2h1.5M134.9,410.2h1.5M136.4,410.2h1.5M49.2,411.8h1.5M54.0,411.8h1.5M55.5,411.8h1.5M57.0,411.8h1.5M58.4,411.8h1.5M50.6,413.2h1.5M52.5,413.2h1.5M55.2,413.2h1.5M56.7,413.2h1.5M58.4,413.2h1.5M50.9,414.8h1.5M52.1,414.8h1.5M53.5,414.8h1.5M55.0,414.8h1.5M50.9,416.2h1.5M52.6,416.2h1.5M47.6,417.8h1.5M49.4,417.8h1.5M51.1,417.8h1.5M52.5,417.8h1.5M53.6,417.8h1.5M48.1,419.2h1.5M49.4,419.2h1.5M52.1,419.2h1.5M57.0,419.2h1.5M49.4,420.8h1.5M50.9,420.8h1.5M52.5,420.8h1.5M53.6,420.8h1.5M48.0,422.2h1.5M49.1,422.2h1.5M52.0,422.2h1.5M53.7,422.2h1.5M55.5,422.2h1.5M49.1,423.8h1.5M52.2,423.8h1.5M54.0,423.8h1.5M56.6,423.8h1.5M47.6,425.2h1.5M51.1,425.2h1.5M52.4,425.2h1.5M53.5,425.2h1.5M55.4,425.2h1.5M56.6,425.2h1.5M50.9,426.8h1.5M52.1,426.8h1.5M55.4,426.8h1.5M58.4,426.8h1.5M137.9,426.8h1.5M50.6,428.2h1.5M55.2,428.2h1.5M56.8,428.2h1.5M58.4,428.2h1.5M46.1,429.8h1.5M49.2,429.8h1.5M50.8,429.8h1.5M52.2,429.8h1.5M53.8,429.8h1.5M56.6,429.8h1.5M58.2,429.8h1.5M59.9,429.8h1.5M65.5,429.8h1.5M70.5,429.8h1.5M50.7,431.2h1.5M52.5,431.2h1.5M55.2,431.2h1.5M56.7,431.2h1.5M58.0,431.2h1.5M59.8,431.2h1.5M61.3,431.2h1.5M62.7,431.2h1.5M65.9,431.2h1.5M133.5,431.2h1.5M134.8,431.2h1.5M136.2,431.2h1.5M52.6,432.8h1.5M55.4,432.8h1.5M58.1,432.8h1.5M59.7,432.8h1.5M61.2,432.8h1.5M62.8,432.8h1.5M64.3,432.8h1.5M65.7,432.8h1.5M67.5,432.8h1.5M71.9,432.8h1.5M134.9,432.8h1.5M58.3,434.2h1.5M59.7,434.2h1.5M61.1,434.2h1.5M62.6,434.2h1.5M130.0,434.2h1.5M131.8,434.2h1.5M133.2,434.2h1.5M62.9,435.8h1.5M70.3,435.8h1.5M71.7,435.8h1.5M73.5,435.8h1.5M76.2,435.8h1.5M80.7,435.8h1.5M130.3,435.8h1.5M132.1,435.8h1.5M134.5,435.8h1.5M55.0,437.2h1.5M59.6,437.2h1.5M61.2,437.2h1.5M63.0,437.2h1.5M65.7,437.2h1.5M67.1,437.2h1.5M68.8,437.2h1.5M71.5,437.2h1.5M73.5,437.2h1.5M74.9,437.2h1.5M76.0,437.2h1.5M77.9,437.2h1.5M80.9,437.2h1.5M82.4,437.2h1.5M127.6,437.2h1.5M128.7,437.2h1.5M130.1,437.2h1.5M131.7,437.2h1.5M64.1,438.8h1.5M65.6,438.8h1.5M67.4,438.8h1.5M68.9,438.8h1.5M71.7,438.8h1.5M77.7,438.8h1.5M79.5,438.8h1.5M80.6,438.8h1.5M83.6,438.8h1.5M122.7,438.8h1.5M124.6,438.8h1.5M125.9,438.8h1.5M127.5,438.8h1.5M131.6,438.8h1.5M136.2,438.8h1.5M52.3,440.2h1.5M57.0,440.2h1.5M61.4,440.2h1.5M64.5,440.2h1.5M65.6,440.2h1.5M68.9,440.2h1.5M70.5,440.2h1.5M71.7,440.2h1.5M79.4,440.2h1.5M83.5,440.2h1.5M85.3,440.2h1.5M87.1,440.2h1.5M119.7,440.2h1.5M121.2,440.2h1.5M122.9,440.2h1.5M124.2,440.2h1.5M129.0,440.2h1.5M130.2,440.2h1.5M61.6,441.8h1.5M67.1,441.8h1.5M68.6,441.8h1.5M70.5,441.8h1.5M73.5,441.8h1.5M76.2,441.8h1.5M80.7,441.8h1.5M83.7,441.8h1.5M85.5,441.8h1.5M88.6,441.8h1.5M89.6,441.8h1.5M91.2,441.8h1.5M118.6,441.8h1.5M120.1,441.8h1.5M122.6,441.8h1.5M124.3,441.8h1.5M125.5,441.8h1.5M75.0,443.2h1.5M81.0,443.2h1.5M86.8,443.2h1.5M88.0,443.2h1.5M89.9,443.2h1.5M94.2,443.2h1.5M97.2,443.2h1.5M119.8,443.2h1.5" stroke="rgb(26, 38, 150)" stroke-width="1.5" fill="none" clip-path="url(#ce1)"/>
<path d="M118.0,396.8h1.5M121.3,396.8h1.5M122.6,396.8h1.5M124.3,396.8h1.5M118.5,398.2h1.5M115.5,399.8h1.5M117.1,399.8h1.5M118.4,399.8h1.5M122.9,399.8h1.5M126.1,399.8h1.5M108.0,401.2h1.5M113.8,401.2h1.5M128.8,401.2h1.5M70.5,402.8h1.5M74.6,402.8h1.5M82.5,402.8h1.5M91.2,402.8h1.5M93.1,402.8h1.5M95.6,402.8h1.5M99.1,402.8h1.5M103.3,402.8h1.5M111.0,402.8h1.5M112.6,402.8h1.5M114.0,402.8h1.5M73.4,404.2h1.5M75.1,404.2h1.5M77.5,404.2h1.5M80.7,404.2h1.5M82.2,404.2h1.5M83.7,404.2h1.5M85.3,404.2h1.5M88.4,404.2h1.5M89.8,404.2h1.5M93.0,404.2h1.5M94.5,404.2h1.5M95.5,404.2h1.5M97.1,404.2h1.5M99.0,404.2h1.5M100.3,404.2h1.5M101.7,404.2h1.5M103.6,404.2h1.5M104.8,404.2h1.5M106.5,404.2h1.5M112.1,404.2h1.5M114.0,404.2h1.5M128.7,404.2h1.5M130.4,404.2h1.5M73.3,405.8h1.5M76.5,405.8h1.5M79.0,405.8h1.5M81.0,405.8h1.5M82.6,405.8h1.5M86.8,405.8h1.5M95.9,405.8h1.5M97.2,405.8h1.5M99.1,405.8h1.5M101.8,405.8h1.5M106.1,405.8h1.5M108.0,405.8h1.5M130.5,405.8h1.5M61.4,407.2h1.5M67.3,407.2h1.5M70.3,407.2h1.5M71.8,407.2h1.5M73.5,407.2h1.5M76.0,407.2h1.5M77.7,407.2h1.5M88.5,407.2h1.5M91.1,407.2h1.5M98.5,407.2h1.5M102.1,407.2h1.5M103.3,407.2h1.5M63.0,408.8h1.5M64.2,408.8h1.5M67.1,408.8h1.5M70.5,408.8h1.5M73.1,408.8h1.5M76.5,408.8h1.5M80.6,408.8h1.5M82.2,408.8h1.5M89.9,408.8h1.5M131.5,408.8h1.5M61.6,410.2h1.5M67.2,410.2h1.5M70.4,410.2h1.5M86.6,410.2h1.5M131.9,410.2h1.5M133.2,410.2h1.5M59.6,411.8h1.5M61.3,411.8h1.5M63.0,411.8h1.5M64.5,411.8h1.5M60.1,413.2h1.5M61.4,413.2h1.5M65.9,413.2h1.5M133.2,413.2h1.5M134.7,413.2h1.5M56.9,414.8h1.5M58.4,414.8h1.5M59.7,414.8h1.5M61.2,414.8h1.5M134.6,414.8h1.5M57.0,416.2h1.5M58.3,416.2h1.5M60.0,416.2h1.5M61.1,416.2h1.5M64.5,416.2h1.5M138.0,416.2h1.5M56.5,417.8h1.5M59.7,417.8h1.5M62.7,417.8h1.5M64.1,417.8h1.5M53.7,419.2h1.5M55.4,419.2h1.5M58.6,419.2h1.5M59.9,419.2h1.5M63.0,419.2h1.5M64.1,419.2h1.5M56.6,420.8h1.5M58.5,420.8h1.5M59.5,420.8h1.5M56.9,422.2h1.5M58.3,422.2h1.5M64.4,422.2h1.5M55.4,423.8h1.5M58.3,423.8h1.5M60.1,423.8h1.5M62.8,423.8h1.5M64.2,423.8h1.5M136.2,423.8h1.5M58.1,425.2h1.5M59.5,425.2h1.5M64.3,425.2h1.5M134.9,425.2h1.5M59.9,426.8h1.5M61.5,426.8h1.5M64.3,426.8h1.5M66.1,426.8h1.5M134.9,426.8h1.5M61.3,428.2h1.5M62.7,428.2h1.5M68.7,428.2h1.5M134.6,428.2h1.5M63.0,429.8h1.5M64.4,429.8h1.5M67.1,429.8h1.5M68.7,429.8h1.5M71.7,429.8h1.5M73.3,429.8h1.5M76.5,429.8h1.5M133.1,429.8h1.5M134.5,429.8h1.5M64.4,431.2h1.5M67.5,431.2h1.5M68.8,431.2h1.5M70.0,431.2h1.5M71.7,431.2h1.5M73.0,431.2h1.5M76.4,431.2h1.5M78.0,432.8h1.5M79.5,432.8h1.5M128.8,432.8h1.5M130.2,432.8h1.5M132.1,432.8h1.5M73.3,434.2h1.5M76.5,434.2h1.5M78.0,434.2h1.5M80.7,434.2h1.5M85.4,434.2h1.5M79.0,435.8h1.5M82.2,435.8h1.5M83.9,435.8h1.5M125.9,435.8h1.5M127.2,435.8h1.5M128.6,435.8h1.5M83.9,437.2h1.5M124.0,437.2h1.5M82.3,438.8h1.5M86.7,438.8h1.5M88.1,438.8h1.5M89.6,438.8h1.5M116.5,438.8h1.5M121.6,438.8h1.5M88.3,440.2h1.5M89.8,440.2h1.5M92.6,440.2h1.5M114.0,440.2h1.5M115.5,440.2h1.5M116.5,440.2h1.5M118.3,440.2h1.5M100.1,441.8h1.5M106.6,441.8h1.5M113.9,441.8h1.5M115.1,441.8h1.5" stroke="rgb(30, 60, 190)" stroke-width="1.5" fill="none" clip-path="url(#ce1)"/>
<path d="M119.7,398.2h1.5M121.6,398.2h1.5M124.2,398.2h1.5M121.1,399.8h1.5M124.4,399.8h1.5M115.1,401.2h1.5M116.8,401.2h1.5M119.6,401.2h1.5M125.5,401.2h1.5M127.0,401.2h1.5M116.5,402.8h1.5M118.4,402.8h1.5M127.4,402.8h1.5M127.5,404.2h1.5M78.0,405.8h1.5M83.6,405.8h1.5M88.1,405.8h1.5M100.5,405.8h1.5M105.0,405.8h1.5M110.5,405.8h1.5M112.4,405.8h1.5M127.3,405.8h1.5M128.6,405.8h1.5M69.1,407.2h1.5M79.0,407.2h1.5M80.7,407.2h1.5M82.2,407.2h1.5M90.0,407.2h1.5M93.1,407.2h1.5M94.3,407.2h1.5M104.6,407.2h1.5M106.0,407.2h1.5M68.8,408.8h1.5M71.7,408.8h1.5M74.8,408.8h1.5M77.8,408.8h1.5M86.6,408.8h1.5M88.2,408.8h1.5M92.5,408.8h1.5M98.9,408.8h1.5M68.7,410.2h1.5M73.6,410.2h1.5M74.7,410.2h1.5M130.5,410.2h1.5M66.0,411.8h1.5M68.6,411.8h1.5M71.9,411.8h1.5M77.6,411.8h1.5M79.4,411.8h1.5M133.5,411.8h1.5M62.5,413.2h1.5M64.0,413.2h1.5M69.0,413.2h1.5M71.7,413.2h1.5M85.3,413.2h1.5M131.8,413.2h1.5M62.7,414.8h1.5M65.8,414.8h1.5M67.5,414.8h1.5M71.9,414.8h1.5M76.5,414.8h1.5M62.8,416.2h1.5M66.1,416.2h1.5M68.6,416.2h1.5M134.7,416.2h1.5M61.1,417.8h1.5M67.5,417.8h1.5M70.4,417.8h1.5M65.7,419.2h1.5M68.7,419.2h1.5M133.5,419.2h1.5M61.0,420.8h1.5M62.8,420.8h1.5M134.9,420.8h1.5M60.0,422.2h1.5M61.4,422.2h1.5M63.0,422.2h1.5M67.3,422.2h1.5M70.2,422.2h1.5M61.5,423.8h1.5M67.1,425.2h1.5M70.1,425.2h1.5M67.4,426.8h1.5M70.3,426.8h1.5M72.1,426.8h1.5M74.8,426.8h1.5M67.2,428.2h1.5M70.4,428.2h1.5M71.5,428.2h1.5M73.1,428.2h1.5M76.3,428.2h1.5M79.5,428.2h1.5M133.0,428.2h1.5M78.1,429.8h1.5M79.1,429.8h1.5M131.8,429.8h1.5M77.9,431.2h1.5M79.2,431.2h1.5M82.3,431.2h1.5M130.3,431.2h1.5M76.6,432.8h1.5M80.8,432.8h1.5M83.7,432.8h1.5M79.1,434.2h1.5M82.3,434.2h1.5M83.6,434.2h1.5M85.1,435.8h1.5M124.6,435.8h1.5M86.6,437.2h1.5M122.6,437.2h1.5M91.3,438.8h1.5M91.1,440.2h1.5M104.8,440.2h1.5M110.6,440.2h1.5M97.1,441.8h1.5M98.8,441.8h1.5M102.1,441.8h1.5M104.7,441.8h1.5M107.8,441.8h1.5M109.2,441.8h1.5" stroke="rgb(40, 100, 220)" stroke-width="1.5" fill="none" clip-path="url(#ce1)"/>
<path d="M122.5,398.2h1.5M118.5,401.2h1.5M121.5,401.2h1.5M124.4,401.2h1.5M125.8,402.8h1.5M115.4,404.2h1.5M109.5,405.8h1.5M85.1,407.2h1.5M86.5,407.2h1.5M109.5,407.2h1.5M128.7,407.2h1.5M79.2,408.8h1.5M85.5,408.8h1.5M94.5,408.8h1.5M97.3,408.8h1.5M101.8,408.8h1.5M110.7,408.8h1.5M130.5,408.8h1.5M76.4,410.2h1.5M77.8,410.2h1.5M79.3,410.2h1.5M81.0,410.2h1.5M82.3,410.2h1.5M83.5,410.2h1.5M85.1,410.2h1.5M88.2,410.2h1.5M89.7,410.2h1.5M94.3,410.2h1.5M97.3,410.2h1.5M70.3,411.8h1.5M74.8,411.8h1.5M76.5,411.8h1.5M80.8,411.8h1.5M82.4,411.8h1.5M97.4,411.8h1.5M67.1,413.2h1.5M73.4,413.2h1.5M74.8,413.2h1.5M76.6,413.2h1.5M78.0,413.2h1.5M82.3,413.2h1.5M86.9,413.2h1.5M64.3,414.8h1.5M68.8,414.8h1.5M73.1,414.8h1.5M74.8,414.8h1.5M78.0,414.8h1.5M67.2,416.2h1.5M77.7,416.2h1.5M65.9,417.8h1.5M68.7,417.8h1.5M75.0,417.8h1.5M76.0,417.8h1.5M134.5,417.8h1.5M67.2,419.2h1.5M71.8,419.2h1.5M64.4,420.8h1.5M65.9,420.8h1.5M67.5,420.8h1.5M68.9,420.8h1.5M70.5,420.8h1.5M71.9,420.8h1.5M79.3,420.8h1.5M76.5,422.2h1.5M65.6,423.8h1.5M67.3,423.8h1.5M70.4,423.8h1.5M71.6,423.8h1.5M73.4,423.8h1.5M76.6,423.8h1.5M82.2,423.8h1.5M62.7,425.2h1.5M65.8,425.2h1.5M73.0,425.2h1.5M74.6,425.2h1.5M77.7,425.2h1.5M79.4,425.2h1.5M68.9,426.8h1.5M73.3,426.8h1.5M76.4,426.8h1.5M77.9,426.8h1.5M82.5,426.8h1.5M85.0,426.8h1.5M132.1,426.8h1.5M133.2,426.8h1.5M74.8,428.2h1.5M78.1,428.2h1.5M131.9,428.2h1.5M82.6,429.8h1.5M81.1,431.2h1.5M127.4,431.2h1.5M128.8,431.2h1.5M82.2,432.8h1.5M87.0,434.2h1.5M126.0,434.2h1.5M122.6,435.8h1.5M88.0,437.2h1.5M120.1,437.2h1.5M93.0,438.8h1.5M97.6,440.2h1.5M101.6,440.2h1.5M103.6,440.2h1.5M106.5,440.2h1.5M112.1,440.2h1.5M103.1,441.8h1.5" stroke="rgb(60, 150, 230)" stroke-width="1.5" fill="none" clip-path="url(#ce1)"/>
<path d="M122.6,401.2h1.5M115.6,402.8h1.5M124.4,402.8h1.5M117.1,404.2h1.5M125.7,404.2h1.5M113.9,405.8h1.5M115.6,405.8h1.5M116.8,405.8h1.5M125.9,405.8h1.5M97.1,407.2h1.5M110.9,407.2h1.5M114.1,407.2h1.5M127.5,407.2h1.5M84.0,408.8h1.5M91.5,408.8h1.5M95.7,408.8h1.5M100.2,408.8h1.5M103.3,408.8h1.5M104.7,408.8h1.5M109.4,408.8h1.5M127.2,408.8h1.5M92.6,410.2h1.5M96.0,410.2h1.5M99.0,410.2h1.5M101.9,410.2h1.5M84.1,411.8h1.5M85.1,411.8h1.5M87.0,411.8h1.5M88.4,411.8h1.5M91.4,411.8h1.5M130.5,411.8h1.5M131.8,411.8h1.5M79.4,413.2h1.5M80.6,413.2h1.5M83.6,413.2h1.5M130.1,413.2h1.5M70.6,414.8h1.5M79.5,414.8h1.5M80.6,414.8h1.5M85.0,414.8h1.5M132.1,414.8h1.5M70.3,416.2h1.5M72.0,416.2h1.5M73.3,416.2h1.5M76.2,416.2h1.5M71.7,417.8h1.5M77.6,417.8h1.5M82.1,417.8h1.5M84.0,417.8h1.5M85.5,417.8h1.5M76.4,419.2h1.5M77.9,419.2h1.5M79.3,419.2h1.5M82.1,419.2h1.5M86.7,419.2h1.5M73.2,420.8h1.5M75.1,420.8h1.5M76.5,420.8h1.5M131.5,420.8h1.5M65.6,422.2h1.5M69.0,422.2h1.5M73.1,422.2h1.5M74.6,422.2h1.5M78.1,422.2h1.5M79.4,422.2h1.5M82.5,422.2h1.5M86.7,422.2h1.5M133.2,422.2h1.5M74.9,423.8h1.5M77.8,423.8h1.5M80.6,423.8h1.5M133.6,423.8h1.5M71.6,425.2h1.5M76.1,425.2h1.5M86.7,425.2h1.5M132.0,425.2h1.5M133.4,425.2h1.5M80.9,426.8h1.5M83.6,426.8h1.5M80.6,428.2h1.5M84.0,428.2h1.5M130.6,428.2h1.5M80.9,429.8h1.5M84.0,429.8h1.5M85.6,429.8h1.5M86.5,429.8h1.5M129.0,429.8h1.5M130.3,429.8h1.5M83.5,431.2h1.5M85.5,432.8h1.5M87.0,432.8h1.5M88.3,432.8h1.5M126.0,432.8h1.5M89.9,434.2h1.5M87.0,435.8h1.5M88.1,435.8h1.5M121.0,435.8h1.5M91.4,437.2h1.5M106.1,438.8h1.5M113.9,438.8h1.5M115.2,438.8h1.5M98.7,440.2h1.5M108.0,440.2h1.5M109.1,440.2h1.5" stroke="rgb(70, 195, 215)" stroke-width="1.5" fill="none" clip-path="url(#ce1)"/>
<path d="M119.7,402.8h1.5M121.4,402.8h1.5M123.1,402.8h1.5M119.5,404.2h1.5M121.2,404.2h1.5M123.0,404.2h1.5M124.5,404.2h1.5M119.5,405.8h1.5M121.5,405.8h1.5M122.6,405.8h1.5M112.0,407.2h1.5M115.1,407.2h1.5M116.7,407.2h1.5M125.6,407.2h1.5M106.6,408.8h1.5M112.4,408.8h1.5M113.7,408.8h1.5M117.0,408.8h1.5M124.5,408.8h1.5M125.6,408.8h1.5M91.3,410.2h1.5M100.6,410.2h1.5M104.6,410.2h1.5M107.7,410.2h1.5M110.8,410.2h1.5M128.9,410.2h1.5M89.9,411.8h1.5M94.5,411.8h1.5M98.9,411.8h1.5M100.2,411.8h1.5M103.1,411.8h1.5M108.0,411.8h1.5M129.1,411.8h1.5M88.1,413.2h1.5M91.6,413.2h1.5M92.6,413.2h1.5M94.1,413.2h1.5M96.0,413.2h1.5M97.2,413.2h1.5M82.4,414.8h1.5M83.7,414.8h1.5M87.1,414.8h1.5M91.3,414.8h1.5M94.1,414.8h1.5M130.3,414.8h1.5M75.0,416.2h1.5M79.4,416.2h1.5M80.7,416.2h1.5M82.1,416.2h1.5M83.6,416.2h1.5M86.7,416.2h1.5M88.0,416.2h1.5M91.4,416.2h1.5M95.9,416.2h1.5M130.5,416.2h1.5M132.0,416.2h1.5M73.3,417.8h1.5M79.3,417.8h1.5M88.2,417.8h1.5M89.8,417.8h1.5M131.7,417.8h1.5M133.3,417.8h1.5M70.1,419.2h1.5M73.4,419.2h1.5M74.9,419.2h1.5M81.0,419.2h1.5M77.9,420.8h1.5M82.1,420.8h1.5M83.6,420.8h1.5M85.5,420.8h1.5M88.0,420.8h1.5M92.6,420.8h1.5M71.8,422.2h1.5M80.6,422.2h1.5M83.9,422.2h1.5M85.1,422.2h1.5M91.2,422.2h1.5M132.0,422.2h1.5M79.2,423.8h1.5M83.7,423.8h1.5M85.4,423.8h1.5M86.6,423.8h1.5M130.1,423.8h1.5M131.8,423.8h1.5M80.6,425.2h1.5M82.6,425.2h1.5M83.9,425.2h1.5M85.4,425.2h1.5M129.0,425.2h1.5M88.3,426.8h1.5M130.5,426.8h1.5M82.1,428.2h1.5M86.6,428.2h1.5M88.3,429.8h1.5M127.3,429.8h1.5M85.0,431.2h1.5M86.9,431.2h1.5M88.4,431.2h1.5M127.4,432.8h1.5M88.3,434.2h1.5M91.4,434.2h1.5M122.6,434.2h1.5M124.2,434.2h1.5M89.5,435.8h1.5M117.0,435.8h1.5M120.1,435.8h1.5M107.7,437.2h1.5M109.1,437.2h1.5M113.8,437.2h1.5M116.7,437.2h1.5M94.3,438.8h1.5M95.8,438.8h1.5M97.4,438.8h1.5M100.3,438.8h1.5M101.7,438.8h1.5M103.2,438.8h1.5M104.7,438.8h1.5M108.0,438.8h1.5M109.2,438.8h1.5M112.5,438.8h1.5" stroke="rgb(80, 200, 120)" stroke-width="1.5" fill="none" clip-path="url(#ce1)"/>
<path d="M118.0,404.2h1.5M118.0,405.8h1.5M124.3,405.8h1.5M118.3,407.2h1.5M120.0,407.2h1.5M121.5,407.2h1.5M122.9,407.2h1.5M124.2,407.2h1.5M115.1,408.8h1.5M120.0,408.8h1.5M121.3,408.8h1.5M122.8,408.8h1.5M103.5,410.2h1.5M106.1,410.2h1.5M109.6,410.2h1.5M113.5,410.2h1.5M125.6,410.2h1.5M127.3,410.2h1.5M101.6,411.8h1.5M105.1,411.8h1.5M106.2,411.8h1.5M110.6,411.8h1.5M116.7,411.8h1.5M127.1,411.8h1.5M89.7,413.2h1.5M99.1,413.2h1.5M100.3,413.2h1.5M101.6,413.2h1.5M103.1,413.2h1.5M104.8,413.2h1.5M127.1,413.2h1.5M88.2,414.8h1.5M89.6,414.8h1.5M92.8,414.8h1.5M95.9,414.8h1.5M97.5,414.8h1.5M98.8,414.8h1.5M100.2,414.8h1.5M101.6,414.8h1.5M104.8,414.8h1.5M90.1,416.2h1.5M93.0,416.2h1.5M94.5,416.2h1.5M97.5,416.2h1.5M98.6,416.2h1.5M128.5,416.2h1.5M80.8,417.8h1.5M86.6,417.8h1.5M91.1,417.8h1.5M92.6,417.8h1.5M94.5,417.8h1.5M95.6,417.8h1.5M97.2,417.8h1.5M130.4,417.8h1.5M83.9,419.2h1.5M85.0,419.2h1.5M88.3,419.2h1.5M90.1,419.2h1.5M91.2,419.2h1.5M92.7,419.2h1.5M94.3,419.2h1.5M130.4,419.2h1.5M131.9,419.2h1.5M80.8,420.8h1.5M86.6,420.8h1.5M89.9,420.8h1.5M91.4,420.8h1.5M130.5,420.8h1.5M88.0,422.2h1.5M89.7,422.2h1.5M130.3,422.2h1.5M88.5,423.8h1.5M89.6,423.8h1.5M91.2,423.8h1.5M94.1,423.8h1.5M88.2,425.2h1.5M89.6,425.2h1.5M91.5,425.2h1.5M92.7,425.2h1.5M130.3,425.2h1.5M86.7,426.8h1.5M89.7,426.8h1.5M127.5,426.8h1.5M128.7,426.8h1.5M88.1,428.2h1.5M89.6,428.2h1.5M91.5,428.2h1.5M93.0,428.2h1.5M128.8,428.2h1.5M90.0,429.8h1.5M92.8,429.8h1.5M125.9,429.8h1.5M89.9,431.2h1.5M91.4,431.2h1.5M93.1,431.2h1.5M124.2,431.2h1.5M125.6,431.2h1.5M89.7,432.8h1.5M123.0,432.8h1.5M124.5,432.8h1.5M92.6,434.2h1.5M119.7,434.2h1.5M121.1,434.2h1.5M91.5,435.8h1.5M92.7,435.8h1.5M113.7,435.8h1.5M115.3,435.8h1.5M118.0,435.8h1.5M92.6,437.2h1.5M94.5,437.2h1.5M95.5,437.2h1.5M97.2,437.2h1.5M98.8,437.2h1.5M100.2,437.2h1.5M103.4,437.2h1.5M111.0,437.2h1.5M112.5,437.2h1.5M115.2,437.2h1.5M98.7,438.8h1.5M111.0,438.8h1.5" stroke="rgb(110, 205, 60)" stroke-width="1.5" fill="none" clip-path="url(#ce1)"/>
<path d="M118.1,408.8h1.5M112.4,410.2h1.5M115.2,410.2h1.5M117.0,410.2h1.5M118.4,410.2h1.5M121.3,410.2h1.5M123.1,410.2h1.5M124.3,410.2h1.5M109.5,411.8h1.5M112.0,411.8h1.5M114.0,411.8h1.5M115.5,411.8h1.5M118.4,411.8h1.5M119.8,411.8h1.5M122.7,411.8h1.5M124.3,411.8h1.5M125.5,411.8h1.5M106.2,413.2h1.5M107.6,413.2h1.5M109.3,413.2h1.5M110.9,413.2h1.5M112.5,413.2h1.5M125.6,413.2h1.5M103.5,414.8h1.5M106.4,414.8h1.5M107.7,414.8h1.5M126.1,414.8h1.5M127.6,414.8h1.5M128.6,414.8h1.5M100.4,416.2h1.5M101.7,416.2h1.5M103.4,416.2h1.5M104.8,416.2h1.5M106.2,416.2h1.5M98.9,417.8h1.5M102.0,417.8h1.5M129.0,417.8h1.5M96.1,419.2h1.5M97.1,419.2h1.5M99.1,419.2h1.5M100.5,419.2h1.5M129.0,419.2h1.5M94.2,420.8h1.5M96.0,420.8h1.5M97.5,420.8h1.5M92.5,422.2h1.5M94.5,422.2h1.5M95.9,422.2h1.5M97.4,422.2h1.5M98.9,422.2h1.5M127.3,422.2h1.5M129.1,422.2h1.5M92.6,423.8h1.5M95.8,423.8h1.5M97.1,423.8h1.5M127.0,423.8h1.5M128.7,423.8h1.5M94.5,425.2h1.5M97.3,425.2h1.5M127.0,425.2h1.5M91.3,426.8h1.5M92.9,426.8h1.5M94.5,426.8h1.5M95.7,426.8h1.5M94.5,428.2h1.5M95.6,428.2h1.5M97.4,428.2h1.5M125.7,428.2h1.5M127.3,428.2h1.5M91.2,429.8h1.5M94.6,429.8h1.5M96.0,429.8h1.5M124.0,429.8h1.5M94.1,431.2h1.5M95.9,431.2h1.5M121.1,431.2h1.5M123.0,431.2h1.5M91.4,432.8h1.5M92.9,432.8h1.5M95.7,432.8h1.5M97.3,432.8h1.5M119.9,432.8h1.5M121.4,432.8h1.5M94.4,434.2h1.5M95.9,434.2h1.5M97.2,434.2h1.5M100.3,434.2h1.5M112.2,434.2h1.5M115.2,434.2h1.5M117.0,434.2h1.5M118.3,434.2h1.5M94.4,435.8h1.5M95.5,435.8h1.5M97.6,435.8h1.5M100.1,435.8h1.5M101.9,435.8h1.5M103.4,435.8h1.5M105.0,435.8h1.5M107.5,435.8h1.5M109.2,435.8h1.5M110.6,435.8h1.5M112.5,435.8h1.5M102.1,437.2h1.5M104.8,437.2h1.5M106.4,437.2h1.5" stroke="rgb(180, 220, 40)" stroke-width="1.5" fill="none" clip-path="url(#ce1)"/>
<path d="M119.6,410.2h1.5M121.0,411.8h1.5M113.7,413.2h1.5M115.4,413.2h1.5M117.0,413.2h1.5M118.3,413.2h1.5M119.8,413.2h1.5M121.1,413.2h1.5M122.8,413.2h1.5M124.3,413.2h1.5M109.2,414.8h1.5M110.8,414.8h1.5M115.5,414.8h1.5M122.9,414.8h1.5M124.6,414.8h1.5M107.9,416.2h1.5M110.6,416.2h1.5M125.7,416.2h1.5M127.2,416.2h1.5M100.5,417.8h1.5M103.4,417.8h1.5M104.8,417.8h1.5M106.3,417.8h1.5M124.3,417.8h1.5M125.7,417.8h1.5M127.0,417.8h1.5M101.7,419.2h1.5M103.3,419.2h1.5M104.6,419.2h1.5M106.4,419.2h1.5M125.7,419.2h1.5M127.2,419.2h1.5M98.6,420.8h1.5M100.1,420.8h1.5M101.7,420.8h1.5M103.3,420.8h1.5M104.9,420.8h1.5M125.8,420.8h1.5M127.5,420.8h1.5M128.8,420.8h1.5M100.6,422.2h1.5M101.8,422.2h1.5M103.3,422.2h1.5M105.1,422.2h1.5M125.8,422.2h1.5M99.1,423.8h1.5M100.1,423.8h1.5M95.6,425.2h1.5M99.1,425.2h1.5M100.5,425.2h1.5M104.9,425.2h1.5M126.1,425.2h1.5M97.4,426.8h1.5M100.2,426.8h1.5M103.5,426.8h1.5M122.8,426.8h1.5M124.2,426.8h1.5M126.0,426.8h1.5M98.8,428.2h1.5M124.5,428.2h1.5M97.3,429.8h1.5M99.0,429.8h1.5M118.5,429.8h1.5M123.0,429.8h1.5M97.2,431.2h1.5M99.0,431.2h1.5M100.1,431.2h1.5M101.9,431.2h1.5M118.4,431.2h1.5M119.8,431.2h1.5M94.5,432.8h1.5M99.0,432.8h1.5M100.5,432.8h1.5M105.0,432.8h1.5M110.8,432.8h1.5M113.5,432.8h1.5M115.5,432.8h1.5M116.8,432.8h1.5M118.4,432.8h1.5M98.6,434.2h1.5M101.5,434.2h1.5M103.1,434.2h1.5M106.4,434.2h1.5M107.9,434.2h1.5M109.5,434.2h1.5M110.6,434.2h1.5M113.7,434.2h1.5M99.1,435.8h1.5M106.6,435.8h1.5" stroke="rgb(245, 225, 30)" stroke-width="1.5" fill="none" clip-path="url(#ce1)"/>
<path d="M112.1,414.8h1.5M114.0,414.8h1.5M116.7,414.8h1.5M118.1,414.8h1.5M119.8,414.8h1.5M121.1,414.8h1.5M109.4,416.2h1.5M122.5,416.2h1.5M124.4,416.2h1.5M107.9,417.8h1.5M109.6,417.8h1.5M110.8,417.8h1.5M114.0,417.8h1.5M108.1,419.2h1.5M109.3,419.2h1.5M124.3,419.2h1.5M106.3,420.8h1.5M108.0,420.8h1.5M123.0,420.8h1.5M124.4,420.8h1.5M106.3,422.2h1.5M108.0,422.2h1.5M124.3,422.2h1.5M101.6,423.8h1.5M103.3,423.8h1.5M104.7,423.8h1.5M106.0,423.8h1.5M122.8,423.8h1.5M124.3,423.8h1.5M125.5,423.8h1.5M101.8,425.2h1.5M103.3,425.2h1.5M106.6,425.2h1.5M107.8,425.2h1.5M121.2,425.2h1.5M122.6,425.2h1.5M124.5,425.2h1.5M98.7,426.8h1.5M101.6,426.8h1.5M104.8,426.8h1.5M106.2,426.8h1.5M107.7,426.8h1.5M119.6,426.8h1.5M121.3,426.8h1.5M100.0,428.2h1.5M101.6,428.2h1.5M103.1,428.2h1.5M105.1,428.2h1.5M106.5,428.2h1.5M107.9,428.2h1.5M111.1,428.2h1.5M121.6,428.2h1.5M122.8,428.2h1.5M100.4,429.8h1.5M102.1,429.8h1.5M103.6,429.8h1.5M106.3,429.8h1.5M119.9,429.8h1.5M121.3,429.8h1.5M103.6,431.2h1.5M104.5,431.2h1.5M106.1,431.2h1.5M107.6,431.2h1.5M109.4,431.2h1.5M110.9,431.2h1.5M113.9,431.2h1.5M115.0,431.2h1.5M117.0,431.2h1.5M101.8,432.8h1.5M103.6,432.8h1.5M106.0,432.8h1.5M107.6,432.8h1.5M109.2,432.8h1.5M112.3,432.8h1.5M105.0,434.2h1.5" stroke="rgb(250, 165, 25)" stroke-width="1.5" fill="none" clip-path="url(#ce1)"/>
<path d="M112.6,416.2h1.5M113.8,416.2h1.5M115.5,416.2h1.5M116.7,416.2h1.5M118.1,416.2h1.5M119.7,416.2h1.5M121.0,416.2h1.5M112.4,417.8h1.5M116.6,417.8h1.5M118.3,417.8h1.5M120.0,417.8h1.5M121.1,417.8h1.5M122.5,417.8h1.5M111.1,419.2h1.5M112.1,419.2h1.5M113.5,419.2h1.5M121.6,419.2h1.5M122.6,419.2h1.5M109.1,420.8h1.5M112.3,420.8h1.5M113.7,420.8h1.5M119.8,420.8h1.5M109.5,422.2h1.5M110.9,422.2h1.5M113.8,422.2h1.5M118.2,422.2h1.5M122.9,422.2h1.5M108.0,423.8h1.5M110.9,423.8h1.5M121.4,423.8h1.5M110.9,425.2h1.5M118.4,426.8h1.5M109.4,428.2h1.5M113.9,428.2h1.5M116.8,428.2h1.5M118.3,428.2h1.5M119.7,428.2h1.5M105.0,429.8h1.5M107.5,429.8h1.5M109.0,429.8h1.5M112.6,429.8h1.5M113.7,429.8h1.5M115.5,429.8h1.5M117.1,429.8h1.5M112.3,431.2h1.5" stroke="rgb(245, 90, 20)" stroke-width="1.5" fill="none" clip-path="url(#ce1)"/>
<path d="M115.2,417.8h1.5M115.0,419.2h1.5M116.9,419.2h1.5M118.2,419.2h1.5M120.0,419.2h1.5M110.7,420.8h1.5M115.3,420.8h1.5M116.9,420.8h1.5M118.3,420.8h1.5M121.1,420.8h1.5M112.1,422.2h1.5M115.6,422.2h1.5M116.8,422.2h1.5M119.6,422.2h1.5M121.5,422.2h1.5M109.4,423.8h1.5M112.0,423.8h1.5M113.6,423.8h1.5M115.6,423.8h1.5M117.0,423.8h1.5M118.4,423.8h1.5M119.9,423.8h1.5M109.3,425.2h1.5M112.5,425.2h1.5M113.7,425.2h1.5M115.3,425.2h1.5M117.0,425.2h1.5M118.2,425.2h1.5M120.0,425.2h1.5M109.5,426.8h1.5M111.0,426.8h1.5M112.6,426.8h1.5M113.8,426.8h1.5M115.3,426.8h1.5M117.0,426.8h1.5M112.4,428.2h1.5M115.1,428.2h1.5M110.9,429.8h1.5" stroke="rgb(235, 20, 15)" stroke-width="1.5" fill="none" clip-path="url(#ce1)"/>
<rect x="80.80" y="392.60" width="58.80" height="55.40" fill="none" stroke="#555" stroke-width="0.8" />
<rect x="43.80" y="358.40" width="96.50" height="95.10" fill="none" stroke="#1a1a1a" stroke-width="1.0" />
<rect x="41.80" y="429.90" width="2.00" height="3.60" fill="#111" stroke="none" stroke-width="0.8" />
<rect x="63.00" y="453.50" width="3.60" height="2.20" fill="#111" stroke="none" stroke-width="0.8" />
<line x1="40.60" y1="367.50" x2="43.80" y2="367.50" stroke="#222" stroke-width="0.8" />
<text x="37.20" y="369.90" font-size="6.8" text-anchor="end" fill="#222">10<tspan font-size="4.22" dy="-2.86">5</tspan></text>
<line x1="40.60" y1="390.60" x2="43.80" y2="390.60" stroke="#222" stroke-width="0.8" />
<text x="37.20" y="393.00" font-size="6.8" text-anchor="end" fill="#222">10<tspan font-size="4.22" dy="-2.86">4</tspan></text>
<line x1="40.60" y1="416.10" x2="43.80" y2="416.10" stroke="#222" stroke-width="0.8" />
<text x="37.20" y="418.50" font-size="6.8" text-anchor="end" fill="#222">10<tspan font-size="4.22" dy="-2.86">3</tspan></text>
<line x1="40.60" y1="431.00" x2="43.80" y2="431.00" stroke="#222" stroke-width="0.8" />
<text x="36.90" y="433.40" font-size="6.8" text-anchor="end" fill="#222" >0</text>
<line x1="40.60" y1="447.20" x2="43.80" y2="447.20" stroke="#222" stroke-width="0.8" />
<text x="37.20" y="449.60" font-size="6.8" text-anchor="end" fill="#222">−10<tspan font-size="4.22" dy="-2.86">3</tspan></text>
<line x1="42.30" y1="383.65" x2="43.80" y2="383.65" stroke="#222" stroke-width="0.5" />
<line x1="42.30" y1="379.58" x2="43.80" y2="379.58" stroke="#222" stroke-width="0.5" />
<line x1="42.30" y1="376.69" x2="43.80" y2="376.69" stroke="#222" stroke-width="0.5" />
<line x1="42.30" y1="374.45" x2="43.80" y2="374.45" stroke="#222" stroke-width="0.5" />
<line x1="42.30" y1="372.62" x2="43.80" y2="372.62" stroke="#222" stroke-width="0.5" />
<line x1="42.30" y1="371.08" x2="43.80" y2="371.08" stroke="#222" stroke-width="0.5" />
<line x1="42.30" y1="369.74" x2="43.80" y2="369.74" stroke="#222" stroke-width="0.5" />
<line x1="42.30" y1="368.56" x2="43.80" y2="368.56" stroke="#222" stroke-width="0.5" />
<line x1="42.30" y1="408.42" x2="43.80" y2="408.42" stroke="#222" stroke-width="0.5" />
<line x1="42.30" y1="403.93" x2="43.80" y2="403.93" stroke="#222" stroke-width="0.5" />
<line x1="42.30" y1="400.75" x2="43.80" y2="400.75" stroke="#222" stroke-width="0.5" />
<line x1="42.30" y1="398.28" x2="43.80" y2="398.28" stroke="#222" stroke-width="0.5" />
<line x1="42.30" y1="396.26" x2="43.80" y2="396.26" stroke="#222" stroke-width="0.5" />
<line x1="42.30" y1="394.55" x2="43.80" y2="394.55" stroke="#222" stroke-width="0.5" />
<line x1="42.30" y1="393.07" x2="43.80" y2="393.07" stroke="#222" stroke-width="0.5" />
<line x1="42.30" y1="391.77" x2="43.80" y2="391.77" stroke="#222" stroke-width="0.5" />
<line x1="42.30" y1="420.40" x2="43.80" y2="420.40" stroke="#222" stroke-width="0.5" />
<line x1="42.30" y1="425.40" x2="43.80" y2="425.40" stroke="#222" stroke-width="0.5" />
<line x1="42.30" y1="436.40" x2="43.80" y2="436.40" stroke="#222" stroke-width="0.5" />
<line x1="42.30" y1="441.40" x2="43.80" y2="441.40" stroke="#222" stroke-width="0.5" />
<line x1="49.00" y1="453.50" x2="49.00" y2="456.50" stroke="#222" stroke-width="0.8" />
<line x1="64.60" y1="453.50" x2="64.60" y2="456.50" stroke="#222" stroke-width="0.8" />
<line x1="80.20" y1="453.50" x2="80.20" y2="456.50" stroke="#222" stroke-width="0.8" />
<line x1="105.80" y1="453.50" x2="105.80" y2="456.50" stroke="#222" stroke-width="0.8" />
<line x1="128.40" y1="453.50" x2="128.40" y2="456.50" stroke="#222" stroke-width="0.8" />
<text x="51.50" y="466.80" font-size="6.8" text-anchor="middle" fill="#222">−10<tspan font-size="4.22" dy="-2.86">3</tspan></text>
<text x="66.30" y="466.80" font-size="6.8" text-anchor="middle" fill="#222" >0</text>
<text x="80.40" y="466.80" font-size="6.8" text-anchor="middle" fill="#222">10<tspan font-size="4.22" dy="-2.86">3</tspan></text>
<text x="107.60" y="466.80" font-size="6.8" text-anchor="middle" fill="#222">10<tspan font-size="4.22" dy="-2.86">4</tspan></text>
<text x="129.80" y="466.80" font-size="6.8" text-anchor="middle" fill="#222">10<tspan font-size="4.22" dy="-2.86">5</tspan></text>
<line x1="87.91" y1="453.50" x2="87.91" y2="455.00" stroke="#222" stroke-width="0.5" />
<line x1="92.41" y1="453.50" x2="92.41" y2="455.00" stroke="#222" stroke-width="0.5" />
<line x1="95.61" y1="453.50" x2="95.61" y2="455.00" stroke="#222" stroke-width="0.5" />
<line x1="98.09" y1="453.50" x2="98.09" y2="455.00" stroke="#222" stroke-width="0.5" />
<line x1="100.12" y1="453.50" x2="100.12" y2="455.00" stroke="#222" stroke-width="0.5" />
<line x1="101.83" y1="453.50" x2="101.83" y2="455.00" stroke="#222" stroke-width="0.5" />
<line x1="103.32" y1="453.50" x2="103.32" y2="455.00" stroke="#222" stroke-width="0.5" />
<line x1="104.63" y1="453.50" x2="104.63" y2="455.00" stroke="#222" stroke-width="0.5" />
<line x1="112.60" y1="453.50" x2="112.60" y2="455.00" stroke="#222" stroke-width="0.5" />
<line x1="116.58" y1="453.50" x2="116.58" y2="455.00" stroke="#222" stroke-width="0.5" />
<line x1="119.41" y1="453.50" x2="119.41" y2="455.00" stroke="#222" stroke-width="0.5" />
<line x1="121.60" y1="453.50" x2="121.60" y2="455.00" stroke="#222" stroke-width="0.5" />
<line x1="123.39" y1="453.50" x2="123.39" y2="455.00" stroke="#222" stroke-width="0.5" />
<line x1="124.90" y1="453.50" x2="124.90" y2="455.00" stroke="#222" stroke-width="0.5" />
<line x1="126.21" y1="453.50" x2="126.21" y2="455.00" stroke="#222" stroke-width="0.5" />
<line x1="127.37" y1="453.50" x2="127.37" y2="455.00" stroke="#222" stroke-width="0.5" />
<line x1="53.80" y1="453.50" x2="53.80" y2="455.00" stroke="#222" stroke-width="0.5" />
<line x1="58.80" y1="453.50" x2="58.80" y2="455.00" stroke="#222" stroke-width="0.5" />
<line x1="69.80" y1="453.50" x2="69.80" y2="455.00" stroke="#222" stroke-width="0.5" />
<line x1="74.80" y1="453.50" x2="74.80" y2="455.00" stroke="#222" stroke-width="0.5" />
<text x="110.50" y="380.20" font-size="6.8" text-anchor="middle" fill="#222" >Kit+</text>
<text x="110.50" y="388.80" font-size="6.8" text-anchor="middle" fill="#222" >92.3</text>
<line x1="140.30" y1="397.80" x2="153.50" y2="397.80" stroke="#222" stroke-width="1.0" />
<path d="M158.00,397.80L152.80,395.60L152.80,400.00Z" fill="#222"/>
<path d="M207.5,392.2h1.5M223.8,392.2h1.5M242.3,392.2h1.5M213.5,393.8h1.5M214.8,393.8h1.5M216.3,393.8h1.5M219.3,393.8h1.5M230.2,393.8h1.5M231.5,393.8h1.5M232.8,393.8h1.5M237.7,393.8h1.5M239.2,393.8h1.5M240.4,393.8h1.5M204.6,395.2h1.5M206.2,395.2h1.5M210.7,395.2h1.5M212.1,395.2h1.5M213.6,395.2h1.5M216.4,395.2h1.5M219.5,395.2h1.5M220.9,395.2h1.5M222.5,395.2h1.5M230.1,395.2h1.5M234.6,395.2h1.5M237.5,395.2h1.5M239.0,395.2h1.5M241.8,395.2h1.5M243.4,395.2h1.5M245.0,395.2h1.5M248.0,395.2h1.5M251.2,395.2h1.5M206.1,396.8h1.5M210.7,396.8h1.5M213.8,396.8h1.5M219.6,396.8h1.5M221.1,396.8h1.5M222.4,396.8h1.5M225.5,396.8h1.5M227.1,396.8h1.5M228.5,396.8h1.5M230.2,396.8h1.5M234.8,396.8h1.5M236.0,396.8h1.5M237.2,396.8h1.5M238.9,396.8h1.5M240.3,396.8h1.5M242.2,396.8h1.5M243.4,396.8h1.5M245.2,396.8h1.5M246.7,396.8h1.5M249.3,396.8h1.5M205.9,398.2h1.5M213.8,398.2h1.5M219.6,398.2h1.5M220.8,398.2h1.5M223.8,398.2h1.5M227.2,398.2h1.5M229.9,398.2h1.5M231.5,398.2h1.5M232.8,398.2h1.5M236.1,398.2h1.5M237.5,398.2h1.5M239.2,398.2h1.5M240.3,398.2h1.5M241.9,398.2h1.5M243.7,398.2h1.5M246.3,398.2h1.5M248.0,398.2h1.5M249.6,398.2h1.5M206.1,399.8h1.5M210.4,399.8h1.5M213.8,399.8h1.5M215.1,399.8h1.5M216.6,399.8h1.5M217.7,399.8h1.5M219.8,399.8h1.5M221.2,399.8h1.5M224.2,399.8h1.5M225.7,399.8h1.5M227.3,399.8h1.5M228.5,399.8h1.5M229.8,399.8h1.5M231.4,399.8h1.5M233.3,399.8h1.5M236.0,399.8h1.5M237.8,399.8h1.5M240.5,399.8h1.5M246.2,399.8h1.5M248.0,399.8h1.5M249.4,399.8h1.5M250.7,399.8h1.5M252.2,399.8h1.5M204.3,401.2h1.5M205.9,401.2h1.5M207.6,401.2h1.5M209.0,401.2h1.5M210.6,401.2h1.5M213.3,401.2h1.5M214.8,401.2h1.5M216.2,401.2h1.5M218.0,401.2h1.5M220.8,401.2h1.5M222.7,401.2h1.5M223.8,401.2h1.5M225.3,401.2h1.5M228.6,401.2h1.5M229.8,401.2h1.5M231.3,401.2h1.5M232.7,401.2h1.5M234.3,401.2h1.5M238.9,401.2h1.5M252.8,401.2h1.5M253.8,401.2h1.5M204.7,402.8h1.5M207.2,402.8h1.5M210.3,402.8h1.5M212.1,402.8h1.5M213.6,402.8h1.5M215.0,402.8h1.5M218.1,402.8h1.5M219.7,402.8h1.5M220.8,402.8h1.5M222.3,402.8h1.5M224.1,402.8h1.5M225.4,402.8h1.5M227.1,402.8h1.5M228.7,402.8h1.5M230.1,402.8h1.5M231.4,402.8h1.5M234.7,402.8h1.5M252.4,402.8h1.5M254.1,402.8h1.5M255.7,402.8h1.5M256.9,402.8h1.5M208.8,404.2h1.5M212.1,404.2h1.5M213.4,404.2h1.5M216.2,404.2h1.5M218.1,404.2h1.5M219.7,404.2h1.5M220.8,404.2h1.5M223.8,404.2h1.5M255.3,404.2h1.5M201.5,405.8h1.5M204.3,405.8h1.5M208.8,405.8h1.5M210.5,405.8h1.5M211.7,405.8h1.5M213.7,405.8h1.5M214.7,405.8h1.5M216.3,405.8h1.5M202.9,407.2h1.5M207.2,407.2h1.5M209.2,407.2h1.5M211.8,407.2h1.5M215.1,407.2h1.5M216.7,407.2h1.5M217.8,407.2h1.5M258.5,407.2h1.5M207.5,408.8h1.5M213.4,408.8h1.5M203.2,410.2h1.5M204.2,410.2h1.5M209.1,410.2h1.5M202.7,413.2h1.5M201.4,414.8h1.5M202.8,414.8h1.5M204.5,431.2h1.5M205.9,431.2h1.5M204.7,432.8h1.5M202.8,434.2h1.5M205.9,434.2h1.5M204.3,435.8h1.5M205.9,435.8h1.5M207.4,435.8h1.5M209.0,435.8h1.5M210.2,435.8h1.5M206.0,437.2h1.5M207.7,437.2h1.5M208.8,437.2h1.5M210.6,437.2h1.5M211.9,437.2h1.5M215.0,437.2h1.5M219.7,437.2h1.5M255.8,437.2h1.5M201.8,438.8h1.5M207.5,438.8h1.5M209.1,438.8h1.5M210.3,438.8h1.5M213.4,438.8h1.5M215.0,438.8h1.5M216.7,438.8h1.5M218.2,438.8h1.5M224.1,438.8h1.5M252.4,438.8h1.5M253.9,438.8h1.5M206.0,440.2h1.5M209.2,440.2h1.5M214.8,440.2h1.5M217.9,440.2h1.5M221.2,440.2h1.5M222.2,440.2h1.5M224.0,440.2h1.5M227.0,440.2h1.5M249.4,440.2h1.5M251.1,440.2h1.5M254.2,440.2h1.5M256.9,440.2h1.5M207.6,441.8h1.5M208.7,441.8h1.5M212.1,441.8h1.5M216.6,441.8h1.5M218.2,441.8h1.5M219.4,441.8h1.5M223.8,441.8h1.5M225.5,441.8h1.5M227.0,441.8h1.5M234.6,441.8h1.5M242.1,441.8h1.5M245.2,441.8h1.5M246.7,441.8h1.5M248.2,441.8h1.5M249.7,441.8h1.5M250.9,441.8h1.5M255.4,441.8h1.5M210.2,443.2h1.5M228.7,443.2h1.5M233.0,443.2h1.5M237.2,444.8h1.5" stroke="rgb(26, 38, 150)" stroke-width="1.5" fill="none" clip-path="url(#ce2)"/>
<path d="M234.6,399.8h1.5M238.7,399.8h1.5M242.0,399.8h1.5M243.5,399.8h1.5M235.8,401.2h1.5M237.3,401.2h1.5M240.6,401.2h1.5M242.2,401.2h1.5M243.5,401.2h1.5M244.8,401.2h1.5M246.6,401.2h1.5M248.2,401.2h1.5M249.5,401.2h1.5M250.8,401.2h1.5M233.0,402.8h1.5M243.4,402.8h1.5M247.9,402.8h1.5M249.4,402.8h1.5M250.8,402.8h1.5M222.2,404.2h1.5M225.7,404.2h1.5M227.3,404.2h1.5M229.9,404.2h1.5M231.7,404.2h1.5M233.0,404.2h1.5M251.0,404.2h1.5M252.7,404.2h1.5M217.9,405.8h1.5M219.6,405.8h1.5M221.0,405.8h1.5M222.5,405.8h1.5M224.1,405.8h1.5M229.7,405.8h1.5M252.7,405.8h1.5M253.9,405.8h1.5M210.7,407.2h1.5M213.5,407.2h1.5M219.3,407.2h1.5M222.6,407.2h1.5M225.7,407.2h1.5M255.7,407.2h1.5M256.8,407.2h1.5M205.9,408.8h1.5M209.0,408.8h1.5M210.3,408.8h1.5M211.8,408.8h1.5M215.1,408.8h1.5M217.8,408.8h1.5M221.0,408.8h1.5M224.0,408.8h1.5M210.8,410.2h1.5M214.9,410.2h1.5M204.7,411.8h1.5M206.1,411.8h1.5M207.3,411.8h1.5M209.0,411.8h1.5M211.9,411.8h1.5M204.6,413.2h1.5M205.8,413.2h1.5M207.7,413.2h1.5M209.1,413.2h1.5M204.7,414.8h1.5M207.2,414.8h1.5M202.8,416.2h1.5M206.0,416.2h1.5M207.5,416.2h1.5M206.1,417.8h1.5M256.9,417.8h1.5M204.3,420.8h1.5M204.5,422.2h1.5M208.8,422.2h1.5M205.8,423.8h1.5M203.1,425.2h1.5M202.8,426.8h1.5M204.2,426.8h1.5M207.2,426.8h1.5M204.4,428.2h1.5M204.7,429.8h1.5M205.7,429.8h1.5M207.3,429.8h1.5M207.4,431.2h1.5M209.0,431.2h1.5M205.8,432.8h1.5M207.7,432.8h1.5M209.1,432.8h1.5M210.5,432.8h1.5M258.7,432.8h1.5M207.7,434.2h1.5M208.9,434.2h1.5M210.5,434.2h1.5M213.6,434.2h1.5M211.8,435.8h1.5M213.4,435.8h1.5M215.2,435.8h1.5M216.8,435.8h1.5M252.7,435.8h1.5M254.2,435.8h1.5M257.0,435.8h1.5M213.4,437.2h1.5M216.4,437.2h1.5M217.8,437.2h1.5M221.2,437.2h1.5M222.6,437.2h1.5M250.7,437.2h1.5M219.7,438.8h1.5M220.7,438.8h1.5M222.3,438.8h1.5M227.2,438.8h1.5M231.2,438.8h1.5M249.3,438.8h1.5M250.8,438.8h1.5M225.5,440.2h1.5M228.7,440.2h1.5M230.1,440.2h1.5M236.3,440.2h1.5M237.5,440.2h1.5M240.4,440.2h1.5M246.7,440.2h1.5M248.2,440.2h1.5M228.4,441.8h1.5M231.3,441.8h1.5M236.1,441.8h1.5M239.2,441.8h1.5M240.2,441.8h1.5M243.6,441.8h1.5" stroke="rgb(30, 60, 190)" stroke-width="1.5" fill="none" clip-path="url(#ce2)"/>
<path d="M236.3,402.8h1.5M239.3,402.8h1.5M242.1,402.8h1.5M245.0,402.8h1.5M228.4,404.2h1.5M246.3,404.2h1.5M248.2,404.2h1.5M225.5,405.8h1.5M227.1,405.8h1.5M231.4,405.8h1.5M249.5,405.8h1.5M227.0,407.2h1.5M228.2,407.2h1.5M225.3,408.8h1.5M255.2,408.8h1.5M212.1,410.2h1.5M216.5,410.2h1.5M217.9,410.2h1.5M219.6,410.2h1.5M210.8,411.8h1.5M256.8,411.8h1.5M210.8,413.2h1.5M211.8,413.2h1.5M205.7,414.8h1.5M208.8,414.8h1.5M210.4,414.8h1.5M258.7,414.8h1.5M210.6,416.2h1.5M211.9,416.2h1.5M207.5,417.8h1.5M208.9,417.8h1.5M206.0,419.2h1.5M207.8,419.2h1.5M208.7,419.2h1.5M210.5,419.2h1.5M207.7,423.8h1.5M206.0,425.2h1.5M209.1,425.2h1.5M258.5,425.2h1.5M212.0,426.8h1.5M258.8,426.8h1.5M260.0,426.8h1.5M205.9,428.2h1.5M207.3,428.2h1.5M209.1,428.2h1.5M209.0,429.8h1.5M211.8,429.8h1.5M255.2,429.8h1.5M257.1,429.8h1.5M211.9,431.2h1.5M213.2,431.2h1.5M215.1,431.2h1.5M257.1,431.2h1.5M211.7,432.8h1.5M213.7,432.8h1.5M215.2,432.8h1.5M255.7,432.8h1.5M212.1,434.2h1.5M216.6,434.2h1.5M218.0,434.2h1.5M219.5,434.2h1.5M252.3,434.2h1.5M254.2,434.2h1.5M255.2,434.2h1.5M218.0,435.8h1.5M219.8,435.8h1.5M222.4,435.8h1.5M224.1,435.8h1.5M250.7,435.8h1.5M223.9,437.2h1.5M248.0,437.2h1.5M249.7,437.2h1.5M252.2,437.2h1.5M225.6,438.8h1.5M228.7,438.8h1.5M230.2,438.8h1.5M240.5,438.8h1.5M246.4,438.8h1.5M247.9,438.8h1.5M231.4,440.2h1.5M234.8,440.2h1.5M243.2,440.2h1.5M244.9,440.2h1.5" stroke="rgb(40, 100, 220)" stroke-width="1.5" fill="none" clip-path="url(#ce2)"/>
<path d="M240.3,402.8h1.5M246.7,402.8h1.5M234.3,404.2h1.5M236.0,404.2h1.5M237.6,404.2h1.5M238.9,404.2h1.5M240.6,404.2h1.5M242.0,404.2h1.5M245.0,404.2h1.5M249.3,404.2h1.5M228.5,405.8h1.5M232.9,405.8h1.5M234.4,405.8h1.5M235.7,405.8h1.5M248.1,405.8h1.5M250.8,405.8h1.5M224.3,407.2h1.5M233.0,407.2h1.5M251.0,407.2h1.5M252.4,407.2h1.5M219.5,408.8h1.5M222.7,408.8h1.5M226.9,408.8h1.5M228.3,408.8h1.5M251.0,408.8h1.5M254.3,408.8h1.5M221.1,410.2h1.5M222.8,410.2h1.5M254.2,410.2h1.5M255.5,410.2h1.5M213.6,411.8h1.5M215.0,411.8h1.5M216.4,411.8h1.5M218.1,411.8h1.5M255.7,411.8h1.5M213.2,413.2h1.5M215.1,413.2h1.5M216.5,413.2h1.5M217.9,413.2h1.5M219.4,413.2h1.5M212.1,414.8h1.5M213.7,414.8h1.5M216.6,414.8h1.5M257.0,414.8h1.5M208.7,416.2h1.5M213.2,416.2h1.5M214.8,416.2h1.5M257.2,416.2h1.5M210.6,417.8h1.5M212.2,419.2h1.5M206.0,420.8h1.5M208.9,420.8h1.5M210.8,420.8h1.5M207.6,422.2h1.5M214.9,422.2h1.5M207.8,425.2h1.5M210.7,425.2h1.5M212.0,425.2h1.5M206.1,426.8h1.5M209.1,426.8h1.5M210.4,428.2h1.5M212.2,428.2h1.5M255.3,428.2h1.5M257.0,428.2h1.5M210.7,429.8h1.5M210.7,431.2h1.5M253.8,431.2h1.5M253.9,432.8h1.5M215.2,434.2h1.5M222.2,434.2h1.5M220.8,435.8h1.5M225.2,435.8h1.5M228.8,435.8h1.5M246.5,435.8h1.5M249.6,435.8h1.5M225.8,437.2h1.5M227.0,437.2h1.5M231.4,437.2h1.5M236.1,437.2h1.5M236.0,438.8h1.5M242.0,438.8h1.5M243.4,438.8h1.5M244.9,438.8h1.5" stroke="rgb(60, 150, 230)" stroke-width="1.5" fill="none" clip-path="url(#ce2)"/>
<path d="M243.8,404.2h1.5M238.8,405.8h1.5M241.9,405.8h1.5M243.3,405.8h1.5M245.3,405.8h1.5M246.5,405.8h1.5M229.9,407.2h1.5M231.5,407.2h1.5M234.7,407.2h1.5M248.2,407.2h1.5M249.7,407.2h1.5M230.1,408.8h1.5M252.6,408.8h1.5M225.7,410.2h1.5M252.3,410.2h1.5M219.8,411.8h1.5M221.2,411.8h1.5M223.8,411.8h1.5M220.9,413.2h1.5M222.3,413.2h1.5M255.6,413.2h1.5M215.0,414.8h1.5M218.0,414.8h1.5M221.1,414.8h1.5M255.6,414.8h1.5M218.0,416.2h1.5M219.7,416.2h1.5M212.0,417.8h1.5M216.5,417.8h1.5M213.6,419.2h1.5M257.2,419.2h1.5M258.3,419.2h1.5M207.2,420.8h1.5M211.8,420.8h1.5M213.2,420.8h1.5M215.0,420.8h1.5M213.5,422.2h1.5M257.0,422.2h1.5M209.1,423.8h1.5M210.4,423.8h1.5M212.2,423.8h1.5M213.6,423.8h1.5M215.2,423.8h1.5M256.9,423.8h1.5M213.5,425.2h1.5M216.6,425.2h1.5M218.2,425.2h1.5M210.3,426.8h1.5M219.4,426.8h1.5M256.9,426.8h1.5M213.7,428.2h1.5M215.0,428.2h1.5M216.5,428.2h1.5M217.9,428.2h1.5M219.7,428.2h1.5M213.4,429.8h1.5M214.9,429.8h1.5M216.5,429.8h1.5M219.7,429.8h1.5M216.5,431.2h1.5M217.8,431.2h1.5M219.7,431.2h1.5M255.6,431.2h1.5M216.2,432.8h1.5M218.1,432.8h1.5M219.3,432.8h1.5M220.9,432.8h1.5M222.4,432.8h1.5M221.1,434.2h1.5M249.4,434.2h1.5M250.9,434.2h1.5M227.2,435.8h1.5M231.8,435.8h1.5M234.3,435.8h1.5M247.8,435.8h1.5M228.5,437.2h1.5M230.2,437.2h1.5M232.8,437.2h1.5M234.6,437.2h1.5M244.8,437.2h1.5M246.7,437.2h1.5M237.2,438.8h1.5M238.9,438.8h1.5" stroke="rgb(70, 195, 215)" stroke-width="1.5" fill="none" clip-path="url(#ce2)"/>
<path d="M237.3,405.8h1.5M240.4,405.8h1.5M236.3,407.2h1.5M239.2,407.2h1.5M240.6,407.2h1.5M242.3,407.2h1.5M246.8,407.2h1.5M231.3,408.8h1.5M232.9,408.8h1.5M234.7,408.8h1.5M235.8,408.8h1.5M240.3,408.8h1.5M249.6,408.8h1.5M224.0,410.2h1.5M226.8,410.2h1.5M229.7,410.2h1.5M249.7,410.2h1.5M222.2,411.8h1.5M227.0,411.8h1.5M249.5,411.8h1.5M252.3,411.8h1.5M254.1,411.8h1.5M224.0,413.2h1.5M225.8,413.2h1.5M226.8,413.2h1.5M219.8,414.8h1.5M222.5,414.8h1.5M223.7,414.8h1.5M254.2,414.8h1.5M216.5,416.2h1.5M254.3,416.2h1.5M213.4,417.8h1.5M215.2,417.8h1.5M217.9,417.8h1.5M219.7,417.8h1.5M255.4,417.8h1.5M215.2,419.2h1.5M216.2,419.2h1.5M218.2,419.2h1.5M254.2,419.2h1.5M255.3,419.2h1.5M216.5,420.8h1.5M253.7,420.8h1.5M255.6,420.8h1.5M212.2,422.2h1.5M217.9,422.2h1.5M255.5,422.2h1.5M216.4,423.8h1.5M221.0,423.8h1.5M255.3,423.8h1.5M214.8,425.2h1.5M254.1,425.2h1.5M213.3,426.8h1.5M214.9,426.8h1.5M216.8,426.8h1.5M218.2,426.8h1.5M221.3,426.8h1.5M255.3,426.8h1.5M220.8,428.2h1.5M254.1,428.2h1.5M218.0,429.8h1.5M221.2,429.8h1.5M222.3,429.8h1.5M253.8,429.8h1.5M220.8,431.2h1.5M251.1,431.2h1.5M224.1,432.8h1.5M225.6,432.8h1.5M227.0,432.8h1.5M252.5,432.8h1.5M224.2,434.2h1.5M225.5,434.2h1.5M227.0,434.2h1.5M228.5,434.2h1.5M247.7,434.2h1.5M230.2,435.8h1.5M236.0,435.8h1.5M237.3,435.8h1.5M237.8,437.2h1.5M239.3,437.2h1.5M240.8,437.2h1.5M242.2,437.2h1.5M243.2,437.2h1.5" stroke="rgb(80, 200, 120)" stroke-width="1.5" fill="none" clip-path="url(#ce2)"/>
<path d="M237.3,407.2h1.5M243.8,407.2h1.5M244.9,407.2h1.5M237.8,408.8h1.5M243.7,408.8h1.5M245.2,408.8h1.5M246.6,408.8h1.5M248.0,408.8h1.5M228.5,410.2h1.5M231.4,410.2h1.5M233.1,410.2h1.5M234.5,410.2h1.5M244.8,410.2h1.5M246.3,410.2h1.5M247.8,410.2h1.5M250.7,410.2h1.5M225.3,411.8h1.5M228.4,411.8h1.5M231.3,411.8h1.5M246.7,411.8h1.5M251.0,411.8h1.5M253.8,413.2h1.5M225.6,414.8h1.5M221.0,416.2h1.5M222.7,416.2h1.5M224.2,416.2h1.5M221.1,417.8h1.5M222.8,417.8h1.5M254.1,417.8h1.5M219.4,419.2h1.5M225.2,419.2h1.5M252.8,419.2h1.5M217.9,420.8h1.5M219.3,420.8h1.5M221.2,420.8h1.5M222.2,420.8h1.5M210.6,422.2h1.5M219.2,422.2h1.5M220.8,422.2h1.5M222.7,422.2h1.5M254.3,422.2h1.5M217.8,423.8h1.5M219.3,423.8h1.5M222.6,423.8h1.5M224.2,423.8h1.5M254.1,423.8h1.5M219.6,425.2h1.5M220.8,425.2h1.5M255.6,425.2h1.5M222.3,426.8h1.5M223.8,426.8h1.5M253.9,426.8h1.5M224.0,428.2h1.5M224.1,429.8h1.5M227.1,429.8h1.5M252.6,429.8h1.5M222.5,431.2h1.5M224.2,431.2h1.5M225.3,431.2h1.5M227.0,431.2h1.5M252.8,431.2h1.5M228.4,432.8h1.5M247.8,432.8h1.5M249.5,432.8h1.5M251.1,432.8h1.5M229.7,434.2h1.5M235.8,434.2h1.5M245.0,434.2h1.5M246.5,434.2h1.5M233.0,435.8h1.5M239.2,435.8h1.5M240.5,435.8h1.5M245.3,435.8h1.5" stroke="rgb(110, 205, 60)" stroke-width="1.5" fill="none" clip-path="url(#ce2)"/>
<path d="M239.2,408.8h1.5M241.8,408.8h1.5M235.7,410.2h1.5M237.6,410.2h1.5M238.9,410.2h1.5M240.5,410.2h1.5M241.9,410.2h1.5M243.4,410.2h1.5M230.2,411.8h1.5M233.1,411.8h1.5M234.5,411.8h1.5M236.2,411.8h1.5M238.8,411.8h1.5M241.8,411.8h1.5M243.4,411.8h1.5M245.2,411.8h1.5M228.7,413.2h1.5M231.3,413.2h1.5M233.2,413.2h1.5M251.2,413.2h1.5M252.4,413.2h1.5M226.9,414.8h1.5M236.3,414.8h1.5M249.4,414.8h1.5M250.8,414.8h1.5M252.5,414.8h1.5M225.2,416.2h1.5M226.8,416.2h1.5M224.2,417.8h1.5M227.2,417.8h1.5M252.4,417.8h1.5M220.8,419.2h1.5M222.4,419.2h1.5M223.9,419.2h1.5M226.9,419.2h1.5M224.0,420.8h1.5M225.2,420.8h1.5M227.1,420.8h1.5M252.7,420.8h1.5M216.7,422.2h1.5M223.9,422.2h1.5M225.4,422.2h1.5M227.2,422.2h1.5M252.7,422.2h1.5M225.5,423.8h1.5M222.4,425.2h1.5M225.3,425.2h1.5M252.7,425.2h1.5M227.0,426.8h1.5M250.9,426.8h1.5M252.4,426.8h1.5M222.6,428.2h1.5M225.4,428.2h1.5M250.8,428.2h1.5M252.5,428.2h1.5M225.4,429.8h1.5M251.3,429.8h1.5M228.5,431.2h1.5M230.3,431.2h1.5M246.7,431.2h1.5M247.7,431.2h1.5M249.5,431.2h1.5M230.3,432.8h1.5M231.7,432.8h1.5M232.8,432.8h1.5M246.8,432.8h1.5M232.9,434.2h1.5M234.4,434.2h1.5M237.3,434.2h1.5M241.9,434.2h1.5M243.3,434.2h1.5M242.2,435.8h1.5M243.3,435.8h1.5" stroke="rgb(180, 220, 40)" stroke-width="1.5" fill="none" clip-path="url(#ce2)"/>
<path d="M237.7,411.8h1.5M240.2,411.8h1.5M248.1,411.8h1.5M229.9,413.2h1.5M234.3,413.2h1.5M237.6,413.2h1.5M245.3,413.2h1.5M246.7,413.2h1.5M248.0,413.2h1.5M249.5,413.2h1.5M228.4,414.8h1.5M230.0,414.8h1.5M231.8,414.8h1.5M248.0,414.8h1.5M228.8,416.2h1.5M230.3,416.2h1.5M231.4,416.2h1.5M246.4,416.2h1.5M248.2,416.2h1.5M249.4,416.2h1.5M252.5,416.2h1.5M225.3,417.8h1.5M228.6,417.8h1.5M247.8,417.8h1.5M251.1,417.8h1.5M228.4,419.2h1.5M251.2,419.2h1.5M228.6,422.2h1.5M249.3,422.2h1.5M251.3,422.2h1.5M227.1,423.8h1.5M228.4,423.8h1.5M224.0,425.2h1.5M227.1,425.2h1.5M249.8,425.2h1.5M251.1,425.2h1.5M225.4,426.8h1.5M228.4,426.8h1.5M231.4,426.8h1.5M249.5,426.8h1.5M226.7,428.2h1.5M231.5,428.2h1.5M249.6,428.2h1.5M228.5,429.8h1.5M229.8,429.8h1.5M231.6,429.8h1.5M246.8,429.8h1.5M248.2,429.8h1.5M249.6,429.8h1.5M231.6,431.2h1.5M232.9,431.2h1.5M240.2,431.2h1.5M244.9,431.2h1.5M234.2,432.8h1.5M236.3,432.8h1.5M239.0,432.8h1.5M240.2,432.8h1.5M241.9,432.8h1.5M245.3,432.8h1.5M231.6,434.2h1.5M239.0,434.2h1.5M240.5,434.2h1.5" stroke="rgb(245, 225, 30)" stroke-width="1.5" fill="none" clip-path="url(#ce2)"/>
<path d="M236.0,413.2h1.5M239.2,413.2h1.5M240.6,413.2h1.5M242.1,413.2h1.5M243.3,413.2h1.5M232.9,414.8h1.5M234.6,414.8h1.5M237.7,414.8h1.5M238.9,414.8h1.5M241.8,414.8h1.5M243.5,414.8h1.5M246.3,414.8h1.5M233.1,416.2h1.5M234.5,416.2h1.5M251.3,416.2h1.5M230.0,417.8h1.5M243.5,417.8h1.5M246.5,417.8h1.5M249.5,417.8h1.5M230.0,419.2h1.5M231.7,419.2h1.5M247.8,419.2h1.5M249.5,419.2h1.5M228.8,420.8h1.5M232.7,420.8h1.5M248.1,420.8h1.5M249.6,420.8h1.5M251.0,420.8h1.5M246.3,422.2h1.5M248.1,422.2h1.5M230.2,423.8h1.5M250.8,423.8h1.5M228.4,425.2h1.5M229.8,425.2h1.5M248.3,425.2h1.5M230.2,426.8h1.5M228.2,428.2h1.5M230.3,428.2h1.5M246.2,428.2h1.5M247.9,428.2h1.5M234.7,429.8h1.5M237.3,429.8h1.5M240.8,429.8h1.5M243.5,429.8h1.5M245.0,429.8h1.5M234.6,431.2h1.5M236.2,431.2h1.5M237.5,431.2h1.5M238.8,431.2h1.5M243.5,431.2h1.5M237.5,432.8h1.5M243.3,432.8h1.5" stroke="rgb(250, 165, 25)" stroke-width="1.5" fill="none" clip-path="url(#ce2)"/>
<path d="M240.4,414.8h1.5M244.7,414.8h1.5M235.8,416.2h1.5M237.7,416.2h1.5M241.8,416.2h1.5M243.7,416.2h1.5M245.3,416.2h1.5M231.3,417.8h1.5M232.9,417.8h1.5M237.6,417.8h1.5M242.1,417.8h1.5M244.9,417.8h1.5M233.1,419.2h1.5M246.3,419.2h1.5M229.9,420.8h1.5M231.5,420.8h1.5M244.9,420.8h1.5M246.4,420.8h1.5M230.1,422.2h1.5M233.1,422.2h1.5M238.8,422.2h1.5M231.6,423.8h1.5M234.5,423.8h1.5M247.9,423.8h1.5M249.3,423.8h1.5M231.4,425.2h1.5M233.3,425.2h1.5M236.0,425.2h1.5M245.2,425.2h1.5M246.8,425.2h1.5M234.7,426.8h1.5M236.0,426.8h1.5M237.3,426.8h1.5M244.8,426.8h1.5M248.0,426.8h1.5M233.1,428.2h1.5M234.7,428.2h1.5M236.2,428.2h1.5M237.5,428.2h1.5M239.2,428.2h1.5M243.7,428.2h1.5M244.8,428.2h1.5M232.8,429.8h1.5M236.1,429.8h1.5M239.1,429.8h1.5M241.9,429.8h1.5M242.0,431.2h1.5" stroke="rgb(245, 90, 20)" stroke-width="1.5" fill="none" clip-path="url(#ce2)"/>
<path d="M238.9,416.2h1.5M240.6,416.2h1.5M234.6,417.8h1.5M235.9,417.8h1.5M238.8,417.8h1.5M240.6,417.8h1.5M234.6,419.2h1.5M236.0,419.2h1.5M237.7,419.2h1.5M238.9,419.2h1.5M240.4,419.2h1.5M241.9,419.2h1.5M243.8,419.2h1.5M244.9,419.2h1.5M234.3,420.8h1.5M235.7,420.8h1.5M237.3,420.8h1.5M239.3,420.8h1.5M240.3,420.8h1.5M241.8,420.8h1.5M243.2,420.8h1.5M231.7,422.2h1.5M234.5,422.2h1.5M235.8,422.2h1.5M237.5,422.2h1.5M240.3,422.2h1.5M241.7,422.2h1.5M243.6,422.2h1.5M245.3,422.2h1.5M232.7,423.8h1.5M236.3,423.8h1.5M237.5,423.8h1.5M239.3,423.8h1.5M240.7,423.8h1.5M241.7,423.8h1.5M243.3,423.8h1.5M245.0,423.8h1.5M246.3,423.8h1.5M234.6,425.2h1.5M237.8,425.2h1.5M238.8,425.2h1.5M240.7,425.2h1.5M242.1,425.2h1.5M243.6,425.2h1.5M233.0,426.8h1.5M238.9,426.8h1.5M240.3,426.8h1.5M242.2,426.8h1.5M243.6,426.8h1.5M246.3,426.8h1.5M240.5,428.2h1.5M242.0,428.2h1.5" stroke="rgb(235, 20, 15)" stroke-width="1.5" fill="none" clip-path="url(#ce2)"/>
<rect x="203.00" y="392.40" width="54.20" height="51.60" fill="none" stroke="#555" stroke-width="0.8" />
<line x1="223.30" y1="392.40" x2="223.30" y2="444.00" stroke="#333" stroke-width="0.9" />
<line x1="241.40" y1="392.40" x2="241.40" y2="444.00" stroke="#333" stroke-width="0.9" />
<rect x="177.50" y="358.80" width="95.90" height="95.20" fill="none" stroke="#1a1a1a" stroke-width="1.0" />
<rect x="175.50" y="430.30" width="2.00" height="3.60" fill="#111" stroke="none" stroke-width="0.8" />
<rect x="196.70" y="454.00" width="3.60" height="2.20" fill="#111" stroke="none" stroke-width="0.8" />
<line x1="174.30" y1="367.90" x2="177.50" y2="367.90" stroke="#222" stroke-width="0.8" />
<text x="170.90" y="370.30" font-size="6.8" text-anchor="end" fill="#222">10<tspan font-size="4.22" dy="-2.86">5</tspan></text>
<line x1="174.30" y1="391.00" x2="177.50" y2="391.00" stroke="#222" stroke-width="0.8" />
<text x="170.90" y="393.40" font-size="6.8" text-anchor="end" fill="#222">10<tspan font-size="4.22" dy="-2.86">4</tspan></text>
<line x1="174.30" y1="416.50" x2="177.50" y2="416.50" stroke="#222" stroke-width="0.8" />
<text x="170.90" y="418.90" font-size="6.8" text-anchor="end" fill="#222">10<tspan font-size="4.22" dy="-2.86">3</tspan></text>
<line x1="174.30" y1="431.40" x2="177.50" y2="431.40" stroke="#222" stroke-width="0.8" />
<text x="170.60" y="433.80" font-size="6.8" text-anchor="end" fill="#222" >0</text>
<line x1="174.30" y1="447.60" x2="177.50" y2="447.60" stroke="#222" stroke-width="0.8" />
<text x="170.90" y="450.00" font-size="6.8" text-anchor="end" fill="#222">−10<tspan font-size="4.22" dy="-2.86">3</tspan></text>
<line x1="176.00" y1="384.05" x2="177.50" y2="384.05" stroke="#222" stroke-width="0.5" />
<line x1="176.00" y1="379.98" x2="177.50" y2="379.98" stroke="#222" stroke-width="0.5" />
<line x1="176.00" y1="377.09" x2="177.50" y2="377.09" stroke="#222" stroke-width="0.5" />
<line x1="176.00" y1="374.85" x2="177.50" y2="374.85" stroke="#222" stroke-width="0.5" />
<line x1="176.00" y1="373.02" x2="177.50" y2="373.02" stroke="#222" stroke-width="0.5" />
<line x1="176.00" y1="371.48" x2="177.50" y2="371.48" stroke="#222" stroke-width="0.5" />
<line x1="176.00" y1="370.14" x2="177.50" y2="370.14" stroke="#222" stroke-width="0.5" />
<line x1="176.00" y1="368.96" x2="177.50" y2="368.96" stroke="#222" stroke-width="0.5" />
<line x1="176.00" y1="408.82" x2="177.50" y2="408.82" stroke="#222" stroke-width="0.5" />
<line x1="176.00" y1="404.33" x2="177.50" y2="404.33" stroke="#222" stroke-width="0.5" />
<line x1="176.00" y1="401.15" x2="177.50" y2="401.15" stroke="#222" stroke-width="0.5" />
<line x1="176.00" y1="398.68" x2="177.50" y2="398.68" stroke="#222" stroke-width="0.5" />
<line x1="176.00" y1="396.66" x2="177.50" y2="396.66" stroke="#222" stroke-width="0.5" />
<line x1="176.00" y1="394.95" x2="177.50" y2="394.95" stroke="#222" stroke-width="0.5" />
<line x1="176.00" y1="393.47" x2="177.50" y2="393.47" stroke="#222" stroke-width="0.5" />
<line x1="176.00" y1="392.17" x2="177.50" y2="392.17" stroke="#222" stroke-width="0.5" />
<line x1="176.00" y1="420.80" x2="177.50" y2="420.80" stroke="#222" stroke-width="0.5" />
<line x1="176.00" y1="425.80" x2="177.50" y2="425.80" stroke="#222" stroke-width="0.5" />
<line x1="176.00" y1="436.80" x2="177.50" y2="436.80" stroke="#222" stroke-width="0.5" />
<line x1="176.00" y1="441.80" x2="177.50" y2="441.80" stroke="#222" stroke-width="0.5" />
<line x1="182.70" y1="454.00" x2="182.70" y2="457.00" stroke="#222" stroke-width="0.8" />
<line x1="198.30" y1="454.00" x2="198.30" y2="457.00" stroke="#222" stroke-width="0.8" />
<line x1="213.90" y1="454.00" x2="213.90" y2="457.00" stroke="#222" stroke-width="0.8" />
<line x1="239.50" y1="454.00" x2="239.50" y2="457.00" stroke="#222" stroke-width="0.8" />
<line x1="262.10" y1="454.00" x2="262.10" y2="457.00" stroke="#222" stroke-width="0.8" />
<text x="185.20" y="467.30" font-size="6.8" text-anchor="middle" fill="#222">−10<tspan font-size="4.22" dy="-2.86">3</tspan></text>
<text x="200.00" y="467.30" font-size="6.8" text-anchor="middle" fill="#222" >0</text>
<text x="214.10" y="467.30" font-size="6.8" text-anchor="middle" fill="#222">10<tspan font-size="4.22" dy="-2.86">3</tspan></text>
<text x="241.30" y="467.30" font-size="6.8" text-anchor="middle" fill="#222">10<tspan font-size="4.22" dy="-2.86">4</tspan></text>
<text x="263.50" y="467.30" font-size="6.8" text-anchor="middle" fill="#222">10<tspan font-size="4.22" dy="-2.86">5</tspan></text>
<line x1="221.61" y1="454.00" x2="221.61" y2="455.50" stroke="#222" stroke-width="0.5" />
<line x1="226.11" y1="454.00" x2="226.11" y2="455.50" stroke="#222" stroke-width="0.5" />
<line x1="229.31" y1="454.00" x2="229.31" y2="455.50" stroke="#222" stroke-width="0.5" />
<line x1="231.79" y1="454.00" x2="231.79" y2="455.50" stroke="#222" stroke-width="0.5" />
<line x1="233.82" y1="454.00" x2="233.82" y2="455.50" stroke="#222" stroke-width="0.5" />
<line x1="235.53" y1="454.00" x2="235.53" y2="455.50" stroke="#222" stroke-width="0.5" />
<line x1="237.02" y1="454.00" x2="237.02" y2="455.50" stroke="#222" stroke-width="0.5" />
<line x1="238.33" y1="454.00" x2="238.33" y2="455.50" stroke="#222" stroke-width="0.5" />
<line x1="246.30" y1="454.00" x2="246.30" y2="455.50" stroke="#222" stroke-width="0.5" />
<line x1="250.28" y1="454.00" x2="250.28" y2="455.50" stroke="#222" stroke-width="0.5" />
<line x1="253.11" y1="454.00" x2="253.11" y2="455.50" stroke="#222" stroke-width="0.5" />
<line x1="255.30" y1="454.00" x2="255.30" y2="455.50" stroke="#222" stroke-width="0.5" />
<line x1="257.09" y1="454.00" x2="257.09" y2="455.50" stroke="#222" stroke-width="0.5" />
<line x1="258.60" y1="454.00" x2="258.60" y2="455.50" stroke="#222" stroke-width="0.5" />
<line x1="259.91" y1="454.00" x2="259.91" y2="455.50" stroke="#222" stroke-width="0.5" />
<line x1="261.07" y1="454.00" x2="261.07" y2="455.50" stroke="#222" stroke-width="0.5" />
<line x1="187.50" y1="454.00" x2="187.50" y2="455.50" stroke="#222" stroke-width="0.5" />
<line x1="192.50" y1="454.00" x2="192.50" y2="455.50" stroke="#222" stroke-width="0.5" />
<line x1="203.50" y1="454.00" x2="203.50" y2="455.50" stroke="#222" stroke-width="0.5" />
<line x1="208.50" y1="454.00" x2="208.50" y2="455.50" stroke="#222" stroke-width="0.5" />
<text x="207.90" y="381.30" font-size="6.8" text-anchor="middle" fill="#222" >Low</text>
<text x="207.90" y="389.50" font-size="6.8" text-anchor="middle" fill="#222" >15.3</text>
<text x="232.40" y="381.30" font-size="6.8" text-anchor="middle" fill="#222" >Medium</text>
<text x="232.40" y="389.50" font-size="6.8" text-anchor="middle" fill="#222" >54.4</text>
<text x="256.90" y="381.30" font-size="6.8" text-anchor="middle" fill="#222" >High</text>
<text x="256.90" y="389.50" font-size="6.8" text-anchor="middle" fill="#222" >30.0</text>
<line x1="17.30" y1="427.50" x2="17.30" y2="476.80" stroke="#222" stroke-width="1.0" />
<line x1="17.30" y1="476.80" x2="68.00" y2="476.80" stroke="#222" stroke-width="1.0" />
<path d="M17.30,423.80L15.10,429.00L19.50,429.00Z" fill="#222"/>
<path d="M72.10,476.80L66.90,474.60L66.90,479.00Z" fill="#222"/>
<text transform="translate(19.90,410.50) rotate(-90)" font-size="8.8" text-anchor="middle" font-weight="bold" textLength="16.7" lengthAdjust="spacingAndGlyphs" fill="#222">FSC-H</text>
<text x="75.90" y="480.00" font-size="8.8" text-anchor="start" font-weight="bold" fill="#222" textLength="7.7" lengthAdjust="spacingAndGlyphs">Kit</text>
<line x1="150.80" y1="431.50" x2="150.80" y2="475.70" stroke="#222" stroke-width="1.0" />
<line x1="150.80" y1="475.70" x2="201.00" y2="475.70" stroke="#222" stroke-width="1.0" />
<path d="M150.80,427.50L148.60,432.70L153.00,432.70Z" fill="#222"/>
<path d="M205.00,475.70L199.80,473.50L199.80,477.90Z" fill="#222"/>
<text transform="translate(153.10,413.90) rotate(-90)" font-size="8.8" text-anchor="middle" font-weight="bold" textLength="16.7" lengthAdjust="spacingAndGlyphs" fill="#222">FSC-H</text>
<text x="209.30" y="479.00" font-size="8.8" text-anchor="start" font-weight="bold" fill="#222" textLength="14.4" lengthAdjust="spacingAndGlyphs">CD71</text>
<text x="291.00" y="354.60" font-size="12" text-anchor="start" font-weight="bold" fill="#111" style="stroke:#111;stroke-width:0.45px">F</text>
<rect x="311.60" y="358.60" width="96.00" height="95.40" fill="none" stroke="#1a1a1a" stroke-width="1.0" />
<rect x="330.80" y="454.00" width="3.60" height="2.20" fill="#111" stroke="none" stroke-width="0.8" />
<line x1="316.80" y1="454.00" x2="316.80" y2="457.00" stroke="#222" stroke-width="0.8" />
<line x1="332.40" y1="454.00" x2="332.40" y2="457.00" stroke="#222" stroke-width="0.8" />
<line x1="348.00" y1="454.00" x2="348.00" y2="457.00" stroke="#222" stroke-width="0.8" />
<line x1="373.60" y1="454.00" x2="373.60" y2="457.00" stroke="#222" stroke-width="0.8" />
<line x1="396.20" y1="454.00" x2="396.20" y2="457.00" stroke="#222" stroke-width="0.8" />
<text x="319.30" y="467.30" font-size="6.8" text-anchor="middle" fill="#222">−10<tspan font-size="4.22" dy="-2.86">3</tspan></text>
<text x="334.10" y="467.30" font-size="6.8" text-anchor="middle" fill="#222" >0</text>
<text x="348.20" y="467.30" font-size="6.8" text-anchor="middle" fill="#222">10<tspan font-size="4.22" dy="-2.86">3</tspan></text>
<text x="375.40" y="467.30" font-size="6.8" text-anchor="middle" fill="#222">10<tspan font-size="4.22" dy="-2.86">4</tspan></text>
<text x="397.60" y="467.30" font-size="6.8" text-anchor="middle" fill="#222">10<tspan font-size="4.22" dy="-2.86">5</tspan></text>
<line x1="355.71" y1="454.00" x2="355.71" y2="455.50" stroke="#222" stroke-width="0.5" />
<line x1="360.21" y1="454.00" x2="360.21" y2="455.50" stroke="#222" stroke-width="0.5" />
<line x1="363.41" y1="454.00" x2="363.41" y2="455.50" stroke="#222" stroke-width="0.5" />
<line x1="365.89" y1="454.00" x2="365.89" y2="455.50" stroke="#222" stroke-width="0.5" />
<line x1="367.92" y1="454.00" x2="367.92" y2="455.50" stroke="#222" stroke-width="0.5" />
<line x1="369.63" y1="454.00" x2="369.63" y2="455.50" stroke="#222" stroke-width="0.5" />
<line x1="371.12" y1="454.00" x2="371.12" y2="455.50" stroke="#222" stroke-width="0.5" />
<line x1="372.43" y1="454.00" x2="372.43" y2="455.50" stroke="#222" stroke-width="0.5" />
<line x1="380.40" y1="454.00" x2="380.40" y2="455.50" stroke="#222" stroke-width="0.5" />
<line x1="384.38" y1="454.00" x2="384.38" y2="455.50" stroke="#222" stroke-width="0.5" />
<line x1="387.21" y1="454.00" x2="387.21" y2="455.50" stroke="#222" stroke-width="0.5" />
<line x1="389.40" y1="454.00" x2="389.40" y2="455.50" stroke="#222" stroke-width="0.5" />
<line x1="391.19" y1="454.00" x2="391.19" y2="455.50" stroke="#222" stroke-width="0.5" />
<line x1="392.70" y1="454.00" x2="392.70" y2="455.50" stroke="#222" stroke-width="0.5" />
<line x1="394.01" y1="454.00" x2="394.01" y2="455.50" stroke="#222" stroke-width="0.5" />
<line x1="395.17" y1="454.00" x2="395.17" y2="455.50" stroke="#222" stroke-width="0.5" />
<line x1="321.60" y1="454.00" x2="321.60" y2="455.50" stroke="#222" stroke-width="0.5" />
<line x1="326.60" y1="454.00" x2="326.60" y2="455.50" stroke="#222" stroke-width="0.5" />
<line x1="337.60" y1="454.00" x2="337.60" y2="455.50" stroke="#222" stroke-width="0.5" />
<line x1="342.60" y1="454.00" x2="342.60" y2="455.50" stroke="#222" stroke-width="0.5" />
<text x="337.70" y="366.90" font-size="6.6" text-anchor="start" fill="#222" >Kit<tspan font-size="4" dy="-2.6">+</tspan><tspan dy="2.6"> CD71</tspan><tspan font-size="3.6" dy="-2.6">medium</tspan></text>
<text transform="translate(307.30,406.50) rotate(-90)" font-size="8" text-anchor="middle" font-weight="bold" textLength="28" lengthAdjust="spacingAndGlyphs" fill="#222">Cell count</text>
<text x="359.30" y="480.20" font-size="7.6" text-anchor="middle" font-weight="bold" fill="#222" textLength="92.5" lengthAdjust="spacingAndGlyphs">Phospho-ERK (pThr202/pTyr204)</text>
<path d="M326.0,453.3 326.7,453.1 327.4,452.9 328.1,452.6 328.8,452.2 329.5,451.7 330.2,450.6 330.9,450.1 331.6,449.2 332.3,447.1 333.0,445.4 333.7,442.0 334.4,437.9 335.1,435.8 335.8,432.0 336.5,426.8 337.2,422.4 337.9,418.0 338.6,414.4 339.3,409.5 340.0,405.3 340.7,404.0 341.4,401.2 342.1,401.2 342.8,400.6 343.5,401.3 344.2,400.5 344.9,402.2 345.6,402.1 346.3,403.5 347.0,405.3 347.7,409.0 348.4,409.3 349.1,411.0 349.8,413.1 350.5,416.7 351.2,418.2 351.9,421.0 352.6,423.2 353.3,424.0 354.0,427.8 354.7,429.4 355.4,430.7 356.1,433.9 356.8,435.4 357.5,436.9 358.2,438.5 358.9,441.0 359.6,441.2 360.3,441.4 361.0,444.7 361.7,443.6 362.4,445.0 363.1,446.2 363.8,444.6 364.5,446.0 365.2,447.9 365.9,447.1 366.6,446.9 367.3,447.7 368.0,447.1 368.7,447.8 369.4,447.2 370.1,446.7 370.8,448.5 371.5,447.8 372.2,448.5 372.9,448.1 373.6,449.4 374.3,449.1 375.0,449.1 375.7,448.5 376.4,448.7 377.1,451.0 377.8,450.9 378.5,450.2 379.2,452.6 379.9,451.7 380.6,451.8 381.3,451.0 382.0,452.2 382.7,452.5 383.4,452.7 384.1,452.8 384.8,453.0 385.5,453.1 386.2,453.2 386.9,453.3 387.6,453.3 388.3,453.4 389.0,453.4 389.7,453.4 390.4,453.5 391.1,453.5 391.8,453.5 392.5,453.5 393.2,453.5 393.9,453.5 394.6,453.5 395.3,453.5 396.0,453.5 396.7,453.5 397.4,453.5 398.1,453.5 398.8,453.5 399.5,453.5 400.2,453.5 400.9,453.5 401.6,453.5" fill="none" stroke="#bdbdc4" stroke-width="0.8" stroke-dasharray="3,1.5"/>
<path d="M326.0,453.5 326.7,453.5 327.4,453.5 328.1,453.4 328.8,453.4 329.5,453.3 330.2,453.3 330.9,453.1 331.6,452.9 332.3,452.6 333.0,452.2 333.7,451.1 334.4,451.1 335.1,450.1 335.8,448.6 336.5,445.5 337.2,445.0 337.9,442.3 338.6,438.8 339.3,435.8 340.0,432.1 340.7,428.8 341.4,423.7 342.1,419.8 342.8,414.4 343.5,411.0 344.2,408.3 344.9,405.2 345.6,404.2 346.3,402.2 347.0,403.1 347.7,403.1 348.4,405.7 349.1,406.0 349.8,409.6 350.5,412.2 351.2,413.4 351.9,416.7 352.6,418.7 353.3,419.9 354.0,425.2 354.7,427.7 355.4,429.6 356.1,431.6 356.8,434.2 357.5,436.0 358.2,436.7 358.9,438.1 359.6,440.3 360.3,440.2 361.0,440.6 361.7,441.8 362.4,440.9 363.1,441.7 363.8,440.1 364.5,440.4 365.2,440.0 365.9,439.9 366.6,438.7 367.3,439.3 368.0,437.5 368.7,434.9 369.4,435.4 370.1,431.2 370.8,431.3 371.5,427.1 372.2,426.0 372.9,422.0 373.6,419.8 374.3,418.3 375.0,413.2 375.7,410.3 376.4,408.8 377.1,406.5 377.8,404.2 378.5,403.0 379.2,400.0 379.9,400.5 380.6,399.7 381.3,400.6 382.0,401.5 382.7,403.8 383.4,404.3 384.1,408.5 384.8,411.1 385.5,415.8 386.2,420.4 386.9,424.2 387.6,428.4 388.3,431.7 389.0,435.6 389.7,438.7 390.4,442.4 391.1,444.4 391.8,444.6 392.5,448.2 393.2,449.9 393.9,449.9 394.6,449.9 395.3,452.9 396.0,452.2 396.7,452.6 397.4,452.9 398.1,453.1 398.8,453.2 399.5,453.3 400.2,453.4 400.9,453.4 401.6,453.5" fill="none" stroke="#a9a9b0" stroke-width="0.8"/>
<path d="M326.0,453.3 326.7,453.2 327.4,453.1 328.1,452.9 328.8,452.6 329.5,452.1 330.2,451.7 330.9,451.2 331.6,451.0 332.3,447.6 333.0,446.5 333.7,444.2 334.4,442.3 335.1,438.2 335.8,435.5 336.5,431.3 337.2,427.9 337.9,423.6 338.6,417.1 339.3,414.4 340.0,409.8 340.7,406.7 341.4,404.4 342.1,402.7 342.8,401.0 343.5,401.8 344.2,402.0 344.9,402.5 345.6,402.4 346.3,404.0 347.0,405.6 347.7,407.9 348.4,410.3 349.1,410.3 349.8,412.4 350.5,415.4 351.2,417.1 351.9,419.1 352.6,421.4 353.3,423.5 354.0,426.9 354.7,427.4 355.4,431.7 356.1,432.0 356.8,434.2 357.5,435.6 358.2,436.4 358.9,438.2 359.6,441.6 360.3,443.2 361.0,442.3 361.7,444.6 362.4,444.6 363.1,444.6 363.8,447.1 364.5,447.9 365.2,446.4 365.9,446.9 366.6,447.3 367.3,447.3 368.0,448.1 368.7,448.8 369.4,447.8 370.1,448.5 370.8,449.2 371.5,447.5 372.2,448.1 372.9,447.9 373.6,449.2 374.3,449.2 375.0,449.7 375.7,449.9 376.4,449.4 377.1,450.6 377.8,450.0 378.5,450.4 379.2,449.4 379.9,452.5 380.6,451.0 381.3,452.1 382.0,452.2 382.7,452.5 383.4,452.7 384.1,452.8 384.8,453.0 385.5,453.1 386.2,453.2 386.9,453.3 387.6,453.3 388.3,453.4 389.0,453.4 389.7,453.4 390.4,453.5 391.1,453.5 391.8,453.5 392.5,453.5 393.2,453.5 393.9,453.5 394.6,453.5 395.3,453.5 396.0,453.5 396.7,453.5 397.4,453.5 398.1,453.5 398.8,453.5 399.5,453.5 400.2,453.5 400.9,453.5 401.6,453.5" fill="none" stroke="#6d66b8" stroke-width="0.8" stroke-dasharray="3,1.5"/>
<path d="M326.0,453.5 326.7,453.5 327.4,453.5 328.1,453.5 328.8,453.4 329.5,453.4 330.2,453.3 330.9,453.2 331.6,453.1 332.3,452.8 333.0,452.5 333.7,452.0 334.4,451.4 335.1,451.7 335.8,449.8 336.5,447.4 337.2,446.2 337.9,443.9 338.6,441.5 339.3,437.3 340.0,434.7 340.7,432.6 341.4,427.3 342.1,424.0 342.8,420.8 343.5,414.6 344.2,409.4 344.9,407.3 345.6,405.9 346.3,404.2 347.0,401.9 347.7,402.8 348.4,403.5 349.1,404.6 349.8,405.9 350.5,407.0 351.2,409.3 351.9,411.9 352.6,415.3 353.3,416.6 354.0,420.1 354.7,421.3 355.4,425.6 356.1,427.0 356.8,429.1 357.5,432.1 358.2,431.4 358.9,433.1 359.6,435.9 360.3,436.0 361.0,437.3 361.7,440.4 362.4,438.7 363.1,439.4 363.8,439.6 364.5,440.7 365.2,440.2 365.9,440.2 366.6,439.1 367.3,439.7 368.0,439.8 368.7,438.4 369.4,439.7 370.1,439.1 370.8,439.6 371.5,436.1 372.2,435.7 372.9,434.7 373.6,433.6 374.3,432.7 375.0,431.1 375.7,429.8 376.4,428.0 377.1,426.1 377.8,423.2 378.5,422.3 379.2,421.2 379.9,420.3 380.6,419.2 381.3,416.6 382.0,417.0 382.7,417.2 383.4,417.8 384.1,419.2 384.8,419.7 385.5,420.7 386.2,423.8 386.9,426.1 387.6,428.7 388.3,431.2 389.0,435.3 389.7,436.9 390.4,439.9 391.1,440.9 391.8,444.3 392.5,445.1 393.2,446.0 393.9,448.8 394.6,450.2 395.3,450.5 396.0,451.3 396.7,452.7 397.4,452.4 398.1,452.7 398.8,452.9 399.5,453.1 400.2,453.2 400.9,453.3 401.6,453.4" fill="none" stroke="#5d56a8" stroke-width="0.9"/>
<line x1="419.6" y1="387.7" x2="430.7" y2="387.7" stroke="#bdbdc4" stroke-width="0.9" stroke-dasharray="3,2.5"/>
<text x="432.30" y="390.10" font-size="7" text-anchor="start" fill="#222" >sgControl</text>
<line x1="419.6" y1="397.4" x2="430.7" y2="397.4" stroke="#a9a9b0" stroke-width="0.9"/>
<text x="432.30" y="399.80" font-size="7" text-anchor="start" fill="#222" >sgControl +SCF</text>
<line x1="419.6" y1="407.3" x2="430.7" y2="407.3" stroke="#6d66b8" stroke-width="0.9" stroke-dasharray="3,2.5"/>
<text x="432.30" y="409.70" font-size="7" text-anchor="start" fill="#222" >sg<tspan font-style="italic">SAMD1</tspan></text>
<line x1="419.6" y1="417.0" x2="430.7" y2="417.0" stroke="#5d56a8" stroke-width="0.9"/>
<text x="432.30" y="419.40" font-size="7" text-anchor="start" fill="#222" >sg<tspan font-style="italic">SAMD1</tspan> +SCF</text>
<text x="8.50" y="509.60" font-size="12" text-anchor="start" font-weight="bold" fill="#111" style="stroke:#111;stroke-width:0.45px">G</text>
<rect x="52.70" y="635.03" width="15.20" height="3.17" fill="#c8c6cb" stroke="none" stroke-width="0.8" />
<circle cx="54.80" cy="635.09" r="2.5" fill="#111"/>
<circle cx="58.30" cy="635.09" r="2.5" fill="#111"/>
<circle cx="62.30" cy="635.09" r="2.5" fill="#111"/>
<circle cx="65.80" cy="635.09" r="2.5" fill="#111"/>
<rect x="74.10" y="586.82" width="15.20" height="51.38" fill="#c8c6cb" stroke="none" stroke-width="0.8" />
<line x1="81.70" y1="559.00" x2="81.70" y2="603.41" stroke="#222" stroke-width="0.9" />
<line x1="76.10" y1="559.00" x2="87.30" y2="559.00" stroke="#222" stroke-width="0.9" />
<line x1="76.10" y1="603.41" x2="87.30" y2="603.41" stroke="#222" stroke-width="0.9" />
<circle cx="81.70" cy="553.87" r="2.5" fill="#111"/>
<circle cx="76.80" cy="565.80" r="2.5" fill="#111"/>
<circle cx="86.20" cy="565.80" r="2.5" fill="#111"/>
<circle cx="81.70" cy="572.71" r="2.5" fill="#111"/>
<circle cx="77.20" cy="585.38" r="2.5" fill="#111"/>
<circle cx="86.20" cy="581.92" r="2.5" fill="#111"/>
<circle cx="81.70" cy="600.01" r="2.5" fill="#111"/>
<circle cx="81.70" cy="622.59" r="2.5" fill="#111"/>
<rect x="95.40" y="635.03" width="15.20" height="3.17" fill="#8d84c3" stroke="none" stroke-width="0.8" />
<circle cx="97.50" cy="635.09" r="2.5" fill="#111"/>
<circle cx="101.00" cy="635.09" r="2.5" fill="#111"/>
<circle cx="105.00" cy="635.09" r="2.5" fill="#111"/>
<circle cx="108.50" cy="635.09" r="2.5" fill="#111"/>
<rect x="116.60" y="598.51" width="15.20" height="39.69" fill="#8d84c3" stroke="none" stroke-width="0.8" />
<line x1="124.20" y1="578.01" x2="124.20" y2="616.08" stroke="#222" stroke-width="0.9" />
<line x1="118.60" y1="578.01" x2="129.80" y2="578.01" stroke="#222" stroke-width="0.9" />
<line x1="118.60" y1="616.08" x2="129.80" y2="616.08" stroke="#222" stroke-width="0.9" />
<circle cx="124.20" cy="564.18" r="2.5" fill="#111"/>
<circle cx="124.20" cy="582.79" r="2.5" fill="#111"/>
<circle cx="124.20" cy="589.70" r="2.5" fill="#111"/>
<circle cx="119.90" cy="596.50" r="2.5" fill="#111"/>
<circle cx="129.10" cy="598.92" r="2.5" fill="#111"/>
<circle cx="119.90" cy="602.78" r="2.5" fill="#111"/>
<circle cx="124.20" cy="613.78" r="2.5" fill="#111"/>
<circle cx="124.20" cy="627.77" r="2.5" fill="#111"/>
<line x1="48.60" y1="520.20" x2="48.60" y2="638.70" stroke="#222" stroke-width="1.0" />
<line x1="48.10" y1="638.20" x2="140.20" y2="638.20" stroke="#222" stroke-width="1.0" />
<line x1="45.60" y1="638.20" x2="48.60" y2="638.20" stroke="#222" stroke-width="0.8" />
<text x="41.80" y="641.10" font-size="6.9" text-anchor="end" fill="#222" >0</text>
<line x1="45.60" y1="609.40" x2="48.60" y2="609.40" stroke="#222" stroke-width="0.8" />
<text x="41.80" y="612.30" font-size="6.9" text-anchor="end" fill="#222" >50</text>
<line x1="45.60" y1="580.60" x2="48.60" y2="580.60" stroke="#222" stroke-width="0.8" />
<text x="41.80" y="583.50" font-size="6.9" text-anchor="end" fill="#222" >100</text>
<line x1="45.60" y1="551.80" x2="48.60" y2="551.80" stroke="#222" stroke-width="0.8" />
<text x="41.80" y="554.70" font-size="6.9" text-anchor="end" fill="#222" >150</text>
<line x1="45.60" y1="523.00" x2="48.60" y2="523.00" stroke="#222" stroke-width="0.8" />
<text x="41.80" y="525.90" font-size="6.9" text-anchor="end" fill="#222" >200</text>
<line x1="60.30" y1="638.20" x2="60.30" y2="641.20" stroke="#222" stroke-width="0.8" />
<text x="60.30" y="650.80" font-size="6.5" text-anchor="middle" fill="#222" >–</text>
<line x1="81.70" y1="638.20" x2="81.70" y2="641.20" stroke="#222" stroke-width="0.8" />
<text x="81.70" y="650.80" font-size="6.5" text-anchor="middle" fill="#222" >+</text>
<line x1="103.00" y1="638.20" x2="103.00" y2="641.20" stroke="#222" stroke-width="0.8" />
<text x="103.00" y="650.80" font-size="6.5" text-anchor="middle" fill="#222" >–</text>
<line x1="124.20" y1="638.20" x2="124.20" y2="641.20" stroke="#222" stroke-width="0.8" />
<text x="124.20" y="650.80" font-size="6.5" text-anchor="middle" fill="#222" >+</text>
<text x="26.00" y="650.80" font-size="6.5" text-anchor="start" fill="#222" >SCF:</text>
<text x="79.00" y="515.80" font-size="9" text-anchor="start" style="stroke:none" fill="#222" >CD71<tspan font-size="5" dy="-3.5">low</tspan></text>
<path d="M62.50,551.50V546.60H81.70V549.50" fill="none" stroke="#222" stroke-width="0.95"/>
<text x="72.10" y="544.90" font-size="6.5" text-anchor="middle" fill="#222" >****</text>
<path d="M105.60,559.40V554.50H124.50V559.40" fill="none" stroke="#222" stroke-width="0.95"/>
<text x="115.05" y="552.60" font-size="6.5" text-anchor="middle" fill="#222" >****</text>
<path d="M81.70,535.90V529.80H124.50V535.90" fill="none" stroke="#222" stroke-width="0.95"/>
<text x="103.10" y="527.50" font-size="6.5" text-anchor="middle" fill="#222" >ns</text>
<rect x="194.55" y="630.71" width="15.50" height="8.09" fill="#c8c6cb" stroke="none" stroke-width="0.8" />
<circle cx="197.00" cy="630.71" r="2.5" fill="#111"/>
<circle cx="200.50" cy="630.71" r="2.5" fill="#111"/>
<circle cx="204.10" cy="630.71" r="2.5" fill="#111"/>
<circle cx="207.60" cy="630.93" r="2.5" fill="#111"/>
<rect x="216.65" y="572.76" width="15.50" height="66.04" fill="#c8c6cb" stroke="none" stroke-width="0.8" />
<line x1="224.40" y1="553.17" x2="224.40" y2="588.20" stroke="#222" stroke-width="0.9" />
<line x1="218.80" y1="553.17" x2="230.00" y2="553.17" stroke="#222" stroke-width="0.9" />
<line x1="218.80" y1="588.20" x2="230.00" y2="588.20" stroke="#222" stroke-width="0.9" />
<circle cx="218.90" cy="553.40" r="2.5" fill="#111"/>
<circle cx="228.80" cy="556.66" r="2.5" fill="#111"/>
<circle cx="218.90" cy="561.34" r="2.5" fill="#111"/>
<circle cx="228.80" cy="562.37" r="2.5" fill="#111"/>
<circle cx="218.90" cy="578.92" r="2.5" fill="#111"/>
<circle cx="228.80" cy="579.37" r="2.5" fill="#111"/>
<circle cx="223.90" cy="604.67" r="2.5" fill="#111"/>
<rect x="237.25" y="631.23" width="15.50" height="7.57" fill="#8d84c3" stroke="none" stroke-width="0.8" />
<circle cx="239.70" cy="631.23" r="2.5" fill="#111"/>
<circle cx="243.20" cy="631.23" r="2.5" fill="#111"/>
<circle cx="246.80" cy="631.23" r="2.5" fill="#111"/>
<circle cx="250.30" cy="631.45" r="2.5" fill="#111"/>
<rect x="259.15" y="605.19" width="15.50" height="33.61" fill="#8d84c3" stroke="none" stroke-width="0.8" />
<line x1="266.90" y1="588.20" x2="266.90" y2="619.80" stroke="#222" stroke-width="0.9" />
<line x1="261.30" y1="588.20" x2="272.50" y2="588.20" stroke="#222" stroke-width="0.9" />
<line x1="261.30" y1="619.80" x2="272.50" y2="619.80" stroke="#222" stroke-width="0.9" />
<circle cx="261.90" cy="581.59" r="2.5" fill="#111"/>
<circle cx="270.80" cy="580.70" r="2.5" fill="#111"/>
<circle cx="260.30" cy="608.53" r="2.5" fill="#111"/>
<circle cx="271.30" cy="611.12" r="2.5" fill="#111"/>
<circle cx="265.80" cy="613.28" r="2.5" fill="#111"/>
<circle cx="260.30" cy="617.21" r="2.5" fill="#111"/>
<circle cx="271.30" cy="617.21" r="2.5" fill="#111"/>
<line x1="188.80" y1="525.00" x2="188.80" y2="639.30" stroke="#222" stroke-width="1.0" />
<line x1="188.30" y1="638.80" x2="274.50" y2="638.80" stroke="#222" stroke-width="1.0" />
<line x1="185.80" y1="638.80" x2="188.80" y2="638.80" stroke="#222" stroke-width="0.8" />
<text x="182.00" y="641.70" font-size="6.9" text-anchor="end" fill="#222" >0</text>
<line x1="185.80" y1="601.70" x2="188.80" y2="601.70" stroke="#222" stroke-width="0.8" />
<text x="182.00" y="604.60" font-size="6.9" text-anchor="end" fill="#222" >50</text>
<line x1="185.80" y1="564.60" x2="188.80" y2="564.60" stroke="#222" stroke-width="0.8" />
<text x="182.00" y="567.50" font-size="6.9" text-anchor="end" fill="#222" >100</text>
<line x1="185.80" y1="527.50" x2="188.80" y2="527.50" stroke="#222" stroke-width="0.8" />
<text x="182.00" y="530.40" font-size="6.9" text-anchor="end" fill="#222" >150</text>
<line x1="202.30" y1="638.80" x2="202.30" y2="641.80" stroke="#222" stroke-width="0.8" />
<text x="202.30" y="650.80" font-size="6.5" text-anchor="middle" fill="#222" >–</text>
<line x1="224.40" y1="638.80" x2="224.40" y2="641.80" stroke="#222" stroke-width="0.8" />
<text x="224.40" y="650.80" font-size="6.5" text-anchor="middle" fill="#222" >+</text>
<line x1="245.00" y1="638.80" x2="245.00" y2="641.80" stroke="#222" stroke-width="0.8" />
<text x="245.00" y="650.80" font-size="6.5" text-anchor="middle" fill="#222" >–</text>
<line x1="266.90" y1="638.80" x2="266.90" y2="641.80" stroke="#222" stroke-width="0.8" />
<text x="266.90" y="650.80" font-size="6.5" text-anchor="middle" fill="#222" >+</text>
<text x="166.20" y="650.80" font-size="6.5" text-anchor="start" fill="#222" >SCF:</text>
<text x="214.70" y="515.80" font-size="9" text-anchor="start" style="stroke:none" fill="#222" >CD71<tspan font-size="5" dy="-3.5">medium</tspan></text>
<path d="M200.30,549.50V543.80H223.90V549.50" fill="none" stroke="#222" stroke-width="0.95"/>
<text x="212.10" y="542.00" font-size="6.5" text-anchor="middle" fill="#222" >****</text>
<path d="M245.00,576.10V571.30H266.20V576.10" fill="none" stroke="#222" stroke-width="0.95"/>
<text x="255.60" y="569.50" font-size="6.5" text-anchor="middle" fill="#222" >***</text>
<path d="M223.90,534.70V527.70H266.20V534.70" fill="none" stroke="#222" stroke-width="0.95"/>
<text x="245.05" y="525.50" font-size="6.5" text-anchor="middle" fill="#222" >**</text>
<rect x="335.20" y="614.82" width="15.20" height="23.68" fill="#c8c6cb" stroke="none" stroke-width="0.8" />
<line x1="342.80" y1="602.74" x2="342.80" y2="626.12" stroke="#222" stroke-width="0.9" />
<line x1="337.20" y1="602.74" x2="348.40" y2="602.74" stroke="#222" stroke-width="0.9" />
<line x1="337.20" y1="626.12" x2="348.40" y2="626.12" stroke="#222" stroke-width="0.9" />
<circle cx="343.10" cy="600.03" r="2.5" fill="#111"/>
<circle cx="336.30" cy="606.77" r="2.5" fill="#111"/>
<circle cx="343.10" cy="606.77" r="2.5" fill="#111"/>
<circle cx="348.80" cy="606.77" r="2.5" fill="#111"/>
<circle cx="336.30" cy="626.12" r="2.5" fill="#111"/>
<circle cx="340.80" cy="626.12" r="2.5" fill="#111"/>
<circle cx="345.40" cy="626.12" r="2.5" fill="#111"/>
<circle cx="348.80" cy="626.12" r="2.5" fill="#111"/>
<rect x="356.80" y="571.08" width="15.20" height="67.42" fill="#c8c6cb" stroke="none" stroke-width="0.8" />
<line x1="364.40" y1="551.81" x2="364.40" y2="585.87" stroke="#222" stroke-width="0.9" />
<line x1="358.80" y1="551.81" x2="370.00" y2="551.81" stroke="#222" stroke-width="0.9" />
<line x1="358.80" y1="585.87" x2="370.00" y2="585.87" stroke="#222" stroke-width="0.9" />
<circle cx="358.50" cy="552.12" r="2.5" fill="#111"/>
<circle cx="369.80" cy="554.44" r="2.5" fill="#111"/>
<circle cx="364.60" cy="559.55" r="2.5" fill="#111"/>
<circle cx="364.60" cy="566.36" r="2.5" fill="#111"/>
<circle cx="358.50" cy="570.93" r="2.5" fill="#111"/>
<circle cx="369.80" cy="574.80" r="2.5" fill="#111"/>
<circle cx="364.60" cy="601.58" r="2.5" fill="#111"/>
<rect x="378.20" y="617.99" width="15.20" height="20.51" fill="#8d84c3" stroke="none" stroke-width="0.8" />
<line x1="385.80" y1="609.48" x2="385.80" y2="625.81" stroke="#222" stroke-width="0.9" />
<line x1="380.20" y1="609.48" x2="391.40" y2="609.48" stroke="#222" stroke-width="0.9" />
<line x1="380.20" y1="625.81" x2="391.40" y2="625.81" stroke="#222" stroke-width="0.9" />
<circle cx="381.50" cy="609.48" r="2.5" fill="#111"/>
<circle cx="389.50" cy="609.48" r="2.5" fill="#111"/>
<circle cx="386.10" cy="613.50" r="2.5" fill="#111"/>
<circle cx="380.40" cy="625.81" r="2.5" fill="#111"/>
<circle cx="386.10" cy="625.81" r="2.5" fill="#111"/>
<circle cx="391.70" cy="625.81" r="2.5" fill="#111"/>
<rect x="399.70" y="585.09" width="15.20" height="53.41" fill="#8d84c3" stroke="none" stroke-width="0.8" />
<line x1="407.30" y1="564.74" x2="407.30" y2="602.90" stroke="#222" stroke-width="0.9" />
<line x1="401.70" y1="564.74" x2="412.90" y2="564.74" stroke="#222" stroke-width="0.9" />
<line x1="401.70" y1="602.90" x2="412.90" y2="602.90" stroke="#222" stroke-width="0.9" />
<circle cx="406.90" cy="557.31" r="2.5" fill="#111"/>
<circle cx="403.00" cy="576.27" r="2.5" fill="#111"/>
<circle cx="409.80" cy="576.27" r="2.5" fill="#111"/>
<circle cx="407.60" cy="594.38" r="2.5" fill="#111"/>
<circle cx="403.00" cy="601.89" r="2.5" fill="#111"/>
<circle cx="409.80" cy="601.89" r="2.5" fill="#111"/>
<circle cx="407.60" cy="609.78" r="2.5" fill="#111"/>
<line x1="329.40" y1="520.00" x2="329.40" y2="639.00" stroke="#222" stroke-width="1.0" />
<line x1="328.90" y1="638.50" x2="422.00" y2="638.50" stroke="#222" stroke-width="1.0" />
<line x1="326.40" y1="638.50" x2="329.40" y2="638.50" stroke="#222" stroke-width="0.8" />
<text x="322.60" y="641.40" font-size="6.9" text-anchor="end" fill="#222" >0</text>
<line x1="326.40" y1="599.80" x2="329.40" y2="599.80" stroke="#222" stroke-width="0.8" />
<text x="322.60" y="602.70" font-size="6.9" text-anchor="end" fill="#222" >50</text>
<line x1="326.40" y1="561.10" x2="329.40" y2="561.10" stroke="#222" stroke-width="0.8" />
<text x="322.60" y="564.00" font-size="6.9" text-anchor="end" fill="#222" >100</text>
<line x1="326.40" y1="522.40" x2="329.40" y2="522.40" stroke="#222" stroke-width="0.8" />
<text x="322.60" y="525.30" font-size="6.9" text-anchor="end" fill="#222" >150</text>
<line x1="342.80" y1="638.50" x2="342.80" y2="641.50" stroke="#222" stroke-width="0.8" />
<text x="342.80" y="650.80" font-size="6.5" text-anchor="middle" fill="#222" >–</text>
<line x1="364.40" y1="638.50" x2="364.40" y2="641.50" stroke="#222" stroke-width="0.8" />
<text x="364.40" y="650.80" font-size="6.5" text-anchor="middle" fill="#222" >+</text>
<line x1="385.80" y1="638.50" x2="385.80" y2="641.50" stroke="#222" stroke-width="0.8" />
<text x="385.80" y="650.80" font-size="6.5" text-anchor="middle" fill="#222" >–</text>
<line x1="407.30" y1="638.50" x2="407.30" y2="641.50" stroke="#222" stroke-width="0.8" />
<text x="407.30" y="650.80" font-size="6.5" text-anchor="middle" fill="#222" >+</text>
<text x="307.50" y="650.80" font-size="6.5" text-anchor="start" fill="#222" >SCF:</text>
<text x="358.00" y="515.80" font-size="9" text-anchor="start" style="stroke:none" fill="#222" >CD71<tspan font-size="5" dy="-3.5">high</tspan></text>
<path d="M341.30,550.30V544.40H364.60V550.30" fill="none" stroke="#222" stroke-width="0.95"/>
<text x="352.95" y="542.60" font-size="6.5" text-anchor="middle" fill="#222" >****</text>
<path d="M385.00,554.10V548.90H406.90V554.10" fill="none" stroke="#222" stroke-width="0.95"/>
<text x="395.95" y="547.30" font-size="6.5" text-anchor="middle" fill="#222" >**</text>
<path d="M364.60,535.30V529.90H406.90V535.30" fill="none" stroke="#222" stroke-width="0.95"/>
<text x="385.75" y="527.60" font-size="6.5" text-anchor="middle" fill="#222" >ns</text>
<text transform="translate(23.40,580.10) rotate(-90)" font-size="6.4" text-anchor="middle" font-weight="bold" textLength="51.6" lengthAdjust="spacingAndGlyphs" fill="#222">pERK (%max MFI)</text>
<text transform="translate(164.00,582.20) rotate(-90)" font-size="6.4" text-anchor="middle" font-weight="bold" textLength="51.6" lengthAdjust="spacingAndGlyphs" fill="#222">pERK (%max MFI)</text>
<text transform="translate(304.00,579.20) rotate(-90)" font-size="6.4" text-anchor="middle" font-weight="bold" textLength="51.6" lengthAdjust="spacingAndGlyphs" fill="#222">pERK (%max MFI)</text>
<circle cx="430.3" cy="533.6" r="3.1" fill="#c8c6cb"/>
<circle cx="430.3" cy="542.9" r="3.1" fill="#8d84c3"/>
<text x="436.20" y="536.10" font-size="7" text-anchor="start" fill="#222" >sgControl</text>
<text x="436.20" y="545.40" font-size="7" text-anchor="start" fill="#222" >sg<tspan font-style="italic">SAMD1</tspan></text>
<rect x="0.5" y="0.5" width="519" height="658" fill="none" stroke="#505050" stroke-width="1"/>
</svg></body></html>
